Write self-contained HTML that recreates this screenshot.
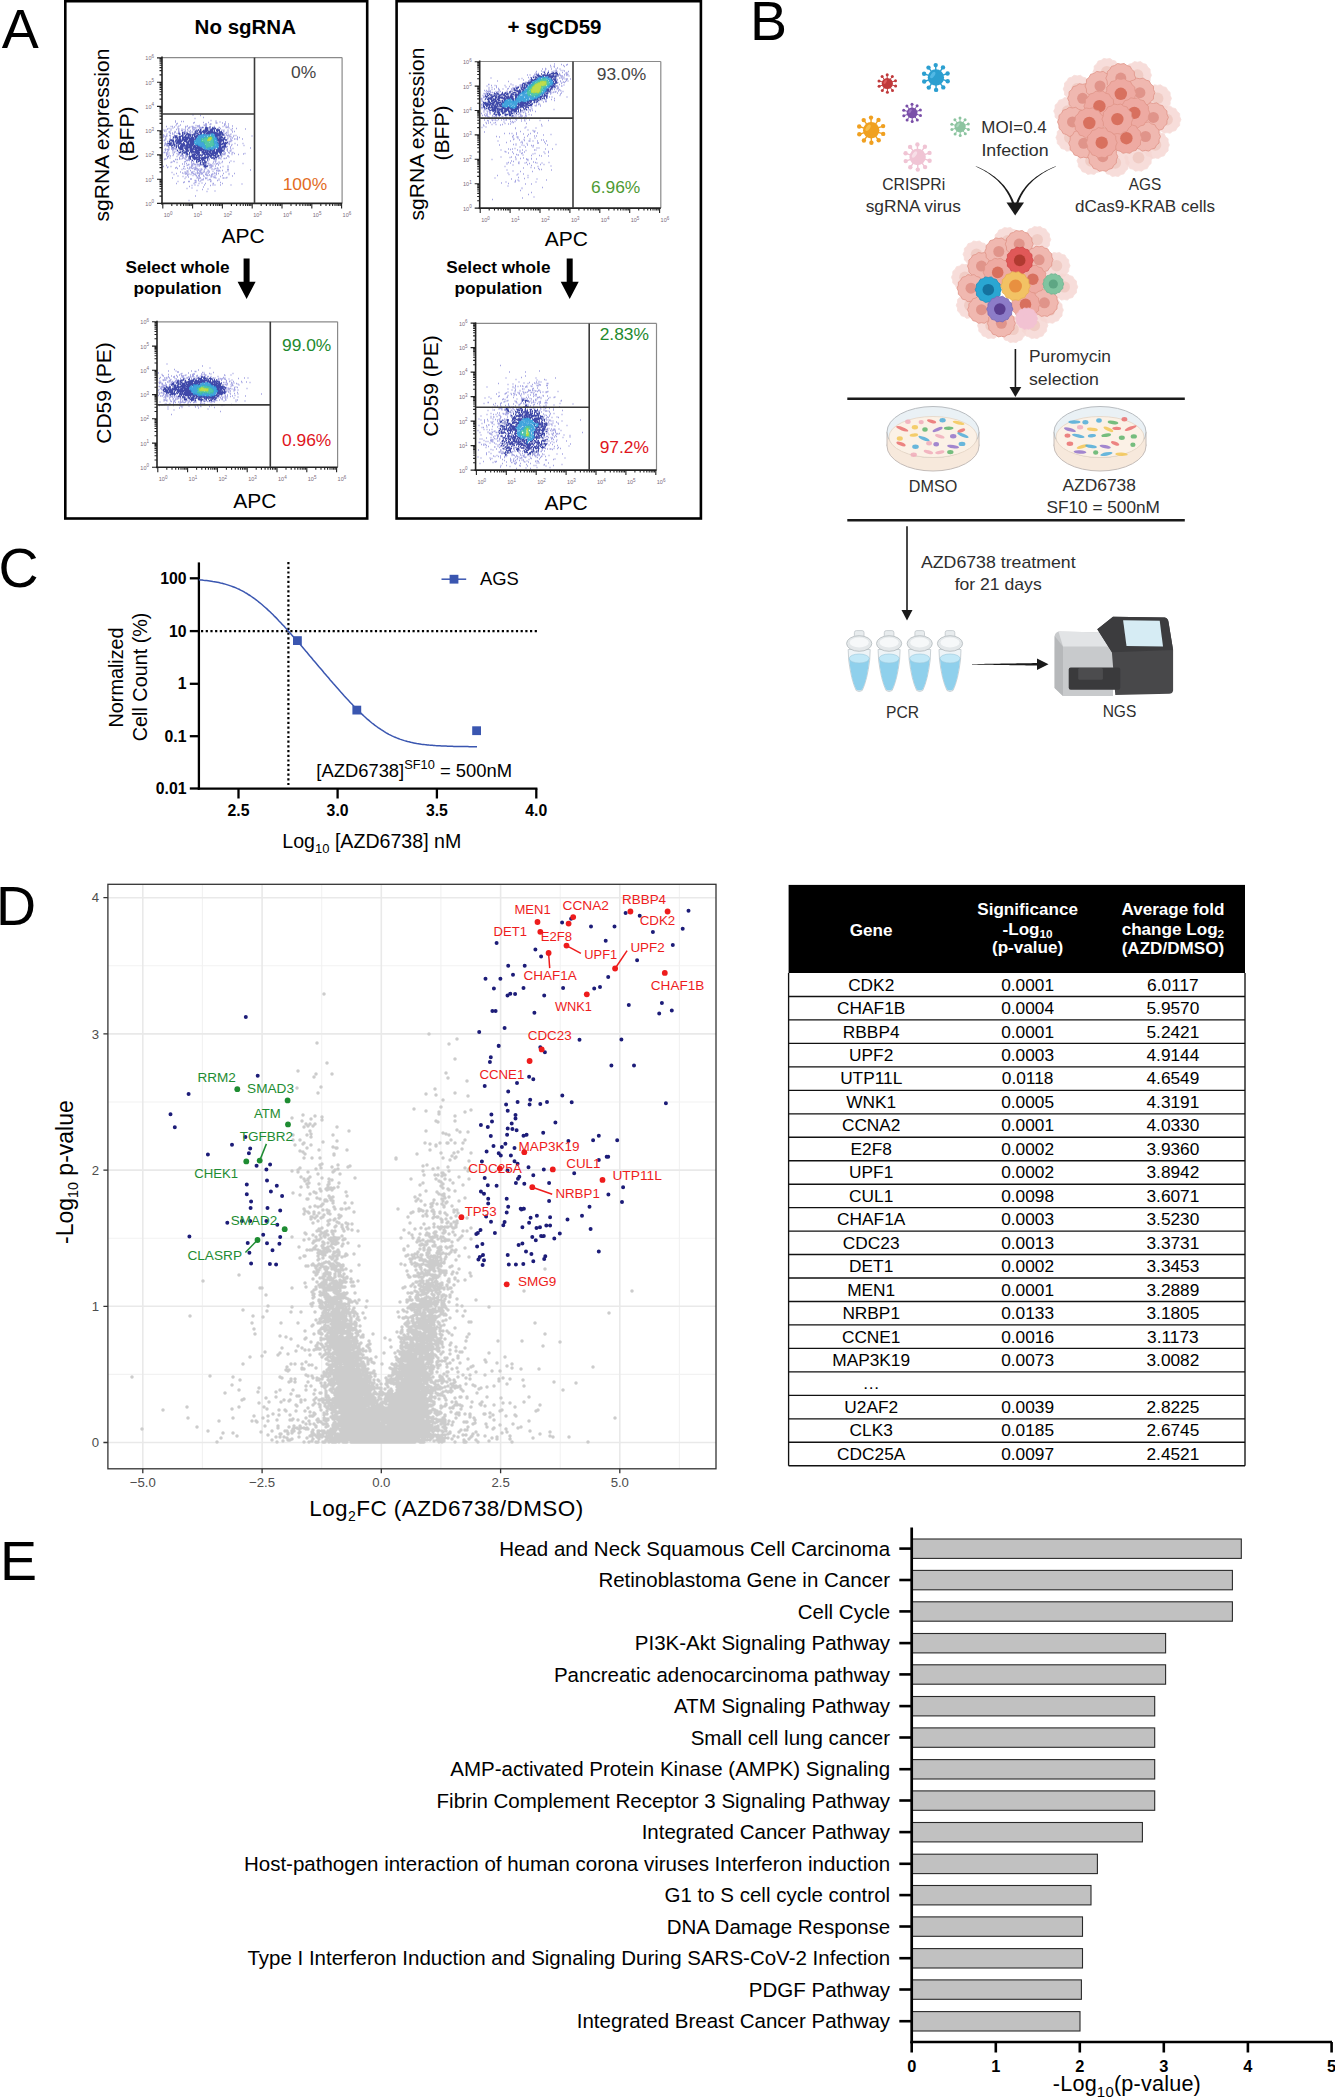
<!DOCTYPE html>
<html><head><meta charset="utf-8"><style>
html,body{margin:0;padding:0;background:#fff;}
svg{display:block;}
text{font-family:"Liberation Sans",sans-serif;}
</style></head><body>
<svg width="1335" height="2100" viewBox="0 0 1335 2100" font-family="Liberation Sans, sans-serif">
<rect width="1335" height="2100" fill="#fff"/>
<text x="1.8" y="47.9" font-size="55.5" text-anchor="start" fill="#000" >A</text>
<rect x="65.3" y="1.2" width="301.9" height="517.3" fill="none" stroke="#000" stroke-width="2.6" />
<rect x="396.6" y="1.2" width="304.3" height="517.3" fill="none" stroke="#000" stroke-width="2.6" />
<text x="245.3" y="34.2" font-size="20.5" text-anchor="middle" fill="#000" font-weight="bold" >No sgRNA</text>
<text x="554.5" y="34.2" font-size="20.5" text-anchor="middle" fill="#000" font-weight="bold" >+ sgCD59</text>
<path d="M215 128.5h1M230 139h1M229.5 135h1M214 126.5h1M210 124h1M222 123h1M227 139h1M218.5 127.5h1M224.5 158.5h1M234 139h1M224 124h1M210.5 120.5h1M225.5 126h1M229 144.5h1M237 139.5h1M227.5 138.5h1M229 141.5h1M228 135h1M227.5 144h1M209 127h1M189 131.5h1M239 137.5h1M218.5 158.5h1M215.5 121h1M227 135.5h1M219.5 158h1M225.5 133.5h1M230 141.5h1M224.5 133.5h1M209.5 124.5h1M195.5 127.5h1M229 143.5h1M216.5 123h1M226.5 127.5h1M205 124h1M230 147h1M227.5 137.5h1M227 149h1M203 122.5h1M234 131.5h1M230.5 141.5h1M201.5 127.5h1M216.5 163.5h1M199 128h1M226 135h1M231.5 140.5h1M223.5 153h1M228 124h1M220 128.5h1M219.5 122h1M227 146.5h1M228 152.5h1M197.5 127h1M228 156h1M214.5 161h1M227.5 133h1M230.5 149.5h1M226.5 141.5h1M235.5 135.5h1M227.5 130h1M226 132.5h1M227.5 132.5h1M215.5 123h1M216 159h1M206 124h1M206 125.5h1M226.5 141h1M222.5 132.5h1M202 127.5h1M225 124h1M210 126.5h1M187.5 131h1M226.5 150h1M245 129h1M209 159h1M227 150.5h1M231 140h1M230 141h1M179 166h1M182 156.5h1M233 136.5h1M163.5 140.5h1M219 170.5h1M243 154h1M165.5 130h1M169.5 135.5h1M174.5 149.5h1M166 144h1M168.5 153h1M228.5 143h1M193.5 163.5h1M217 163.5h1M173 154.5h1M234 173.5h1M176 124h1M173.5 148h1M178.5 126h1M166 154h1M169 135.5h1M229 136h1M232 138h1M230.5 129.5h1M177.5 127h1M164.5 136.5h1M230.5 136.5h1M174 127h1M172 150h1M199.5 128.5h1M194.5 118.5h1M182.5 156h1M224.5 153.5h1M184 132h1M167 144h1M167.5 151h1M167 167.5h1M168.5 148.5h1M168.5 128.5h1M175 122h1M167 156.5h1M183 121.5h1M190.5 168h1M250 148h1M197.5 166h1M232.5 148.5h1M223 131h1M197.5 129.5h1M231 145.5h1M193 123h1M165.5 137h1M169.5 138.5h1M195.5 125.5h1M172.5 152h1M195 174.5h1M169.5 131.5h1M171.5 148.5h1M228 126h1M164 159.5h1M228.5 141.5h1M251.5 136h1M193.5 129.5h1M176.5 150h1M166.5 134h1M194 122.5h1M199 127h1M166 153h1M194.5 128h1M219 157.5h1M228.5 128h1M164.5 140h1M176.5 156.5h1M172.5 128h1M192.5 126.5h1M185 130h1M167 141.5h1M192.5 129h1M178.5 129h1M187 126h1M173.5 136.5h1M231.5 138h1M168.5 147h1M188.5 164.5h1M242 139h1M232 128.5h1M175 132h1M229.5 137h1M180 156h1M164.5 140.5h1M167 154h1M185 126.5h1M171.5 172.5h1M173 161h1M231.5 144.5h1M186 157.5h1M233.5 135.5h1M166 165.5h1M168.5 155.5h1M200 115.5h1M195.5 165h1M198 126h1M172 134h1M164 131h1M226 147.5h1M165 138.5h1M181.5 155.5h1M244.5 153.5h1M170 156h1M172 133.5h1M192 128.5h1M175.5 147.5h1M175.5 149h1M185 132h1M227.5 131.5h1M221.5 130h1M178 151.5h1M225.5 127.5h1M205 125.5h1M179 153.5h1M172 126.5h1M176 129.5h1M232 126h1M203 117.5h1M165 144h1M164.5 149.5h1M163.5 152.5h1M175 159.5h1M185 157h1M187.5 130.5h1M176.5 162.5h1M222.5 126.5h1M192.5 127.5h1M163 137h1M169.5 158h1M184 131.5h1M182.5 157.5h1M173.5 134h1M179 159h1M177.5 128.5h1M166 155.5h1M191 161h1M167 158h1M172 133h1M163 135h1M177.5 128h1M170.5 129h1M168.5 147.5h1M201 128h1M210.5 124h1M225 122h1M164.5 139.5h1M178 152.5h1M177 123.5h1M168.5 132h1M181 121.5h1M223.5 130h1M178.5 154h1M168 147h1M185 156h1M224 125.5h1M165.5 139h1M213.5 159.5h1M179 132.5h1M212.5 166h1M192 128h1M164 145.5h1M183 155.5h1M228.5 157h1M186 163.5h1M230 148h1M169 140h1M238 154.5h1M227.5 135.5h1M163.5 130h1M192.5 163.5h1M207.5 161.5h1M189 127.5h1M227 156h1M174.5 151.5h1M170 133.5h1M172 148h1M195 128h1M167.5 167h1M234 153.5h1M172 149h1M221.5 162.5h1M187 129.5h1M219 127.5h1M182.5 132.5h1M178.5 131h1M172.5 153h1M167 129h1M170.5 130h1M237 138h1M186.5 160h1M224.5 136h1M178 130h1M165.5 131.5h1M175.5 125.5h1M192 132h1M165 143h1M165 159h1M229.5 151h1M167 143.5h1M188 160h1M172.5 155.5h1M178.5 154.5h1M230.5 151h1M166.5 146h1M176.5 151h1M190.5 132h1M167.5 149.5h1M178 154.5h1M223.5 152h1M199 125.5h1M165 143.5h1M174 135.5h1M191 160h1M192.5 130.5h1M166 126.5h1M182 130.5h1M217.5 168.5h1M176.5 133.5h1M176.5 153.5h1M172.5 151h1M188.5 128.5h1M170 138h1M170.5 126.5h1M173 148.5h1M178.5 132.5h1M174.5 131.5h1M167 152h1M168.5 149.5h1M198 164.5h1M168 146.5h1M229 153h1M189.5 127h1M174 152.5h1M177.5 155h1M175 121h1M171 149h1M188 128h1M181 130.5h1M179 133.5h1M191.5 126.5h1M182 155.5h1M227 151h1M223.5 131.5h1M224 154.5h1M237 137h1M215.5 122.5h1M184.5 159h1M230.5 134h1M196 129.5h1M164.5 159h1M237 145h1M192 168.5h1M178 133h1M165.5 159h1M234.5 143.5h1M171 147.5h1M166.5 149.5h1M193.5 127.5h1M213 159.5h1M223 154.5h1M186.5 126.5h1M235.5 139h1M191 165h1M242.5 163.5h1M174.5 148.5h1M165 150.5h1M185.5 172.5h1M164.5 145h1M200 127.5h1M231.5 153h1M164.5 143.5h1M166 135.5h1M185 159h1M180.5 155.5h1M163 166.5h1M164.5 152.5h1M174 161.5h1M236 128.5h1M197 126h1M215.5 161h1M231.5 130.5h1M232.5 152.5h1M168 150h1M168 156.5h1M181.5 156h1M172.5 137h1M192.5 115h1M177 159.5h1M212.5 163.5h1M243.5 145.5h1M188.5 159h1M194 169.5h1M231.5 154.5h1M181.5 129h1M227.5 136h1M180 125h1M178 152h1M208 122.5h1M190 130.5h1M182 158.5h1M225 153h1M203.5 125h1M178 133.5h1M166.5 136h1M165 149h1M189.5 132.5h1M232 132h1M170 136h1M169.5 133h1M174 132.5h1M168.5 141.5h1M168.5 155h1M179 157.5h1M181.5 169.5h1M194 129.5h1M173 149.5h1M204.5 125.5h1M227.5 127h1M242.5 143.5h1M183.5 158h1M166 145h1M185 130.5h1M163.5 135.5h1M183.5 129.5h1M187 160.5h1M185 128h1M215.5 159.5h1M178 131.5h1M173.5 174.5h1M199.5 169h1M193.5 183.5h1M202.5 172.5h1M210.5 177h1M216 174.5h1M206.5 174h1M206.5 191.5h1M207.5 171h1M204 169.5h1M191 168h1M192 172h1M211.5 175h1M204 185h1M222.5 166.5h1M195 167.5h1M197 177.5h1M195.5 167h1M184 162h1M182.5 176.5h1M203.5 172h1M211.5 169.5h1M197.5 165.5h1M203 175.5h1M192.5 164.5h1M214.5 164h1M199 164.5h1M193.5 174h1M211 176.5h1M193.5 171.5h1M199 173.5h1M199 171h1M192.5 168.5h1M208.5 164h1M195.5 168.5h1M206 175h1M184.5 169h1M194.5 182.5h1M218.5 180h1M196.5 190.5h1M193 173.5h1M212.5 176.5h1M197.5 177h1M225.5 178h1M204.5 168.5h1M200 171.5h1M202.5 180h1M199 175h1M218 164.5h1M176 183.5h1M201.5 169.5h1M220 185h1M209.5 168h1M226.5 177.5h1M233.5 161.5h1M185 161.5h1M223.5 178h1M187.5 165h1M186.5 188.5h1M205.5 168h1M198 179h1M214.5 168.5h1M193.5 167.5h1M186.5 173.5h1M186 160.5h1M250 170h1M195.5 180.5h1M210.5 166.5h1M218 165h1M208.5 160h1M189.5 167h1M205 168h1M191 165.5h1M210 164.5h1M177.5 181.5h1M200.5 173h1M224.5 154.5h1M180.5 159h1M230.5 185h1M170.5 166.5h1M220 167.5h1M180 172h1M195 164.5h1M191.5 173h1M212.5 171.5h1M209.5 167.5h1M195.5 181h1M192 166h1M201.5 165h1M199.5 163.5h1M189 168h1M208 163.5h1M198 169.5h1M182 173h1M214.5 191h1M191 161.5h1M200 165h1M194.5 174.5h1M184 164h1M214 173h1M176.5 159.5h1M194 164.5h1M212 174h1M189 181.5h1M202 173.5h1M209 172h1M197 169h1M214.5 173.5h1M188 159.5h1M205.5 173h1M206 162h1M218.5 162.5h1M195 167h1M186.5 165.5h1M185.5 177h1M190 179h1M200.5 174h1M210.5 181h1M210 181.5h1M211 167h1M209 179.5h1M185.5 174h1M204 171.5h1M218.5 179h1M182 164h1M200 172.5h1M229 162.5h1M228 169.5h1M216 170.5h1M194.5 185h1M196 168.5h1M171.5 162h1M220 182.5h1M214.5 185h1M195 196h1M205 178h1M218 158.5h1M207.5 175.5h1M210.5 181.5h1M198 173h1M199.5 178h1M195 169.5h1M203.5 171h1M176 167.5h1M201 173h1M216 164h1M191 179h1M195.5 175.5h1M202 189.5h1M192.5 165h1M206.5 172h1M198.5 164.5h1M191 172.5h1M215 162h1M183.5 173.5h1M188.5 200.5h1M208.5 165.5h1M192 173h1M196 175.5h1M227.5 171h1M215 166h1M191 167h1M206.5 175.5h1M210 185.5h1M192.5 175.5h1M214.5 159h1M206.5 178h1M201.5 183h1M210.5 180.5h1M194.5 130h1M188.5 169h1M188 177h1M227 169.5h1M189 160.5h1M203.5 176.5h1M170.5 162.5h1M201 169h1M177.5 176h1M196.5 163h1M212.5 185h1M210 165.5h1M217 168h1M217.5 170h1M207.5 170h1M207.5 189h1M213 162h1M211.5 166h1M223.5 158.5h1M210 179.5h1M197 171h1M198 170h1M191.5 188h1M205.5 168.5h1M194.5 168.5h1M220.5 159h1M183.5 166.5h1M190.5 174.5h1M230.5 161h1M222 175.5h1M195.5 182.5h1M215.5 178h1M212.5 183.5h1M196 176h1M208.5 163.5h1M184 182h1M187.5 175h1M203 187h1M208 173h1M207.5 163.5h1M200.5 172h1M196.5 163.5h1M195.5 173h1M197.5 185.5h1M196.5 170.5h1M205 178.5h1M194.5 180.5h1M184 166.5h1M211 165h1M183 168.5h1M191.5 172h1M205.5 178.5h1M226 158h1M187 175h1M222 170.5h1M199 176.5h1M176 173.5h1M199.5 165h1M210.5 167h1M190 170.5h1M184.5 172h1M187 171h1M205 174.5h1M222 183.5h1M197 164.5h1M212.5 164h1M188 181.5h1M200 178h1M199 166h1M209 175h1M187.5 172.5h1M197 173.5h1M220 176.5h1M200 170.5h1M221.5 156h1M203 179h1M197 172.5h1M216 173h1M213.5 169.5h1M227.5 166h1M227.5 167.5h1M185 174h1M228.5 174.5h1M191 163h1M198 180.5h1M198 175.5h1M215.5 168.5h1M221 157h1M209.5 165.5h1M218 173.5h1M212.5 174h1M184.5 178.5h1M172 178h1M198.5 178.5h1M196.5 178h1M199.5 171h1M177 168.5h1M195.5 169h1M187.5 171h1M187 175.5h1M218 171h1M213.5 177.5h1M192 164.5h1M187 168h1M208.5 171h1M183 182.5h1M205 183.5h1M201.5 179.5h1M232 176h1M225.5 172h1M199.5 172h1M228.5 173.5h1M191.5 185.5h1M196.5 168.5h1M222.5 178h1M219.5 171h1M211.5 168.5h1M198 180h1M211 174.5h1M216.5 171h1M193 161.5h1M214.5 176.5h1M175 168h1M199.5 181.5h1M214.5 177.5h1M219.5 163.5h1M186.5 171h1M201.5 174h1M207.5 180h1M210.5 176h1M198.5 183.5h1M241.5 184h1M189 186.5h1M200.5 180.5h1M222 161.5h1M213 183.5h1M218.5 162h1M201 170h1M217 180.5h1M223 173.5h1M188 164.5h1M214.5 175.5h1M188.5 174h1" stroke="#6a6ad0" stroke-width="1.3" stroke-opacity="0.6" fill="none"/>
<path d="M214 133h1M218.5 145h1M199.5 147h1M219 149h1M216 130h1M211.5 131.5h1M216 153.5h1M209.5 132.5h1M211.5 131h1M204 131.5h1M222.5 148h1M220 132h1M186.5 138h1M194 154h1M207 150.5h1M217 135.5h1M217 130.5h1M212 128h1M210.5 131h1M219 140.5h1M217.5 143.5h1M219 145.5h1M219 141h1M211 154h1M200 134h1M207 132.5h1M218 135h1M222 133h1M203.5 132h1M218 134h1M219 147.5h1M210 157h1M218 135.5h1M196.5 147h1M219 148.5h1M217 147.5h1M215 134h1M215 156.5h1M220.5 138.5h1M190.5 138.5h1M219 147h1M214.5 133h1M203 153h1M197.5 132.5h1M209.5 131h1M211 129.5h1M217 133.5h1M189 140.5h1M216 135.5h1M207.5 155h1M208 151h1M202.5 131.5h1M215 132.5h1M218.5 132.5h1M205.5 134h1M192 142.5h1M219 130.5h1M205.5 130h1M217.5 150.5h1M217 154h1M212.5 131h1M218.5 145.5h1M216.5 152h1M223 142h1M212.5 133h1M219 150.5h1M204 153.5h1M222 135h1M219.5 140h1M186.5 144h1M211.5 129h1M221 140h1M205 151.5h1M199.5 150h1M215.5 155.5h1M206 150h1M214 133.5h1M193 141.5h1M198.5 150.5h1M218 139.5h1M204.5 129.5h1M209.5 134h1M208 153.5h1M213 129h1M204.5 130h1M217 156h1M207 128.5h1M215 135.5h1M195 131.5h1M199 155h1M210.5 150h1M205.5 129.5h1M214 151.5h1M219 135h1M195 139h1M216.5 149.5h1M207 128h1M215 133h1M213 155h1M220 142.5h1M218 145.5h1M212 152h1M204 132.5h1M217 129.5h1M204.5 131h1M212 133h1M224 139h1M219.5 137h1M224 138h1M207.5 132.5h1M210.5 154h1M196 133h1M223.5 143.5h1M207.5 151.5h1M221 152.5h1M211 133h1M199 131.5h1M216.5 129.5h1M190.5 152.5h1M213.5 134h1M201 133h1M206 127.5h1M219 131.5h1M196 136h1M214.5 149.5h1M219 138.5h1M218.5 155.5h1M216 154h1M206.5 151.5h1M220 140h1M210.5 133h1M221.5 144.5h1M217.5 140h1M200 147h1M215 137h1M217.5 149h1M223 140.5h1M199 158.5h1M200 129.5h1M220 149.5h1M212 153h1M211 132h1M220 145h1M203 131h1M221.5 146.5h1M217 142.5h1M210 153h1M213 151.5h1M203 149.5h1M216 139h1M219.5 153h1M221.5 141h1M190.5 148h1M218 151h1M200 149.5h1M200.5 131h1M220.5 155.5h1M219 144.5h1M220 144.5h1M224.5 137.5h1M212.5 132h1M216.5 134h1M211.5 149.5h1M201 149.5h1M206 153h1M221 137.5h1M223.5 142.5h1M219 140h1M207 130.5h1M219 138h1M219 130h1M209.5 152.5h1M223 141.5h1M211.5 157.5h1M225.5 146.5h1M217.5 137.5h1M215 157.5h1M216.5 131h1M205 128h1M220 137h1M220 150h1M222.5 149h1M210 130h1M203.5 150.5h1M212.5 127.5h1M221 132.5h1M207.5 134h1M216 130.5h1M192 139h1M213 154.5h1M198.5 159.5h1M200 148.5h1M221 132h1M217 140.5h1M205.5 150h1M218.5 140h1M219.5 138h1M216 136h1M196.5 133.5h1M225 145h1M193 146.5h1M199.5 132.5h1M206 133.5h1M216.5 132.5h1M200 131.5h1M222 133.5h1M220 138.5h1M218 148h1M221 136.5h1M201 132.5h1M222 151h1M206 129h1M197.5 146h1M218 156h1M219 134.5h1M220.5 135h1M219.5 144h1M209.5 127.5h1M211.5 133.5h1M193.5 138h1M194.5 134h1M214 131h1M217 130h1M219.5 140.5h1M218.5 140.5h1M186.5 145h1M183.5 133.5h1M208 132h1M198 134.5h1M222.5 143.5h1M214.5 135h1M197 144.5h1M217.5 150h1M214 150.5h1M198.5 155.5h1M198.5 146h1M219 146.5h1M217.5 148h1M215 152.5h1M218 141h1M209 134.5h1M194 136.5h1M207 152.5h1M219.5 149h1M217 152.5h1M216.5 150.5h1M221 150h1M220.5 140.5h1M207.5 150.5h1M206 131.5h1M198 150h1M206.5 150h1M220 137.5h1M191.5 148.5h1M209 151.5h1M192 137h1M212.5 131.5h1M192 160.5h1M221.5 134h1M191.5 141.5h1M198 151h1M219 132h1M203 132.5h1M217 131.5h1M224.5 145h1M224 144.5h1M218.5 149.5h1M186.5 133.5h1M220.5 138h1M220 133.5h1M208 131.5h1M179 136.5h1M193 138.5h1M190 143h1M201 134h1M226 143.5h1M225 142.5h1M213.5 128.5h1M200.5 134.5h1M211 156h1M216 137h1M219.5 136h1M220.5 133h1M204 149.5h1M220 147.5h1M219.5 147h1M211 155.5h1M213.5 149h1M195.5 138h1M209.5 132h1M219.5 150h1M216 134h1M221.5 143.5h1M199.5 150.5h1M207.5 158.5h1M222 137.5h1M214 130h1M205.5 132h1M207.5 130h1M218 143h1M226 140h1M195 133h1M219.5 135h1M197.5 145.5h1M210.5 151h1M191 139h1M208.5 134h1M191.5 143h1M205 155h1M220 146h1M210 149.5h1M223.5 147h1M227 142.5h1M200.5 129.5h1M222.5 134h1M204.5 132.5h1M195 137h1M219 152.5h1M214 158.5h1M201.5 147.5h1M216 151h1M210.5 132h1M214 128h1M202.5 127.5h1M209 149.5h1M210 150.5h1M218.5 152h1M216 150h1M196.5 136.5h1M208.5 132.5h1M222.5 146.5h1M216.5 154h1M222.5 135h1M221.5 137h1M197.5 136h1M191.5 134.5h1M217 136h1M222 144h1M225 140h1M216 153h1M215.5 133h1M205 131.5h1M224 149h1M224.5 146h1M223.5 139h1M199.5 155.5h1M202 151.5h1M213 150.5h1M203.5 151.5h1M223.5 135h1M199 149.5h1M209.5 151h1M222.5 139.5h1M218.5 150.5h1M208 133.5h1M206.5 134h1M191.5 145h1M195 159h1M193.5 133.5h1M219.5 134.5h1M187 139.5h1M190 142h1M191.5 154h1M180 139.5h1M182.5 144h1M212 129.5h1M218.5 143h1M209 155.5h1M173.5 142h1M187 150.5h1M187 134h1M220 139h1M187.5 154.5h1M185.5 151h1M192 145.5h1M198 149h1M181 136h1M190.5 152h1M193 158h1M189 138h1M188.5 139h1M192 154.5h1M197 135.5h1M198.5 149.5h1M198.5 148.5h1M179.5 147h1M203.5 157.5h1M179 137h1M198.5 161h1M204 163h1M209.5 153.5h1M193.5 149h1M197.5 133h1M198 146.5h1M195 150.5h1M187 147h1M193.5 158.5h1M204.5 158.5h1M186 134.5h1M184 139.5h1M186 150h1M190 135h1M180 147.5h1M188.5 145h1M173.5 143.5h1M217 148.5h1M173 144h1M205.5 154.5h1M221 148h1M180 148.5h1M187 150h1M186.5 146h1M201.5 152h1M186.5 140h1M218.5 138.5h1M184.5 152.5h1M188.5 147.5h1M193.5 156.5h1M219.5 141h1M204.5 167h1M209.5 133.5h1M191.5 147h1M184 144h1M193.5 134.5h1M191 141h1M176 147.5h1M192.5 152h1M174 146h1M192.5 135h1M181.5 144h1M190 142.5h1M189 141h1M186.5 150.5h1M177 141h1M185.5 141h1M182.5 148h1M188 134h1M218 130h1M196.5 137h1M216.5 151.5h1M203.5 153h1M201 158h1M191 144.5h1M185.5 145.5h1M198.5 146.5h1M186.5 152h1M181.5 148h1M224.5 144h1M182 145h1M189 145h1M176 137.5h1M201.5 155.5h1M190 136h1M176.5 136h1M192 141.5h1M199 160h1M191 138.5h1M218.5 135.5h1M184 137h1M193 144.5h1M187.5 134.5h1M197.5 152h1M220.5 150.5h1M207.5 157.5h1M182 135h1M215 153h1M187 153.5h1M206.5 157h1M187 149h1M169 141.5h1M187.5 135.5h1M187.5 142h1M188 136h1M194 159h1M195 152.5h1M182 136h1M212 151h1M190.5 141h1M186 141h1M206.5 129.5h1M183 143.5h1M194.5 149.5h1M182 140.5h1M182 145.5h1M190 145.5h1M178.5 140.5h1M182.5 150h1M196.5 148.5h1M205 157h1M185.5 145h1M224 137.5h1M191.5 151h1M196 153.5h1M198 130h1M179 140.5h1M172.5 142h1M222.5 150.5h1M215.5 134h1M182.5 148.5h1M170 143.5h1M178 140h1M212 154.5h1M190 146.5h1M176.5 144.5h1M186 146.5h1M173 137.5h1M178.5 137h1M167.5 145.5h1M191 156h1M179 143h1M181.5 147.5h1M181 141h1M196.5 151.5h1M190 141h1M197 154.5h1M178.5 142h1M179.5 148.5h1M217 139h1M191 152.5h1M183.5 152.5h1M200.5 131.5h1M175.5 136.5h1M190 145h1M197 131h1M196 159h1M176 140h1M176 143.5h1M179.5 137h1M189.5 139h1M187.5 147h1M196 138h1M200.5 150h1M182 144h1M196.5 153h1M196.5 149.5h1M174.5 144.5h1M171.5 144h1M222 140.5h1M196.5 145.5h1M184.5 148h1M205.5 162h1M190.5 142.5h1M176.5 136.5h1M184.5 138h1M224.5 143.5h1M223.5 146.5h1M179 139.5h1M208 134h1M194 157h1M190.5 151h1M210.5 153.5h1M220.5 142h1M206 152h1M176.5 146h1M180.5 142.5h1M185 152h1M186.5 137.5h1M191.5 144h1M173.5 145.5h1M182.5 140h1M171 140.5h1M194.5 152h1M201 159.5h1M180.5 143h1M194 135.5h1M187 154h1M191.5 138h1M222.5 138h1M185.5 148h1M187 146h1M188 147.5h1M198 159h1M193 143h1M218 134.5h1M175.5 139.5h1M217.5 157h1M217 134.5h1M215.5 137.5h1M217.5 129h1M214.5 153.5h1M219 133.5h1M218 130.5h1M210.5 132.5h1M183.5 143.5h1M190.5 146h1M191.5 153h1M194.5 157.5h1M194.5 140h1M191.5 150h1M183 142.5h1M190.5 147h1M186 142.5h1M180.5 144.5h1M186.5 149.5h1M197.5 150.5h1M177.5 142h1M223 139h1M186.5 138.5h1M195.5 158h1M212 154h1M203.5 159h1M188.5 141.5h1M207 166h1M190.5 144h1M215.5 156.5h1M185 139.5h1M190.5 148.5h1M190 149.5h1M183.5 151h1M184 137.5h1M192.5 137.5h1M181.5 154h1M180.5 141h1M181 145h1M225 144h1M200.5 149.5h1M183.5 139.5h1M198.5 151h1M180 149.5h1M204 134h1M207.5 131h1M170 140h1M169 145h1M224.5 147.5h1M192 157h1M188.5 143.5h1M171.5 140.5h1M215.5 153.5h1M201.5 152.5h1M173.5 142.5h1M212.5 151.5h1M211.5 153.5h1M196 158.5h1M190 140.5h1M205 131h1M216 152h1M183.5 132.5h1M182 154h1M172 140.5h1M190.5 149.5h1M173 142.5h1M199 150h1M202.5 153h1M182.5 137.5h1M199 132h1M197 154h1M189.5 146h1M173 140.5h1M180.5 145h1M214 155.5h1M186 151.5h1M208 133h1M189.5 146.5h1M186.5 143h1M201 156h1M195 148h1M198.5 158h1M217.5 151.5h1M185 135.5h1M174.5 136h1M180 139h1M178.5 141.5h1M189 156h1M184.5 139h1M200 133h1M206.5 154h1M180.5 152h1M188.5 137h1M210 156.5h1M215.5 134.5h1M205.5 163h1M178.5 148.5h1M216 138.5h1M213.5 153h1M186 139.5h1M219.5 142.5h1M197 153.5h1M186.5 156h1M196 136.5h1M207 160h1M189.5 148.5h1M178.5 138.5h1M208 157h1M205.5 128h1M199 156.5h1M214.5 155.5h1M199 153h1M170.5 141h1M218.5 136h1M193.5 151.5h1M223.5 145h1M195 146h1M190 151.5h1M188.5 142.5h1M216.5 138h1M192 152h1M188.5 146h1M197 157.5h1M206.5 130.5h1M213 153h1M184.5 133.5h1M218 143.5h1M187.5 138h1M220 154.5h1M197.5 134h1M219 142h1M200 134.5h1M188 135.5h1M197 147.5h1M177.5 141h1M194.5 155h1M201 150.5h1M224.5 139.5h1M193.5 146h1M203.5 165h1M183 145h1M192 135h1M169.5 143h1M193.5 153h1M192.5 138.5h1M193.5 153.5h1M185 141.5h1M207.5 152.5h1M181.5 146.5h1M188 141h1M193 154.5h1M203 134.5h1M182.5 153h1M190.5 145h1M189 135h1M193.5 139h1M185.5 135.5h1M191.5 153.5h1M199.5 133h1M215 156h1M201.5 159h1M181 141.5h1M189.5 148h1M181 149h1M208.5 131.5h1M193.5 143.5h1M189 144.5h1M202 161h1M195.5 148.5h1M183.5 134.5h1M191.5 137.5h1M195.5 151.5h1M182.5 146h1M219.5 151.5h1M179 141.5h1M187 151h1M200 147.5h1M184 141h1M193 147.5h1M177 139h1M224.5 147h1M191 152h1M179.5 142.5h1M186.5 151.5h1M203 158.5h1M202 149h1M196.5 150.5h1M188 137h1M197.5 159h1M192 144.5h1M204 166.5h1M179.5 141h1M195 136.5h1M204.5 150h1M192.5 149h1M188 142h1M194.5 147.5h1M181 147.5h1M179 152.5h1M177 143h1M199.5 149h1M191 147h1M183 145.5h1M199.5 130.5h1M187.5 136.5h1M193 148.5h1M179.5 134.5h1M191.5 135h1M202.5 163h1M196 153h1M206 153.5h1M169.5 145h1M172 145.5h1M191.5 142.5h1M182.5 136.5h1M214.5 149h1M178 141.5h1M210 152h1M221 150.5h1M211 153.5h1M179 144h1M220 144h1M179.5 149h1M184.5 140h1M220.5 150h1M183.5 140h1M182 134.5h1M172.5 139h1M181.5 149.5h1M186.5 151h1M189 146h1M192 136h1M179.5 143.5h1M195 138.5h1M193 139.5h1M192 142h1M193 155.5h1M206.5 130h1M185 139h1M220.5 152.5h1M183.5 146h1M194.5 139.5h1M193 142.5h1M183 139h1M196 131h1M187.5 144h1M175 141h1M196 161h1M208.5 154.5h1M201 147h1M206 131h1M180 152.5h1M202.5 150.5h1M223.5 151h1M194 159.5h1M181 144h1M178 145h1M173.5 145h1M216 151.5h1M187 142h1M209 152.5h1M174.5 137.5h1M190.5 137.5h1M193 149h1M180 142h1M221 149h1M204.5 160.5h1M207 155h1M179.5 138h1M177 150.5h1M206 154.5h1M178 143h1M195 150h1M213 155.5h1M173.5 144h1M186 148h1M187.5 137.5h1M194 146.5h1M190 156.5h1M179.5 134h1M189 134.5h1M176 136h1M221.5 150.5h1M203 157.5h1M184 144.5h1M204.5 158h1M220 148h1M220 146.5h1M176.5 141h1M203 152.5h1M215 128.5h1M195 147h1M182.5 135.5h1M185.5 140.5h1M182 132.5h1M198.5 147h1M175.5 138.5h1M170.5 145h1M192 141h1M191.5 137h1M192 143.5h1M186.5 153h1M183 150.5h1M186.5 132.5h1M186.5 148.5h1M178.5 133.5h1M175.5 142h1M194 147.5h1M225 146.5h1M184 153h1M191 139.5h1M182 138.5h1M197.5 157h1M194.5 132h1M189.5 136h1M172.5 147.5h1M207.5 128h1M182.5 146.5h1M192.5 139h1M181 149.5h1M214.5 152h1M182.5 144.5h1M179.5 150h1M175.5 146h1M177.5 140h1M195.5 135h1M197 136h1M226 143h1M185.5 149h1M172.5 139.5h1M180 146h1M185.5 138.5h1M170 143h1M219 142.5h1M185 137h1M203 130.5h1M205.5 127h1M205 151h1M196 152.5h1M203 154h1M182 137.5h1M187.5 149.5h1M180 137h1M221 139.5h1M205 152h1M184 148h1M180 152h1M179 134h1M185.5 150h1M201.5 132.5h1M189 156.5h1M186.5 147.5h1M191.5 146.5h1M204 157h1M212.5 155h1M178.5 148h1M188 136.5h1M191.5 149h1M186.5 154.5h1M181.5 139.5h1M203.5 131h1M177 138h1M218.5 135h1M202 131.5h1M203 132h1M212 132.5h1M182.5 150.5h1M185.5 137h1M207 154.5h1M189 152.5h1M193 152h1M205 128.5h1M196.5 160h1M177 141.5h1M212 128.5h1M178.5 143.5h1M189.5 138.5h1M193 140.5h1M175.5 138h1M201 148h1M188.5 158h1M196.5 148h1M187.5 148.5h1M195.5 145h1M183.5 144h1M220 153h1M183.5 137.5h1M200 155h1M198 154.5h1M197.5 135h1M187.5 142.5h1M221 151.5h1M196.5 136h1M171 143h1M195.5 137h1M168 143.5h1M175 136h1M195.5 131h1M185.5 153h1M220 142h1M196 149.5h1M171 146h1M193.5 141.5h1M175.5 142.5h1M192 140h1M202 152.5h1M167.5 143.5h1M193 157.5h1M192 143h1M190.5 140h1M199 135h1M170 144h1M189.5 144.5h1M172 141h1M189.5 150h1M221 131.5h1M190 158h1M181.5 147h1M181.5 141h1M187 148.5h1M192.5 150.5h1M186 152h1M199.5 147.5h1M171 140h1M197.5 148.5h1M187.5 143.5h1M201.5 162h1M188.5 144.5h1M200 133.5h1M210.5 152h1M169 143.5h1M192 155.5h1M194 155h1M175 137h1M178 146.5h1M187 133.5h1M176.5 145h1M185.5 146.5h1M191 145.5h1M196 155.5h1M188 138h1M214 132.5h1M187 147.5h1M179.5 139h1M207 129h1M195.5 152.5h1M207.5 156.5h1M194 145.5h1M184.5 146h1M189 157h1M180 136.5h1M223 143h1M213.5 153.5h1M176.5 143h1M185.5 149.5h1M196 162h1M213.5 157h1M215 154h1M196 151.5h1M207 154h1M198 161.5h1M202 157.5h1M196.5 161.5h1M198 155h1M202 155h1M211.5 154h1M204.5 163h1M192.5 158.5h1M211.5 150.5h1M191 150.5h1M204.5 152.5h1M181 146.5h1M182 151.5h1M217 151.5h1M193.5 159h1M191.5 156.5h1M202 149.5h1M203 163h1M188.5 157h1M198.5 158.5h1M203 164.5h1M193.5 157h1M213.5 156.5h1M201.5 154.5h1M192.5 154.5h1M204.5 165h1M199 147h1M185.5 154h1M199 157h1M204 154.5h1M186.5 155.5h1M221.5 154h1M206.5 158h1M203.5 162.5h1M203.5 149.5h1M209.5 129h1M212 155h1M200 158h1M203.5 160h1M204.5 155.5h1M202.5 158.5h1M191.5 152.5h1M204.5 166h1M206 166.5h1M195 154.5h1M195.5 147.5h1M195.5 153.5h1M214 149.5h1M184 141.5h1M210 155.5h1M215.5 154h1M196.5 162h1M187.5 145h1M215.5 156h1M190 159h1M186.5 139.5h1M192.5 143.5h1M205 166h1M199 155.5h1M197.5 147h1M200 150.5h1M220.5 152h1M195 157.5h1M197 159.5h1M189 154h1M178 147.5h1M209 155h1M202.5 151.5h1M199 152.5h1M185 149h1M201.5 160h1M213.5 132.5h1M222 147.5h1M205.5 165h1M204 133h1M197 147h1M201.5 164.5h1M218 155.5h1M200 160.5h1M203.5 166.5h1M189.5 159h1M199.5 161h1M206.5 157.5h1M215.5 155h1M204 161h1M205.5 157.5h1M198 153.5h1M198.5 152h1M208.5 156.5h1M187 149.5h1M205.5 153.5h1M194.5 158.5h1M200.5 158h1M205.5 152h1M202.5 157.5h1M192.5 151.5h1M194 156h1M198.5 154.5h1M200 162.5h1M205 162h1M203 160h1M191.5 146h1M196 157.5h1M205.5 165.5h1M212 158h1M205 167h1M189.5 134h1M217 150h1M205 158h1M202.5 160h1M214 152h1M195 151h1M216 157.5h1M197.5 159.5h1M193 156h1M206.5 166.5h1M210 156h1M195.5 157h1M200 164h1M188 151h1M182 134h1M222 140h1M205 158.5h1M220.5 144.5h1M190.5 142h1M198 157h1M213 158h1M203.5 158.5h1M196 145h1M197 155h1M211 158h1M212.5 151h1M203.5 158h1M215 155.5h1M195.5 150.5h1" stroke="#2a34a0" stroke-width="1.3" stroke-opacity="0.9" fill="none"/>
<path d="M214 135h1M214.5 140.5h1M213.5 147.5h1M216.5 146.5h1M208.5 149.5h1M213 136h1M201 141.5h1M196 143.5h1M212.5 146h1M200 146.5h1M216.5 147h1M203.5 135.5h1M206.5 137.5h1M201.5 146.5h1M208 147.5h1M213.5 135.5h1M202 145h1M201 136.5h1M213 147h1M213 141h1M196 139h1M213.5 138.5h1M213.5 147h1M197.5 143.5h1M212.5 134h1M200 143h1M211 135h1M213.5 145h1M198 138h1M214 143h1M217 146.5h1M205 134.5h1M215 138.5h1M201.5 143h1M197.5 140h1M216.5 144h1M202 136.5h1M199.5 141.5h1M216.5 147.5h1M203.5 145.5h1M213.5 139h1M203.5 146h1M201 138h1M215.5 143h1M200.5 135h1M201.5 135h1M203 142h1M200.5 137h1M212.5 147.5h1M209 147.5h1M213 142.5h1M205.5 137h1M210.5 149h1M196 142h1M206 135.5h1M200.5 137.5h1M215.5 139h1M202.5 136.5h1M200.5 136.5h1M212 134.5h1M197 138.5h1M212.5 147h1M196.5 139.5h1M216 146h1M201.5 137h1M201.5 146h1M214.5 139.5h1M211 134.5h1M205 147.5h1M200.5 135.5h1M218 145.5h1M205 136h1M199.5 142h1M215.5 144.5h1M200.5 138.5h1M214.5 141.5h1M215 147h1M213.5 143h1M201 144h1M196.5 143h1M197 142.5h1M216.5 143h1M214 136h1M203 145h1M211.5 135h1M203 134.5h1M201.5 145h1M204.5 147h1M204.5 149h1M208.5 147.5h1M198.5 136h1M203 137h1M213.5 146h1M208 148.5h1M209.5 136.5h1M208.5 136h1M198.5 145.5h1M205 147h1M203 144h1M202.5 137h1M215.5 143.5h1M215.5 145h1M216.5 145.5h1M199 142.5h1M216.5 142.5h1M204.5 135h1M196 140.5h1M215.5 142h1M205 146h1M216 139h1M210 147h1M204 137.5h1M212.5 146.5h1M217.5 146.5h1M198.5 141h1M196.5 142.5h1M202 137h1M214 141h1M215 148h1M209.5 134.5h1M214 146h1M211.5 148h1M211.5 149.5h1M209 135h1M209 136.5h1M212.5 145.5h1M197.5 139.5h1M213.5 146.5h1M209 149.5h1M215.5 139.5h1M214.5 139h1M211.5 136h1M198.5 144h1M199.5 139.5h1M217.5 143.5h1M201.5 147h1M204 145h1M197.5 142.5h1M216 141.5h1M202.5 142h1M201 137.5h1M213 146.5h1M204.5 148.5h1M206 136h1M194 141.5h1M214.5 142h1M200 141.5h1M210 136.5h1M208 149.5h1M203 146.5h1M212 135h1M207 135h1M203.5 143.5h1M198 140h1M209 148.5h1M205 136.5h1M215.5 138h1M203 136h1M208 136.5h1M212 137h1M204.5 135.5h1M198 142.5h1M196.5 140.5h1M205.5 147h1M206.5 148.5h1M216 144h1M215 139.5h1M204.5 147.5h1M195.5 140.5h1M213.5 138h1M213.5 148h1M203 148h1M215 143.5h1M201 135.5h1M205.5 135.5h1M212 137.5h1M200.5 143h1M212.5 134.5h1M198 139.5h1M212 149h1M212.5 136h1M195 143.5h1M208.5 149h1M217.5 146h1M197 142h1M200 137.5h1M211.5 134h1M199.5 140h1M205.5 136h1M199.5 145.5h1M213 137.5h1M200 139.5h1M217.5 145.5h1M213 138.5h1M214.5 141h1M205.5 137.5h1M217.5 144.5h1M201.5 138h1M203.5 148h1M214.5 147h1M211 148.5h1M205.5 136.5h1M196 144h1M201 143h1M205.5 147.5h1M196.5 141.5h1M196 141h1M202.5 144.5h1M205 137.5h1M196 138.5h1M207.5 135h1M199 138.5h1M195.5 142h1M205.5 148h1M205 149h1M201 142.5h1M194 143h1M214 147.5h1M214.5 137.5h1M202 146.5h1M197.5 140.5h1M197 139h1M198.5 137.5h1M213.5 141.5h1M200.5 141h1M195 144.5h1M197 144.5h1M207.5 135.5h1M215.5 137.5h1M195.5 142.5h1M196.5 144.5h1M216 141h1M201 144.5h1M207.5 149.5h1M199.5 143.5h1M196 140h1M212.5 135h1M212.5 148.5h1M215 146h1M213.5 140h1M200.5 144.5h1M202.5 143.5h1M201.5 143.5h1M216.5 140h1M198.5 144.5h1M204 142.5h1M198 137h1M199.5 136h1M213 148h1M211 149.5h1M204 144h1M205 148h1M217.5 147h1M196 143h1M198.5 140h1M199 144.5h1M197.5 141.5h1M199 137h1M200.5 145.5h1M195 141h1M214 145.5h1M197.5 142h1M205 145.5h1M207.5 148.5h1M200 139h1M216 147h1M213 147.5h1M214 144.5h1M199.5 137.5h1M216.5 141.5h1M210 147.5h1M204 147h1M202 143.5h1M194.5 141h1M198 138.5h1M214 142.5h1M198.5 136.5h1M197.5 137.5h1M199 141.5h1M211.5 147.5h1M201 145h1M202 143h1M217 148.5h1M200 141h1M201 138.5h1M203.5 147.5h1M215.5 141.5h1M200.5 146.5h1M203 135h1M211 148h1M197 143.5h1M202 135h1M200 143.5h1M211 149h1M198.5 142h1M198.5 139.5h1M202.5 137.5h1M203 138.5h1M209 135.5h1M198 144h1M198 136h1M198 145.5h1M203.5 146.5h1M214 141.5h1M206.5 149h1M204 146h1M200 140h1M207 147.5h1M201 145.5h1M203.5 136h1M214.5 140h1M204 148.5h1M201 141h1M195 141.5h1M199.5 144.5h1M197 143h1M210.5 136.5h1M196 141.5h1M200.5 142h1M213 139h1M217 144.5h1M215 144h1M201 135h1M215 141.5h1M199.5 141h1M213 140h1M209.5 148h1M197.5 137h1M199.5 138.5h1M214 138.5h1M201.5 142h1M203 147.5h1M194.5 141.5h1M216 143.5h1M201 139.5h1M208.5 148h1M206.5 137h1M197 140.5h1" stroke="#2c9ad8" stroke-width="1.3" stroke-opacity="0.9" fill="none"/>
<path d="M206 140h1M204.5 138.5h1M206.5 140h1M208.5 141h1M211 142h1M213 142h1M207.5 138h1M206.5 141.5h1M205 140.5h1M202.5 141.5h1M210 146.5h1M212 144.5h1M211.5 146h1M206.5 147.5h1M211.5 137.5h1M208.5 145.5h1M208 145.5h1M205 139.5h1M211.5 140.5h1M205 142.5h1M210 141h1M210 146h1M204.5 141h1M208 137h1M209.5 144.5h1M211 137.5h1M201 139h1M210.5 140h1M207 144.5h1M209 145h1M207.5 146.5h1M211 144.5h1M212 141h1M207 139.5h1M212.5 138h1M202.5 140h1M208.5 143.5h1M207 144h1M209 141.5h1M211.5 137h1M208 143h1M212 140h1M213 145.5h1M205.5 138.5h1M208 141h1M210.5 143.5h1M211.5 143h1M203 139h1M210.5 141h1M203 141h1M205 142h1M209 137.5h1M212.5 140h1M206.5 142h1M208.5 144.5h1M211 138h1M205.5 145h1M203.5 141.5h1M209 144.5h1M209.5 144h1M206.5 144h1M210.5 146h1M213 140.5h1M211.5 140h1M204 140h1M211 145.5h1M211.5 144.5h1M206 141h1M208.5 146.5h1M209.5 146h1M206 138.5h1M206.5 145h1M208 146.5h1M204.5 140h1M212 138.5h1M208 144.5h1M205.5 140h1M213.5 144h1M211.5 141.5h1M213 144.5h1M207 138h1M211 143h1M211 146h1M212.5 141.5h1M210 143h1M212.5 141h1M203.5 141h1M209.5 141.5h1M211.5 145h1M206 139h1M211 139h1M210 145.5h1M212 145.5h1M204 142.5h1M210.5 145h1M213 144h1M208 142.5h1M206.5 145.5h1M211 145h1M212 138h1M203.5 142h1M208 143.5h1M206 142h1M212 142.5h1M212 139h1M207 143.5h1M201 140.5h1M206.5 139h1M201.5 139h1M206 145.5h1M205.5 145.5h1M206 140.5h1M207.5 145.5h1M206 143.5h1M206 144h1M213 143.5h1M204 138h1M207.5 138.5h1M204.5 138h1M210 144h1M212 137.5h1M210.5 142.5h1M209 146.5h1M210.5 140.5h1M205 143h1M208.5 137h1M208 140.5h1M212.5 139h1M202.5 140.5h1M212 143.5h1M210 137h1M206.5 140.5h1M207.5 146h1M213.5 144.5h1M210.5 145.5h1M202 141.5h1M211.5 138h1M204.5 139.5h1M207.5 141h1M206.5 146h1M205.5 138h1M208 137.5h1M204.5 142h1M209 143.5h1M203.5 140.5h1M211.5 139h1M209 137h1M207.5 143.5h1M203.5 140h1M204 141h1M206 147.5h1M213 141h1M208 138h1M210.5 137h1M211 139.5h1M211 137h1M209 145.5h1M201.5 139.5h1M207.5 147h1M207 140.5h1M209 146h1M204 139.5h1M205 141.5h1M205.5 144h1M206 142.5h1M203.5 139.5h1M212 141.5h1M212.5 142h1M206 144.5h1M211 144h1M201 141.5h1M204 143.5h1M204.5 143.5h1M203 141.5h1M210 136.5h1M210.5 137.5h1M211.5 143.5h1M205 138h1M205 145.5h1M211.5 136.5h1M212 143h1M205.5 139.5h1M206 146h1M204 139h1M209.5 142h1M202.5 139h1M211 141h1M208.5 146h1M202.5 139.5h1M206.5 138h1M207.5 144.5h1M206.5 143.5h1M207.5 137.5h1M212.5 145.5h1M211.5 144h1M207.5 141.5h1M210 144.5h1M211.5 138.5h1M207 142.5h1M211 141.5h1M206 143h1M210.5 144h1" stroke="#40c0a0" stroke-width="1.3" stroke-opacity="0.9" fill="none"/>
<path d="M208.5 138h1M209.5 140h1M210 138.5h1M208.5 139.5h1M210 137.5h1M209 138h1M210 139.5h1M210 139h1M210.5 139h1M209 138.5h1M211 138h1M208.5 139h1M208 139h1M210.5 138h1M207.5 140.5h1M207.5 140h1M209 140h1M210.5 138.5h1M208 138.5h1M208.5 140.5h1M209.5 138.5h1M209.5 139h1M209 139h1M207 140h1M208.5 138.5h1" stroke="#b8d838" stroke-width="1.3" stroke-opacity="0.9" fill="none"/>
<line x1="162.0" y1="57.6" x2="342.1" y2="57.6" stroke="#8a8a8a" stroke-width="1.2" />
<line x1="342.1" y1="57.6" x2="342.1" y2="203.4" stroke="#8a8a8a" stroke-width="1.2" />
<line x1="162.0" y1="56.6" x2="162.0" y2="204.4" stroke="#222" stroke-width="1.6" />
<line x1="161.0" y1="203.4" x2="342.1" y2="203.4" stroke="#222" stroke-width="1.6" />
<path d="M157.0 203.4H162M159.5 196.1H162M159.5 191.8H162M159.5 188.8H162M159.5 186.4H162M159.5 184.5H162M159.5 182.9H162M159.5 181.5H162M159.5 180.3H162M162.8 203.4V208.4M171.8 203.4V205.9M177.0 203.4V205.9M180.7 203.4V205.9M183.6 203.4V205.9M186.0 203.4V205.9M188.0 203.4V205.9M189.7 203.4V205.9M191.2 203.4V205.9M157.0 179.2H162M159.5 171.9H162M159.5 167.6H162M159.5 164.6H162M159.5 162.2H162M159.5 160.3H162M159.5 158.7H162M159.5 157.3H162M159.5 156.0H162M192.6 203.4V208.4M201.6 203.4V205.9M206.8 203.4V205.9M210.5 203.4V205.9M213.4 203.4V205.9M215.8 203.4V205.9M217.8 203.4V205.9M219.5 203.4V205.9M221.0 203.4V205.9M157.0 154.9H162M159.5 147.6H162M159.5 143.3H162M159.5 140.3H162M159.5 137.9H162M159.5 136.0H162M159.5 134.4H162M159.5 133.0H162M159.5 131.8H162M222.4 203.4V208.4M231.4 203.4V205.9M236.6 203.4V205.9M240.3 203.4V205.9M243.2 203.4V205.9M245.6 203.4V205.9M247.6 203.4V205.9M249.3 203.4V205.9M250.8 203.4V205.9M157.0 130.7H162M159.5 123.4H162M159.5 119.1H162M159.5 116.1H162M159.5 113.7H162M159.5 111.8H162M159.5 110.2H162M159.5 108.8H162M159.5 107.5H162M252.2 203.4V208.4M261.2 203.4V205.9M266.4 203.4V205.9M270.1 203.4V205.9M273.0 203.4V205.9M275.4 203.4V205.9M277.4 203.4V205.9M279.1 203.4V205.9M280.6 203.4V205.9M157.0 106.4H162M159.5 99.1H162M159.5 94.8H162M159.5 91.8H162M159.5 89.4H162M159.5 87.5H162M159.5 85.9H162M159.5 84.5H162M159.5 83.3H162M282.0 203.4V208.4M291.0 203.4V205.9M296.2 203.4V205.9M299.9 203.4V205.9M302.8 203.4V205.9M305.2 203.4V205.9M307.2 203.4V205.9M308.9 203.4V205.9M310.4 203.4V205.9M157.0 82.2H162M159.5 74.9H162M159.5 70.6H162M159.5 67.6H162M159.5 65.2H162M159.5 63.3H162M159.5 61.7H162M159.5 60.3H162M159.5 59.0H162M311.8 203.4V208.4M320.8 203.4V205.9M326.0 203.4V205.9M329.7 203.4V205.9M332.6 203.4V205.9M335.0 203.4V205.9M337.0 203.4V205.9M338.7 203.4V205.9M340.2 203.4V205.9M157.0 57.9H162M341.6 203.4V208.4" stroke="#222" stroke-width="1.1" fill="none"/>
<text x="154.0" y="205.9" font-size="5.5" fill="#7a6a7a" text-anchor="end">10<tspan dy="-2.5" font-size="4.5">0</tspan></text>
<text x="163.8" y="217.4" font-size="5.5" fill="#7a6a7a">10<tspan dy="-2.5" font-size="4.5">0</tspan></text>
<text x="154.0" y="181.7" font-size="5.5" fill="#7a6a7a" text-anchor="end">10<tspan dy="-2.5" font-size="4.5">1</tspan></text>
<text x="193.6" y="217.4" font-size="5.5" fill="#7a6a7a">10<tspan dy="-2.5" font-size="4.5">1</tspan></text>
<text x="154.0" y="157.4" font-size="5.5" fill="#7a6a7a" text-anchor="end">10<tspan dy="-2.5" font-size="4.5">2</tspan></text>
<text x="223.4" y="217.4" font-size="5.5" fill="#7a6a7a">10<tspan dy="-2.5" font-size="4.5">2</tspan></text>
<text x="154.0" y="133.2" font-size="5.5" fill="#7a6a7a" text-anchor="end">10<tspan dy="-2.5" font-size="4.5">3</tspan></text>
<text x="253.2" y="217.4" font-size="5.5" fill="#7a6a7a">10<tspan dy="-2.5" font-size="4.5">3</tspan></text>
<text x="154.0" y="108.9" font-size="5.5" fill="#7a6a7a" text-anchor="end">10<tspan dy="-2.5" font-size="4.5">4</tspan></text>
<text x="283.0" y="217.4" font-size="5.5" fill="#7a6a7a">10<tspan dy="-2.5" font-size="4.5">4</tspan></text>
<text x="154.0" y="84.7" font-size="5.5" fill="#7a6a7a" text-anchor="end">10<tspan dy="-2.5" font-size="4.5">5</tspan></text>
<text x="312.8" y="217.4" font-size="5.5" fill="#7a6a7a">10<tspan dy="-2.5" font-size="4.5">5</tspan></text>
<text x="154.0" y="60.4" font-size="5.5" fill="#7a6a7a" text-anchor="end">10<tspan dy="-2.5" font-size="4.5">6</tspan></text>
<text x="342.6" y="217.4" font-size="5.5" fill="#7a6a7a">10<tspan dy="-2.5" font-size="4.5">6</tspan></text>
<line x1="254.5" y1="57.6" x2="254.5" y2="203.4" stroke="#3a3a3a" stroke-width="1.6" />
<line x1="162.0" y1="114.0" x2="254.5" y2="114.0" stroke="#3a3a3a" stroke-width="1.6" />
<text x="316.2" y="78.0" font-size="17.4" text-anchor="end" fill="#444" >0%</text>
<text x="327.2" y="190.3" font-size="17.4" text-anchor="end" fill="#e26b1e" >100%</text>
<text x="243.2" y="242.8" font-size="21" text-anchor="middle" fill="#000" >APC</text>
<text transform="translate(109.0,135.0) rotate(-90)" font-size="21" text-anchor="middle" fill="#000">sgRNA expression</text>
<text transform="translate(134.3,134.0) rotate(-90)" font-size="21" text-anchor="middle" fill="#000">(BFP)</text>
<path d="M225 396.5h1M203.5 403.5h1M227.5 388h1M209 401.5h1M205.5 375h1M225 393.5h1M208.5 401.5h1M230.5 386.5h1M194.5 405.5h1M224.5 396.5h1M231.5 385.5h1M225.5 400h1M228 389h1M207 401.5h1M226.5 397h1M197 375.5h1M230 391h1M235.5 387h1M228.5 390.5h1M215.5 400h1M225.5 382.5h1M222.5 378.5h1M221.5 379h1M233.5 390h1M223 382.5h1M229 389h1M226 382h1M217 380.5h1M221.5 399.5h1M208 376.5h1M225 384.5h1M200 401.5h1M207 376.5h1M237.5 397h1M217.5 398h1M234.5 390h1M222 397.5h1M237.5 384h1M202.5 374.5h1M225 388h1M218.5 380h1M208.5 401h1M205 401h1M226 391.5h1M233 381.5h1M225.5 392h1M225 395.5h1M235.5 401.5h1M214 402h1M222 398.5h1M215 400.5h1M220 397.5h1M231 382.5h1M234 387.5h1M228.5 388.5h1M185.5 378.5h1M217.5 380h1M237 392.5h1M192 376.5h1M211 405.5h1M231.5 383h1M232 384.5h1M224.5 397.5h1M223.5 382.5h1M212.5 401.5h1M169 378h1M185 401.5h1M186.5 401h1M233.5 389.5h1M177 397h1M203.5 372.5h1M165.5 394.5h1M204 401.5h1M211.5 404.5h1M163.5 400.5h1M187.5 400h1M187.5 403h1M204 374h1M180 401.5h1M223 377.5h1M160.5 388.5h1M169 381h1M168.5 381h1M189.5 377h1M172.5 396h1M181.5 376h1M182.5 400h1M161.5 405h1M200.5 402.5h1M180 399.5h1M159.5 381h1M228.5 390h1M159.5 402h1M198 408h1M185.5 375h1M166.5 378.5h1M159 378.5h1M194 374h1M177.5 404.5h1M205 375.5h1M166 386.5h1M167 382h1M163.5 399.5h1M223.5 405h1M221.5 405.5h1M228.5 379h1M213 378h1M237.5 390h1M174.5 400.5h1M182.5 402h1M181.5 406h1M174 377h1M246 382h1M163 390h1M169.5 384.5h1M195.5 401h1M178.5 398h1M170.5 384h1M246.5 388.5h1M238 378.5h1M165 397.5h1M170 401h1M180.5 406h1M231.5 389h1M186.5 377.5h1M165 396.5h1M226 385h1M229.5 381h1M168.5 404.5h1M171.5 383.5h1M166 400.5h1M163.5 380h1M226 380.5h1M162 396h1M183 376h1M192.5 375.5h1M166.5 400h1M200 406h1M213 372.5h1M173 377h1M172 397.5h1M158.5 389.5h1M166 394.5h1M188.5 406h1M161.5 384.5h1M182.5 405.5h1M158 373h1M230 388.5h1M166 385h1M230.5 384.5h1M163 376h1M211 401h1M169 398h1M160.5 383h1M168.5 395h1M222 399.5h1M175.5 380.5h1M159 394h1M229.5 393h1M196.5 378.5h1M183 378.5h1M227 395h1M225.5 388.5h1M173.5 383h1M174 376.5h1M175 399h1M187.5 403.5h1M175.5 397h1M165 398h1M171.5 396.5h1M176 375.5h1M164.5 385.5h1M166.5 401h1M168 371h1M173 398.5h1M160.5 382.5h1M169 380.5h1M182.5 376h1M226.5 383.5h1M194.5 371.5h1M162.5 385h1M200.5 376h1M197 376h1M166.5 377.5h1M205.5 401h1M210.5 376.5h1M202 372.5h1M161.5 384h1M220 411.5h1M207.5 409h1M231 383h1M180 400h1M238.5 385h1M170 380h1M181.5 407.5h1M221 380.5h1M177 380.5h1M244 378h1M170.5 379.5h1M227 384h1M190.5 377h1M181 406h1M209 373.5h1M168.5 382.5h1M180.5 374h1M183.5 378.5h1M181.5 402h1M193.5 402.5h1M177 376.5h1M204 374.5h1M163.5 401h1M231.5 380h1M178.5 402h1M193.5 377h1M179 408h1M191 401h1M209.5 401h1M180.5 398.5h1M201 375.5h1M165 395h1M197 405.5h1M167 396.5h1M184.5 375.5h1M191 378.5h1M160 388.5h1M175.5 395h1M160 396h1M195 407h1M160.5 387h1M162.5 393.5h1M177 372h1M227 396h1M179 405h1M197.5 406h1M221 396h1M159 405.5h1M222.5 397h1M261 394h1M224 375h1M162.5 386.5h1M158.5 386.5h1M175.5 399.5h1M167 395h1M237 387.5h1M232.5 385.5h1M185 402h1M165.5 384.5h1M227 383.5h1M165 386h1M177.5 380h1M163 380.5h1M171 383h1M193 402.5h1M161.5 386.5h1M234.5 395.5h1M165 400h1M218.5 397h1M163 395h1M163.5 397.5h1M237 400h1M180.5 399.5h1M231 404.5h1M224.5 384.5h1M228.5 391h1M224.5 398h1M210.5 374h1M172 381.5h1M169.5 403.5h1M179.5 405.5h1M230.5 375h1M224 379h1M214.5 378h1M180 402h1M175 381h1M220.5 379h1M175.5 371h1M188 402h1M158 395.5h1M192 376h1M182.5 377.5h1M229 381.5h1M180 398.5h1M173.5 410h1M191 371h1M174 396.5h1M175 382h1M173 402h1M241.5 382.5h1M210.5 402.5h1M190 375h1M176 381h1M193.5 378h1M224.5 375.5h1M214 401h1M224.5 396h1M173.5 400.5h1M180 378.5h1M245 396h1M160.5 393h1M174.5 382h1M226.5 398h1M162 390h1M168 374.5h1M187 378h1M158 390.5h1M224.5 378h1M175 402.5h1M189 378.5h1M173 403.5h1M164.5 396.5h1M195.5 378h1M170.5 396.5h1M158.5 382.5h1M173.5 382h1M169.5 399.5h1M171 376h1M176.5 396.5h1M166.5 364h1M194 401.5h1M163.5 394h1M178 380h1M161.5 388h1M211.5 401.5h1M180.5 402.5h1M192.5 376h1M170 380.5h1M162.5 380h1M174 397h1M183.5 402.5h1M181 375.5h1M192 375.5h1M178 372h1M161.5 374.5h1M193 374h1M189 378h1M233.5 398h1M179.5 403.5h1M159 383.5h1M190 402.5h1M162.5 385.5h1M177 377h1M165.5 378h1M168.5 386.5h1M163.5 387h1M200.5 406.5h1M165 383h1M202 366h1M190 375.5h1M195.5 371.5h1M170 397h1M230 394h1M234.5 389.5h1M247.5 378h1M228 392h1M193 375h1M174 401.5h1M201.5 376h1M165.5 380h1M172.5 399.5h1M234 388.5h1M198.5 377h1M168 377h1M194.5 401.5h1M213 401h1M174 369.5h1M178 402h1M177.5 380.5h1M174.5 378.5h1M171.5 382.5h1M225 379.5h1M233.5 391h1M178.5 397.5h1M219.5 378.5h1M182 401h1M165 380h1M223.5 401h1M173 405.5h1M225 399h1M209.5 368h1M181.5 373.5h1M158.5 392.5h1M162 387h1M216.5 400.5h1M184 402.5h1M204.5 376h1M204.5 404.5h1M160.5 396h1M195 401.5h1M161 389.5h1M160 377.5h1M176.5 398.5h1M169 385h1M160 382.5h1M170 396.5h1M225 400h1M163.5 385.5h1M226 387.5h1M162.5 392.5h1M195.5 402.5h1M195.5 401.5h1M201.5 403.5h1M181.5 377h1M236 383.5h1M179 375h1M209 406.5h1M169 385.5h1M196 376h1M164.5 400h1M237.5 394h1M164.5 380h1M159 382.5h1M212.5 405h1M192 374.5h1M217.5 376.5h1M225 397h1M214 407.5h1M188 377h1M164 404.5h1M226.5 385h1M183.5 378h1M159 386.5h1M162 383.5h1M161.5 387.5h1M204.5 375h1M226.5 391h1M165.5 398h1M230 396.5h1M189 401h1M194 402h1M204 404h1M178 398.5h1M177 399h1M217.5 379.5h1M163 394h1M184 400h1M167.5 407h1M220.5 398.5h1M171 414.5h1M200 403.5h1M188 373h1M213 401.5h1M162 375.5h1M232.5 373.5h1M244.5 401h1M193 376h1M176 379h1M173 404h1M219 400h1M168 376.5h1M165 397h1M249.5 382.5h1M218 378.5h1M232 396h1M164 378h1M241 381.5h1M167.5 409h1M198 370h1M234 393.5h1M172 397h1M161 392.5h1M226.5 389.5h1M166 396h1M169.5 385h1M233.5 383h1M235.5 400h1M170.5 382h1M171 401.5h1M201 401.5h1M186 400.5h1M185 400h1M165.5 403.5h1M163.5 393.5h1M168.5 396.5h1M201 374h1M188.5 402h1" stroke="#6a6ad0" stroke-width="1.3" stroke-opacity="0.6" fill="none"/>
<path d="M202 380h1M182.5 391.5h1M218.5 395.5h1M203.5 397.5h1M217 393h1M211.5 383.5h1M206 397h1M215.5 396.5h1M189.5 387h1M218 389.5h1M215.5 387.5h1M209.5 398h1M199.5 378.5h1M216.5 392h1M204.5 397h1M220 384.5h1M188.5 395.5h1M218.5 381.5h1M217.5 390.5h1M219 386.5h1M208 381.5h1M217 393.5h1M213.5 396h1M213.5 398.5h1M191.5 394h1M182.5 385h1M219 382h1M222 391h1M207 398h1M200 396h1M216 383.5h1M218.5 386h1M221.5 386.5h1M198.5 399.5h1M200 381.5h1M204.5 377.5h1M216 395h1M216.5 388h1M187.5 390.5h1M197.5 382h1M224 387h1M214.5 383h1M214 385h1M201.5 381.5h1M193.5 379h1M199 397h1M212.5 396h1M206.5 380h1M210.5 398h1M224 391h1M218 396h1M214.5 384.5h1M213.5 384h1M206 380.5h1M186 382.5h1M210.5 396.5h1M198 385h1M217.5 392.5h1M187.5 388.5h1M194.5 383.5h1M218.5 382.5h1M222.5 391.5h1M186.5 387.5h1M210 400h1M215.5 381h1M196 383.5h1M221.5 388h1M188 383h1M201 397h1M216.5 387.5h1M220 388h1M210 382.5h1M187.5 382h1M220 391h1M207.5 396.5h1M219 386h1M220.5 393.5h1M194 384h1M202 380.5h1M188 389h1M201 382h1M189 391.5h1M218 387h1M216.5 386h1M213.5 382h1M184 388.5h1M208.5 382h1M194.5 400.5h1M189 395.5h1M194 379h1M191.5 393.5h1M215 398h1M214.5 386.5h1M212.5 381.5h1M215 382h1M180 386.5h1M187.5 393h1M210 379h1M218.5 393h1M208 380h1M188 390.5h1M214.5 382h1M212 383.5h1M198.5 384.5h1M222.5 392.5h1M220.5 388.5h1M221.5 394h1M211 400h1M211 396.5h1M194 384.5h1M189.5 386h1M190 396h1M208.5 383h1M196 395h1M219 383.5h1M196 380.5h1M191 383h1M218.5 384h1M211.5 385.5h1M223.5 389h1M219.5 389h1M218 385.5h1M219 382.5h1M217 387h1M196 395.5h1M219 385.5h1M194 396h1M187 394h1M185.5 398.5h1M190.5 383h1M219.5 386h1M202.5 381h1M214 386.5h1M225 392h1M211 396h1M203.5 396.5h1M212.5 381h1M224.5 387.5h1M219.5 394h1M215 386h1M194.5 395h1M197.5 382.5h1M206.5 382h1M199.5 396.5h1M187.5 383h1M181 385.5h1M202.5 397h1M198.5 379.5h1M220.5 394.5h1M193 380.5h1M210.5 397.5h1M198 399.5h1M204.5 382.5h1M220 386h1M220.5 386.5h1M218.5 388h1M197.5 383.5h1M188 384.5h1M194 394h1M190 382.5h1M201.5 400h1M194.5 400h1M205 397h1M211 383.5h1M198.5 378.5h1M213.5 396.5h1M208 399h1M215.5 386.5h1M202.5 381.5h1M199 383h1M208.5 396h1M217.5 384h1M199.5 397.5h1M214 382h1M183 385.5h1M221 383h1M211.5 399.5h1M195.5 384.5h1M203 382h1M205.5 396.5h1M210 378h1M210 397h1M197.5 396.5h1M190.5 391h1M221.5 394.5h1M210 378.5h1M219.5 388.5h1M214.5 382.5h1M201.5 399.5h1M186.5 392h1M196.5 396.5h1M210 381.5h1M193 396h1M201 378h1M189 398.5h1M204 381h1M212.5 384.5h1M223 392.5h1M220.5 388h1M222.5 393.5h1M209.5 397h1M201.5 382.5h1M219.5 393h1M221 388h1M191.5 383.5h1M221.5 389h1M196.5 382h1M223 387h1M188 391h1M204 398h1M200 397.5h1M223 389.5h1M189.5 394.5h1M189 379h1M209 400.5h1M215.5 385h1M224 393.5h1M196.5 397h1M213 396.5h1M219.5 383.5h1M209 378.5h1M216 395.5h1M207 382.5h1M201 380h1M224.5 390h1M216 384.5h1M218.5 390h1M192 400h1M188.5 391h1M199 396h1M218.5 393.5h1M201 396h1M223 389h1M203 396h1M203 380.5h1M211.5 399h1M193 385h1M222.5 386.5h1M185 386h1M181 389h1M218 392h1M200 380.5h1M219 392h1M186 390.5h1M204.5 399h1M200.5 400h1M183.5 388h1M218 393.5h1M210 379.5h1M185.5 389.5h1M190 392.5h1M200.5 381h1M217.5 385.5h1M217 387.5h1M220 392.5h1M183.5 390.5h1M190 394h1M217.5 387h1M204.5 380.5h1M219.5 392h1M216 389.5h1M214 379.5h1M216 386.5h1M212.5 382.5h1M197 396.5h1M203.5 382.5h1M220 393h1M192.5 395h1M213.5 397.5h1M185.5 399.5h1M191 394h1M222 387.5h1M187.5 387.5h1M207.5 397.5h1M215.5 398h1M208.5 381.5h1M214 395.5h1M220 389.5h1M220.5 391h1M221 392h1M210.5 383h1M220.5 390.5h1M219 391.5h1M205 380.5h1M189 395h1M217 383.5h1M199 382.5h1M216.5 395.5h1M221 394.5h1M210 384h1M218 395.5h1M189 392.5h1M216.5 387h1M205.5 397.5h1M209 381.5h1M190 384h1M209.5 381h1M207 381.5h1M206.5 396h1M177 391.5h1M172 392h1M181 395.5h1M206.5 381.5h1M165 390.5h1M216.5 385.5h1M189.5 383.5h1M186 395.5h1M185.5 394h1M180 384.5h1M184 383.5h1M172.5 386.5h1M217 394h1M178 384.5h1M184.5 399.5h1M173 383h1M203.5 381h1M179.5 390.5h1M185 391.5h1M193 395h1M187 390.5h1M187.5 392h1M180.5 390h1M174 388.5h1M193.5 396.5h1M182 393h1M182.5 397h1M189.5 390.5h1M199 381.5h1M172.5 386h1M187.5 398h1M172 383.5h1M188.5 390.5h1M212 382h1M170 392.5h1M173 394h1M185.5 386h1M175 387.5h1M186 399.5h1M183.5 379h1M172 390h1M173 384.5h1M222 393.5h1M201 379.5h1M190.5 385.5h1M186 384h1M192 397h1M203.5 397h1M182 384h1M185 394h1M205.5 397h1M192 385.5h1M196.5 382.5h1M192.5 381h1M187 385h1M204 398.5h1M181.5 386.5h1M211.5 396h1M176 388.5h1M182.5 380h1M174 391.5h1M169 388h1M185.5 393.5h1M188.5 389.5h1M188.5 387h1M177 393.5h1M186.5 393h1M188 379.5h1M167 388h1M215 381.5h1M212 383h1M198 381h1M193 398h1M200 399.5h1M202.5 380.5h1M204 377.5h1M180 387h1M180.5 394.5h1M184.5 397.5h1M185.5 389h1M172.5 389.5h1M190 393h1M194 396.5h1M164.5 388h1M191.5 397h1M191 383.5h1M181.5 385.5h1M191.5 384.5h1M190.5 393h1M175 390.5h1M209 397h1M167 391.5h1M188.5 389h1M202.5 382h1M202.5 377h1M198 396h1M216.5 395h1M180.5 386.5h1M198.5 398h1M187.5 395.5h1M184.5 383h1M188 391.5h1M211 379h1M177.5 381h1M208.5 397h1M175 394h1M214 381h1M192.5 384h1M190 385h1M185.5 390h1M181.5 391h1M185.5 390.5h1M198.5 382.5h1M211.5 382h1M169.5 390h1M186 389h1M189.5 384.5h1M188 387h1M184.5 387.5h1M195 398.5h1M187 387h1M219 391h1M168 388h1M193.5 381.5h1M185.5 391.5h1M188.5 392.5h1M215 385h1M180.5 389.5h1M219.5 385h1M212.5 399h1M216 382.5h1M181.5 380.5h1M200.5 383h1M193 384h1M212 397.5h1M179 390h1M172 394.5h1M205.5 379h1M175.5 388h1M166.5 391.5h1M196 396.5h1M184 392.5h1M187 386h1M166.5 393.5h1M211.5 378.5h1M215 384h1M163 390h1M206.5 378h1M181.5 384h1M201.5 377h1M186.5 395h1M173 389h1M173 384h1M216 398h1M218 382h1M172.5 385.5h1M172 391.5h1M208 396.5h1M183 383.5h1M200 382.5h1M184.5 385.5h1M224 391.5h1M196.5 395h1M206.5 380.5h1M178 389h1M176.5 387h1M190 393.5h1M193 399h1M193 379.5h1M178 391h1M164.5 391.5h1M198 378h1M167.5 391h1M172.5 393h1M187.5 394.5h1M188 386h1M186 383h1M188 381.5h1M184.5 389.5h1M184.5 385h1M183 380h1M184 398.5h1M184.5 390.5h1M210 398h1M185 388.5h1M207 397h1M191 399h1M174.5 394h1M176.5 392h1M180 391h1M201 382.5h1M195 400.5h1M163.5 388h1M189.5 399h1M184.5 392.5h1M210 380h1M179 387h1M182.5 389.5h1M182.5 396.5h1M204.5 378h1M178.5 387.5h1M184.5 382.5h1M174.5 389h1M216.5 389h1M185 393h1M184.5 394.5h1M184.5 381h1M171.5 390.5h1M193.5 381h1M166.5 387h1M188.5 388h1M217.5 388h1M191.5 400.5h1M192.5 384.5h1M191.5 380h1M211.5 398h1M220 385.5h1M204.5 382h1M180.5 391.5h1M181.5 387.5h1M187.5 384.5h1M202.5 399.5h1M191.5 400h1M189.5 393h1M166 390h1M194.5 394.5h1M193 400h1M187 382h1M204 377h1M175.5 389h1M183 387h1M212 380h1M215.5 387h1M167 390h1M174 389.5h1M194.5 383h1M179.5 396.5h1M182.5 385.5h1M177 383h1M215 395.5h1M174 386.5h1M181 394h1M187.5 392.5h1M225 388h1M191 391.5h1M175.5 385.5h1M224 392.5h1M179 394h1M182.5 388.5h1M173.5 394h1M196.5 381.5h1M206.5 397.5h1M178 388h1M201.5 382h1M175.5 387.5h1M180 389.5h1M166 393h1M171.5 384.5h1M195.5 397.5h1M200.5 397.5h1M178.5 383.5h1M174 385.5h1M217.5 396h1M176.5 390h1M177 386.5h1M192.5 398.5h1M173.5 387.5h1M171.5 393.5h1M197.5 378h1M184.5 393.5h1M192 380.5h1M186 384.5h1M191 391h1M179 391.5h1M177.5 385h1M180.5 380h1M215 399h1M190.5 384.5h1M164.5 389.5h1M214 397h1M192 384h1M175 388h1M206 398.5h1M193.5 398h1M213 398h1M166.5 390h1M189 387h1M185 395.5h1M180 381h1M181.5 392h1M197.5 384.5h1M203 381.5h1M189.5 386.5h1M197 381h1M184 386.5h1M178.5 396h1M192 382h1M178 386.5h1M183.5 397h1M181.5 385h1M179.5 394h1M221.5 392h1M187.5 395h1M196 398h1M199 378.5h1M181 395h1M207 381h1M188.5 385.5h1M169.5 388.5h1M185.5 395h1M193 386h1M181.5 390.5h1M185 383h1M214 382.5h1M183 394h1M200.5 396h1M180 384h1M170.5 392.5h1M191.5 395h1M171 392h1M205.5 399h1M165.5 389.5h1M189 383h1M171 385h1M188 390h1M168 393h1M176 393h1M168 389.5h1M186.5 386.5h1M177 382h1M194 383h1M218.5 394.5h1M184.5 388.5h1M178.5 382h1M219 387h1M196 382.5h1M179.5 395h1M169 387h1M197.5 398.5h1M185 394.5h1M187.5 396h1M170 395h1M195.5 396h1M169 390h1M218 391h1M213.5 384.5h1M182 394h1M189 381h1M189 382.5h1M178.5 389.5h1M200 379h1M190 390.5h1M190 396.5h1M175.5 389.5h1M195 384.5h1M170.5 394h1M217 390h1M163.5 389.5h1M185 388h1M182.5 398h1M187 389h1M184 397h1M192.5 385.5h1M177 387.5h1M173.5 390h1M200 378.5h1M198 382h1M202.5 396h1M179 396h1M178.5 388.5h1M185.5 394.5h1M180.5 382.5h1M195 380.5h1M221 387.5h1M196 384h1M186 393h1M177 389.5h1M219 390.5h1M185.5 381.5h1M183.5 395h1M193 397h1M174 388h1M185 399.5h1M206.5 381h1M190 381.5h1M181 380.5h1M190.5 395h1M188.5 383.5h1M181.5 388.5h1M215.5 395.5h1M190.5 399.5h1M168.5 392.5h1M174 395h1M206 396.5h1M219.5 392.5h1M190 384.5h1M188.5 387.5h1M178.5 381h1M199.5 381h1M200.5 397h1M180.5 392h1M181.5 383.5h1M205 378.5h1M176 383h1M189.5 392h1M184 389.5h1M193 394.5h1M204 379h1M182 387h1M213 381.5h1M201 399h1M170 389h1M214.5 383.5h1M220.5 384h1M180.5 393h1M191 400.5h1M189.5 398.5h1M190.5 382.5h1M204 378.5h1M209 398h1M177 381.5h1M181.5 382.5h1M188 396.5h1M177 385h1M186.5 384.5h1M186 386.5h1M188 385.5h1M180 382h1M180 389h1M183 395h1M195 383.5h1M170.5 389h1M182.5 392h1M189.5 380.5h1M182.5 383.5h1M183 391.5h1M191 382h1M184.5 392h1M201 377h1M206 400h1M189.5 385.5h1M175 388.5h1M182.5 390.5h1M199.5 379h1M198 380h1M198 381.5h1M167 392.5h1M184 399.5h1M196 397.5h1M209 382.5h1M185 381h1M195 394.5h1M199 379h1M169.5 387.5h1M172.5 385h1M182 389.5h1M165.5 389h1M176.5 393h1M203 396.5h1M179.5 392.5h1M189 390.5h1M214 380h1M216.5 394h1M188.5 393.5h1M165.5 388.5h1M216.5 382h1M212.5 380.5h1M213.5 398h1M212 397h1M180 394.5h1M195.5 397h1M166 387h1M221 390h1M199.5 396h1M204.5 378.5h1M186 394h1M184 394h1M189 391h1M173.5 393.5h1M188 394h1M178.5 387h1M190.5 394h1M191 380.5h1M187 391.5h1M179.5 384.5h1M184 390.5h1M191.5 383h1M194.5 399h1M224 389.5h1M192 393.5h1M221 393.5h1M168 392.5h1M186 390h1M170 387h1M169.5 391h1M194.5 384h1M203.5 401h1M170.5 390.5h1M190 390h1M188.5 384h1M188 394.5h1M217.5 391.5h1M189.5 385h1M184 384.5h1M185 385h1M171.5 394.5h1M186 389.5h1M200.5 382.5h1M199.5 399h1M167.5 391.5h1M172 392.5h1M170.5 391h1M182 397h1M179.5 394.5h1M174 393h1M207.5 381h1M211 385h1M191 398h1M183.5 387.5h1M193.5 383.5h1M198 398h1M185.5 388.5h1M209 382h1M187.5 389h1M190.5 393.5h1M183 385h1M206.5 396.5h1M199 384.5h1M214 399.5h1M200.5 379h1M222 388.5h1M193.5 394h1M175 386h1M196.5 383.5h1M194.5 384.5h1M187.5 397.5h1M217 388.5h1M193.5 397.5h1M181.5 381.5h1M177.5 391h1M218.5 385h1M178 396.5h1M213 384.5h1M213 396h1M214.5 384h1M214 397.5h1M172.5 392h1M216 380h1M180 397h1M201 400.5h1M199 398h1M189.5 382h1M178 392.5h1M178 391.5h1M186.5 395.5h1M203.5 379.5h1M192.5 399.5h1M181 389.5h1M165.5 392h1M177.5 390h1M171 390h1M182 391.5h1M188.5 398h1M179.5 387h1M182.5 386.5h1M189.5 397.5h1M222.5 385h1M220 394h1M192 383.5h1M199.5 400h1M212 385h1M169.5 392h1M217.5 389h1M211 400.5h1M222.5 388h1M191.5 394.5h1M204 396.5h1M174.5 387h1M213.5 386h1M195.5 395h1M178 383h1M195.5 382h1M169 391.5h1M182 387.5h1M184 385h1M196.5 383h1M203 378h1M195.5 379.5h1M180.5 388.5h1M201.5 397h1M183 379.5h1M163 390.5h1M165 390h1M220 387.5h1M190 381h1M208 381h1M183 388h1M217.5 386.5h1M194.5 382h1M217 381.5h1M174.5 388.5h1M166 390.5h1M190 399.5h1M172 388.5h1M186 393.5h1M187.5 397h1M191.5 398.5h1M169.5 394.5h1M185 380.5h1M163.5 391.5h1M174.5 384.5h1M217 391.5h1M207.5 379h1M217 396.5h1M192 385h1M195.5 396.5h1" stroke="#2a34a0" stroke-width="1.3" stroke-opacity="0.9" fill="none"/>
<path d="M209 384.5h1M214.5 392h1M210 396h1M204 394.5h1M212.5 386h1M198 385.5h1M210.5 387h1M197 388h1M215 393h1M190.5 386h1M192 388h1M215.5 391.5h1M208.5 385.5h1M214 392h1M210 394.5h1M195.5 388h1M196 391.5h1M193 392h1M199.5 385.5h1M205 395h1M206 383h1M196.5 387h1M212 393.5h1M206 393.5h1M198 386h1M206 383.5h1M205.5 384h1M198 393.5h1M209 394.5h1M198.5 394h1M207.5 385.5h1M202.5 385.5h1M199 387.5h1M191.5 388h1M211 387.5h1M213.5 391h1M210 393.5h1M196.5 386.5h1M216 389.5h1M207.5 384.5h1M205.5 394h1M215 391.5h1M200.5 394h1M201 394h1M206 394.5h1M214 391.5h1M199 393.5h1M191.5 388.5h1M213.5 393h1M198 394h1M193.5 391h1M205 384.5h1M214.5 388h1M204.5 383h1M216.5 391.5h1M213.5 390.5h1M197 393.5h1M210 386.5h1M212 393h1M215 389h1M196 386h1M198 393h1M204.5 393h1M214.5 391h1M213 388h1M200 395h1M212.5 392h1M212 395h1M189.5 387.5h1M214 394h1M212.5 390h1M194 389.5h1M191 386.5h1M212.5 387h1M208 393.5h1M214.5 393h1M213.5 392h1M195 393.5h1M199.5 386.5h1M194.5 387.5h1M215.5 388h1M192.5 387.5h1M211.5 393.5h1M197 387.5h1M202 394h1M193.5 392.5h1M200 394h1M204 384.5h1M200 385h1M193.5 390h1M214.5 388.5h1M199.5 386h1M196.5 388h1M212 389h1M195.5 386h1M199.5 395.5h1M213 394.5h1M201.5 393h1M211.5 395h1M194.5 391.5h1M211 388h1M197 386h1M201 393.5h1M208 386.5h1M214 387.5h1M202.5 394.5h1M189 388h1M214.5 390h1M209.5 387.5h1M205 394.5h1M196.5 392h1M194.5 387h1M210 386h1M201 393h1M202 395.5h1M210 395h1M216.5 391h1M207 384.5h1M206.5 385.5h1M206 395.5h1M212.5 393.5h1M197 385h1M198.5 395.5h1M213 393h1M210 393h1M210.5 394h1M201.5 394h1M197 393h1M194.5 392h1M213 387.5h1M208 384.5h1M204 385.5h1M192.5 391h1M209 385h1M202.5 393.5h1M208.5 386.5h1M196.5 394h1M203 384h1M197 394.5h1M205 383.5h1M214 392.5h1M203 394h1M195 388.5h1M215.5 392.5h1M195.5 390.5h1M203.5 385h1M194.5 389.5h1M199 386h1M211.5 386h1M196 388.5h1M214 393h1M215 391h1M201 384.5h1M215.5 393h1M195.5 388.5h1M214.5 393.5h1M193 388h1M215 390h1M202.5 383.5h1M210.5 386.5h1M205.5 385.5h1M209 385.5h1M213 395.5h1M202 383.5h1M190 389h1M205.5 385h1M212 387h1M194 388.5h1M191.5 391h1M213.5 394h1M195.5 385.5h1M193.5 388.5h1M209 384h1M211 393h1M192.5 392.5h1M211 386h1M194.5 385h1M205 393.5h1M196.5 389h1M193 392.5h1M195.5 391h1M200.5 386h1M207 396h1M213.5 389h1M200 395.5h1M208.5 394.5h1M212.5 395.5h1M198.5 393h1M208.5 385h1M207 393.5h1M210 384.5h1M193.5 385h1M199 393h1M214 388.5h1M215 387h1M207.5 395.5h1M210.5 393h1M210 387.5h1M202.5 393h1M193.5 393.5h1M207.5 386.5h1M204 395h1M197.5 386h1M216 391h1M203 385.5h1M212.5 389h1M213 392h1M212 388.5h1M208.5 395.5h1M206.5 383h1M205.5 383h1M193 391.5h1M214.5 392.5h1M216 390.5h1M195.5 393h1M210.5 385.5h1M197 391h1M210.5 393.5h1M208 386h1M207 384h1M213.5 387h1M201.5 394.5h1M215.5 392h1M209.5 386.5h1M203 385h1M194 390.5h1M197.5 386.5h1M212.5 392.5h1M196.5 385h1M210.5 388h1M205 384h1M195 391.5h1M200 386.5h1M202 384.5h1M214 394.5h1M196.5 385.5h1M207 394h1M191 388h1M194 388h1M197 390.5h1M191 391.5h1M204.5 395h1M199 386.5h1M214.5 395h1M190.5 390h1M192 392h1M203 383.5h1M210.5 395.5h1M203 395.5h1M191 389h1M192.5 386.5h1M204 395.5h1M214.5 394.5h1M197.5 394.5h1M207 386h1M190 387.5h1M211 394.5h1M195 386.5h1M191.5 389h1M192.5 388.5h1M196 390h1M194.5 394h1M193 389.5h1M200 384.5h1M199 394h1M200 386h1M195.5 387.5h1M197 388.5h1M214.5 387h1M194 391h1M206.5 386h1M208 395.5h1M217 391h1M195 394h1M193.5 387.5h1M211 395h1M213.5 387.5h1M210 385h1M196.5 392.5h1M198.5 387.5h1M204.5 384h1M193 385h1M190.5 389.5h1M199.5 395h1M206.5 394.5h1M198.5 394.5h1M189.5 388.5h1M203 384.5h1M193.5 389h1M207.5 394.5h1M203 394.5h1M213 391.5h1M191.5 389.5h1M192 391.5h1M208.5 384.5h1M197.5 393.5h1M205.5 393.5h1M211 387h1M196 390.5h1M196.5 393.5h1M214 391h1M200 384h1M206.5 386.5h1M215.5 391h1M194.5 386.5h1M198 395h1M201 385.5h1M199.5 385h1M211.5 394.5h1M192.5 386h1M209.5 384h1M206 385h1M202 383h1M215 393.5h1M192.5 389.5h1M195 390h1M198 395.5h1M195.5 389.5h1M193 394h1M213.5 390h1M194 385h1M194.5 392.5h1M201 395h1M203.5 394.5h1M191 389.5h1M198.5 395h1M209.5 384.5h1M214.5 389.5h1M195 392h1M196 391h1M201.5 383.5h1M209.5 394.5h1M194 386.5h1M196 394h1M211 385.5h1M206 384.5h1M207.5 383h1M195 390.5h1M206 393h1M189.5 389.5h1M207 385h1M190.5 387.5h1M211.5 388.5h1M196.5 387.5h1M198 387h1M205 386h1M194 391.5h1M194.5 389h1M193 387h1M191 390h1M206.5 384h1M205 394h1M204 393h1M195 393h1M202.5 384.5h1M212.5 395h1M194 385.5h1M194 389h1M215.5 390h1M195.5 387h1M212 388h1M202 385.5h1M211.5 393h1M202 384h1M192.5 388h1M204 394h1M192.5 391.5h1M211 396h1" stroke="#2c9ad8" stroke-width="1.3" stroke-opacity="0.9" fill="none"/>
<path d="M199 391h1M208.5 388.5h1M209 393h1M211 390.5h1M203 391.5h1M204 386.5h1M207.5 388.5h1M199.5 392h1M210.5 389.5h1M211 391.5h1M204 387.5h1M208.5 390h1M202.5 392.5h1M197.5 390h1M205.5 386.5h1M199.5 387.5h1M206.5 392.5h1M209 393.5h1M204 388h1M211.5 389h1M198 389h1M209.5 388.5h1M199 390h1M204.5 387h1M209 389.5h1M208 391.5h1M208 390h1M209 392.5h1M198.5 392.5h1M204 387h1M208.5 393.5h1M204.5 388h1M211 392h1M210 392.5h1M202.5 392h1M202.5 386h1M208 393.5h1M198.5 389h1M203.5 387.5h1M205.5 391h1M202.5 387h1M197.5 389.5h1M202.5 391.5h1M209.5 393h1M197 389h1M211.5 390.5h1M209 388.5h1M201.5 392.5h1M206 388.5h1M206.5 392h1M209.5 391.5h1M211.5 389.5h1M197.5 391h1M209.5 389h1M207.5 391h1M210 389h1M203.5 392.5h1M198.5 388h1M203 392.5h1M201 391h1M200 387.5h1M198 388h1M201.5 391.5h1M210 392h1M200.5 393h1M209.5 388h1M213 391.5h1M209.5 390.5h1M203.5 392h1M200 391.5h1M205.5 392.5h1M199 388.5h1M208 392.5h1M206.5 387h1M211 389.5h1M200 388.5h1M200.5 391h1M213 391h1M207 387.5h1M208.5 387h1M198 388.5h1M202 392h1M198.5 391h1M212 391.5h1M209 391h1M206 391.5h1M209.5 389.5h1M200.5 394h1M208.5 389.5h1M206.5 391.5h1M210 391h1M200.5 392h1M208.5 392.5h1M205 392h1M208.5 388h1M207 387h1M200.5 391.5h1M206 392.5h1M199.5 393h1M211.5 392.5h1M197.5 388h1M202.5 387.5h1M210.5 390h1M210 388.5h1M207 388.5h1M205 391.5h1M209 390.5h1M211 392.5h1M206 393h1M211.5 390h1M210 390.5h1M198.5 390.5h1M212.5 390.5h1M198 391h1M210 393h1M210 390h1M208 388h1M202 386h1M204.5 392h1M199.5 388h1M206.5 388h1M206 388h1M199 392.5h1M204.5 392.5h1M209.5 390h1M207.5 387h1M205.5 387.5h1M206 387.5h1M210.5 388.5h1M207 391h1M197.5 391.5h1M203 387.5h1M210.5 391h1M197.5 389h1M200.5 387.5h1M200 391h1M205.5 388h1M199.5 391.5h1M199.5 393.5h1M210.5 389h1M202 387h1M206.5 388.5h1M197 392.5h1M209.5 393.5h1M201 393.5h1M199.5 392.5h1M208.5 389h1M207 388h1M202.5 386.5h1M198 392.5h1M198 392h1M204.5 387.5h1M212 393h1M204 386h1M201 387h1M208.5 393h1M208.5 390.5h1M201 394h1M197.5 388.5h1M207 392h1M201.5 387h1M203 387h1M207.5 392h1M207.5 388h1M207.5 391.5h1M212.5 390h1" stroke="#40c0a0" stroke-width="1.3" stroke-opacity="0.9" fill="none"/>
<path d="M203 388.5h1M201.5 389h1M201 389.5h1M201.5 390.5h1M205 390.5h1M199.5 389h1M200.5 390h1M205 390h1M201.5 389.5h1M202.5 389.5h1M203 390.5h1M202 390.5h1M204 390.5h1M205 389h1M199.5 390h1M199.5 390.5h1M206.5 390.5h1M207.5 389.5h1M203 389h1M206.5 391h1M206 389h1M203 390h1M207.5 390.5h1M207.5 390h1M206 390h1M202 388h1M200.5 390.5h1M203.5 390.5h1M204.5 389.5h1M201.5 388.5h1M201 388.5h1M207 389.5h1M203.5 389.5h1M202.5 388h1M204.5 389h1M202.5 388.5h1M203 389.5h1M199 389.5h1M206.5 389.5h1M200 390h1M201 388h1M201 390.5h1M200 389.5h1M207 390.5h1M201 389h1M200.5 388.5h1M203.5 388.5h1M205.5 389.5h1M207 389h1M204.5 390h1M205.5 390h1M201 390h1M204 390h1M205.5 389h1M204 389h1M202.5 390h1M206 389.5h1M205.5 390.5h1M199 389h1M200.5 388h1M207.5 389h1M202.5 390.5h1" stroke="#b8d838" stroke-width="1.3" stroke-opacity="0.9" fill="none"/>
<line x1="157.0" y1="321.8" x2="337.6" y2="321.8" stroke="#8a8a8a" stroke-width="1.2" />
<line x1="337.6" y1="321.8" x2="337.6" y2="467.3" stroke="#8a8a8a" stroke-width="1.2" />
<line x1="157.0" y1="320.8" x2="157.0" y2="468.3" stroke="#222" stroke-width="1.6" />
<line x1="156.0" y1="467.3" x2="337.6" y2="467.3" stroke="#222" stroke-width="1.6" />
<path d="M152.0 467.3H157M154.5 460.0H157M154.5 455.7H157M154.5 452.7H157M154.5 450.3H157M154.5 448.4H157M154.5 446.8H157M154.5 445.4H157M154.5 444.2H157M157.8 467.3V472.3M166.8 467.3V469.8M172.0 467.3V469.8M175.7 467.3V469.8M178.6 467.3V469.8M181.0 467.3V469.8M183.0 467.3V469.8M184.7 467.3V469.8M186.2 467.3V469.8M152.0 443.1H157M154.5 435.8H157M154.5 431.5H157M154.5 428.5H157M154.5 426.1H157M154.5 424.2H157M154.5 422.6H157M154.5 421.2H157M154.5 419.9H157M187.6 467.3V472.3M196.6 467.3V469.8M201.8 467.3V469.8M205.5 467.3V469.8M208.4 467.3V469.8M210.8 467.3V469.8M212.8 467.3V469.8M214.5 467.3V469.8M216.0 467.3V469.8M152.0 418.8H157M154.5 411.5H157M154.5 407.2H157M154.5 404.2H157M154.5 401.8H157M154.5 399.9H157M154.5 398.3H157M154.5 396.9H157M154.5 395.7H157M217.4 467.3V472.3M226.4 467.3V469.8M231.6 467.3V469.8M235.3 467.3V469.8M238.2 467.3V469.8M240.6 467.3V469.8M242.6 467.3V469.8M244.3 467.3V469.8M245.8 467.3V469.8M152.0 394.6H157M154.5 387.3H157M154.5 383.0H157M154.5 380.0H157M154.5 377.6H157M154.5 375.7H157M154.5 374.1H157M154.5 372.7H157M154.5 371.4H157M247.2 467.3V472.3M256.2 467.3V469.8M261.4 467.3V469.8M265.1 467.3V469.8M268.0 467.3V469.8M270.4 467.3V469.8M272.4 467.3V469.8M274.1 467.3V469.8M275.6 467.3V469.8M152.0 370.3H157M154.5 363.0H157M154.5 358.7H157M154.5 355.7H157M154.5 353.3H157M154.5 351.4H157M154.5 349.8H157M154.5 348.4H157M154.5 347.2H157M277.0 467.3V472.3M286.0 467.3V469.8M291.2 467.3V469.8M294.9 467.3V469.8M297.8 467.3V469.8M300.2 467.3V469.8M302.2 467.3V469.8M303.9 467.3V469.8M305.4 467.3V469.8M152.0 346.1H157M154.5 338.8H157M154.5 334.5H157M154.5 331.5H157M154.5 329.1H157M154.5 327.2H157M154.5 325.6H157M154.5 324.2H157M154.5 322.9H157M306.8 467.3V472.3M315.8 467.3V469.8M321.0 467.3V469.8M324.7 467.3V469.8M327.6 467.3V469.8M330.0 467.3V469.8M332.0 467.3V469.8M333.7 467.3V469.8M335.2 467.3V469.8M152.0 321.8H157M336.6 467.3V472.3" stroke="#222" stroke-width="1.1" fill="none"/>
<text x="149.0" y="469.8" font-size="5.5" fill="#7a6a7a" text-anchor="end">10<tspan dy="-2.5" font-size="4.5">0</tspan></text>
<text x="158.8" y="481.3" font-size="5.5" fill="#7a6a7a">10<tspan dy="-2.5" font-size="4.5">0</tspan></text>
<text x="149.0" y="445.6" font-size="5.5" fill="#7a6a7a" text-anchor="end">10<tspan dy="-2.5" font-size="4.5">1</tspan></text>
<text x="188.6" y="481.3" font-size="5.5" fill="#7a6a7a">10<tspan dy="-2.5" font-size="4.5">1</tspan></text>
<text x="149.0" y="421.3" font-size="5.5" fill="#7a6a7a" text-anchor="end">10<tspan dy="-2.5" font-size="4.5">2</tspan></text>
<text x="218.4" y="481.3" font-size="5.5" fill="#7a6a7a">10<tspan dy="-2.5" font-size="4.5">2</tspan></text>
<text x="149.0" y="397.1" font-size="5.5" fill="#7a6a7a" text-anchor="end">10<tspan dy="-2.5" font-size="4.5">3</tspan></text>
<text x="248.2" y="481.3" font-size="5.5" fill="#7a6a7a">10<tspan dy="-2.5" font-size="4.5">3</tspan></text>
<text x="149.0" y="372.8" font-size="5.5" fill="#7a6a7a" text-anchor="end">10<tspan dy="-2.5" font-size="4.5">4</tspan></text>
<text x="278.0" y="481.3" font-size="5.5" fill="#7a6a7a">10<tspan dy="-2.5" font-size="4.5">4</tspan></text>
<text x="149.0" y="348.6" font-size="5.5" fill="#7a6a7a" text-anchor="end">10<tspan dy="-2.5" font-size="4.5">5</tspan></text>
<text x="307.8" y="481.3" font-size="5.5" fill="#7a6a7a">10<tspan dy="-2.5" font-size="4.5">5</tspan></text>
<text x="149.0" y="324.3" font-size="5.5" fill="#7a6a7a" text-anchor="end">10<tspan dy="-2.5" font-size="4.5">6</tspan></text>
<text x="337.6" y="481.3" font-size="5.5" fill="#7a6a7a">10<tspan dy="-2.5" font-size="4.5">6</tspan></text>
<line x1="270.3" y1="321.8" x2="270.3" y2="467.3" stroke="#3a3a3a" stroke-width="1.6" />
<line x1="157.0" y1="404.9" x2="270.3" y2="404.9" stroke="#3a3a3a" stroke-width="1.6" />
<text x="331.3" y="351.2" font-size="17.4" text-anchor="end" fill="#1e8a2e" >99.0%</text>
<text x="331.3" y="445.5" font-size="17.4" text-anchor="end" fill="#e0141c" >0.96%</text>
<text x="254.8" y="507.8" font-size="21" text-anchor="middle" fill="#000" >APC</text>
<text transform="translate(111.0,393.0) rotate(-90)" font-size="21" text-anchor="middle" fill="#000">CD59 (PE)</text>
<path d="M556.5 71.5h1M534 75h1M568 71.5h1M530 77.5h1M518.5 86.5h1M538 74h1M561 76h1M542.5 72h1M560 81h1M553.5 92h1M558.5 89.5h1M558.5 75h1M518 87h1M564 82.5h1M559 78h1M544.5 71h1M550.5 67h1M522 83.5h1M561.5 77.5h1M554 89.5h1M535.5 72.5h1M561 83.5h1M547.5 72.5h1M545 68.5h1M559.5 74.5h1M550.5 93.5h1M525.5 82h1M536 74h1M545.5 69h1M561 64.5h1M559 84.5h1M536 71.5h1M534.5 74h1M557 86h1M511 89h1M551 69h1M544 72h1M551.5 71.5h1M529.5 79.5h1M532.5 77h1M543.5 72h1M557 68h1M528 77.5h1M562 76h1M532 110.5h1M550 65.5h1M566.5 72.5h1M536 103h1M561.5 86h1M523.5 83h1M490 122.5h1M563.5 77.5h1M567.5 74.5h1M551 99.5h1M554.5 87.5h1M547 96h1M563 82h1M517 118.5h1M483 125h1M490 113.5h1M495.5 124.5h1M545.5 100h1M538 73.5h1M486 123.5h1M515 87.5h1M515.5 86h1M495.5 91.5h1M518.5 79h1M531.5 109h1M561 86h1M566.5 74.5h1M564 75h1M483.5 126h1M562 79.5h1M567.5 81h1M548 71h1M544.5 99.5h1M538.5 103.5h1M553.5 66.5h1M540 106h1M550.5 92.5h1M562.5 78.5h1M481.5 127.5h1M563.5 77h1M560.5 91h1M557 80h1M520 112.5h1M554 66h1M527 75h1M528.5 110h1M524.5 117h1M564 71h1M481.5 108.5h1M531 105.5h1M486.5 116h1M554 64h1M557.5 86.5h1M541 71h1M566.5 97h1M521.5 78.5h1M495 115.5h1M559.5 95.5h1M505.5 117.5h1M488 121h1M568.5 76h1M550 94h1M552.5 92.5h1M516 87.5h1M498.5 118h1M511.5 90h1M542 69h1M545 69.5h1M564 74.5h1M566.5 75.5h1M566 65h1M515 119h1M559.5 69h1M561.5 77h1M489.5 113h1M558 88h1M524.5 112h1M561.5 82.5h1M531.5 108.5h1M499 115.5h1M560.5 78h1M504.5 123.5h1M555.5 91.5h1M531.5 106h1M547 98h1M523 80h1M550 93.5h1M492.5 116.5h1M567 79h1M513.5 118h1M566 79h1M521 117h1M560 81.5h1M500 118h1M562 72.5h1M557 93h1M533 76h1M560.5 76h1M484.5 94h1M500 125h1M554 67h1M491.5 124.5h1M565 81.5h1M565.5 73.5h1M566.5 73.5h1M488.5 117h1M565.5 73h1M519.5 118h1M530 110h1M564 66.5h1M509 118h1M547 97h1M546 101.5h1M557 88h1M513.5 116.5h1M558 91h1M562.5 91.5h1M567 64.5h1M566 80.5h1M555.5 69h1M494 117h1M553.5 71h1M528 108.5h1M545 101.5h1M562.5 70.5h1M555 92h1M508.5 118.5h1M488.5 111h1M557 88.5h1M556.5 89h1M566 75h1M514.5 88h1M563 65.5h1M493.5 123h1M481 113.5h1M555 71h1M520.5 85h1M529.5 75h1M507 89h1M561 93h1M554 98.5h1M534.5 105.5h1M529.5 109.5h1M566.5 75h1M570 79h1M495 120h1M504.5 120h1M543 102h1M512.5 85h1M550.5 92h1M557.5 82.5h1M538 104.5h1M496.5 120.5h1M517 87h1M535.5 106h1M513 122.5h1M564.5 79h1M484 120h1M515.5 117h1M541.5 100.5h1M546 98.5h1M551.5 97h1M560 94h1M549 97h1M560.5 70.5h1M519.5 85h1M520.5 114.5h1M504.5 118h1M560 75.5h1M520.5 85.5h1M487 112h1M559 73.5h1M557 79.5h1M503 119.5h1M559.5 90h1M556 70.5h1M563.5 85h1M554 100.5h1M535.5 75h1M484 114.5h1M489 111.5h1M506 120h1M491.5 120h1M494.5 85.5h1M490 112.5h1M553.5 109.5h1M488 123h1M506.5 91h1M509 119h1M490.5 78h1M521 116h1M518.5 114h1M496 87.5h1M491.5 118h1M487.5 117h1M498.5 91h1M481.5 98.5h1M493.5 120h1M484.5 100h1M487 91.5h1M526 116h1M498 88.5h1M485.5 113.5h1M510 121.5h1M514.5 114.5h1M510 119.5h1M485 116h1M509 86.5h1M530 111h1M523.5 110.5h1M483.5 93.5h1M487 120.5h1M502.5 89h1M519.5 117.5h1M484.5 96h1M500 91.5h1M487.5 91.5h1M488.5 84.5h1M483.5 112h1M510 124h1M494 92.5h1M488.5 87.5h1M537.5 102h1M535 111.5h1M497 81h1M484 97h1M482.5 103.5h1M481 104.5h1M515.5 115.5h1M525.5 114h1M496 117h1M514.5 121.5h1M486.5 94.5h1M486 93h1M508 81.5h1M513.5 118.5h1M482.5 101.5h1M508.5 119h1M524.5 121h1M493.5 114.5h1M489 118.5h1M511.5 89.5h1M523 112.5h1M488.5 91h1M520 116h1M481.5 99.5h1M489.5 114h1M539.5 104.5h1M525 118h1M525 115.5h1M491.5 117.5h1M490 92.5h1M486.5 86h1M481.5 105h1M526 110h1M482 115.5h1M522 116h1M505.5 118.5h1M494 89h1M487.5 120.5h1M508 88.5h1M520 114.5h1M486 90.5h1M499 90h1M489.5 93.5h1M501 120h1M488 84.5h1M502.5 117h1M488.5 89h1M521.5 85h1M496 136.5h1M485.5 94h1M528.5 114.5h1M487 116h1M486 115h1M523 118h1M481.5 105.5h1M512.5 88.5h1M495 122.5h1M483 97.5h1M489 112.5h1M496 86h1M512.5 87.5h1M505.5 87h1M489.5 118.5h1M528 112h1M518.5 117.5h1M498.5 92h1M482 107.5h1M504.5 85.5h1M510.5 84h1M530.5 107.5h1M484 132h1M524 118h1M483.5 110.5h1M486.5 111h1M511 89.5h1M495.5 116.5h1M485 109.5h1M512.5 118.5h1M506.5 117.5h1M492 115.5h1M488.5 89.5h1M489 91.5h1M481.5 101h1M484.5 99.5h1M485 94.5h1M518 114.5h1M484 90.5h1M511.5 122.5h1M499 116h1M485.5 122.5h1M514.5 118h1M485.5 91.5h1M518.5 117h1M483 97h1M493.5 93h1M521.5 111.5h1M484 115h1M510.5 84.5h1M490 91h1M507 92h1M498 92h1M491.5 118.5h1M491 85.5h1M498 89h1M507 118h1M512 121.5h1M517.5 114.5h1M516 120h1M510 91h1M492 120.5h1M503.5 122h1M495 118h1M498 119.5h1M487 114h1M496 116h1M496.5 117.5h1M482.5 95.5h1M498.5 89.5h1M484.5 109.5h1M491.5 89.5h1M480.5 99h1M488 92h1M502 124.5h1M492 92.5h1M481 98.5h1M481 107.5h1M521 119h1M497 92h1M491.5 87.5h1M486.5 115.5h1M490.5 92.5h1M484 109.5h1M526.5 110h1M501.5 116.5h1M513 117.5h1M485 94h1M521.5 112h1M543.5 164.5h1M536 136h1M521 121h1M535 162.5h1M529 163.5h1M534 132h1M525.5 150.5h1M511 161h1M512 152h1M523.5 139.5h1M535.5 182h1M523.5 145.5h1M516.5 175h1M522 150h1M533 145.5h1M518 177.5h1M517.5 138.5h1M526 159h1M533 162h1M508.5 174.5h1M519.5 150.5h1M524 120h1M518.5 116.5h1M531 115h1M535.5 128h1M514.5 148.5h1M555.5 144.5h1M529.5 141h1M545 149h1M534 136h1M500.5 150h1M508 153h1M528 194.5h1M531 145.5h1M532.5 146h1M499 145h1M516 134.5h1M530.5 167.5h1M541 124.5h1M531 192.5h1M506.5 118.5h1M517 150h1M520 171.5h1M518.5 162h1M537.5 166.5h1M539.5 120.5h1M541 169.5h1M510 163h1M508 183.5h1M504.5 151.5h1M521 153.5h1M525.5 119h1M506.5 163h1M527.5 130h1M527.5 159.5h1M521.5 188.5h1M530 133.5h1M511 157h1M510 141h1M543 140h1M519 113h1M537 143h1M515.5 158.5h1M494.5 178h1M531 184h1M508 149h1M512.5 171h1M535.5 150h1M504 133.5h1M520.5 142.5h1M539 169.5h1M550.5 166h1M526 162.5h1M515.5 145h1M540 164.5h1M517.5 155h1M541.5 126h1M508 124h1M534 150h1M543.5 152h1M532.5 154h1M524.5 128h1M517.5 180h1M536.5 179h1M536.5 148h1M528.5 141h1M507.5 186h1M512 149h1M522 153h1M546 141h1M548.5 162.5h1M536.5 163h1M505.5 182h1M497 175.5h1M524 152h1M529.5 139h1M545 143.5h1M512 136.5h1M538 143h1M519 140h1M531 158.5h1M516 154.5h1M516.5 137h1M515 157h1M510 149.5h1M526.5 143.5h1M506.5 164h1M518 155h1M515 128.5h1M519.5 147h1M538.5 148h1M513.5 139h1M544.5 153.5h1M499 137h1M511.5 133.5h1M532.5 130.5h1M491.5 159.5h1M520 131.5h1M529 120h1M504.5 166.5h1M543 135h1M548 120.5h1M524.5 163h1M524 137.5h1M534.5 138h1M537 133h1M518 163h1M518.5 163.5h1M551 170h1M527 136h1M522 198h1M512.5 137.5h1M485.5 127h1M522 143h1M525 113.5h1M523 134h1M521.5 141.5h1M534.5 153.5h1M527.5 177.5h1M526.5 159.5h1M521.5 145h1M519.5 152h1M525.5 127h1M515 180.5h1M539 155.5h1M527.5 160.5h1M524 140.5h1M550.5 134.5h1M534.5 131h1M509 133.5h1M513 139.5h1M523 168h1M517.5 137h1M541.5 163h1M534 168h1M536 159h1M538 168.5h1M536 105h1M500.5 157h1M506 142.5h1M511 179h1M531 159h1M527 145h1M548 152.5h1M541 156h1M542 187.5h1M515.5 144h1M523 158h1M537 141h1M509.5 157.5h1M515.5 159.5h1M548 156h1M552 149h1M501 183h1M523 174h1M508 162.5h1M497.5 141h1M513 161.5h1M531 155.5h1M532 171.5h1M527 164.5h1M541 140h1M512.5 165h1M520 190.5h1M533.5 131.5h1M513 144.5h1M507.5 173h1M524 178.5h1M526 123.5h1M527.5 175.5h1M521.5 188h1M525 184h1M515 128h1M522.5 155h1M515 181.5h1M506.5 170h1M525 147h1M513 135.5h1M513 153.5h1M531 165.5h1M528 134.5h1M548 151.5h1M546 180h1M518.5 181h1M520 158.5h1M514.5 182h1M505.5 152h1M544 142h1M532.5 141h1M516 133h1M547 145h1M532.5 147h1M533.5 197h1M517.5 174h1M492 199.5h1" stroke="#6a6ad0" stroke-width="1.3" stroke-opacity="0.6" fill="none"/>
<path d="M552 77.5h1M555.5 80.5h1M512.5 98h1M547 89.5h1M550.5 74h1M544.5 73.5h1M539.5 76h1M543 75h1M540 77.5h1M519.5 93.5h1M548.5 75.5h1M552.5 85.5h1M527.5 82.5h1M553 73.5h1M550.5 78h1M535 79h1M531 78h1M551.5 73.5h1M535 98.5h1M526.5 85h1M556.5 83h1M554 80h1M528.5 82h1M530.5 81.5h1M529.5 84h1M545.5 75.5h1M524.5 84h1M530.5 82h1M553.5 79.5h1M519 90h1M547.5 93h1M552.5 72.5h1M557.5 75.5h1M557.5 75h1M552.5 76.5h1M532 80h1M543.5 93.5h1M552.5 86.5h1M523.5 90.5h1M538.5 76.5h1M536.5 75h1M533 80.5h1M554 84h1M537 75.5h1M544.5 75.5h1M538.5 75.5h1M549.5 87h1M555 73h1M548.5 89.5h1M530.5 80h1M524 88.5h1M554.5 84.5h1M554.5 73.5h1M547 89h1M527.5 102h1M533.5 102.5h1M548 77.5h1M510.5 96.5h1M528.5 83.5h1M548.5 75h1M530 82h1M552 84h1M553.5 75.5h1M540.5 98.5h1M526 85.5h1M551 80h1M551 73.5h1M551 76h1M547 73.5h1M551.5 79.5h1M556 76h1M519.5 103.5h1M539 77h1M524 86.5h1M526.5 85.5h1M544 72.5h1M534 79.5h1M548.5 74.5h1M553.5 85.5h1M538 75.5h1M528.5 81h1M524 87.5h1M527 85.5h1M547.5 90.5h1M525.5 86.5h1M552.5 74.5h1M553 85.5h1M555.5 73.5h1M551 77.5h1M553 73h1M535.5 78.5h1M552.5 74h1M534 80.5h1M530 100.5h1M549.5 75h1M548.5 89h1M547 75h1M518 95h1M508 108.5h1M549.5 86h1M547.5 76h1M548 76h1M545 76h1M549 77h1M535.5 77h1M522 84.5h1M553 74h1M542.5 75h1M545 95.5h1M535 99.5h1M553 82.5h1M530 102.5h1M546.5 91h1M553.5 73.5h1M525 88h1M546 91h1M540.5 96.5h1M526.5 104h1M554 86.5h1M521.5 88h1M523 83.5h1M541 76.5h1M522.5 90.5h1M554 77h1M512 97h1M526.5 86h1M546.5 75.5h1M545.5 96h1M537.5 77.5h1M523.5 88.5h1M534.5 80h1M522 85.5h1M553 76h1M527 101.5h1M556 72.5h1M522.5 87h1M548 72.5h1M524 84.5h1M540 76.5h1M537.5 77h1M521.5 92h1M531 82.5h1M523.5 105h1M544.5 74.5h1M540.5 76.5h1M531.5 82.5h1M528 102h1M554.5 79.5h1M557.5 76h1M524 86h1M528.5 84.5h1M551.5 77.5h1M533 100h1M551 79h1M541.5 94h1M543 75.5h1M550.5 77h1M548.5 76h1M546 76h1M525.5 85h1M532.5 80h1M531 104.5h1M529 84.5h1M528.5 84h1M553 79h1M552 86.5h1M553 81.5h1M546.5 75h1M543 76.5h1M543.5 75h1M511 94h1M554 79.5h1M531 79.5h1M523.5 83.5h1M536 77.5h1M554.5 87.5h1M536.5 79.5h1M554.5 83.5h1M542 76h1M557 74.5h1M533.5 80.5h1M532.5 80.5h1M547.5 89h1M531 81.5h1M512.5 93h1M510.5 95h1M529 82.5h1M503.5 100h1M512.5 94h1M527 83h1M537 78.5h1M528 107.5h1M520 91h1M524.5 84.5h1M527 103h1M520.5 88h1M544 96h1M524 102.5h1M511 108h1M532 100h1M523 90.5h1M551.5 86.5h1M527.5 103.5h1M552.5 84.5h1M551.5 76.5h1M518 110h1M506.5 94.5h1M488 107.5h1M537 99.5h1M503 102h1M511 112.5h1M542.5 98.5h1M547 93.5h1M519 90.5h1M512.5 100.5h1M525.5 105.5h1M504 109h1M553 83.5h1M521.5 104.5h1M518 104.5h1M516 111h1M520.5 86.5h1M554.5 81h1M516 107.5h1M549.5 92h1M506 97h1M509.5 98h1M510.5 113.5h1M512.5 110.5h1M520 111h1M511.5 91.5h1M529.5 101h1M539 97.5h1M523 88h1M497 104.5h1M544 98.5h1M511.5 110h1M503.5 95h1M552 80.5h1M492 109h1M516.5 98h1M550.5 86.5h1M526 87h1M510 107.5h1M556.5 74h1M497.5 108.5h1M541 97h1M516 106h1M522 87h1M555.5 83h1M539.5 99h1M553.5 86h1M540 98h1M542 98.5h1M509 111.5h1M545.5 91.5h1M485 105h1M499.5 111.5h1M509.5 112.5h1M491.5 96.5h1M516 94.5h1M540.5 77h1M545.5 93.5h1M494 107.5h1M518 106.5h1M496 107.5h1M549.5 91.5h1M493.5 109h1M554 79h1M515 95h1M522 92.5h1M497 110h1M542.5 95.5h1M530.5 102h1M507.5 94.5h1M526 109.5h1M546 93.5h1M511.5 108h1M503 113h1M516 109.5h1M534 99h1M523 108h1M549.5 77h1M528 103h1M520 93h1M543 76h1M502 94h1M520 106.5h1M525 103h1M514.5 89.5h1M551.5 86h1M508.5 93.5h1M503.5 111.5h1M535.5 79.5h1M523.5 102h1M526.5 107h1M512.5 109h1M555 77h1M517 88h1M546 90.5h1M555 79h1M521 105h1M522.5 106h1M514 89h1M548.5 76.5h1M519 93h1M507.5 110h1M527 86h1M551 87h1M548 75.5h1M511.5 116h1M512.5 96.5h1M510 114.5h1M535.5 100h1M502.5 108h1M517 91.5h1M502.5 103.5h1M530.5 105.5h1M506 94.5h1M512 109h1M512.5 98.5h1M507 93.5h1M528.5 101.5h1M546 89.5h1M515 108h1M520.5 103.5h1M520 109.5h1M491 106h1M501.5 96h1M513.5 109.5h1M518 94h1M493 104.5h1M492.5 100.5h1M538 75h1M533.5 99.5h1M524.5 103.5h1M515 110h1M542.5 96h1M544.5 92.5h1M505.5 108.5h1M511.5 98.5h1M509.5 98.5h1M542 94.5h1M496 102h1M522 102.5h1M546.5 95.5h1M499 105h1M515 98h1M552.5 87h1M527.5 83.5h1M500 105h1M553 75h1M512.5 115.5h1M499 112.5h1M507.5 108h1M518.5 92h1M502 102.5h1M524.5 102.5h1M529 100.5h1M500.5 101.5h1M497.5 114.5h1M495 106.5h1M502.5 102h1M536 100h1M503 108.5h1M531.5 81h1M544.5 95h1M551.5 89.5h1M511 98.5h1M497.5 109h1M527 101h1M505.5 115.5h1M518.5 94.5h1M518.5 92.5h1M499 102.5h1M519 92h1M520.5 107.5h1M504.5 114.5h1M521 106h1M491.5 106h1M491 100h1M534.5 77h1M505 108.5h1M533 77.5h1M501 109h1M526 103.5h1M517.5 94h1M520 103.5h1M551.5 88h1M556.5 82.5h1M510.5 94h1M508 107.5h1M540 97.5h1M513 101.5h1M556 81.5h1M508.5 110h1M493 111h1M520.5 105.5h1M517.5 108.5h1M541.5 96h1M497.5 103.5h1M518 92.5h1M504.5 99h1M547.5 92h1M527.5 104.5h1M510.5 94.5h1M534 102.5h1M553 76.5h1M517.5 96h1M522 106h1M537 101.5h1M518.5 104.5h1M543.5 97.5h1M522.5 103h1M523 105h1M494.5 111h1M537 99h1M510.5 111.5h1M509 99h1M557 73.5h1M501.5 104.5h1M537 98h1M538.5 100.5h1M510.5 95.5h1M493 109h1M495 100h1M494 109.5h1M554.5 80.5h1M493.5 106h1M499.5 97h1M501 110.5h1M550.5 76h1M511.5 94h1M498 99h1M555.5 78h1M537.5 99h1M552 87.5h1M516 113.5h1M531.5 79.5h1M522 107h1M552 76h1M523 105.5h1M546.5 90.5h1M553.5 79h1M499.5 98h1M531 101h1M552.5 87.5h1M540.5 99h1M513.5 113h1M489 110h1M515.5 108h1M503.5 102h1M514.5 95h1M524.5 109.5h1M516 95h1M548.5 87h1M497.5 113.5h1M520.5 104h1M550.5 86h1M494.5 94h1M506.5 97h1M505.5 100h1M505.5 100.5h1M501.5 103.5h1M528.5 103h1M505 110h1M515.5 109.5h1M508.5 114h1M511 96h1M523.5 91.5h1M514.5 94.5h1M546 97.5h1M521 101.5h1M518 110.5h1M496.5 104h1M507 107h1M515.5 97.5h1M507 108.5h1M519.5 93h1M538 97.5h1M525.5 106h1M523.5 103.5h1M530 104.5h1M522.5 90h1M505.5 92.5h1M526.5 105h1M492 105h1M522 104h1M518 111h1M518 111.5h1M522 102h1M527.5 100.5h1M520 92.5h1M497.5 102.5h1M509 108h1M497.5 105.5h1M540 99.5h1M515 96.5h1M548 90.5h1M509 107.5h1M498.5 95.5h1M490.5 98h1M523.5 85.5h1M544 96.5h1M550 89h1M508 99h1M545 91.5h1M510.5 107.5h1M518 93h1M547.5 91h1M546.5 93h1M484 108h1M536.5 74.5h1M517.5 107h1M524 103h1M506.5 114.5h1M546.5 90h1M555.5 80h1M515 107.5h1M511 109.5h1M493.5 114h1M551 88.5h1M513 94.5h1M524.5 88h1M521 102h1M513.5 88.5h1M517 95h1M503 107.5h1M527 105h1M508 107h1M518 103h1M552.5 85h1M515 90.5h1M515 94.5h1M505.5 114.5h1M492.5 96.5h1M540 96.5h1M552.5 77h1M555.5 86h1M555 82.5h1M525.5 83h1M493.5 103.5h1M498.5 98.5h1M529 105.5h1M505.5 96.5h1M520.5 90h1M508.5 98h1M505.5 109.5h1M555 76h1M531.5 103.5h1M511.5 97.5h1M549.5 76.5h1M525.5 107h1M518.5 108h1M522 89.5h1M517.5 91h1M530 83h1M541 74h1M497.5 105h1M549 74.5h1M509.5 107.5h1M527 107h1M510.5 110h1M516.5 89.5h1M550 90h1M524 106h1M553.5 83.5h1M546.5 94h1M531 105h1M544 94.5h1M496.5 108h1M523.5 91h1M535 100h1M507.5 98h1M497.5 102h1M530 105.5h1M518 91h1M525 106h1M555 79.5h1M521.5 106h1M555.5 81.5h1M515.5 95h1M516.5 90h1M495.5 115h1M522.5 92.5h1M548.5 91h1M536.5 99.5h1M531 101.5h1M515.5 94h1M511 108.5h1M536 102h1M504 101h1M505 99h1M498.5 112.5h1M525.5 104h1M495.5 101h1M535.5 102h1M488.5 107h1M534 100h1M546.5 96h1M539.5 97h1M541.5 77h1M516 91h1M519.5 107h1M510 97.5h1M499.5 110.5h1M518 103.5h1M553 82h1M504.5 109h1M551.5 80.5h1M555.5 74h1M549.5 74.5h1M534 101h1M533 100.5h1M507.5 96h1M499 104.5h1M504 108h1M492 107h1M509.5 112h1M518.5 102.5h1M504.5 115h1M513 100.5h1M494 101.5h1M497.5 106h1M498 102.5h1M519.5 104.5h1M508.5 114.5h1M494.5 101.5h1M495.5 112h1M495.5 103.5h1M500 109.5h1M486 105.5h1M501.5 107h1M487 94h1M511.5 108.5h1M491.5 99h1M510 97h1M493 105h1M510 108.5h1M511.5 113.5h1M501.5 96.5h1M499 109h1M505.5 111.5h1M493.5 100.5h1M505 93.5h1M517.5 108h1M503.5 95.5h1M537.5 100h1M500.5 101h1M488.5 108.5h1M529 103.5h1M517.5 109h1M510.5 114h1M516 97h1M490 99h1M502 108h1M501 104.5h1M494.5 110.5h1M501.5 105h1M498.5 107h1M514.5 109.5h1M503 102.5h1M496 101h1M511.5 95.5h1M504.5 113h1M492.5 95h1M536.5 99h1M510 96.5h1M484.5 103.5h1M494 102.5h1M500 106.5h1M487.5 105h1M492.5 103.5h1M488.5 103h1M502 112.5h1M508 97h1M497 99.5h1M492.5 111.5h1M496.5 106h1M515 98.5h1M531 100.5h1M522 106.5h1M487 96h1M494 113h1M486.5 97h1M501.5 111h1M492.5 102.5h1M505 115.5h1M511.5 111.5h1M485.5 97h1M492 104.5h1M523.5 89.5h1M497 102.5h1M483 102.5h1M516.5 88h1M496 97.5h1M494 110.5h1M511 97.5h1M487.5 108.5h1M499.5 102.5h1M486 108.5h1M501 98h1M492.5 109.5h1M484.5 102.5h1M520 92h1M501 94.5h1M501.5 98h1M506.5 93.5h1M495 94h1M532 104h1M509 114.5h1M483.5 104.5h1M483.5 107h1M526 104.5h1M507 97h1M525.5 106.5h1M495 105.5h1M517 106.5h1M500.5 100.5h1M491 99h1M500.5 103h1M514.5 111.5h1M496 97h1M512 108.5h1M519 105h1M484 106.5h1M494.5 106.5h1M498.5 99.5h1M495.5 104h1M491 110h1M497.5 104.5h1M486 106.5h1M489.5 105h1M503.5 94h1M486 105h1M487 105.5h1M506 111h1M515.5 99.5h1M515.5 112h1M504.5 100.5h1M500 102.5h1M497.5 114h1M513 100h1M525.5 102h1M505.5 110h1M495.5 104.5h1M498 100.5h1M504.5 110h1M484 103h1M507.5 109h1M498 109h1M501 97.5h1M494.5 108h1M489.5 105.5h1M502.5 107h1M501.5 95.5h1M489.5 107.5h1M503.5 111h1M495.5 101.5h1M499.5 106h1M492.5 104h1M499 113.5h1M498.5 94.5h1M488 100.5h1M498.5 115.5h1M494 95.5h1M495.5 99h1M500 97.5h1M521 89h1M498.5 103.5h1M515 97h1M484.5 108h1M510 115.5h1M502.5 113.5h1M516.5 108h1M513.5 92.5h1M508 110h1M509 114h1M529 101h1M513.5 90h1M488 95.5h1M487 103.5h1M488.5 99h1M488.5 105h1M488 104h1M518.5 95.5h1M488 109h1M516 88.5h1M489.5 97h1M489 94.5h1M510 96h1M487.5 108h1M487.5 102h1M494.5 105.5h1M497 94h1M490.5 99h1M492 103h1M496.5 96h1M489.5 104.5h1M496.5 106.5h1M492 97.5h1M492 108h1M487 106h1M493 99h1M504.5 110.5h1M525 104h1M507.5 99h1M492.5 102h1M488.5 104.5h1M527.5 103h1M497.5 111.5h1M512 99.5h1M495 97.5h1M519.5 106h1M500.5 108.5h1M508.5 113h1M491 107.5h1M496 106.5h1M519 92.5h1M515.5 93h1M509 107h1M495.5 97.5h1M503 95h1M490.5 99.5h1M501.5 109h1M483.5 103h1M522 91.5h1M525.5 102.5h1M492 110.5h1M504 112h1M518 87.5h1M502.5 97.5h1M506 109h1M491 103.5h1M490 110.5h1M518 104h1M507 98h1M517 104h1M488.5 101h1M497.5 94h1M516.5 109h1M496.5 96.5h1M486.5 104.5h1M521 103h1M501.5 93.5h1M487 99.5h1M501.5 105.5h1M498 94h1M502 100.5h1M503.5 107h1M523 107.5h1M494 93.5h1M495 109.5h1M490 95h1M521 106.5h1M487 105h1M508 111.5h1M489 98.5h1M523 104h1M510 92h1M485 99h1M489 94h1M496 95h1M507 114.5h1M490.5 108h1M486.5 98.5h1M493.5 102.5h1M512.5 109.5h1M494.5 99.5h1M488 100h1M497 103.5h1M498 98h1M502.5 98.5h1M502 107h1M492.5 107.5h1M508.5 96.5h1M497 93.5h1M497 112h1M497.5 101.5h1M506 98h1M488 102h1M493.5 96.5h1M530 101h1M487.5 93.5h1M521.5 110.5h1M495 108h1M502 111h1M528 105.5h1M498.5 100h1M507.5 97h1M494.5 107h1M502 109.5h1M498 111h1M499 98.5h1M502 110.5h1M497 109.5h1M543.5 97h1M492.5 96h1M496 103.5h1M511 111.5h1M504.5 112h1M502 101h1M523.5 108.5h1M501 104h1M501 111.5h1M514.5 92.5h1M491 101.5h1M512 98h1M511 110.5h1M496 114.5h1M503.5 107.5h1M501.5 111.5h1M486 104h1M504.5 97h1M504.5 95.5h1M509 115.5h1M515.5 98.5h1M496.5 102.5h1M495.5 109.5h1M499 97h1M501.5 110h1M509 92h1M518 106h1M499.5 111h1M512 113.5h1M494.5 112h1M500 95h1M491.5 105h1M496 108h1M504.5 101h1M498.5 114.5h1M506.5 109h1M492.5 110h1M495 100.5h1M486 96.5h1M522.5 101.5h1M525 108h1M515 100h1M506.5 110.5h1M483.5 106.5h1M492.5 104.5h1M494.5 105h1M489.5 102.5h1M509 113.5h1M517.5 112h1M495.5 100h1M497 112.5h1M493 100h1M491 95h1M502 92.5h1M504 99h1M500 114.5h1M504.5 93h1M499 96.5h1M499.5 115h1M507 108h1M495 96h1M493 104h1M514.5 95.5h1M483 105h1M493.5 110.5h1M513.5 112.5h1M530 101.5h1M499.5 96h1M504 97.5h1M500.5 104.5h1M514.5 108h1M503 98.5h1M508.5 99h1M499 100.5h1M490.5 98.5h1M494.5 114h1M525.5 107.5h1M513.5 99h1M499 110h1M496.5 97.5h1M499 95.5h1M489 102h1M501.5 112h1M515 111.5h1M507.5 108.5h1M504.5 97.5h1M483 106.5h1M497 105h1M522.5 105.5h1M489 106h1M498.5 110h1M490 103h1M511.5 99.5h1M483.5 107.5h1M486.5 103.5h1M485 96h1M495.5 97h1M490 104.5h1M504.5 98.5h1M493.5 99.5h1M502 113.5h1M504.5 93.5h1M498 96.5h1M508.5 97.5h1M523.5 109h1M491.5 103.5h1M522 103h1M515.5 106.5h1M511.5 117h1M493.5 109.5h1M495.5 110.5h1M520 102.5h1M491.5 100.5h1M523 103h1M514.5 90.5h1M524.5 88.5h1M488.5 104h1M498 113h1M488 99.5h1M522.5 91.5h1M504 94h1M491.5 101h1M505 96h1M488 98h1M485.5 103.5h1M491 97h1M490 98h1M485.5 102.5h1M493.5 107h1M488.5 99.5h1M514.5 110.5h1M513.5 111h1M500.5 106.5h1M494.5 99h1M504.5 108h1M516 96h1M491.5 98h1M496 93h1M497.5 99h1M511.5 96.5h1M506.5 98.5h1M516 108h1M489 101.5h1M520.5 106.5h1" stroke="#2a34a0" stroke-width="1.3" stroke-opacity="0.9" fill="none"/>
<path d="M515 101.5h1M533 83h1M520 97.5h1M540 79h1M528.5 97.5h1M546.5 78.5h1M536 80h1M536.5 80.5h1M547 77.5h1M546 77.5h1M543 88.5h1M529.5 96.5h1M523 95h1M548 79h1M543.5 78h1M515.5 102.5h1M542.5 91.5h1M523.5 95h1M545 77.5h1M530 86h1M544.5 88h1M532.5 96.5h1M528.5 87.5h1M550.5 80h1M522.5 95h1M545 89.5h1M525 99h1M522.5 99.5h1M549 81.5h1M545 88h1M540.5 77.5h1M539 78h1M543 78.5h1M551.5 82.5h1M519.5 98h1M532.5 84h1M543 91h1M517.5 101h1M548.5 85h1M529 85.5h1M544 90.5h1M539.5 78.5h1M550.5 81h1M551.5 80.5h1M544 77.5h1M531.5 97h1M533 96.5h1M526 95h1M539 96.5h1M533.5 82h1M545.5 91h1M544 88h1M534.5 81h1M547.5 79h1M531.5 84.5h1M527.5 88.5h1M547.5 87h1M540 94.5h1M522 100h1M519 98.5h1M527 86.5h1M548 79.5h1M549.5 80h1M520.5 100h1M527 91.5h1M543.5 77.5h1M544.5 77.5h1M527.5 87h1M539.5 94.5h1M527.5 90.5h1M549 80h1M545.5 90h1M544.5 91h1M549 85.5h1M521.5 98h1M541.5 95h1M551.5 85h1M543 77.5h1M530 86.5h1M526 97h1M522.5 91.5h1M551.5 83h1M538.5 80h1M526.5 96h1M546 78h1M543 92h1M535 95.5h1M526.5 91h1M524 95h1M544 78h1M532.5 82h1M551.5 83.5h1M527.5 90h1M552 82.5h1M551 83h1M530.5 85.5h1M535 81.5h1M515 102h1M532 83h1M535.5 81h1M547.5 85h1M543 78h1M550 82.5h1M545.5 88.5h1M521 93.5h1M542 77h1M545 78h1M547 77h1M549.5 83h1M547.5 77h1M539 95h1M542.5 77.5h1M549.5 81.5h1M537.5 80h1M545.5 89h1M544.5 78h1M538 79.5h1M517.5 98h1M536 96h1M525.5 96h1M545.5 88h1M550.5 79.5h1M547.5 78h1M550 81h1M545.5 87.5h1M540.5 93.5h1M527.5 97h1M533.5 98h1M527 95h1M548 86.5h1M541.5 93.5h1M524.5 94.5h1M549.5 82.5h1M538.5 77.5h1M534.5 98.5h1M529.5 87h1M543.5 90.5h1M530 98.5h1M540 94h1M545 90h1M532.5 84.5h1M518.5 100h1M534 81h1M549.5 78.5h1M528 88h1M535 96.5h1M530.5 85h1M548.5 79h1M540.5 79h1M526 92h1M549 85h1M516.5 101h1M535.5 96h1M550.5 84h1M533 98.5h1M551.5 82h1M542 78h1M527 87h1M533.5 82.5h1M525 89h1M519 99h1M552.5 83h1M550 84h1M533 97.5h1M544.5 90.5h1M518.5 98.5h1M550 82h1M542 93h1M539.5 78h1M526.5 90.5h1M527.5 87.5h1M525.5 94.5h1M530.5 97h1M528.5 86h1M538 79h1M524.5 98h1M537.5 79h1M522.5 97h1M549.5 84h1M538 95.5h1M531.5 85.5h1M546.5 78h1M529.5 85h1M523.5 94h1M523 92.5h1M524.5 90.5h1M520.5 99h1M531 99h1M533 97h1M531.5 85h1M543 91.5h1M526 101h1M518 100h1M525.5 98.5h1M532.5 82.5h1M549.5 86h1M521.5 96.5h1M527 97h1M524.5 93h1M528.5 86.5h1M538.5 97h1M538.5 79.5h1M525 100.5h1M540 78.5h1M550 81.5h1M529.5 97h1M535.5 95.5h1M528.5 85h1M527 98.5h1M539.5 79h1M550.5 84.5h1M525 90h1M534.5 82.5h1M538.5 95.5h1M520 96.5h1M528.5 89.5h1M508 102h1M526.5 89h1M506.5 100.5h1M540 79.5h1M527.5 95h1M543.5 92h1M515 106.5h1M529 95.5h1M547.5 79.5h1M544 89h1M532.5 97.5h1M533.5 97.5h1M542.5 90.5h1M512 104.5h1M510.5 103h1M506 106h1M517 99.5h1M514 104h1M526.5 100h1M511 105.5h1M550 80h1M523.5 93.5h1M520.5 94.5h1M524 94.5h1M517 98.5h1M538.5 80.5h1M548 87.5h1M507 100h1M542 76.5h1M533.5 98.5h1M510 102.5h1M520.5 97h1M523.5 100.5h1M532 84h1M517.5 100.5h1M533 99.5h1M504 104.5h1M543.5 90h1M529 96h1M525.5 97.5h1M520.5 95.5h1M523 97.5h1M509 106.5h1M512 102.5h1M524 91.5h1M507.5 104h1M527 94.5h1M541.5 94.5h1M531.5 97.5h1M532.5 99.5h1M511 103h1M528 97h1M535 98h1M518 99h1M523.5 98.5h1M524.5 99h1M516.5 100.5h1M520 99h1M511 102.5h1M523.5 99h1M521.5 98.5h1M525 92.5h1M516.5 98.5h1M537.5 96.5h1M519 100.5h1M523 94h1M517.5 96.5h1M508.5 104h1M530.5 84.5h1M523 92h1M523 100.5h1M538.5 96.5h1M532 82.5h1M523.5 101.5h1M531.5 99.5h1M513 106h1M520.5 97.5h1M527.5 99.5h1M516.5 104h1M508 104.5h1M515.5 99.5h1M522 92.5h1M513 104h1M519 98h1M535.5 97.5h1M517.5 101.5h1M510 101h1M507.5 102h1M512 104h1M547 78h1M515 107h1M537 79h1M521.5 93.5h1M502.5 106.5h1M502 103.5h1M509 100.5h1M526 98.5h1M522.5 99h1M528 100.5h1M504 106.5h1M537 97.5h1M520.5 98.5h1M509.5 100h1M525.5 90h1M531.5 98.5h1M526 94h1M526 98h1M521 96.5h1M531 98h1M546 87h1M522 96.5h1M514 103h1M512.5 101.5h1M522.5 100.5h1M520.5 94h1M528 98.5h1M542.5 92h1M510 106.5h1M512 107.5h1M525.5 101h1M524 99h1M523 96h1M513.5 105.5h1M536.5 96h1M517.5 99h1M539 95.5h1M506.5 104h1M515.5 102h1M531 97.5h1M526 91.5h1M514.5 104.5h1M526 95.5h1M523.5 99.5h1M543.5 92.5h1M515.5 105h1M518 97h1M515.5 107h1M523.5 95.5h1M518 101.5h1M549 81h1M528.5 99h1M514.5 104h1M531.5 82.5h1M510 100.5h1M532.5 99h1M524.5 99.5h1M524.5 101h1M516.5 99h1M504.5 105h1M527.5 95.5h1M513.5 106.5h1M509.5 103.5h1M525 95.5h1M505 105.5h1M515.5 106.5h1M506.5 104.5h1M521.5 99.5h1M538.5 95h1M513.5 105h1M510.5 99.5h1M533 82.5h1M535.5 96.5h1M514 103.5h1M521.5 92.5h1M531.5 96.5h1M517 100h1M525 92h1M520 100.5h1M522.5 101h1M517 101h1M509.5 102h1M543.5 89.5h1M525.5 95h1M536 97h1M521 99.5h1M524.5 92.5h1M525 97h1M502.5 105.5h1M524 101h1M506 102h1M509.5 99.5h1M518.5 98h1M525.5 96.5h1M515 105h1M525 90.5h1M526 89.5h1M534 98h1M505.5 107h1M533 83.5h1M519.5 94h1M502 104h1M545 89h1M522 98h1M505.5 105.5h1M505.5 101h1M505.5 105h1M508.5 101.5h1M515 104.5h1M521 100.5h1M510.5 100h1M523.5 96h1M511.5 108h1M511.5 102.5h1M520 97h1M547 86.5h1M525.5 97h1M543 93.5h1M543.5 91h1M509.5 101h1M547 86h1M550.5 83h1M530.5 99h1M518 98h1M502.5 105h1M527.5 99h1M524 92h1M519.5 101.5h1M508.5 101h1M505.5 100.5h1M516.5 102.5h1M525.5 98h1M514 101h1M528.5 99.5h1M517.5 102h1M537 95.5h1M517.5 97h1M519.5 98.5h1M530 99h1M513.5 108h1M548.5 86.5h1M541 92.5h1M520.5 99.5h1M519.5 101h1M549 84h1M547 80.5h1M515 103h1M511.5 103.5h1M507.5 103.5h1M526.5 90h1M530.5 95.5h1M514 107.5h1M516 101h1M522 94h1M508.5 102h1M544 90h1M511.5 105h1M545 90.5h1M527.5 100h1M529.5 96h1M539.5 95h1M526.5 99h1M514.5 102.5h1M508.5 103h1M520.5 101h1M528 88.5h1M508 99.5h1M522 96h1M528 99h1M530 97h1M512 106.5h1M522.5 98.5h1M527.5 98h1M536 98.5h1M538 94.5h1M546.5 88.5h1M534.5 98h1M524.5 96h1M521.5 100h1M511 101.5h1M513 102h1M548 85.5h1M551 81.5h1M507 106h1M551 82.5h1M513.5 101.5h1M536.5 96.5h1M515 103.5h1M525.5 90.5h1M519 100h1M511.5 101.5h1M504.5 103h1M505.5 103h1M507 106.5h1M508 101.5h1M509.5 100.5h1M519.5 100h1M525 98h1M509 102.5h1M505 100.5h1M506.5 102h1M525 101h1M512.5 102.5h1M503.5 105.5h1M510.5 107h1M509.5 104h1M504.5 102h1M518.5 96h1M515 102.5h1M502.5 106h1M506.5 103.5h1M513.5 102h1M511.5 102h1M503 106h1M519.5 97h1M510 107.5h1M516 98.5h1M507.5 102.5h1M506.5 105h1M505.5 102.5h1M505 104.5h1M507.5 106h1M535 97h1M504.5 104h1M505.5 104h1M515.5 104.5h1M510.5 105h1M526.5 99.5h1M507.5 104.5h1M502 106h1M509.5 104.5h1M504 102h1M512.5 102h1M516 104.5h1M503.5 103.5h1M518.5 100.5h1M507 101.5h1M510 105h1M514 105h1M512 101h1M505 102.5h1M507 105.5h1M515.5 103.5h1M504.5 105.5h1M504 103.5h1M513 108h1M505 106h1M513 102.5h1M517 99h1M503.5 106h1M506 106.5h1M509 105.5h1M504.5 107h1M513 103.5h1M519 102.5h1M504 104h1M509 100h1M518.5 99h1M514 104.5h1M514 102h1M530.5 98.5h1M516 99.5h1M515.5 104h1M507 103.5h1M519 95.5h1M504 102.5h1M510 105.5h1M506 102.5h1M508 102.5h1M509.5 106h1M508.5 104.5h1M512.5 107h1M513.5 107h1M502.5 104.5h1" stroke="#2c9ad8" stroke-width="1.3" stroke-opacity="0.9" fill="none"/>
<path d="M542 79.5h1M536 94h1M536 82h1M530 89h1M543 87.5h1M544 80.5h1M528.5 94h1M536 94.5h1M529.5 92h1M541 91h1M541 80.5h1M548 81.5h1M541 90.5h1M532 94.5h1M532.5 86h1M535 83.5h1M540 89h1M543 79.5h1M527 93.5h1M540 89.5h1M545.5 85h1M547.5 81.5h1M531 94h1M545 80.5h1M544.5 86h1M536 95h1M527.5 92.5h1M541 87.5h1M539 82.5h1M539 92h1M531 86h1M545.5 80h1M547.5 84.5h1M539.5 81h1M535.5 93h1M547 85h1M541.5 88.5h1M535.5 94h1M545 85h1M548 83.5h1M530.5 88h1M541 87h1M536.5 94h1M530.5 93h1M536.5 82h1M539.5 80.5h1M535.5 84h1M529 88.5h1M531 93.5h1M536.5 93h1M544.5 79.5h1M538.5 81h1M529.5 93.5h1M531.5 89.5h1M547 84.5h1M545 79.5h1M543.5 78.5h1M537 82.5h1M533 85h1M541.5 89.5h1M532 95.5h1M545.5 85.5h1M533.5 82.5h1M546.5 82h1M528 95.5h1M534 92.5h1M540.5 80.5h1M528 90.5h1M529.5 89.5h1M537 83h1M546.5 81.5h1M532 93.5h1M532 86.5h1M543 86h1M530 88h1M541.5 86.5h1M537 93.5h1M545.5 82h1M543 88h1M539.5 93h1M548.5 83.5h1M531 94.5h1M540 81h1M547 83.5h1M544.5 85h1M528 95h1M545 87h1M542 86.5h1M537.5 94h1M531.5 95h1M545.5 86h1M531.5 85h1M545 81h1M545.5 79.5h1M543.5 86h1M537.5 94.5h1M527 94h1M544 85.5h1M527 92h1M541 81h1M543 80h1M530 90.5h1M542.5 90h1M529.5 88h1M540.5 91.5h1M540.5 92.5h1M534.5 93h1M536.5 83h1M546 84h1M543 80.5h1M528.5 90h1M533.5 93h1M536 83h1M541.5 81h1M542.5 79h1M534 83.5h1M531.5 85.5h1M529 93h1M540.5 92h1M541 86h1M531.5 89h1M541 89.5h1M530 89.5h1M532.5 93h1M539.5 93.5h1M546 83h1M531 92.5h1M530.5 92h1M547 81h1M547.5 83.5h1M542 81h1M528 93h1M530.5 91.5h1M547 81.5h1M532.5 94h1M546.5 83h1M545.5 81.5h1M541.5 79.5h1M540 90h1M538 81h1M528.5 93.5h1M534.5 94.5h1M541.5 87h1M546 82h1M533 86h1M544 80h1M530.5 91h1M533 93.5h1M534 95.5h1M529.5 87.5h1M528.5 87.5h1M532.5 84.5h1M544.5 81h1M541 91.5h1M540 92.5h1M540.5 88.5h1M538.5 82h1M548.5 84.5h1M546.5 81h1M529.5 88.5h1M531 89h1M542 87h1M538.5 93.5h1M540 92h1M539 81.5h1M537 93h1M529.5 92.5h1M539 91.5h1M539 80.5h1M539.5 80h1M533.5 85.5h1M539 81h1M544 78.5h1M539.5 92h1M545 84.5h1M538.5 82.5h1M546.5 80h1M531 87.5h1M542.5 89h1M528 92.5h1M540 80.5h1M533.5 84.5h1M539.5 81.5h1M532 86h1M540.5 89h1M543.5 81h1M532.5 95h1M534 84.5h1M530 92h1M546.5 84h1M546 80h1M531.5 96h1M534.5 95h1M530.5 89h1M530.5 94h1M543 86.5h1M529.5 91.5h1M527.5 90.5h1M528.5 91h1M531.5 88h1M532 96.5h1M532.5 94.5h1M529 92.5h1M544 87h1M533.5 86h1M544 86.5h1M538 93h1M536 93.5h1M533.5 94h1M542 80.5h1M544.5 79h1M541 92h1M536.5 93.5h1M537 81.5h1M543.5 88h1M539 93.5h1M528.5 91.5h1M528.5 92.5h1M530.5 89.5h1M540 80h1M538 81.5h1M548 82.5h1M534 85h1M546.5 82.5h1M531.5 93h1M539.5 94.5h1M533 94.5h1M532.5 93.5h1M536.5 92.5h1M528 92h1M542.5 89.5h1M538.5 93h1M528 89.5h1M544.5 86.5h1M531.5 93.5h1M540.5 80h1M534 94.5h1M533 95.5h1M541 81.5h1M529 95h1M531 93h1M534.5 96.5h1M546 81.5h1M537 95.5h1M531.5 94h1M542 89.5h1M544.5 85.5h1M536.5 95.5h1M534.5 83h1M540 90.5h1M539 82h1M538 82.5h1M540.5 90.5h1M534 94h1M532 95h1M547 83h1M534.5 93.5h1M546 83.5h1M533 85.5h1M539.5 94h1M541.5 90h1M547.5 81h1M527 93h1M537 95h1M530 87.5h1M527.5 93.5h1M529 93.5h1M542 79h1M537 94.5h1M528 94h1M545 79h1M542 90.5h1M527 91.5h1M528.5 89.5h1M528.5 95h1" stroke="#40c0a0" stroke-width="1.3" stroke-opacity="0.9" fill="none"/>
<path d="M535 86h1M535.5 89h1M532 92h1M534.5 88h1M542.5 81.5h1M536 89.5h1M538 92.5h1M543 84.5h1M533.5 92h1M535.5 86.5h1M535.5 85.5h1M539 87h1M540.5 87.5h1M544.5 81.5h1M534 87h1M538 85.5h1M537.5 88h1M536 91.5h1M531 92h1M544 84h1M538.5 91h1M534.5 87.5h1M545 83.5h1M531 91.5h1M538 86.5h1M537 86.5h1M540 88h1M538.5 91.5h1M536 92h1M536.5 84h1M534 90h1M542.5 85h1M542.5 84.5h1M538 83h1M534 85.5h1M534.5 90h1M536.5 89.5h1M533.5 89.5h1M545.5 82.5h1M536.5 89h1M545 82.5h1M533 90h1M538 91h1M544.5 84h1M538 86h1M532 90h1M539.5 86h1M539.5 88.5h1M540.5 84h1M544 85h1M538 92h1M537.5 90.5h1M533 86.5h1M536.5 91h1M537 88.5h1M536.5 87h1M537 92.5h1M534 88h1M539 88h1M532 89.5h1M540 85h1M537.5 87h1M539 83.5h1M542.5 82h1M537.5 83.5h1M533 92h1M543.5 83h1M543 84h1M540 82.5h1M535 84.5h1M544.5 82.5h1M536 90h1M537 87.5h1M533 87h1M537.5 88.5h1M538.5 89h1M539.5 84.5h1M540.5 85.5h1M534 89.5h1M541 84.5h1M532.5 91.5h1M540 86h1M539 91.5h1M537.5 86h1M539 84.5h1M545.5 83.5h1M543.5 82.5h1M534.5 92h1M540.5 82h1M532 88.5h1M537 89h1M532 88h1M543 82h1M539.5 83.5h1M544 84.5h1M540.5 85h1M545 82h1M533.5 88h1M537.5 84.5h1M545 84h1M539.5 86.5h1M534 87.5h1M534.5 87h1M531.5 90h1M545 84.5h1M544.5 83h1M535 87h1M542 85.5h1M543 83.5h1M533 87.5h1M539 89.5h1M538.5 90.5h1M540 85.5h1M534.5 86.5h1M537.5 84h1M533.5 90h1M536.5 87.5h1M534.5 90.5h1M537 87h1M540 84h1M539 85.5h1M535.5 85h1M537 89.5h1M541.5 84h1M538.5 83h1M542.5 82.5h1M539.5 89.5h1M541 82.5h1M534 92.5h1M539.5 90h1M538 83.5h1M538.5 86.5h1M536 87h1M532 89h1M537.5 85h1M541 83.5h1M539.5 85h1M542 85h1M535 87.5h1M535.5 91h1M545 83h1M533.5 86.5h1M538 88.5h1M537.5 89.5h1M542 81.5h1M541.5 82.5h1M531 89.5h1M531 90h1M536 86.5h1M544.5 84.5h1M545.5 84h1M536 88h1M540 82h1M544 83h1M538 90.5h1M539.5 90.5h1M538.5 90h1M537.5 85.5h1M537 85.5h1M542.5 83.5h1M537 84.5h1M539.5 83h1M543.5 84.5h1M536.5 91.5h1M535 88h1M536.5 85h1M540.5 82.5h1M539 83h1M532 91h1M542 84h1M533 89h1M534.5 89h1M537 85h1M533.5 91.5h1M539 90h1M536 87.5h1M536 84.5h1M536 85h1M539 90.5h1M538.5 84h1M544.5 82h1M533 88.5h1M539 86h1M540 83h1M538.5 85.5h1M531.5 89.5h1M533.5 92.5h1M532.5 89h1M537.5 91h1M539.5 84h1M544.5 85h1M537.5 91.5h1M537.5 89h1M535 86.5h1M538 89h1M537 86h1M530.5 89.5h1M543.5 82h1M538.5 83.5h1M535.5 86h1M539 91h1M537.5 90h1M532 87.5h1M539.5 87h1M537 91.5h1M536 85.5h1M541.5 83h1M538.5 87h1M533.5 91h1M538 84h1M538.5 85h1M541.5 82h1M541 85h1M545.5 82h1M533 88h1M538 89.5h1M540 87h1M539.5 85.5h1M542 84.5h1M535.5 89.5h1M538 87h1M534 91.5h1M538 90h1M532.5 90.5h1M532 91.5h1M545.5 83h1M542.5 85.5h1M537.5 92h1M542 83h1M534 86.5h1M543 82.5h1M541 84h1M537 91h1M532 90.5h1M534.5 91h1M542.5 84h1M535 91.5h1M533 92.5h1M535 91h1M532.5 92h1M541.5 81.5h1M535 89.5h1M535.5 92h1M533.5 88.5h1M537 92h1M535.5 90.5h1M533.5 89h1M539.5 89h1M538 85h1M541 82h1M538 84.5h1M545.5 84.5h1M535 92h1M537 88h1M534 86h1M543 85h1M533 91.5h1M542 82.5h1M531.5 91.5h1M531 91h1M534 90.5h1M538.5 89.5h1M536.5 88.5h1M539.5 91.5h1M542.5 83h1M534.5 91.5h1" stroke="#b8d838" stroke-width="1.3" stroke-opacity="0.9" fill="none"/>
<line x1="479.7" y1="61.5" x2="660.8" y2="61.5" stroke="#8a8a8a" stroke-width="1.2" />
<line x1="660.8" y1="61.5" x2="660.8" y2="208.1" stroke="#8a8a8a" stroke-width="1.2" />
<line x1="479.7" y1="60.5" x2="479.7" y2="209.1" stroke="#222" stroke-width="1.6" />
<line x1="478.7" y1="208.1" x2="660.8" y2="208.1" stroke="#222" stroke-width="1.6" />
<path d="M474.7 208.1H479.7M477.2 200.8H479.7M477.2 196.5H479.7M477.2 193.4H479.7M477.2 191.0H479.7M477.2 189.1H479.7M477.2 187.5H479.7M477.2 186.1H479.7M477.2 184.8H479.7M480.2 208.1V213.1M489.2 208.1V210.6M494.5 208.1V210.6M498.2 208.1V210.6M501.1 208.1V210.6M503.5 208.1V210.6M505.5 208.1V210.6M507.2 208.1V210.6M508.7 208.1V210.6M474.7 183.7H479.7M477.2 176.4H479.7M477.2 172.1H479.7M477.2 169.0H479.7M477.2 166.6H479.7M477.2 164.7H479.7M477.2 163.1H479.7M477.2 161.7H479.7M477.2 160.4H479.7M510.1 208.1V213.1M519.1 208.1V210.6M524.4 208.1V210.6M528.1 208.1V210.6M531.0 208.1V210.6M533.4 208.1V210.6M535.4 208.1V210.6M537.1 208.1V210.6M538.6 208.1V210.6M474.7 159.3H479.7M477.2 152.0H479.7M477.2 147.7H479.7M477.2 144.6H479.7M477.2 142.2H479.7M477.2 140.3H479.7M477.2 138.7H479.7M477.2 137.3H479.7M477.2 136.0H479.7M540.0 208.1V213.1M549.0 208.1V210.6M554.3 208.1V210.6M558.0 208.1V210.6M560.9 208.1V210.6M563.3 208.1V210.6M565.3 208.1V210.6M567.0 208.1V210.6M568.5 208.1V210.6M474.7 134.9H479.7M477.2 127.6H479.7M477.2 123.3H479.7M477.2 120.2H479.7M477.2 117.8H479.7M477.2 115.9H479.7M477.2 114.3H479.7M477.2 112.9H479.7M477.2 111.6H479.7M569.9 208.1V213.1M578.9 208.1V210.6M584.2 208.1V210.6M587.9 208.1V210.6M590.8 208.1V210.6M593.2 208.1V210.6M595.2 208.1V210.6M596.9 208.1V210.6M598.4 208.1V210.6M474.7 110.5H479.7M477.2 103.2H479.7M477.2 98.9H479.7M477.2 95.8H479.7M477.2 93.4H479.7M477.2 91.5H479.7M477.2 89.9H479.7M477.2 88.5H479.7M477.2 87.2H479.7M599.8 208.1V213.1M608.8 208.1V210.6M614.1 208.1V210.6M617.8 208.1V210.6M620.7 208.1V210.6M623.1 208.1V210.6M625.1 208.1V210.6M626.8 208.1V210.6M628.3 208.1V210.6M474.7 86.1H479.7M477.2 78.8H479.7M477.2 74.5H479.7M477.2 71.4H479.7M477.2 69.0H479.7M477.2 67.1H479.7M477.2 65.5H479.7M477.2 64.1H479.7M477.2 62.8H479.7M629.7 208.1V213.1M638.7 208.1V210.6M644.0 208.1V210.6M647.7 208.1V210.6M650.6 208.1V210.6M653.0 208.1V210.6M655.0 208.1V210.6M656.7 208.1V210.6M658.2 208.1V210.6M474.7 61.7H479.7M659.6 208.1V213.1" stroke="#222" stroke-width="1.1" fill="none"/>
<text x="471.7" y="210.6" font-size="5.5" fill="#7a6a7a" text-anchor="end">10<tspan dy="-2.5" font-size="4.5">0</tspan></text>
<text x="481.2" y="222.1" font-size="5.5" fill="#7a6a7a">10<tspan dy="-2.5" font-size="4.5">0</tspan></text>
<text x="471.7" y="186.2" font-size="5.5" fill="#7a6a7a" text-anchor="end">10<tspan dy="-2.5" font-size="4.5">1</tspan></text>
<text x="511.1" y="222.1" font-size="5.5" fill="#7a6a7a">10<tspan dy="-2.5" font-size="4.5">1</tspan></text>
<text x="471.7" y="161.8" font-size="5.5" fill="#7a6a7a" text-anchor="end">10<tspan dy="-2.5" font-size="4.5">2</tspan></text>
<text x="541.0" y="222.1" font-size="5.5" fill="#7a6a7a">10<tspan dy="-2.5" font-size="4.5">2</tspan></text>
<text x="471.7" y="137.4" font-size="5.5" fill="#7a6a7a" text-anchor="end">10<tspan dy="-2.5" font-size="4.5">3</tspan></text>
<text x="570.9" y="222.1" font-size="5.5" fill="#7a6a7a">10<tspan dy="-2.5" font-size="4.5">3</tspan></text>
<text x="471.7" y="113.0" font-size="5.5" fill="#7a6a7a" text-anchor="end">10<tspan dy="-2.5" font-size="4.5">4</tspan></text>
<text x="600.8" y="222.1" font-size="5.5" fill="#7a6a7a">10<tspan dy="-2.5" font-size="4.5">4</tspan></text>
<text x="471.7" y="88.6" font-size="5.5" fill="#7a6a7a" text-anchor="end">10<tspan dy="-2.5" font-size="4.5">5</tspan></text>
<text x="630.7" y="222.1" font-size="5.5" fill="#7a6a7a">10<tspan dy="-2.5" font-size="4.5">5</tspan></text>
<text x="471.7" y="64.2" font-size="5.5" fill="#7a6a7a" text-anchor="end">10<tspan dy="-2.5" font-size="4.5">6</tspan></text>
<text x="660.6" y="222.1" font-size="5.5" fill="#7a6a7a">10<tspan dy="-2.5" font-size="4.5">6</tspan></text>
<line x1="573.0" y1="61.5" x2="573.0" y2="208.1" stroke="#3a3a3a" stroke-width="1.6" />
<line x1="479.7" y1="118.1" x2="573.0" y2="118.1" stroke="#3a3a3a" stroke-width="1.6" />
<text x="646.1" y="80.0" font-size="17.4" text-anchor="end" fill="#444" >93.0%</text>
<text x="640.3" y="193.4" font-size="17.4" text-anchor="end" fill="#4e9a34" >6.96%</text>
<text x="566.4" y="245.8" font-size="21" text-anchor="middle" fill="#000" >APC</text>
<text transform="translate(423.5,134.0) rotate(-90)" font-size="21" text-anchor="middle" fill="#000">sgRNA expression</text>
<text transform="translate(448.8,133.0) rotate(-90)" font-size="21" text-anchor="middle" fill="#000">(BFP)</text>
<path d="M544.5 446.5h1M534.5 453.5h1M511.5 410h1M550.5 449h1M543 414h1M513 413h1M530 406h1M548.5 423.5h1M531 399h1M520 403.5h1M548.5 455.5h1M552.5 423h1M538 454h1M513 407h1M516 401.5h1M539.5 402h1M527.5 404.5h1M550.5 421h1M549.5 397.5h1M539 459h1M545 411h1M540 408.5h1M516.5 399h1M501.5 410h1M520.5 458h1M547 436.5h1M498.5 423h1M534.5 402.5h1M521 402h1M541.5 450h1M544 379.5h1M539.5 410.5h1M506.5 414h1M524.5 453h1M550 430.5h1M539 404h1M541 451.5h1M525.5 468h1M538.5 411h1M540 403h1M547.5 420h1M545.5 405.5h1M556 441.5h1M519.5 453.5h1M528.5 401.5h1M554.5 426h1M545 408.5h1M530 458h1M512.5 411.5h1M543.5 410.5h1M516.5 459.5h1M552 449.5h1M496.5 432.5h1M532.5 402.5h1M505.5 409h1M503 414h1M534 404.5h1M548.5 425h1M503.5 414h1M548.5 428.5h1M528 397h1M546.5 441.5h1M535 407.5h1M546 415.5h1M552 444.5h1M540.5 409h1M499.5 415.5h1M536.5 407h1M549.5 449h1M529.5 456h1M549.5 420h1M554 437h1M544.5 415h1M527.5 405h1M551 439h1M545.5 419h1M507 413.5h1M508 405h1M520 451h1M545.5 445h1M539 455h1M523.5 404h1M553 433h1M498 424h1M518.5 404.5h1M495.5 432.5h1M500.5 446.5h1M534 454h1M533 407h1M533.5 408.5h1M518.5 452.5h1M547.5 430.5h1M547 431.5h1M516.5 403h1M504.5 419.5h1M547.5 411h1M553.5 413.5h1M541 412h1M542.5 395.5h1M526.5 461h1M545 448.5h1M490.5 449.5h1M484 422.5h1M520 466h1M500 408h1M524.5 462h1M479.5 439h1M498.5 452h1M551 429h1M515 457h1M528 401h1M523 460h1M519.5 404.5h1M514 410h1M492.5 450h1M499.5 424.5h1M549.5 467.5h1M545.5 406h1M493 417h1M518 408h1M495.5 414.5h1M545 456.5h1M514 455.5h1M483 445h1M486.5 414.5h1M513 404h1M485 444.5h1M510.5 413h1M494 443h1M504.5 420h1M549 408.5h1M490.5 422h1M547 449h1M481.5 427.5h1M555 432.5h1M551.5 417.5h1M481.5 423.5h1M500.5 406.5h1M504 457.5h1M505.5 456.5h1M488 425h1M509 406.5h1M533 402h1M505 405.5h1M546 407.5h1M548 417.5h1M540.5 451.5h1M487.5 421h1M556.5 454h1M498.5 419.5h1M478 450h1M518 451.5h1M556 434h1M499 423.5h1M495 462h1M498.5 392.5h1M536.5 463h1M505 414.5h1M480.5 458h1M569.5 437h1M512.5 412h1M498 436.5h1M492 426.5h1M550.5 424h1M500.5 450.5h1M499 438.5h1M500 450h1M492 423h1M553 459.5h1M506 455h1M497 435.5h1M505.5 413h1M494.5 406h1M535.5 400.5h1M497 421.5h1M497.5 446.5h1M483.5 440.5h1M489.5 458h1M545.5 405h1M504 419h1M553.5 405h1M478.5 442.5h1M558.5 429h1M526 397.5h1M562 410.5h1M494 410h1M497 441h1M504 460.5h1M528.5 459.5h1M490.5 437.5h1M490.5 413.5h1M486.5 429.5h1M500.5 451h1M506.5 455.5h1M554.5 459h1M523 455.5h1M517 456.5h1M490 434h1M537 454h1M512.5 384h1M494.5 447h1M538.5 463h1M503.5 402h1M535.5 461h1M523.5 461.5h1M500 456h1M502 459.5h1M496 449h1M549 411.5h1M546 460h1M500 418h1M551.5 425.5h1M492.5 410h1M501 409h1M545.5 400.5h1M500 405h1M502 453.5h1M493.5 431.5h1M494.5 431h1M513.5 461.5h1M506.5 397.5h1M541.5 456h1M503 399h1M499 444.5h1M497 413h1M491.5 435h1M539.5 391h1M535.5 457h1M550 413.5h1M548.5 434.5h1M549.5 414.5h1M496.5 416.5h1M548 422h1M515 460.5h1M557 445.5h1M498.5 408.5h1M545.5 466h1M552.5 421h1M493 437h1M511.5 454h1M483.5 445h1M536.5 467.5h1M538.5 397.5h1M550.5 437.5h1M513 409h1M522 451.5h1M529 402h1M528 462h1M486.5 427h1M553 433.5h1M556.5 417h1M487.5 410.5h1M489 433.5h1M490.5 416.5h1M525 372h1M558 417.5h1M510 458.5h1M541 456.5h1M556.5 440h1M530 468.5h1M493 404.5h1M521.5 455.5h1M484 420h1M561.5 421h1M490.5 441h1M521 457.5h1M523.5 389h1M540.5 398.5h1M505.5 378h1M500 365.5h1M535 400h1M558 447.5h1M525.5 392.5h1M533 405h1M516 409h1M519 465.5h1M483.5 429.5h1M510.5 393.5h1M491.5 429.5h1M490.5 418h1M500 446h1M544 448h1M561.5 414.5h1M546 418h1M528.5 407h1M500.5 408.5h1M514 463.5h1M524 455h1M516 455.5h1M479.5 442.5h1M518.5 457h1M502 463.5h1M556 422h1M564.5 458h1M553.5 429h1M531 458.5h1M492.5 462.5h1M554 446.5h1M562.5 437.5h1M547 439.5h1M502 399.5h1M540 457.5h1M515 406h1M510.5 410.5h1M501.5 453.5h1M486.5 387h1M549 420.5h1M502.5 413.5h1M490.5 439.5h1M495 403.5h1M525.5 457h1M568.5 446h1M545 402.5h1M522.5 386.5h1M555 435.5h1M497 436h1M530 463.5h1M491.5 440h1M538.5 455.5h1M557.5 434h1M492.5 440h1M549 412h1M484.5 398h1M496.5 435h1M477.5 430.5h1M546 402.5h1M499 447.5h1M546 420h1M552 434.5h1M525 376h1M486 445.5h1M508 413.5h1M500 416.5h1M515 464h1M481.5 439h1M521.5 458h1M492.5 419h1M523 398.5h1M486 453h1M511.5 407h1M547 417h1M500.5 465.5h1M551.5 438.5h1M511.5 462.5h1M499 428.5h1M521 377.5h1M543.5 454.5h1M539.5 406h1M513 449h1M543.5 409h1M551.5 433.5h1M485.5 447.5h1M496 461.5h1M495.5 444h1M551.5 441.5h1M494.5 456.5h1M551.5 431h1M525 457.5h1M544.5 437.5h1M480.5 416h1M497 438.5h1M535 456h1M501 403h1M496.5 455.5h1M544 464.5h1M501.5 420.5h1M502 420h1M504 456.5h1M491.5 441.5h1M548.5 445h1M516.5 456.5h1M494.5 436h1M499 439.5h1M538 461.5h1M515.5 402h1M493.5 424.5h1M537 461h1M498 435h1M555 431h1M512 454.5h1M497.5 423.5h1M519 460.5h1M507 417h1M491.5 432h1M499.5 452.5h1M490 440.5h1M488 402.5h1M566.5 425.5h1M570 444h1M544 406.5h1M510.5 412.5h1M497 420h1M582 432.5h1M557.5 423h1M506 462h1M517 458.5h1M559.5 403.5h1M495 419.5h1M506.5 415h1M519.5 458.5h1M499.5 439h1M500.5 417h1M516 468.5h1M523 456.5h1M521.5 460h1M537 455h1M535 399.5h1M545.5 444.5h1M491.5 423.5h1M500 456.5h1M479.5 463.5h1M535.5 456h1M538 452.5h1M510 459.5h1M551.5 424.5h1M549 416h1M569.5 435.5h1M489 430h1M566 441h1M479.5 432.5h1M493.5 417h1M500 458h1M543.5 465h1M484 421h1M497 427h1M524.5 398.5h1M481 444.5h1M512 408h1M505.5 454.5h1M501 441.5h1M502 436.5h1M480.5 435h1M551.5 434h1M506 413.5h1M477.5 457h1M532.5 408h1M554.5 429.5h1M515.5 463h1M480.5 420h1M500 403.5h1M504.5 401.5h1M490 459.5h1M535.5 455.5h1M498.5 428.5h1M498.5 431.5h1M547 400h1M534.5 407.5h1M560.5 430.5h1M560 448.5h1M530 395h1M491.5 423h1M520 463.5h1M546 433.5h1M552.5 430h1M501.5 408h1M544.5 403h1M511 462.5h1M546 411h1M520 386h1M489.5 433h1M510.5 460h1M535.5 465.5h1M512.5 451.5h1M487.5 432.5h1M483.5 403.5h1M495.5 439h1M514 450h1M513 455h1M558 424h1M488.5 425h1M499.5 408h1M510.5 407.5h1M580 420h1M510 461h1M511.5 452h1M547 428.5h1M498 431h1M527 466h1M501.5 452.5h1M520 455h1M559 407h1M561.5 464.5h1M548 437.5h1M488.5 452h1M510 415h1M563.5 435h1M514.5 451.5h1M498.5 426h1M556 436.5h1M547 443.5h1M537 457.5h1M492 432.5h1M543 406.5h1M497 406h1M513 460h1M487.5 432h1M513 461h1M553 410h1M506.5 401h1M489.5 443h1M524 457h1M501 453.5h1M504 410h1M513 397.5h1M553 465.5h1M504.5 394h1M478.5 419h1M523.5 399h1M552 438h1M507.5 400.5h1M547.5 433h1M542 450h1M548.5 441h1M553.5 430.5h1M483 427.5h1M488 446.5h1M544 451h1M486 454.5h1M491.5 458.5h1M500 467h1M504.5 409h1M497 437.5h1M515.5 462.5h1M494 438.5h1M490.5 398.5h1M500 443h1M545 460h1M546.5 439.5h1M499.5 419h1M526 464.5h1M502.5 451.5h1M486 425.5h1M553 439.5h1M521 403h1M498.5 441h1M501.5 409.5h1M497.5 445h1M533 396.5h1M533.5 465.5h1M537 397.5h1M511.5 455.5h1M483 461.5h1M488.5 397h1M492 407.5h1M487 419.5h1M493 414.5h1M513.5 458.5h1M527.5 455.5h1M487.5 441.5h1M542 454h1M500 446.5h1M553.5 442.5h1M514.5 401h1M499 413h1M532 455.5h1M550 443h1M535 461.5h1M500.5 450h1M553.5 448.5h1M507.5 407h1M499 396h1M498.5 415h1M504.5 399.5h1M478.5 425.5h1M509.5 466.5h1M506 465.5h1M516 462.5h1M498.5 409h1M494 447h1M491 434h1M548 463h1M506 407.5h1M498 396.5h1M552.5 435.5h1M554.5 397h1M493 456h1M487.5 402.5h1M522 453.5h1M556.5 433.5h1M543.5 416.5h1M562 454h1M492.5 421.5h1M483.5 444h1M534 455.5h1M499.5 452h1M485.5 441.5h1M492.5 439.5h1M546 436.5h1M494.5 461.5h1M492.5 442h1M490.5 453.5h1M486 438h1M557 448.5h1M510 416h1M559 433.5h1M498 456.5h1M546.5 403h1M518.5 382h1M505 393.5h1M534 383h1M526.5 386h1M512.5 386.5h1M509.5 408h1M523 403h1M536.5 380h1M511 394.5h1M521 400h1M548 398.5h1M527 392h1M530.5 392.5h1M528 391h1M547.5 391.5h1M515 389.5h1M529 382.5h1M529.5 398.5h1M537 388h1M496 394h1M514 394h1M547 396h1M514.5 394h1M547.5 383.5h1M523.5 383h1M536 382h1M533 400.5h1M514.5 388h1M531.5 392.5h1M521 394h1M546 385.5h1M546.5 392h1M533 388.5h1M532 384.5h1M532 389h1M546.5 383.5h1M532 390.5h1M511.5 390h1M533.5 392.5h1M572.5 404h1M514.5 391h1M538.5 402h1M530.5 401h1M547 388h1M547 385.5h1M525 387h1M540.5 397.5h1M513 393.5h1M533.5 395.5h1M507 397h1M543 396h1M535.5 378h1M519.5 390.5h1M538.5 382h1M528.5 402.5h1M517.5 392.5h1M533 394h1M527.5 383.5h1M518.5 393.5h1M521 398h1M533.5 390.5h1M516 395h1M535 394.5h1M535.5 383.5h1M523.5 394h1M535 391h1M515 386.5h1M531 403h1M521.5 398.5h1M540 392.5h1M538.5 390h1M560.5 401h1M522 386h1M539 397h1M538.5 381.5h1M557.5 391.5h1M545.5 380h1M530 390.5h1M513.5 395.5h1M508 404h1M530.5 386h1M520 395.5h1M538.5 385h1M542.5 392h1M520.5 396h1M519 393h1M553 409h1M529 390.5h1M531.5 386.5h1M535.5 396h1M498 383.5h1M536 394.5h1M515 390.5h1M506 393h1M540 385h1M512.5 387.5h1M545.5 392.5h1M527 399h1M518.5 406h1M555 378h1M537 403.5h1M539 384.5h1M540 401.5h1M537 391.5h1M538 397.5h1M539 371h1M507.5 384.5h1M507.5 392h1M522.5 398.5h1M536.5 385.5h1M509 372h1M537.5 383.5h1M515 385.5h1M553.5 397.5h1M540.5 382h1M561 400.5h1M545.5 392h1M527.5 395h1M536.5 399h1M522 389h1M507.5 389h1M514.5 392h1M523 392.5h1M526 386.5h1M519 394h1M519.5 391h1M524.5 392.5h1M535.5 391h1M515.5 379.5h1M526.5 387h1M538 390.5h1M517.5 386.5h1M522.5 391.5h1M507.5 395.5h1M537.5 386h1M528 390h1" stroke="#6a6ad0" stroke-width="1.3" stroke-opacity="0.6" fill="none"/>
<path d="M522 416.5h1M529.5 409.5h1M512 420h1M544 421h1M531 444h1M513 426h1M509 433.5h1M539 419h1M524.5 414.5h1M521.5 439.5h1M509.5 439.5h1M519 415h1M536 413h1M507 430.5h1M538 451h1M538 427.5h1M537.5 444h1M518 440.5h1M520 416h1M535.5 442.5h1M536.5 436.5h1M521 415.5h1M522 448h1M520 408h1M525.5 414.5h1M525 412h1M518.5 443h1M535.5 432.5h1M515 418h1M541.5 422.5h1M536.5 452h1M534.5 447h1M538.5 421.5h1M528 415h1M518 443h1M540 433.5h1M515.5 427.5h1M516 433.5h1M546.5 429.5h1M524.5 418h1M538.5 413h1M519.5 417h1M511 424.5h1M509 436h1M518 448.5h1M536 437.5h1M517.5 412h1M526.5 442h1M513 423h1M520 443.5h1M540.5 430.5h1M533 439.5h1M539 413.5h1M536 421h1M531.5 411.5h1M536 427.5h1M522.5 439h1M514 428h1M541.5 441h1M530 454h1M534 434h1M540 418.5h1M511 437h1M544.5 428.5h1M529 418h1M534 421.5h1M535.5 427.5h1M534 410h1M541.5 424h1M540.5 424h1M538 446.5h1M528 446.5h1M519.5 415.5h1M525 410.5h1M534 431.5h1M536 420h1M536.5 427h1M531.5 412.5h1M522.5 416.5h1M537.5 442.5h1M527 411.5h1M530 444h1M544.5 444.5h1M523.5 442.5h1M519.5 437.5h1M541 441.5h1M538 426.5h1M542.5 420h1M536 436h1M515.5 422h1M535.5 448.5h1M498.5 432.5h1M543.5 428.5h1M538.5 417.5h1M527 446.5h1M524.5 417.5h1M530.5 409.5h1M515 422.5h1M539 436h1M533 419.5h1M527.5 406.5h1M519 437.5h1M535 426.5h1M512 419h1M532 440.5h1M514.5 426.5h1M513 428.5h1M530 448h1M537 415h1M541.5 420.5h1M520 439h1M545.5 431.5h1M530.5 442h1M534 435.5h1M531 451.5h1M546.5 423.5h1M533.5 420h1M526.5 444h1M516 419.5h1M528 445h1M514.5 436.5h1M536.5 445h1M522.5 415.5h1M509.5 443h1M536.5 434h1M535 430.5h1M526.5 401h1M536 423h1M537.5 427h1M541 436.5h1M534.5 437h1M534.5 420h1M534 414h1M525.5 439.5h1M519 438.5h1M530 418.5h1M538 432h1M517 444h1M527 418.5h1M536.5 438h1M534 440.5h1M543.5 426h1M537.5 427.5h1M519 412.5h1M546 444h1M539 424.5h1M517 423h1M521.5 443.5h1M535.5 418.5h1M535.5 415.5h1M542.5 417.5h1M541.5 437.5h1M530 412.5h1M505.5 410.5h1M522 410.5h1M537 430h1M541 430.5h1M524.5 400.5h1M532.5 442h1M528 412.5h1M518.5 444h1M513 435.5h1M539.5 435.5h1M530.5 414h1M518 419.5h1M521 438.5h1M535.5 429.5h1M515.5 441.5h1M535 410.5h1M522.5 440.5h1M533 416h1M521.5 419h1M535 431h1M529 414.5h1M542.5 433h1M523.5 418.5h1M530 445h1M539 438h1M515 433h1M524.5 440.5h1M540 444.5h1M530 413h1M544 443.5h1M546 425.5h1M538.5 443.5h1M533.5 436h1M539 442.5h1M535 412h1M526.5 415.5h1M524 416h1M510 428h1M535.5 411h1M525 449.5h1M535.5 448h1M514.5 418h1M537 433h1M527.5 447h1M528 447h1M507.5 436.5h1M536.5 450.5h1M513 414h1M526 447.5h1M527 448h1M520.5 444h1M529.5 444h1M513.5 421h1M526 412.5h1M514 427h1M506 429h1M502.5 438h1M536.5 441.5h1M525 406h1M546 431.5h1M511.5 434h1M522.5 412h1M528 417h1M520 420.5h1M543.5 423.5h1M534 420.5h1M540 435.5h1M524.5 413h1M518 441.5h1M531 415h1M544.5 441h1M518.5 420.5h1M512.5 426h1M538 449.5h1M528 444.5h1M543.5 430h1M515 434.5h1M544.5 425.5h1M512 429h1M540.5 425.5h1M521 415h1M513 436.5h1M523.5 417.5h1M518.5 416.5h1M515.5 425h1M525 400.5h1M515.5 424.5h1M513 422h1M530 417.5h1M513.5 420h1M537 433.5h1M518 446.5h1M537.5 438h1M514 418.5h1M537 427.5h1M536 431h1M527.5 414h1M542.5 418.5h1M538.5 425h1M534.5 416.5h1M541 416.5h1M506.5 423h1M516.5 449h1M540.5 430h1M515 430.5h1M534 432h1M525 452h1M516 431.5h1M525.5 444h1M538.5 434h1M516 416.5h1M526 405.5h1M539.5 423h1M538.5 445h1M534 415.5h1M526.5 442.5h1M538.5 431.5h1M525.5 442.5h1M518 420.5h1M529 444h1M536.5 420.5h1M542 446.5h1M522.5 448h1M535 418.5h1M516.5 409.5h1M531 447.5h1M523.5 450.5h1M513.5 441h1M526 442h1M515 414.5h1M542 448h1M519.5 413.5h1M536 419h1M520.5 440.5h1M527 412h1M513.5 437h1M542 430.5h1M504 428.5h1M545.5 422.5h1M544 423.5h1M511.5 416h1M526 441h1M539 413h1M532.5 444h1M521 408.5h1M531.5 416h1M545 440h1M510.5 426.5h1M539.5 446h1M528.5 449h1M505.5 452.5h1M534.5 420.5h1M542 416.5h1M516.5 423h1M525.5 447h1M518 437.5h1M523 439h1M516.5 424.5h1M538 434.5h1M513 417.5h1M534.5 442h1M527.5 445h1M532 411.5h1M520 446.5h1M518.5 415h1M502.5 448.5h1M543.5 434h1M529 446.5h1M533 439h1M537 409.5h1M516 449.5h1M517 436.5h1M541.5 416.5h1M514 430h1M503.5 427h1M526 406h1M544 419.5h1M534 425.5h1M515 441.5h1M513.5 418h1M515.5 436h1M522.5 413h1M536 429h1M537.5 430h1M511.5 434.5h1M536 446h1M542 431.5h1M543.5 436h1M524 441.5h1M543.5 430.5h1M517.5 416h1M526 444.5h1M531 414h1M529.5 449h1M532 413.5h1M516.5 426h1M538.5 418.5h1M534.5 434h1M529.5 416.5h1M528 450h1M527 410h1M518.5 445h1M537.5 435h1M519.5 444.5h1M543 440.5h1M542.5 430.5h1M538.5 443h1M538.5 424.5h1M518 423h1M542.5 432h1M536 419.5h1M522 413.5h1M537 413.5h1M534.5 436.5h1M539 433h1M510 439h1M515.5 430.5h1M518.5 450h1M531.5 447h1M527 452.5h1M516 427h1M512 423.5h1M534 418.5h1M541 447.5h1M525 410h1M531 441h1M544.5 441.5h1M510 450.5h1M535 415.5h1M531 409.5h1M518 420h1M538.5 423.5h1M536.5 418.5h1M527 414h1M540.5 418h1M542.5 429h1M531.5 417.5h1M515 426.5h1M542.5 426.5h1M539 429h1M515 437h1M542 440.5h1M544 426h1M536.5 431h1M513 440h1M511.5 435h1M523.5 446.5h1M514.5 422.5h1M515.5 416h1M536 439.5h1M518 422.5h1M538 449h1M528.5 444.5h1M508.5 447.5h1M526 413h1M527.5 447.5h1M535.5 428.5h1M536.5 421h1M521.5 420h1M508 410.5h1M523.5 442h1M535 416h1M535.5 426.5h1M543.5 424h1M526.5 439.5h1M526.5 407h1M524.5 415h1M534 412.5h1M526.5 445.5h1M545 444h1M518.5 410h1M530.5 441h1M538.5 438h1M519 438h1M538.5 448.5h1M525 414h1M535.5 437.5h1M526.5 410.5h1M511.5 436.5h1M541 419h1M508 425h1M510.5 429h1M535 422.5h1M517 420h1M523.5 443h1M522.5 413.5h1M537.5 414.5h1M511.5 427.5h1M515.5 429.5h1M526 443.5h1M506.5 409h1M516 422.5h1M532 419h1M515 428.5h1M532 411h1M522 409.5h1M534 424h1M519 410.5h1M516.5 412h1M510.5 443h1M522.5 445h1M514.5 440h1M513.5 428h1M531 416.5h1M511.5 444.5h1M540 416h1M512 442.5h1M536.5 433.5h1M511.5 426h1M512.5 439h1M506.5 419.5h1M500 428.5h1M504.5 447.5h1M526 415h1M506.5 445.5h1M516 441h1M542.5 443.5h1M514.5 420.5h1M505.5 447h1M511.5 431h1M536.5 426.5h1M524 452h1M516 436h1M509.5 425h1M510.5 437h1M501 432h1M535 441h1M538.5 427h1M542 429h1M506 438.5h1M508 434.5h1M531.5 452.5h1M531.5 416.5h1M530 452.5h1M507.5 428.5h1M534.5 438h1M526.5 415h1M511 430h1M513 419h1M508.5 453h1M524.5 411.5h1M533.5 447.5h1M508 428.5h1M512.5 446h1M534.5 433h1M500.5 436h1M506.5 423.5h1M516.5 438.5h1M521 412h1M546 425h1M522 444h1M517 449.5h1M508 439h1M500.5 433h1M508.5 428h1M507.5 439h1M507 420.5h1M514.5 441h1M539 431h1M510 449.5h1M537.5 432.5h1M504.5 437.5h1M521.5 445h1M501 421.5h1M515 436h1M514 423h1M507.5 447.5h1M520 415.5h1M545 427h1M533 415.5h1M508.5 444h1M515 411.5h1M504 442h1M523.5 418h1M532.5 454h1M501 431.5h1M505.5 410h1M535.5 452h1M533 445h1M508 450.5h1M504.5 441.5h1M506 442.5h1M538.5 422.5h1M507.5 409h1M510 449h1M512 444.5h1M529.5 446h1M543 431h1M515 434h1M541 434.5h1M511.5 417h1M509.5 430.5h1M541.5 433h1M518.5 419h1M541.5 426h1M507.5 442.5h1M506 450.5h1M502 426h1M526 442.5h1M508 441h1M500.5 431.5h1M513.5 444h1M508 438h1M538.5 424h1M517.5 444h1M529.5 414.5h1M502 429h1M517.5 411h1M536.5 451h1M527.5 449.5h1M515.5 412.5h1M506 425h1M538.5 412h1M508.5 442h1M512 427h1M517.5 419h1M502.5 446h1M521.5 410.5h1M543.5 428h1M538 443h1M524 441h1M542.5 438.5h1M509.5 429.5h1M531 441.5h1M522.5 440h1M513.5 421.5h1M514 429.5h1M535 421h1M507 422h1M509.5 423.5h1M516 430h1M518 449.5h1M512 428h1M511 446.5h1M510 444.5h1M505 455h1M539.5 437.5h1M543.5 447h1M527 412.5h1M531.5 443.5h1M499 433.5h1M519 442.5h1M523.5 419h1M536.5 442h1M509.5 449h1M510 451.5h1M515.5 433.5h1M539.5 418.5h1M522 445h1M521.5 416.5h1M510.5 430.5h1M526 412h1M538.5 426.5h1M510 426h1M528 413h1M512.5 423.5h1M508 429h1M538.5 423h1M508.5 436.5h1M541 445h1M536 411h1M507.5 421.5h1M541 443h1M542 423h1M525 443.5h1M523.5 447.5h1M514 441.5h1M507 431.5h1M518.5 423.5h1M507 453h1M515.5 447.5h1M518.5 450.5h1M524 442h1M508.5 450h1M503.5 438h1M516 445h1M508 437h1M539 430.5h1M522 414.5h1M514 420.5h1M535.5 446.5h1M518 423.5h1M520.5 410h1M509 427.5h1M502 441.5h1M529.5 412h1M543 428h1M522 444.5h1M533 448.5h1M516.5 442h1M499 430.5h1M503 433h1M539.5 428h1M518 413h1M532 444h1M502.5 425.5h1M506.5 430h1M528.5 415.5h1M515 438h1M540 446.5h1M523.5 412h1M504.5 453.5h1M510 450h1M507.5 436h1M520.5 410.5h1M501 445.5h1M509.5 448h1M501.5 427h1M541.5 427.5h1M504.5 424h1M522 401h1M502.5 431.5h1M539 421h1M513.5 440h1M538 419.5h1M519.5 447.5h1M515 418.5h1M504.5 444h1M505 435.5h1M528.5 443.5h1M538 417h1M517 424h1M535.5 427h1M505.5 428.5h1M509 430.5h1M539.5 429.5h1M513.5 445h1M509 439.5h1M518.5 442h1M513.5 418.5h1M508.5 450.5h1M508.5 439h1M514.5 439h1M541.5 447.5h1M528 448.5h1M534.5 411.5h1M513.5 448h1M536.5 422.5h1M519 414.5h1M507 445h1M526.5 413h1M513 427.5h1M525.5 417.5h1M535 429.5h1M538 415h1M518.5 440h1M507.5 425h1M536.5 429h1M508 423.5h1M532.5 416.5h1M525 446h1M544.5 440h1M517 451h1M519.5 419h1M502 444h1M506.5 448.5h1M536 448.5h1M506.5 443.5h1M538 415.5h1M512 432h1M529 443h1M506.5 412h1M542 434.5h1M520 441.5h1M521 448h1M526 414.5h1M523 445.5h1M511 415.5h1M500 429.5h1M517 410h1M532 452h1M524.5 410h1M513 430h1M508 433h1M511.5 421h1M530 441.5h1M522 417.5h1M524.5 443.5h1M525 401h1M536.5 443h1M536 438h1M504.5 421.5h1M520.5 441.5h1M500 426h1M514.5 432.5h1M545.5 424.5h1M507.5 437.5h1M513 437.5h1M514.5 438.5h1M536.5 411h1M537.5 437.5h1M537 421.5h1M543 441h1M508 435h1M511 436.5h1M509 450.5h1M542 422.5h1M506.5 420h1M524 445.5h1M535.5 419.5h1M502 440.5h1M545 426.5h1M506.5 434h1M531.5 449.5h1M506 448.5h1M510.5 452.5h1M526 441.5h1M504 426.5h1M518.5 422h1M506 408.5h1M534 437.5h1M510.5 438.5h1M514.5 417.5h1M508.5 423.5h1M541 435h1M500 422h1M538 434h1M509 444h1M537 410h1M521 445.5h1M513.5 426.5h1M533.5 452h1M512.5 422.5h1M527 441.5h1M507.5 431.5h1M505.5 440.5h1M506 428.5h1M546.5 425h1M542.5 438h1M539.5 424.5h1M508 420h1M508 411.5h1M509 427h1M532 446.5h1M515 435h1M505.5 454.5h1M519 420.5h1M507 451h1M514.5 443h1M541.5 434h1M515.5 419.5h1M511 425.5h1M512 422.5h1M519 442h1M508.5 448h1M510 440.5h1M535 448.5h1M516.5 415.5h1M542.5 444.5h1M517.5 442h1M502.5 423h1M508.5 438h1M542 431h1M523.5 440h1M519 416.5h1M503 429h1M527 450.5h1M530.5 448h1M543.5 434.5h1M511 442h1M507 436h1M529.5 416h1M521 419h1M504 432.5h1M538 424.5h1M515 431.5h1M541 443.5h1M538.5 419.5h1M502.5 441.5h1M507 420h1M514 445.5h1M516 440h1M530 411h1M533.5 451h1M538.5 429.5h1M512 438.5h1M523.5 445h1M545.5 423h1M504 430h1M505.5 426h1M531.5 446.5h1M537.5 423h1M533.5 437h1M503.5 453h1M521 412.5h1M513 441.5h1M534 443.5h1M507 425.5h1M503.5 445.5h1M544 433.5h1M503 440h1M529 453h1M526 452h1M520.5 409h1M529 448h1M532 415.5h1M514.5 430h1M510 433h1M529 417h1M501.5 433.5h1M536 432h1M532 443.5h1M533 450h1M501.5 430h1M511 442.5h1M511.5 417.5h1M518 416.5h1M527.5 454.5h1M534.5 421h1M509 442h1M505 429.5h1M500.5 436.5h1M505.5 449.5h1M540.5 426h1M511.5 442h1M530 445.5h1M544 435h1M509.5 436h1M513.5 439.5h1M501.5 443.5h1M504 432h1M538 447.5h1M502 433h1M520 419h1M526 450.5h1M525.5 449h1M507.5 452h1M527.5 412.5h1M518.5 449.5h1M538 436h1M529 445.5h1M506 427h1M538 423.5h1M545 445.5h1M546.5 439.5h1M518.5 441h1M525.5 416h1M516.5 425.5h1M516.5 443.5h1M514.5 428.5h1M528 449h1M512.5 440h1M525 408h1M517.5 409.5h1M510 432h1M534 446.5h1M507.5 437h1M508.5 446.5h1M505 447h1M521 443.5h1M519.5 421h1M505 433h1M503 438h1M520 414.5h1M503.5 437.5h1M519.5 408.5h1M514 434h1M540.5 427h1M511 443.5h1M519.5 438h1M511.5 427h1M543 447.5h1M532.5 420.5h1M501.5 426.5h1M538 442h1M506.5 446h1M508.5 441.5h1M539 443h1M518.5 418.5h1M527 443.5h1M538.5 415h1M506.5 420.5h1M505 439h1M532.5 451h1M528.5 454h1M529.5 419h1M525 418h1M530 411.5h1M520.5 443h1M523.5 448.5h1M499.5 421h1M511.5 429.5h1M538 440.5h1M502.5 443.5h1M526 400.5h1M522 400h1M523 400h1M535.5 418h1M512 443h1M505 436h1M517 448.5h1M507.5 448h1M537.5 440.5h1M543.5 435.5h1M526.5 417h1M511 448.5h1M514 416.5h1M536.5 415h1M515.5 442h1M525 415.5h1M514 438h1M527 416h1M542 425h1M540 417.5h1M526.5 452.5h1M530.5 417.5h1M536.5 416.5h1M502.5 427h1M537.5 418h1M543.5 441h1M542 423.5h1M506 440.5h1M517.5 438h1M544.5 429.5h1M517.5 438.5h1M537 448h1M542 433.5h1M544.5 427.5h1M510.5 425h1M503.5 449h1M500.5 422.5h1M512.5 444h1M507.5 451h1M517.5 440h1M502.5 420.5h1M510.5 428.5h1M512 442h1M501.5 436h1M515.5 413.5h1M527.5 446.5h1M516.5 416h1M507 447.5h1M538.5 430.5h1M525.5 418h1M538 446h1M537.5 414h1M507 410.5h1M527 407.5h1M537 447h1M541 422h1M521.5 418.5h1M505 452h1M512 438h1M529 453.5h1M537 419.5h1M504.5 423h1M533 448h1M524 451h1M508 430h1M522 441h1M512.5 427.5h1M507 422.5h1M509.5 412h1M510 429.5h1M527 417.5h1M522.5 441.5h1M501 425.5h1M533.5 433h1M510.5 424.5h1M543 433.5h1M544.5 424h1M537.5 437h1M525 408.5h1M527.5 401h1M525 402.5h1M530.5 415h1M523.5 407h1M525.5 404.5h1M524.5 407.5h1" stroke="#2a34a0" stroke-width="1.3" stroke-opacity="0.9" fill="none"/>
<path d="M521.5 429.5h1M530.5 438.5h1M530.5 422.5h1M533 433h1M519 422.5h1M521.5 430h1M532 438h1M530 437.5h1M522 428h1M526.5 422h1M532.5 430h1M524.5 428h1M529.5 433h1M529.5 422h1M522 436.5h1M528 425.5h1M521 421h1M529.5 437.5h1M527 422h1M533 437.5h1M528 420.5h1M525.5 424h1M529 424h1M519 426h1M532.5 436h1M528.5 418.5h1M529.5 423.5h1M530.5 431h1M519.5 427h1M517 434h1M527.5 421.5h1M520 433.5h1M528 441h1M521.5 428.5h1M523.5 418.5h1M529.5 425.5h1M527 439h1M531 430h1M524.5 424.5h1M519 423h1M523 437.5h1M529 419.5h1M520.5 428.5h1M517.5 425h1M528 440h1M529.5 428.5h1M526.5 437.5h1M527.5 422h1M521.5 425h1M529.5 419.5h1M524 426h1M532 423h1M525.5 421.5h1M517.5 430h1M518.5 430h1M532 430.5h1M532 434h1M521.5 422h1M530 421h1M520 437h1M527 420h1M518 433.5h1M524 438.5h1M520 430h1M526.5 421.5h1M519 435.5h1M519 422h1M532 428h1M531.5 420.5h1M533 422.5h1M521 424.5h1M522 425h1M526 420h1M518 426h1M528 438h1M530.5 428h1M529.5 424.5h1M531.5 433h1M517 432h1M520.5 425.5h1M530.5 439.5h1M522.5 422h1M526.5 423.5h1M522 427.5h1M529.5 421.5h1M518 432h1M526.5 423h1M533.5 436.5h1M519.5 434.5h1M533.5 423.5h1M533 429h1M530 435.5h1M530 434.5h1M517.5 435h1M519.5 425.5h1M520.5 423h1M531.5 430h1M519 436h1M518 429h1M519 433.5h1M533 427.5h1M532.5 427h1M525.5 425h1M525.5 426.5h1M534.5 430h1M520.5 421.5h1M523 425.5h1M530.5 429h1M527.5 422.5h1M518 435.5h1M528.5 426h1M526.5 443h1M533 436h1M530.5 424.5h1M532 429.5h1M528 426.5h1M522 436h1M522 422.5h1M519.5 431.5h1M533 432h1M519 434h1M537 424.5h1M524 420h1M526.5 425.5h1M531 438.5h1M530 422h1M530.5 427h1M520 431.5h1M531 421h1M525 437h1M533.5 430h1M530 433h1M531 426h1M537.5 424.5h1M523 424.5h1M517 433.5h1M520 430.5h1M529.5 421h1M520 432h1M532.5 427.5h1M526.5 421h1M531.5 427.5h1M533 424.5h1M531.5 422.5h1M531.5 427h1M523.5 420h1M523.5 423.5h1M520.5 423.5h1M519.5 429.5h1M522.5 423h1M529.5 438h1M529 439.5h1M518 434h1M523.5 427.5h1M534 423h1M519 424.5h1M521.5 424.5h1M537 426h1M518 428h1M523.5 421.5h1M523 422h1M523 423.5h1M534.5 427h1M528 419h1M532.5 434.5h1M521.5 425.5h1M537 425.5h1M521.5 424h1M529.5 425h1M530.5 426h1M523 437h1M532 423.5h1M518 425h1M532 425.5h1M523 427.5h1M519 429h1M522 419.5h1M531 435h1M533.5 438h1M520.5 430h1M532.5 432.5h1M526 422h1M518 427h1M533.5 426.5h1M520 422h1M527 423h1M535 424h1M531 425h1M531.5 436h1M530 432.5h1M530.5 421.5h1M536 426h1M537.5 424h1M522.5 429.5h1M524.5 422h1M530 438.5h1M522 437.5h1M525.5 436.5h1M524 437.5h1M531.5 421h1M530.5 437.5h1M529 421.5h1M523 436.5h1M525 419h1M529.5 439h1M521 434.5h1M520 435h1M523.5 430.5h1M527.5 420.5h1M526.5 436.5h1M523 420h1M532.5 423.5h1M521.5 435h1M520 424h1M520 423h1M522.5 436h1M530.5 422h1M516.5 428h1M517.5 427h1M530.5 420.5h1M520.5 427.5h1M522 422h1M534 429h1M530 432h1M530.5 437h1M520 431h1M532 439h1M527 418.5h1M521 425h1M523.5 425h1M528.5 425.5h1M524.5 423h1M521 429h1M519.5 432.5h1M532 433h1M520.5 424h1M518 428.5h1M518.5 434.5h1M532 432.5h1M520.5 432h1M520.5 434.5h1M517.5 434.5h1M522 421.5h1M531.5 426h1M532 426.5h1M531 439.5h1M523 430h1M523.5 427h1M520 437.5h1M521 426h1M520.5 435.5h1M532 422h1M527 437h1M527 420.5h1M524 437h1M518.5 433.5h1M529 437.5h1M530 430h1M519.5 437h1M526 418.5h1M524 436.5h1M519.5 434h1M522.5 428h1M529.5 426.5h1M523 428.5h1M527 441.5h1M520 436h1M528 421h1M528 419.5h1M518 427.5h1M524 428h1M528 424.5h1M519 429.5h1M521 438.5h1M530.5 428.5h1M528 439h1M535.5 424h1M529 423h1M522.5 422.5h1M524.5 425.5h1M517.5 435.5h1M531.5 438.5h1M520.5 426h1M527.5 425h1M524 427.5h1M522 428.5h1M532.5 422.5h1M531.5 423.5h1M525 422.5h1M528.5 423h1M532 437h1M528.5 440.5h1M518.5 421.5h1M517 427h1M530 427h1M531.5 431.5h1M527 442.5h1M523.5 437h1M524.5 438h1M518.5 425.5h1M536 426.5h1M518.5 435h1M520.5 434h1M519 432h1M533.5 425.5h1M531 422h1M530 440h1M536.5 424h1M516 428h1M529 421h1M532 430h1M518.5 429.5h1M529 440h1M537 424h1M532 420.5h1M524 419h1M528 440.5h1M521.5 423.5h1M525 420.5h1M515.5 428h1M527 426h1M518.5 428.5h1M518.5 427h1M520.5 437h1M530 433.5h1M524.5 436.5h1M517 430h1M520.5 429.5h1M526.5 424h1M533 429.5h1M517.5 428.5h1M518 436h1M531 440h1M523.5 419.5h1" stroke="#2c9ad8" stroke-width="1.3" stroke-opacity="0.9" fill="none"/>
<path d="M526.5 428.5h1M528 436.5h1M528 429h1M524.5 432h1M523 433.5h1M525.5 429h1M527 436h1M529 433.5h1M525.5 436h1M527.5 436h1M529 429h1M526.5 429h1M526.5 436h1M526 427.5h1M528 431.5h1M528.5 427.5h1M525.5 429.5h1M528 432h1M521 432h1M527 427h1M525.5 435.5h1M528.5 429h1M528 427.5h1M525.5 428h1M525 428.5h1M521.5 434.5h1M522.5 434h1M524.5 430.5h1M528.5 426.5h1M522 431h1M525 429.5h1M529.5 427.5h1M524.5 434h1M524.5 433.5h1M525 434h1M527.5 428h1M529 432h1M525 427.5h1M528 427h1M525.5 432.5h1M526 426.5h1M526.5 435.5h1M529.5 436h1M523.5 430h1M523 434.5h1M524 434.5h1M523 431.5h1M526 436h1M528.5 433.5h1M525.5 431.5h1M527.5 430.5h1M525.5 432h1M520.5 434.5h1M524 436h1M526.5 426.5h1M523.5 433.5h1M524 428.5h1M522.5 431h1M527.5 427h1M523.5 432.5h1M524 430h1M528.5 431.5h1M522 434.5h1M526 428h1M529 436h1M525.5 435h1M527 435.5h1M527.5 434.5h1M528 431h1M528 428.5h1M529 434.5h1M525 433.5h1M520.5 432.5h1M529 427h1M524 431h1M529 432.5h1M524.5 434.5h1M525.5 430.5h1M524.5 435.5h1M523.5 435h1M529.5 435.5h1M523 435h1M528 435h1M523.5 431.5h1M521 433h1M528.5 436h1M528.5 432h1M529 436.5h1M521 431.5h1M520.5 433h1M528 426.5h1M524 433.5h1M525.5 428.5h1" stroke="#40c0a0" stroke-width="1.3" stroke-opacity="0.9" fill="none"/>
<path d="M527 429.5h1M526 435h1M528 434h1M526.5 433h1M527 434.5h1M527 435h1M527.5 432.5h1M527 433.5h1M527 432h1M527 435.5h1M527.5 433h1M526 434.5h1M526.5 431h1M527 430h1M526.5 429h1M526.5 430.5h1M526.5 429.5h1M527 432.5h1M527.5 429h1M527.5 435.5h1M526 435.5h1M526.5 431.5h1M526.5 435h1" stroke="#b8d838" stroke-width="1.3" stroke-opacity="0.9" fill="none"/>
<line x1="475.6" y1="323.4" x2="656.5" y2="323.4" stroke="#8a8a8a" stroke-width="1.2" />
<line x1="656.5" y1="323.4" x2="656.5" y2="470.1" stroke="#8a8a8a" stroke-width="1.2" />
<line x1="475.6" y1="322.4" x2="475.6" y2="471.1" stroke="#222" stroke-width="1.6" />
<line x1="474.6" y1="470.1" x2="656.5" y2="470.1" stroke="#222" stroke-width="1.6" />
<path d="M470.6 470.1H475.6M473.1 462.7H475.6M473.1 458.4H475.6M473.1 455.3H475.6M473.1 453.0H475.6M473.1 451.0H475.6M473.1 449.4H475.6M473.1 448.0H475.6M473.1 446.7H475.6M476.4 470.1V475.1M485.4 470.1V472.6M490.7 470.1V472.6M494.4 470.1V472.6M497.3 470.1V472.6M499.7 470.1V472.6M501.7 470.1V472.6M503.4 470.1V472.6M504.9 470.1V472.6M470.6 445.6H475.6M473.1 438.2H475.6M473.1 433.9H475.6M473.1 430.8H475.6M473.1 428.5H475.6M473.1 426.5H475.6M473.1 424.9H475.6M473.1 423.5H475.6M473.1 422.2H475.6M506.3 470.1V475.1M515.3 470.1V472.6M520.6 470.1V472.6M524.3 470.1V472.6M527.2 470.1V472.6M529.6 470.1V472.6M531.6 470.1V472.6M533.3 470.1V472.6M534.8 470.1V472.6M470.6 421.1H475.6M473.1 413.7H475.6M473.1 409.4H475.6M473.1 406.3H475.6M473.1 404.0H475.6M473.1 402.0H475.6M473.1 400.4H475.6M473.1 399.0H475.6M473.1 397.7H475.6M536.2 470.1V475.1M545.2 470.1V472.6M550.5 470.1V472.6M554.2 470.1V472.6M557.1 470.1V472.6M559.5 470.1V472.6M561.5 470.1V472.6M563.2 470.1V472.6M564.7 470.1V472.6M470.6 396.6H475.6M473.1 389.2H475.6M473.1 384.9H475.6M473.1 381.8H475.6M473.1 379.5H475.6M473.1 377.5H475.6M473.1 375.9H475.6M473.1 374.5H475.6M473.1 373.2H475.6M566.1 470.1V475.1M575.1 470.1V472.6M580.4 470.1V472.6M584.1 470.1V472.6M587.0 470.1V472.6M589.4 470.1V472.6M591.4 470.1V472.6M593.1 470.1V472.6M594.6 470.1V472.6M470.6 372.1H475.6M473.1 364.7H475.6M473.1 360.4H475.6M473.1 357.3H475.6M473.1 355.0H475.6M473.1 353.0H475.6M473.1 351.4H475.6M473.1 350.0H475.6M473.1 348.7H475.6M596.0 470.1V475.1M605.0 470.1V472.6M610.3 470.1V472.6M614.0 470.1V472.6M616.9 470.1V472.6M619.3 470.1V472.6M621.3 470.1V472.6M623.0 470.1V472.6M624.5 470.1V472.6M470.6 347.6H475.6M473.1 340.2H475.6M473.1 335.9H475.6M473.1 332.8H475.6M473.1 330.5H475.6M473.1 328.5H475.6M473.1 326.9H475.6M473.1 325.5H475.6M473.1 324.2H475.6M625.9 470.1V475.1M634.9 470.1V472.6M640.2 470.1V472.6M643.9 470.1V472.6M646.8 470.1V472.6M649.2 470.1V472.6M651.2 470.1V472.6M652.9 470.1V472.6M654.4 470.1V472.6M470.6 323.1H475.6M655.8 470.1V475.1" stroke="#222" stroke-width="1.1" fill="none"/>
<text x="467.6" y="472.6" font-size="5.5" fill="#7a6a7a" text-anchor="end">10<tspan dy="-2.5" font-size="4.5">0</tspan></text>
<text x="477.4" y="484.1" font-size="5.5" fill="#7a6a7a">10<tspan dy="-2.5" font-size="4.5">0</tspan></text>
<text x="467.6" y="448.1" font-size="5.5" fill="#7a6a7a" text-anchor="end">10<tspan dy="-2.5" font-size="4.5">1</tspan></text>
<text x="507.3" y="484.1" font-size="5.5" fill="#7a6a7a">10<tspan dy="-2.5" font-size="4.5">1</tspan></text>
<text x="467.6" y="423.6" font-size="5.5" fill="#7a6a7a" text-anchor="end">10<tspan dy="-2.5" font-size="4.5">2</tspan></text>
<text x="537.2" y="484.1" font-size="5.5" fill="#7a6a7a">10<tspan dy="-2.5" font-size="4.5">2</tspan></text>
<text x="467.6" y="399.1" font-size="5.5" fill="#7a6a7a" text-anchor="end">10<tspan dy="-2.5" font-size="4.5">3</tspan></text>
<text x="567.1" y="484.1" font-size="5.5" fill="#7a6a7a">10<tspan dy="-2.5" font-size="4.5">3</tspan></text>
<text x="467.6" y="374.6" font-size="5.5" fill="#7a6a7a" text-anchor="end">10<tspan dy="-2.5" font-size="4.5">4</tspan></text>
<text x="597.0" y="484.1" font-size="5.5" fill="#7a6a7a">10<tspan dy="-2.5" font-size="4.5">4</tspan></text>
<text x="467.6" y="350.1" font-size="5.5" fill="#7a6a7a" text-anchor="end">10<tspan dy="-2.5" font-size="4.5">5</tspan></text>
<text x="626.9" y="484.1" font-size="5.5" fill="#7a6a7a">10<tspan dy="-2.5" font-size="4.5">5</tspan></text>
<text x="467.6" y="325.6" font-size="5.5" fill="#7a6a7a" text-anchor="end">10<tspan dy="-2.5" font-size="4.5">6</tspan></text>
<text x="656.8" y="484.1" font-size="5.5" fill="#7a6a7a">10<tspan dy="-2.5" font-size="4.5">6</tspan></text>
<line x1="589.2" y1="323.4" x2="589.2" y2="470.1" stroke="#3a3a3a" stroke-width="1.6" />
<line x1="475.6" y1="407.2" x2="589.2" y2="407.2" stroke="#3a3a3a" stroke-width="1.6" />
<text x="649.0" y="340.1" font-size="17.4" text-anchor="end" fill="#1e8a2e" >2.83%</text>
<text x="649.0" y="453.0" font-size="17.4" text-anchor="end" fill="#e0141c" >97.2%</text>
<text x="566.2" y="509.8" font-size="21" text-anchor="middle" fill="#000" >APC</text>
<text transform="translate(438.0,386.0) rotate(-90)" font-size="21" text-anchor="middle" fill="#000">CD59 (PE)</text>
<text x="177.5" y="273.0" font-size="17.2" text-anchor="middle" fill="#000" font-weight="bold" >Select whole</text>
<text x="177.5" y="293.7" font-size="17.2" text-anchor="middle" fill="#000" font-weight="bold" >population</text>
<path d="M243.6 258.6H249.6V281.8H255.6L246.6 299.1L237.6 281.8H243.6Z" fill="#000"/>
<text x="498.4" y="273.0" font-size="17.2" text-anchor="middle" fill="#000" font-weight="bold" >Select whole</text>
<text x="498.4" y="293.7" font-size="17.2" text-anchor="middle" fill="#000" font-weight="bold" >population</text>
<path d="M566.7 258.6H572.7V281.8H578.7L569.7 299.1L560.7 281.8H566.7Z" fill="#000"/>
<text x="750.0" y="39.6" font-size="55.5" text-anchor="start" fill="#000" >B</text>
<line x1="891.6" y1="84.8" x2="895.6" y2="86.1" stroke="#c0393b" stroke-width="1.0"/><circle cx="895.6" cy="86.1" r="1.5" fill="#c0393b"/><line x1="890.0" y1="87.1" x2="892.5" y2="90.5" stroke="#c0393b" stroke-width="1.0"/><circle cx="892.5" cy="90.5" r="1.5" fill="#c0393b"/><line x1="887.4" y1="88.0" x2="887.4" y2="92.2" stroke="#c0393b" stroke-width="1.0"/><circle cx="887.4" cy="92.2" r="1.5" fill="#c0393b"/><line x1="884.7" y1="87.2" x2="882.3" y2="90.6" stroke="#c0393b" stroke-width="1.0"/><circle cx="882.3" cy="90.6" r="1.5" fill="#c0393b"/><line x1="883.1" y1="84.9" x2="879.1" y2="86.3" stroke="#c0393b" stroke-width="1.0"/><circle cx="879.1" cy="86.3" r="1.5" fill="#c0393b"/><line x1="883.0" y1="82.2" x2="879.0" y2="80.9" stroke="#c0393b" stroke-width="1.0"/><circle cx="879.0" cy="80.9" r="1.5" fill="#c0393b"/><line x1="884.6" y1="79.9" x2="882.1" y2="76.5" stroke="#c0393b" stroke-width="1.0"/><circle cx="882.1" cy="76.5" r="1.5" fill="#c0393b"/><line x1="887.2" y1="79.0" x2="887.2" y2="74.8" stroke="#c0393b" stroke-width="1.0"/><circle cx="887.2" cy="74.8" r="1.5" fill="#c0393b"/><line x1="889.9" y1="79.8" x2="892.3" y2="76.4" stroke="#c0393b" stroke-width="1.0"/><circle cx="892.3" cy="76.4" r="1.5" fill="#c0393b"/><line x1="891.5" y1="82.1" x2="895.5" y2="80.7" stroke="#c0393b" stroke-width="1.0"/><circle cx="895.5" cy="80.7" r="1.5" fill="#c0393b"/><circle cx="887.3" cy="83.5" r="5.6" fill="#c0393b"/><ellipse cx="885.2" cy="81.8" rx="1.2" ry="2.5" fill="#ff8080" fill-opacity="0.45" transform="rotate(35 885.2 81.8)"/>
<line x1="942.2" y1="79.4" x2="947.7" y2="81.2" stroke="#2b9fd0" stroke-width="1.4"/><circle cx="947.7" cy="81.2" r="2.2" fill="#2b9fd0"/><line x1="939.8" y1="82.8" x2="943.3" y2="87.4" stroke="#2b9fd0" stroke-width="1.4"/><circle cx="943.3" cy="87.4" r="2.2" fill="#2b9fd0"/><line x1="936.0" y1="84.1" x2="936.1" y2="89.9" stroke="#2b9fd0" stroke-width="1.4"/><circle cx="936.1" cy="89.9" r="2.2" fill="#2b9fd0"/><line x1="932.1" y1="82.9" x2="928.8" y2="87.6" stroke="#2b9fd0" stroke-width="1.4"/><circle cx="928.8" cy="87.6" r="2.2" fill="#2b9fd0"/><line x1="929.7" y1="79.6" x2="924.2" y2="81.5" stroke="#2b9fd0" stroke-width="1.4"/><circle cx="924.2" cy="81.5" r="2.2" fill="#2b9fd0"/><line x1="929.6" y1="75.6" x2="924.1" y2="73.8" stroke="#2b9fd0" stroke-width="1.4"/><circle cx="924.1" cy="73.8" r="2.2" fill="#2b9fd0"/><line x1="932.0" y1="72.2" x2="928.5" y2="67.6" stroke="#2b9fd0" stroke-width="1.4"/><circle cx="928.5" cy="67.6" r="2.2" fill="#2b9fd0"/><line x1="935.8" y1="70.9" x2="935.7" y2="65.1" stroke="#2b9fd0" stroke-width="1.4"/><circle cx="935.7" cy="65.1" r="2.2" fill="#2b9fd0"/><line x1="939.7" y1="72.1" x2="943.0" y2="67.4" stroke="#2b9fd0" stroke-width="1.4"/><circle cx="943.0" cy="67.4" r="2.2" fill="#2b9fd0"/><line x1="942.1" y1="75.4" x2="947.6" y2="73.5" stroke="#2b9fd0" stroke-width="1.4"/><circle cx="947.6" cy="73.5" r="2.2" fill="#2b9fd0"/><circle cx="935.9" cy="77.5" r="8.2" fill="#2b9fd0"/><ellipse cx="932.8" cy="75.0" rx="1.8" ry="3.7" fill="#80d8ff" fill-opacity="0.45" transform="rotate(35 932.8 75.0)"/>
<line x1="916.2" y1="114.2" x2="920.5" y2="115.5" stroke="#7a4fa8" stroke-width="1.0"/><circle cx="920.5" cy="115.5" r="1.5" fill="#7a4fa8"/><line x1="914.7" y1="116.4" x2="917.3" y2="119.9" stroke="#7a4fa8" stroke-width="1.0"/><circle cx="917.3" cy="119.9" r="1.5" fill="#7a4fa8"/><line x1="912.2" y1="117.2" x2="912.2" y2="121.6" stroke="#7a4fa8" stroke-width="1.0"/><circle cx="912.2" cy="121.6" r="1.5" fill="#7a4fa8"/><line x1="909.6" y1="116.4" x2="907.1" y2="120.0" stroke="#7a4fa8" stroke-width="1.0"/><circle cx="907.1" cy="120.0" r="1.5" fill="#7a4fa8"/><line x1="908.0" y1="114.3" x2="903.8" y2="115.7" stroke="#7a4fa8" stroke-width="1.0"/><circle cx="903.8" cy="115.7" r="1.5" fill="#7a4fa8"/><line x1="908.0" y1="111.6" x2="903.7" y2="110.3" stroke="#7a4fa8" stroke-width="1.0"/><circle cx="903.7" cy="110.3" r="1.5" fill="#7a4fa8"/><line x1="909.5" y1="109.4" x2="906.9" y2="105.9" stroke="#7a4fa8" stroke-width="1.0"/><circle cx="906.9" cy="105.9" r="1.5" fill="#7a4fa8"/><line x1="912.0" y1="108.6" x2="912.0" y2="104.2" stroke="#7a4fa8" stroke-width="1.0"/><circle cx="912.0" cy="104.2" r="1.5" fill="#7a4fa8"/><line x1="914.6" y1="109.4" x2="917.1" y2="105.8" stroke="#7a4fa8" stroke-width="1.0"/><circle cx="917.1" cy="105.8" r="1.5" fill="#7a4fa8"/><line x1="916.2" y1="111.5" x2="920.4" y2="110.1" stroke="#7a4fa8" stroke-width="1.0"/><circle cx="920.4" cy="110.1" r="1.5" fill="#7a4fa8"/><circle cx="912.1" cy="112.9" r="5.4" fill="#7a4fa8"/><ellipse cx="910.0" cy="111.3" rx="1.2" ry="2.4" fill="#c0a0e0" fill-opacity="0.45" transform="rotate(35 910.0 111.3)"/>
<line x1="877.5" y1="132.1" x2="883.2" y2="133.9" stroke="#f0a020" stroke-width="1.4"/><circle cx="883.2" cy="133.9" r="2.2" fill="#f0a020"/><line x1="875.1" y1="135.5" x2="878.7" y2="140.3" stroke="#f0a020" stroke-width="1.4"/><circle cx="878.7" cy="140.3" r="2.2" fill="#f0a020"/><line x1="871.3" y1="136.8" x2="871.4" y2="142.8" stroke="#f0a020" stroke-width="1.4"/><circle cx="871.4" cy="142.8" r="2.2" fill="#f0a020"/><line x1="867.4" y1="135.6" x2="863.9" y2="140.5" stroke="#f0a020" stroke-width="1.4"/><circle cx="863.9" cy="140.5" r="2.2" fill="#f0a020"/><line x1="865.0" y1="132.3" x2="859.3" y2="134.3" stroke="#f0a020" stroke-width="1.4"/><circle cx="859.3" cy="134.3" r="2.2" fill="#f0a020"/><line x1="864.9" y1="128.3" x2="859.2" y2="126.5" stroke="#f0a020" stroke-width="1.4"/><circle cx="859.2" cy="126.5" r="2.2" fill="#f0a020"/><line x1="867.3" y1="124.9" x2="863.7" y2="120.1" stroke="#f0a020" stroke-width="1.4"/><circle cx="863.7" cy="120.1" r="2.2" fill="#f0a020"/><line x1="871.1" y1="123.6" x2="871.0" y2="117.6" stroke="#f0a020" stroke-width="1.4"/><circle cx="871.0" cy="117.6" r="2.2" fill="#f0a020"/><line x1="875.0" y1="124.8" x2="878.5" y2="119.9" stroke="#f0a020" stroke-width="1.4"/><circle cx="878.5" cy="119.9" r="2.2" fill="#f0a020"/><line x1="877.4" y1="128.1" x2="883.1" y2="126.1" stroke="#f0a020" stroke-width="1.4"/><circle cx="883.1" cy="126.1" r="2.2" fill="#f0a020"/><circle cx="871.2" cy="130.2" r="8.2" fill="#f0a020"/><ellipse cx="868.1" cy="127.7" rx="1.8" ry="3.7" fill="#ffe080" fill-opacity="0.45" transform="rotate(35 868.1 127.7)"/>
<line x1="964.4" y1="128.1" x2="968.4" y2="129.4" stroke="#8cc4a0" stroke-width="1.0"/><circle cx="968.4" cy="129.4" r="1.5" fill="#8cc4a0"/><line x1="962.8" y1="130.4" x2="965.3" y2="133.8" stroke="#8cc4a0" stroke-width="1.0"/><circle cx="965.3" cy="133.8" r="1.5" fill="#8cc4a0"/><line x1="960.2" y1="131.3" x2="960.2" y2="135.5" stroke="#8cc4a0" stroke-width="1.0"/><circle cx="960.2" cy="135.5" r="1.5" fill="#8cc4a0"/><line x1="957.5" y1="130.5" x2="955.1" y2="133.9" stroke="#8cc4a0" stroke-width="1.0"/><circle cx="955.1" cy="133.9" r="1.5" fill="#8cc4a0"/><line x1="955.9" y1="128.2" x2="951.9" y2="129.6" stroke="#8cc4a0" stroke-width="1.0"/><circle cx="951.9" cy="129.6" r="1.5" fill="#8cc4a0"/><line x1="955.8" y1="125.5" x2="951.8" y2="124.2" stroke="#8cc4a0" stroke-width="1.0"/><circle cx="951.8" cy="124.2" r="1.5" fill="#8cc4a0"/><line x1="957.4" y1="123.2" x2="954.9" y2="119.8" stroke="#8cc4a0" stroke-width="1.0"/><circle cx="954.9" cy="119.8" r="1.5" fill="#8cc4a0"/><line x1="960.0" y1="122.3" x2="960.0" y2="118.1" stroke="#8cc4a0" stroke-width="1.0"/><circle cx="960.0" cy="118.1" r="1.5" fill="#8cc4a0"/><line x1="962.7" y1="123.1" x2="965.1" y2="119.7" stroke="#8cc4a0" stroke-width="1.0"/><circle cx="965.1" cy="119.7" r="1.5" fill="#8cc4a0"/><line x1="964.3" y1="125.4" x2="968.3" y2="124.0" stroke="#8cc4a0" stroke-width="1.0"/><circle cx="968.3" cy="124.0" r="1.5" fill="#8cc4a0"/><circle cx="960.1" cy="126.8" r="5.6" fill="#8cc4a0"/><ellipse cx="958.0" cy="125.1" rx="1.2" ry="2.5" fill="#d0f0e0" fill-opacity="0.45" transform="rotate(35 958.0 125.1)"/>
<line x1="923.9" y1="158.9" x2="929.6" y2="160.7" stroke="#f0c4d4" stroke-width="1.4"/><circle cx="929.6" cy="160.7" r="2.2" fill="#f0c4d4"/><line x1="921.5" y1="162.3" x2="925.1" y2="167.1" stroke="#f0c4d4" stroke-width="1.4"/><circle cx="925.1" cy="167.1" r="2.2" fill="#f0c4d4"/><line x1="917.7" y1="163.6" x2="917.8" y2="169.6" stroke="#f0c4d4" stroke-width="1.4"/><circle cx="917.8" cy="169.6" r="2.2" fill="#f0c4d4"/><line x1="913.8" y1="162.4" x2="910.3" y2="167.3" stroke="#f0c4d4" stroke-width="1.4"/><circle cx="910.3" cy="167.3" r="2.2" fill="#f0c4d4"/><line x1="911.4" y1="159.1" x2="905.7" y2="161.1" stroke="#f0c4d4" stroke-width="1.4"/><circle cx="905.7" cy="161.1" r="2.2" fill="#f0c4d4"/><line x1="911.3" y1="155.1" x2="905.6" y2="153.3" stroke="#f0c4d4" stroke-width="1.4"/><circle cx="905.6" cy="153.3" r="2.2" fill="#f0c4d4"/><line x1="913.7" y1="151.7" x2="910.1" y2="146.9" stroke="#f0c4d4" stroke-width="1.4"/><circle cx="910.1" cy="146.9" r="2.2" fill="#f0c4d4"/><line x1="917.5" y1="150.4" x2="917.4" y2="144.4" stroke="#f0c4d4" stroke-width="1.4"/><circle cx="917.4" cy="144.4" r="2.2" fill="#f0c4d4"/><line x1="921.4" y1="151.6" x2="924.9" y2="146.7" stroke="#f0c4d4" stroke-width="1.4"/><circle cx="924.9" cy="146.7" r="2.2" fill="#f0c4d4"/><line x1="923.8" y1="154.9" x2="929.5" y2="152.9" stroke="#f0c4d4" stroke-width="1.4"/><circle cx="929.5" cy="152.9" r="2.2" fill="#f0c4d4"/><circle cx="917.6" cy="157" r="8.2" fill="#f0c4d4"/><ellipse cx="914.5" cy="154.5" rx="1.8" ry="3.7" fill="#ffffff" fill-opacity="0.45" transform="rotate(35 914.5 154.5)"/>
<text x="1014.0" y="133.4" font-size="17" text-anchor="middle" fill="#2e2e2e" textLength="65.3" lengthAdjust="spacingAndGlyphs">MOI=0.4</text>
<text x="1015.0" y="155.7" font-size="17" text-anchor="middle" fill="#2e2e2e" textLength="67.2" lengthAdjust="spacingAndGlyphs">Infection</text>
<text x="913.7" y="190.0" font-size="17" text-anchor="middle" fill="#2e2e2e" textLength="63" lengthAdjust="spacingAndGlyphs">CRISPRi</text>
<text x="913.3" y="212.0" font-size="17" text-anchor="middle" fill="#2e2e2e" textLength="95.2" lengthAdjust="spacingAndGlyphs">sgRNA virus</text>
<text x="1145.0" y="190.0" font-size="17" text-anchor="middle" fill="#2e2e2e" textLength="32.5" lengthAdjust="spacingAndGlyphs">AGS</text>
<text x="1145.0" y="212.0" font-size="17" text-anchor="middle" fill="#2e2e2e" textLength="140" lengthAdjust="spacingAndGlyphs">dCas9-KRAB cells</text>
<g opacity="0.85"><polygon points="1151.5,75.2 1150.2,78.1 1150.1,81.3 1147.7,83.3 1146.2,86.2 1143.1,87.0 1140.6,88.9 1137.5,88.2 1134.4,88.9 1131.8,87.0 1128.8,86.2 1127.3,83.3 1124.9,81.3 1124.8,78.1 1123.5,75.2 1124.8,72.3 1124.9,69.2 1127.3,67.1 1128.8,64.3 1131.8,63.5 1134.4,61.6 1137.5,62.2 1140.6,61.6 1143.1,63.5 1146.2,64.3 1147.7,67.1 1150.1,69.2 1150.2,72.3" fill="#f6d8d4" stroke="#f6d8d4" stroke-width="0.8"/><circle cx="1137.5" cy="75.2" r="5.9" fill="#eec4bc"/></g>
<g opacity="0.85"><polygon points="1120.8,72.0 1119.5,74.9 1119.5,78.1 1117.0,80.2 1115.6,83.0 1112.5,83.8 1110.0,85.7 1106.8,85.1 1103.7,85.7 1101.2,83.8 1098.1,83.0 1096.7,80.2 1094.2,78.1 1094.2,74.9 1092.8,72.0 1094.2,69.1 1094.2,66.0 1096.7,63.9 1098.1,61.1 1101.2,60.3 1103.7,58.4 1106.8,59.0 1110.0,58.4 1112.5,60.3 1115.6,61.1 1117.0,63.9 1119.5,66.0 1119.5,69.1" fill="#f6d8d4" stroke="#f6d8d4" stroke-width="0.8"/><circle cx="1106.8" cy="72.0" r="5.9" fill="#eec4bc"/></g>
<g opacity="0.85"><polygon points="1091.2,89.0 1089.9,91.9 1089.9,95.0 1087.4,97.1 1086.0,99.9 1082.9,100.7 1080.4,102.6 1077.2,102.0 1074.1,102.6 1071.6,100.7 1068.5,99.9 1067.1,97.1 1064.6,95.0 1064.5,91.9 1063.2,89.0 1064.5,86.1 1064.6,82.9 1067.1,80.8 1068.5,78.0 1071.6,77.2 1074.1,75.3 1077.2,75.9 1080.4,75.3 1082.9,77.2 1086.0,78.0 1087.4,80.8 1089.9,82.9 1089.9,86.1" fill="#f6d8d4" stroke="#f6d8d4" stroke-width="0.8"/><circle cx="1077.2" cy="89.0" r="5.9" fill="#eec4bc"/></g>
<g opacity="0.85"><polygon points="1081.7,111.1 1080.4,114.0 1080.4,117.2 1077.9,119.3 1076.5,122.1 1073.4,122.9 1070.9,124.8 1067.7,124.2 1064.6,124.8 1062.1,122.9 1059.0,122.1 1057.6,119.3 1055.1,117.2 1055.1,114.0 1053.7,111.1 1055.1,108.2 1055.1,105.1 1057.6,103.0 1059.0,100.2 1062.1,99.4 1064.6,97.5 1067.7,98.1 1070.9,97.5 1073.4,99.4 1076.5,100.2 1077.9,103.0 1080.4,105.1 1080.4,108.2" fill="#f6d8d4" stroke="#f6d8d4" stroke-width="0.8"/><circle cx="1067.7" cy="111.1" r="5.9" fill="#eec4bc"/></g>
<g opacity="0.85"><polygon points="1083.9,137.6 1082.6,140.4 1082.5,143.6 1080.1,145.7 1078.6,148.5 1075.6,149.3 1073.0,151.2 1069.9,150.6 1066.8,151.2 1064.3,149.3 1061.2,148.5 1059.7,145.7 1057.3,143.6 1057.2,140.4 1055.9,137.6 1057.2,134.7 1057.3,131.5 1059.7,129.4 1061.2,126.6 1064.3,125.8 1066.8,123.9 1069.9,124.5 1073.0,123.9 1075.6,125.8 1078.6,126.6 1080.1,129.4 1082.5,131.5 1082.6,134.7" fill="#f6d8d4" stroke="#f6d8d4" stroke-width="0.8"/><circle cx="1069.9" cy="137.6" r="5.9" fill="#eec4bc"/></g>
<g opacity="0.85"><polygon points="1171.5,98.4 1170.2,101.3 1170.1,104.5 1167.7,106.6 1166.2,109.4 1163.2,110.2 1160.6,112.1 1157.5,111.5 1154.4,112.1 1151.9,110.2 1148.8,109.4 1147.3,106.6 1144.9,104.5 1144.8,101.3 1143.5,98.4 1144.8,95.6 1144.9,92.4 1147.3,90.3 1148.8,87.5 1151.9,86.7 1154.4,84.8 1157.5,85.4 1160.6,84.8 1163.2,86.7 1166.2,87.5 1167.7,90.3 1170.1,92.4 1170.2,95.6" fill="#f6d8d4" stroke="#f6d8d4" stroke-width="0.8"/><circle cx="1157.5" cy="98.4" r="5.9" fill="#eec4bc"/></g>
<g opacity="0.85"><polygon points="1181.0,119.6 1179.7,122.5 1179.6,125.7 1177.2,127.7 1175.7,130.5 1172.7,131.3 1170.1,133.2 1167.0,132.6 1163.9,133.2 1161.4,131.3 1158.3,130.5 1156.8,127.7 1154.4,125.7 1154.3,122.5 1153.0,119.6 1154.3,116.7 1154.4,113.5 1156.8,111.5 1158.3,108.7 1161.4,107.9 1163.9,105.9 1167.0,106.6 1170.1,105.9 1172.7,107.9 1175.7,108.7 1177.2,111.5 1179.6,113.5 1179.7,116.7" fill="#f6d8d4" stroke="#f6d8d4" stroke-width="0.8"/><circle cx="1167.0" cy="119.6" r="5.9" fill="#eec4bc"/></g>
<g opacity="0.85"><polygon points="1169.4,144.9 1168.1,147.8 1168.1,151.0 1165.6,153.0 1164.2,155.8 1161.1,156.6 1158.6,158.5 1155.4,157.9 1152.3,158.5 1149.8,156.6 1146.7,155.8 1145.3,153.0 1142.8,151.0 1142.8,147.8 1141.4,144.9 1142.8,142.0 1142.8,138.8 1145.3,136.8 1146.7,133.9 1149.8,133.2 1152.3,131.2 1155.4,131.9 1158.6,131.2 1161.1,133.2 1164.2,133.9 1165.6,136.8 1168.1,138.8 1168.1,142.0" fill="#f6d8d4" stroke="#f6d8d4" stroke-width="0.8"/><circle cx="1155.4" cy="144.9" r="5.9" fill="#eec4bc"/></g>
<g opacity="0.85"><polygon points="1152.5,157.6 1151.2,160.5 1151.1,163.6 1148.7,165.7 1147.3,168.5 1144.2,169.3 1141.6,171.2 1138.5,170.6 1135.4,171.2 1132.9,169.3 1129.8,168.5 1128.3,165.7 1125.9,163.6 1125.8,160.5 1124.5,157.6 1125.8,154.7 1125.9,151.5 1128.3,149.5 1129.8,146.6 1132.9,145.8 1135.4,143.9 1138.5,144.6 1141.6,143.9 1144.2,145.8 1147.3,146.6 1148.7,149.5 1151.1,151.5 1151.2,154.7" fill="#f6d8d4" stroke="#f6d8d4" stroke-width="0.8"/><circle cx="1138.5" cy="157.6" r="5.9" fill="#eec4bc"/></g>
<g opacity="0.85"><polygon points="1129.3,162.8 1128.0,165.7 1127.9,168.9 1125.5,171.0 1124.0,173.8 1121.0,174.6 1118.4,176.5 1115.3,175.9 1112.2,176.5 1109.7,174.6 1106.6,173.8 1105.1,171.0 1102.7,168.9 1102.6,165.7 1101.3,162.8 1102.6,159.9 1102.7,156.8 1105.1,154.7 1106.6,151.9 1109.7,151.1 1112.2,149.2 1115.3,149.8 1118.4,149.2 1121.0,151.1 1124.0,151.9 1125.5,154.7 1127.9,156.8 1128.0,159.9" fill="#f6d8d4" stroke="#f6d8d4" stroke-width="0.8"/><circle cx="1115.3" cy="162.8" r="5.9" fill="#eec4bc"/></g>
<g opacity="0.85"><polygon points="1105.0,160.8 1103.7,163.7 1103.6,166.8 1101.1,168.9 1099.7,171.7 1096.6,172.5 1094.1,174.4 1091.0,173.8 1087.8,174.4 1085.3,172.5 1082.2,171.7 1080.8,168.9 1078.3,166.8 1078.3,163.7 1077.0,160.8 1078.3,157.9 1078.3,154.7 1080.8,152.7 1082.2,149.8 1085.3,149.0 1087.8,147.1 1091.0,147.7 1094.1,147.1 1096.6,149.0 1099.7,149.8 1101.1,152.7 1103.6,154.7 1103.7,157.9" fill="#f6d8d4" stroke="#f6d8d4" stroke-width="0.8"/><circle cx="1091.0" cy="160.8" r="5.9" fill="#eec4bc"/></g>
<g opacity="1"><polygon points="1097.6,98.3 1096.2,101.4 1096.1,104.8 1093.5,107.0 1092.0,110.0 1088.7,110.9 1085.9,112.9 1082.6,112.2 1079.3,112.9 1076.5,110.9 1073.2,110.0 1071.7,107.0 1069.1,104.8 1069.0,101.4 1067.6,98.3 1069.0,95.2 1069.1,91.8 1071.7,89.6 1073.2,86.6 1076.5,85.7 1079.3,83.7 1082.6,84.3 1085.9,83.7 1088.7,85.7 1092.0,86.6 1093.5,89.6 1096.1,91.8 1096.2,95.2" fill="#f0b8b0" stroke="#e09488" stroke-width="0.8"/><circle cx="1082.6" cy="98.3" r="5.5" fill="#e0948a"/></g>
<g opacity="1"><polygon points="1115.0,86.0 1113.6,89.1 1113.5,92.5 1110.9,94.7 1109.4,97.7 1106.1,98.6 1103.3,100.6 1100.0,100.0 1096.7,100.6 1093.9,98.6 1090.6,97.7 1089.1,94.7 1086.5,92.5 1086.4,89.1 1085.0,86.0 1086.4,82.9 1086.5,79.5 1089.1,77.3 1090.6,74.3 1093.9,73.4 1096.7,71.4 1100.0,72.0 1103.3,71.4 1106.1,73.4 1109.4,74.3 1110.9,77.3 1113.5,79.5 1113.6,82.9" fill="#f0b8b0" stroke="#e09488" stroke-width="0.8"/><circle cx="1100.0" cy="86.0" r="5.5" fill="#e0948a"/></g>
<g opacity="1"><polygon points="1135.8,78.1 1134.4,81.2 1134.3,84.6 1131.7,86.8 1130.2,89.8 1126.9,90.7 1124.1,92.7 1120.8,92.0 1117.5,92.7 1114.7,90.7 1111.4,89.8 1109.9,86.8 1107.3,84.6 1107.2,81.2 1105.8,78.1 1107.2,75.0 1107.3,71.6 1109.9,69.4 1111.4,66.4 1114.7,65.5 1117.5,63.5 1120.8,64.1 1124.1,63.5 1126.9,65.5 1130.2,66.4 1131.7,69.4 1134.3,71.6 1134.4,75.0" fill="#f0b8b0" stroke="#e09488" stroke-width="0.8"/><circle cx="1120.8" cy="78.1" r="5.5" fill="#e0948a"/></g>
<g opacity="1"><polygon points="1154.9,92.7 1153.5,95.8 1153.4,99.2 1150.8,101.4 1149.3,104.4 1146.0,105.3 1143.2,107.3 1139.9,106.7 1136.6,107.3 1133.8,105.3 1130.5,104.4 1129.0,101.4 1126.4,99.2 1126.3,95.8 1124.9,92.7 1126.3,89.6 1126.4,86.2 1129.0,84.0 1130.5,81.0 1133.8,80.1 1136.6,78.1 1139.9,78.8 1143.2,78.1 1146.0,80.1 1149.3,81.0 1150.8,84.0 1153.4,86.2 1153.5,89.6" fill="#f0b8b0" stroke="#e09488" stroke-width="0.8"/><circle cx="1139.9" cy="92.7" r="5.5" fill="#e0948a"/></g>
<g opacity="1"><polygon points="1168.4,117.4 1167.0,120.5 1166.9,123.9 1164.3,126.1 1162.8,129.1 1159.5,130.0 1156.7,132.0 1153.4,131.3 1150.1,132.0 1147.3,130.0 1144.0,129.1 1142.5,126.1 1139.9,123.9 1139.8,120.5 1138.4,117.4 1139.8,114.3 1139.9,110.9 1142.5,108.7 1144.0,105.7 1147.3,104.8 1150.1,102.8 1153.4,103.5 1156.7,102.8 1159.5,104.8 1162.8,105.7 1164.3,108.7 1166.9,110.9 1167.0,114.3" fill="#f0b8b0" stroke="#e09488" stroke-width="0.8"/><circle cx="1153.4" cy="117.4" r="5.5" fill="#e0948a"/></g>
<g opacity="1"><polygon points="1160.5,136.5 1159.1,139.6 1159.0,143.0 1156.4,145.2 1154.9,148.2 1151.6,149.1 1148.8,151.1 1145.5,150.4 1142.2,151.1 1139.4,149.1 1136.1,148.2 1134.6,145.2 1132.0,143.0 1131.9,139.6 1130.5,136.5 1131.9,133.4 1132.0,130.0 1134.6,127.8 1136.1,124.8 1139.4,123.9 1142.2,121.9 1145.5,122.5 1148.8,121.9 1151.6,123.9 1154.9,124.8 1156.4,127.8 1159.0,130.0 1159.1,133.4" fill="#f0b8b0" stroke="#e09488" stroke-width="0.8"/><circle cx="1145.5" cy="136.5" r="5.5" fill="#e0948a"/></g>
<g opacity="1"><polygon points="1087.5,121.9 1086.1,125.0 1086.0,128.4 1083.4,130.6 1081.9,133.6 1078.6,134.5 1075.8,136.5 1072.5,135.8 1069.2,136.5 1066.4,134.5 1063.1,133.6 1061.6,130.6 1059.0,128.4 1058.9,125.0 1057.5,121.9 1058.9,118.8 1059.0,115.4 1061.6,113.2 1063.1,110.2 1066.4,109.3 1069.2,107.3 1072.5,108.0 1075.8,107.3 1078.6,109.3 1081.9,110.2 1083.4,113.2 1086.0,115.4 1086.1,118.8" fill="#f0b8b0" stroke="#e09488" stroke-width="0.8"/><circle cx="1072.5" cy="121.9" r="5.5" fill="#e0948a"/></g>
<g opacity="1"><polygon points="1098.7,143.3 1097.3,146.4 1097.2,149.8 1094.6,152.0 1093.1,155.0 1089.8,155.9 1087.0,157.9 1083.7,157.2 1080.4,157.9 1077.6,155.9 1074.3,155.0 1072.8,152.0 1070.2,149.8 1070.1,146.4 1068.7,143.3 1070.1,140.2 1070.2,136.8 1072.8,134.6 1074.3,131.6 1077.6,130.7 1080.4,128.7 1083.7,129.4 1087.0,128.7 1089.8,130.7 1093.1,131.6 1094.6,134.6 1097.2,136.8 1097.3,140.2" fill="#f0b8b0" stroke="#e09488" stroke-width="0.8"/><circle cx="1083.7" cy="143.3" r="5.5" fill="#e0948a"/></g>
<g opacity="1"><polygon points="1117.8,156.7 1116.4,159.8 1116.3,163.2 1113.7,165.4 1112.2,168.4 1108.9,169.3 1106.1,171.3 1102.8,170.6 1099.5,171.3 1096.7,169.3 1093.4,168.4 1091.9,165.4 1089.3,163.2 1089.2,159.8 1087.8,156.7 1089.2,153.6 1089.3,150.2 1091.9,148.0 1093.4,145.0 1096.7,144.1 1099.5,142.1 1102.8,142.8 1106.1,142.1 1108.9,144.1 1112.2,145.0 1113.7,148.0 1116.3,150.2 1116.4,153.6" fill="#f0b8b0" stroke="#e09488" stroke-width="0.8"/><circle cx="1102.8" cy="156.7" r="5.5" fill="#e0948a"/></g>
<g opacity="1"><polygon points="1136.3,93.8 1134.9,97.0 1134.8,100.5 1132.1,102.8 1130.5,105.9 1127.1,106.8 1124.2,108.9 1120.8,108.2 1117.4,108.9 1114.5,106.8 1111.1,105.9 1109.5,102.8 1106.8,100.5 1106.7,97.0 1105.3,93.8 1106.7,90.6 1106.8,87.1 1109.5,84.8 1111.1,81.7 1114.5,80.8 1117.4,78.7 1120.8,79.4 1124.2,78.7 1127.1,80.8 1130.5,81.7 1132.1,84.8 1134.8,87.1 1134.9,90.6" fill="#eeaaa2" stroke="#e09488" stroke-width="0.8"/><circle cx="1120.8" cy="93.8" r="6.2" fill="#d8705e"/></g>
<g opacity="1"><polygon points="1114.9,106.2 1113.5,109.4 1113.4,112.9 1110.7,115.2 1109.1,118.3 1105.7,119.2 1102.8,121.3 1099.4,120.6 1096.0,121.3 1093.1,119.2 1089.7,118.3 1088.1,115.2 1085.4,112.9 1085.3,109.4 1083.9,106.2 1085.3,103.0 1085.4,99.5 1088.1,97.2 1089.7,94.1 1093.1,93.2 1096.0,91.1 1099.4,91.8 1102.8,91.1 1105.7,93.2 1109.1,94.1 1110.7,97.2 1113.4,99.5 1113.5,103.0" fill="#eeaaa2" stroke="#e09488" stroke-width="0.8"/><circle cx="1099.4" cy="106.2" r="6.2" fill="#d8705e"/></g>
<g opacity="1"><polygon points="1149.8,112.9 1148.4,116.1 1148.3,119.6 1145.6,121.9 1144.0,125.0 1140.6,125.9 1137.7,128.0 1134.3,127.3 1130.9,128.0 1128.0,125.9 1124.6,125.0 1123.0,121.9 1120.3,119.6 1120.2,116.1 1118.8,112.9 1120.2,109.7 1120.3,106.2 1123.0,103.9 1124.6,100.8 1128.0,99.9 1130.9,97.8 1134.3,98.5 1137.7,97.8 1140.6,99.9 1144.0,100.8 1145.6,103.9 1148.3,106.2 1148.4,109.7" fill="#eeaaa2" stroke="#e09488" stroke-width="0.8"/><circle cx="1134.3" cy="112.9" r="6.2" fill="#d8705e"/></g>
<g opacity="1"><polygon points="1104.8,123.0 1103.4,126.2 1103.3,129.7 1100.6,132.0 1099.0,135.1 1095.6,136.0 1092.7,138.1 1089.3,137.4 1085.9,138.1 1083.0,136.0 1079.6,135.1 1078.0,132.0 1075.3,129.7 1075.2,126.2 1073.8,123.0 1075.2,119.8 1075.3,116.3 1078.0,114.0 1079.6,110.9 1083.0,110.0 1085.9,107.9 1089.3,108.6 1092.7,107.9 1095.6,110.0 1099.0,110.9 1100.6,114.0 1103.3,116.3 1103.4,119.8" fill="#eeaaa2" stroke="#e09488" stroke-width="0.8"/><circle cx="1089.3" cy="123.0" r="6.2" fill="#d8705e"/></g>
<g opacity="1"><polygon points="1141.9,138.2 1140.5,141.4 1140.4,144.9 1137.7,147.2 1136.1,150.3 1132.7,151.2 1129.8,153.3 1126.4,152.6 1123.0,153.3 1120.1,151.2 1116.7,150.3 1115.1,147.2 1112.4,144.9 1112.3,141.4 1110.9,138.2 1112.3,135.0 1112.4,131.5 1115.1,129.2 1116.7,126.1 1120.1,125.2 1123.0,123.1 1126.4,123.8 1129.8,123.1 1132.7,125.2 1136.1,126.1 1137.7,129.2 1140.4,131.5 1140.5,135.0" fill="#eeaaa2" stroke="#e09488" stroke-width="0.8"/><circle cx="1126.4" cy="138.2" r="6.2" fill="#d8705e"/></g>
<g opacity="1"><polygon points="1117.2,142.7 1115.8,145.9 1115.7,149.4 1113.0,151.7 1111.4,154.8 1108.0,155.7 1105.1,157.8 1101.7,157.1 1098.3,157.8 1095.4,155.7 1092.0,154.8 1090.4,151.7 1087.7,149.4 1087.6,145.9 1086.2,142.7 1087.6,139.5 1087.7,136.0 1090.4,133.7 1092.0,130.6 1095.4,129.7 1098.3,127.6 1101.7,128.3 1105.1,127.6 1108.0,129.7 1111.4,130.6 1113.0,133.7 1115.7,136.0 1115.8,139.5" fill="#eeaaa2" stroke="#e09488" stroke-width="0.8"/><circle cx="1101.7" cy="142.7" r="6.2" fill="#d8705e"/></g>
<g opacity="1"><polygon points="1132.9,119.1 1131.5,122.3 1131.4,125.8 1128.7,128.1 1127.1,131.2 1123.7,132.1 1120.8,134.2 1117.4,133.5 1114.0,134.2 1111.1,132.1 1107.7,131.2 1106.1,128.1 1103.4,125.8 1103.3,122.3 1101.9,119.1 1103.3,115.9 1103.4,112.4 1106.1,110.1 1107.7,107.0 1111.1,106.1 1114.0,104.0 1117.4,104.7 1120.8,104.0 1123.7,106.1 1127.1,107.0 1128.7,110.1 1131.4,112.4 1131.5,115.9" fill="#eeaaa2" stroke="#e09488" stroke-width="0.8"/><circle cx="1117.4" cy="119.1" r="6.2" fill="#d8705e"/></g>
<polygon points="975.72,166.58 977.82,167.54 979.87,168.53 981.85,169.55 983.78,170.61 985.65,171.71 987.47,172.84 989.23,174.00 990.93,175.20 992.57,176.44 994.16,177.71 995.68,179.01 997.16,180.35 998.57,181.72 999.93,183.13 1001.23,184.57 1002.48,186.04 1003.66,187.55 1004.80,189.10 1005.87,190.67 1006.89,192.29 1007.85,193.93 1008.76,195.61 1009.61,197.32 1010.41,199.07 1011.15,200.85 1011.84,202.67 1012.47,204.52 1013.05,206.41 1013.57,208.33 1014.03,210.28 1016.37,209.72 1015.82,207.71 1015.21,205.74 1014.55,203.81 1013.83,201.91 1013.06,200.06 1012.23,198.24 1011.34,196.46 1010.40,194.72 1009.41,193.02 1008.35,191.36 1007.25,189.74 1006.08,188.15 1004.87,186.61 1003.60,185.10 1002.27,183.63 1000.89,182.20 999.45,180.81 997.96,179.46 996.42,178.15 994.82,176.87 993.17,175.64 991.46,174.44 989.70,173.28 987.89,172.16 986.02,171.07 984.10,170.03 982.13,169.02 980.10,168.05 978.01,167.11 975.88,166.22" fill="#1a1a1a"/>
<polygon points="1055.93,166.21 1053.67,167.11 1051.48,168.04 1049.34,169.01 1047.26,170.02 1045.24,171.07 1043.28,172.15 1041.38,173.27 1039.54,174.43 1037.76,175.63 1036.03,176.87 1034.37,178.14 1032.76,179.45 1031.21,180.80 1029.72,182.19 1028.29,183.62 1026.92,185.09 1025.61,186.60 1024.35,188.14 1023.16,189.73 1022.03,191.35 1020.96,193.01 1019.94,194.72 1018.99,196.46 1018.10,198.24 1017.27,200.06 1016.50,201.92 1015.79,203.81 1015.14,205.75 1014.55,207.72 1014.03,209.73 1016.37,210.27 1016.81,208.31 1017.31,206.40 1017.87,204.51 1018.50,202.67 1019.18,200.85 1019.92,199.07 1020.72,197.33 1021.58,195.61 1022.50,193.94 1023.48,192.29 1024.53,190.68 1025.63,189.11 1026.80,187.56 1028.02,186.05 1029.31,184.58 1030.66,183.14 1032.07,181.73 1033.55,180.36 1035.08,179.02 1036.68,177.71 1038.34,176.44 1040.06,175.21 1041.85,174.01 1043.69,172.84 1045.60,171.71 1047.57,170.61 1049.60,169.55 1051.70,168.53 1053.86,167.54 1056.07,166.59" fill="#1a1a1a"/>
<path d="M1006.5 202.5 L1024 202.5 L1015.2 215.5 Z" fill="#1a1a1a"/>
<g opacity="0.85"><polygon points="1020.9,240.7 1019.6,243.4 1019.5,246.5 1017.2,248.5 1015.8,251.2 1012.8,252.0 1010.4,253.8 1007.4,253.2 1004.3,253.8 1001.9,252.0 998.9,251.2 997.5,248.5 995.2,246.5 995.1,243.4 993.9,240.7 995.1,237.9 995.2,234.8 997.5,232.8 998.9,230.1 1001.9,229.3 1004.3,227.5 1007.4,228.1 1010.4,227.5 1012.8,229.3 1015.8,230.1 1017.2,232.8 1019.5,234.8 1019.6,237.9" fill="#f6d8d4" stroke="#f6d8d4" stroke-width="0.8"/><circle cx="1007.4" cy="240.7" r="5.7" fill="#eec4bc"/></g>
<g opacity="0.85"><polygon points="1050.8,239.6 1049.5,242.4 1049.4,245.5 1047.1,247.5 1045.7,250.2 1042.7,251.0 1040.3,252.8 1037.3,252.2 1034.2,252.8 1031.8,251.0 1028.8,250.2 1027.4,247.5 1025.1,245.5 1025.0,242.4 1023.8,239.6 1025.0,236.9 1025.1,233.8 1027.4,231.8 1028.8,229.1 1031.8,228.3 1034.2,226.5 1037.3,227.1 1040.3,226.5 1042.7,228.3 1045.7,229.1 1047.1,231.8 1049.4,233.8 1049.5,236.9" fill="#f6d8d4" stroke="#f6d8d4" stroke-width="0.8"/><circle cx="1037.3" cy="239.6" r="5.7" fill="#eec4bc"/></g>
<g opacity="0.85"><polygon points="990.0,254.2 988.8,257.0 988.7,260.0 986.3,262.0 984.9,264.7 982.0,265.5 979.5,267.3 976.5,266.7 973.5,267.3 971.1,265.5 968.1,264.7 966.7,262.0 964.4,260.0 964.3,257.0 963.0,254.2 964.3,251.4 964.4,248.3 966.7,246.4 968.1,243.6 971.1,242.9 973.5,241.0 976.5,241.6 979.5,241.0 982.0,242.9 984.9,243.6 986.3,246.4 988.7,248.3 988.8,251.4" fill="#f6d8d4" stroke="#f6d8d4" stroke-width="0.8"/><circle cx="976.5" cy="254.2" r="5.7" fill="#eec4bc"/></g>
<g opacity="0.85"><polygon points="978.4,277.3 977.2,280.1 977.1,283.1 974.8,285.1 973.4,287.8 970.4,288.6 967.9,290.4 964.9,289.8 961.9,290.4 959.5,288.6 956.5,287.8 955.1,285.1 952.8,283.1 952.7,280.1 951.4,277.3 952.7,274.5 952.8,271.4 955.1,269.4 956.5,266.7 959.5,266.0 961.9,264.1 964.9,264.7 967.9,264.1 970.4,266.0 973.4,266.7 974.8,269.4 977.1,271.4 977.2,274.5" fill="#f6d8d4" stroke="#f6d8d4" stroke-width="0.8"/><circle cx="964.9" cy="277.3" r="5.7" fill="#eec4bc"/></g>
<g opacity="0.85"><polygon points="983.2,305.2 982.0,308.0 981.9,311.1 979.5,313.1 978.1,315.8 975.2,316.6 972.7,318.4 969.7,317.8 966.7,318.4 964.3,316.6 961.3,315.8 959.9,313.1 957.6,311.1 957.5,308.0 956.2,305.2 957.5,302.4 957.6,299.4 959.9,297.4 961.3,294.7 964.3,293.9 966.7,292.1 969.7,292.7 972.7,292.1 975.2,293.9 978.1,294.7 979.5,297.4 981.9,299.4 982.0,302.4" fill="#f6d8d4" stroke="#f6d8d4" stroke-width="0.8"/><circle cx="969.7" cy="305.2" r="5.7" fill="#eec4bc"/></g>
<g opacity="0.85"><polygon points="1070.1,265.7 1068.8,268.5 1068.7,271.5 1066.4,273.5 1065.0,276.2 1062.0,277.0 1059.6,278.8 1056.6,278.2 1053.6,278.8 1051.1,277.0 1048.2,276.2 1046.8,273.5 1044.4,271.5 1044.3,268.5 1043.1,265.7 1044.3,262.9 1044.4,259.8 1046.8,257.9 1048.2,255.1 1051.1,254.4 1053.6,252.5 1056.6,253.1 1059.6,252.5 1062.0,254.4 1065.0,255.1 1066.4,257.9 1068.7,259.8 1068.8,262.9" fill="#f6d8d4" stroke="#f6d8d4" stroke-width="0.8"/><circle cx="1056.6" cy="265.7" r="5.7" fill="#eec4bc"/></g>
<g opacity="0.85"><polygon points="1077.8,286.9 1076.5,289.7 1076.5,292.8 1074.1,294.8 1072.7,297.5 1069.7,298.2 1067.3,300.1 1064.3,299.5 1061.3,300.1 1058.9,298.2 1055.9,297.5 1054.5,294.8 1052.1,292.8 1052.1,289.7 1050.8,286.9 1052.1,284.1 1052.1,281.1 1054.5,279.1 1055.9,276.4 1058.9,275.6 1061.3,273.8 1064.3,274.4 1067.3,273.8 1069.7,275.6 1072.7,276.4 1074.1,279.1 1076.5,281.1 1076.5,284.1" fill="#f6d8d4" stroke="#f6d8d4" stroke-width="0.8"/><circle cx="1064.3" cy="286.9" r="5.7" fill="#eec4bc"/></g>
<g opacity="0.85"><polygon points="1063.4,310.1 1062.1,312.9 1062.0,316.0 1059.7,317.9 1058.3,320.7 1055.3,321.4 1052.9,323.3 1049.9,322.7 1046.9,323.3 1044.4,321.4 1041.4,320.7 1040.0,317.9 1037.7,316.0 1037.6,312.9 1036.4,310.1 1037.6,307.3 1037.7,304.3 1040.0,302.3 1041.4,299.6 1044.4,298.8 1046.9,297.0 1049.9,297.6 1052.9,297.0 1055.3,298.8 1058.3,299.6 1059.7,302.3 1062.0,304.3 1062.1,307.3" fill="#f6d8d4" stroke="#f6d8d4" stroke-width="0.8"/><circle cx="1049.9" cy="310.1" r="5.7" fill="#eec4bc"/></g>
<g opacity="0.85"><polygon points="1047.9,325.5 1046.6,328.3 1046.6,331.3 1044.2,333.3 1042.8,336.0 1039.8,336.8 1037.4,338.6 1034.4,338.0 1031.4,338.6 1029.0,336.8 1026.0,336.0 1024.6,333.3 1022.2,331.3 1022.2,328.3 1020.9,325.5 1022.2,322.7 1022.2,319.6 1024.6,317.7 1026.0,314.9 1029.0,314.2 1031.4,312.3 1034.4,312.9 1037.4,312.3 1039.8,314.2 1042.8,314.9 1044.2,317.7 1046.6,319.6 1046.6,322.7" fill="#f6d8d4" stroke="#f6d8d4" stroke-width="0.8"/><circle cx="1034.4" cy="325.5" r="5.7" fill="#eec4bc"/></g>
<g opacity="0.85"><polygon points="1026.6,329.4 1025.4,332.2 1025.3,335.3 1023.0,337.3 1021.6,340.0 1018.6,340.7 1016.2,342.6 1013.1,342.0 1010.1,342.6 1007.7,340.7 1004.7,340.0 1003.3,337.3 1001.0,335.3 1000.9,332.2 999.6,329.4 1000.9,326.6 1001.0,323.6 1003.3,321.6 1004.7,318.9 1007.7,318.1 1010.1,316.3 1013.1,316.9 1016.2,316.3 1018.6,318.1 1021.6,318.9 1023.0,321.6 1025.3,323.6 1025.4,326.6" fill="#f6d8d4" stroke="#f6d8d4" stroke-width="0.8"/><circle cx="1013.1" cy="329.4" r="5.7" fill="#eec4bc"/></g>
<g opacity="0.85"><polygon points="1004.5,325.5 1003.2,328.3 1003.1,331.3 1000.8,333.3 999.4,336.0 996.4,336.8 994.0,338.6 991.0,338.0 988.0,338.6 985.5,336.8 982.6,336.0 981.2,333.3 978.8,331.3 978.7,328.3 977.5,325.5 978.7,322.7 978.8,319.6 981.2,317.7 982.6,314.9 985.5,314.2 988.0,312.3 991.0,312.9 994.0,312.3 996.4,314.2 999.4,314.9 1000.8,317.7 1003.1,319.6 1003.2,322.7" fill="#f6d8d4" stroke="#f6d8d4" stroke-width="0.8"/><circle cx="991.0" cy="325.5" r="5.7" fill="#eec4bc"/></g>
<g opacity="1"><polygon points="995.5,266.1 994.2,269.0 994.1,272.2 991.7,274.2 990.2,277.0 987.1,277.8 984.6,279.7 981.5,279.1 978.4,279.7 975.9,277.8 972.8,277.0 971.3,274.2 968.9,272.2 968.8,269.0 967.5,266.1 968.8,263.2 968.9,260.0 971.3,258.0 972.8,255.2 975.9,254.4 978.4,252.5 981.5,253.1 984.6,252.5 987.1,254.4 990.2,255.2 991.7,258.0 994.1,260.0 994.2,263.2" fill="#f0b8b0" stroke="#e09488" stroke-width="0.8"/><circle cx="981.5" cy="266.1" r="5.5" fill="#e0948a"/></g>
<g opacity="1"><polygon points="1012.8,251.5 1011.5,254.4 1011.4,257.6 1009.0,259.6 1007.5,262.4 1004.4,263.2 1001.9,265.1 998.8,264.5 995.7,265.1 993.2,263.2 990.1,262.4 988.6,259.6 986.2,257.6 986.1,254.4 984.8,251.5 986.1,248.6 986.2,245.4 988.6,243.4 990.1,240.6 993.2,239.8 995.7,237.9 998.8,238.5 1001.9,237.9 1004.4,239.8 1007.5,240.6 1009.0,243.4 1011.4,245.4 1011.5,248.6" fill="#f0b8b0" stroke="#e09488" stroke-width="0.8"/><circle cx="998.8" cy="251.5" r="5.5" fill="#e0948a"/></g>
<g opacity="1"><polygon points="1033.2,244.1 1031.9,247.0 1031.8,250.2 1029.4,252.2 1027.9,255.0 1024.8,255.8 1022.3,257.7 1019.2,257.1 1016.1,257.7 1013.6,255.8 1010.5,255.0 1009.0,252.2 1006.6,250.2 1006.5,247.0 1005.2,244.1 1006.5,241.2 1006.6,238.0 1009.0,236.0 1010.5,233.2 1013.6,232.4 1016.1,230.5 1019.2,231.1 1022.3,230.5 1024.8,232.4 1027.9,233.2 1029.4,236.0 1031.8,238.0 1031.9,241.2" fill="#f0b8b0" stroke="#e09488" stroke-width="0.8"/><circle cx="1019.2" cy="244.1" r="5.5" fill="#e0948a"/></g>
<g opacity="1"><polygon points="1053.1,259.8 1051.8,262.7 1051.7,265.9 1049.3,267.9 1047.8,270.7 1044.7,271.5 1042.2,273.4 1039.1,272.8 1036.0,273.4 1033.5,271.5 1030.4,270.7 1028.9,267.9 1026.5,265.9 1026.4,262.7 1025.1,259.8 1026.4,256.9 1026.5,253.7 1028.9,251.7 1030.4,248.9 1033.5,248.1 1036.0,246.2 1039.1,246.8 1042.2,246.2 1044.7,248.1 1047.8,248.9 1049.3,251.7 1051.7,253.7 1051.8,256.9" fill="#f0b8b0" stroke="#e09488" stroke-width="0.8"/><circle cx="1039.1" cy="259.8" r="5.5" fill="#e0948a"/></g>
<g opacity="1"><polygon points="985.0,288.2 983.7,291.1 983.6,294.3 981.2,296.3 979.7,299.1 976.6,299.9 974.1,301.8 971.0,301.2 967.9,301.8 965.4,299.9 962.3,299.1 960.8,296.3 958.4,294.3 958.3,291.1 957.0,288.2 958.3,285.3 958.4,282.1 960.8,280.1 962.3,277.3 965.4,276.5 967.9,274.6 971.0,275.2 974.1,274.6 976.6,276.5 979.7,277.3 981.2,280.1 983.6,282.1 983.7,285.3" fill="#f0b8b0" stroke="#e09488" stroke-width="0.8"/><circle cx="971.0" cy="288.2" r="5.5" fill="#e0948a"/></g>
<g opacity="1"><polygon points="995.5,309.7 994.2,312.6 994.1,315.8 991.7,317.8 990.2,320.6 987.1,321.4 984.6,323.3 981.5,322.7 978.4,323.3 975.9,321.4 972.8,320.6 971.3,317.8 968.9,315.8 968.8,312.6 967.5,309.7 968.8,306.8 968.9,303.6 971.3,301.6 972.8,298.8 975.9,298.0 978.4,296.1 981.5,296.7 984.6,296.1 987.1,298.0 990.2,298.8 991.7,301.6 994.1,303.6 994.2,306.8" fill="#f0b8b0" stroke="#e09488" stroke-width="0.8"/><circle cx="981.5" cy="309.7" r="5.5" fill="#e0948a"/></g>
<g opacity="1"><polygon points="1058.4,302.8 1057.1,305.7 1057.0,308.9 1054.6,310.9 1053.1,313.7 1050.0,314.5 1047.5,316.4 1044.4,315.8 1041.3,316.4 1038.8,314.5 1035.7,313.7 1034.2,310.9 1031.8,308.9 1031.7,305.7 1030.4,302.8 1031.7,299.9 1031.8,296.7 1034.2,294.7 1035.7,291.9 1038.8,291.1 1041.3,289.2 1044.4,289.8 1047.5,289.2 1050.0,291.1 1053.1,291.9 1054.6,294.7 1057.0,296.7 1057.1,299.9" fill="#f0b8b0" stroke="#e09488" stroke-width="0.8"/><circle cx="1044.4" cy="302.8" r="5.5" fill="#e0948a"/></g>
<g opacity="1"><polygon points="1015.4,323.3 1014.1,326.2 1014.0,329.4 1011.6,331.4 1010.1,334.2 1007.0,335.0 1004.5,336.9 1001.4,336.3 998.3,336.9 995.8,335.0 992.7,334.2 991.2,331.4 988.8,329.4 988.7,326.2 987.4,323.3 988.7,320.4 988.8,317.2 991.2,315.2 992.7,312.4 995.8,311.6 998.3,309.7 1001.4,310.3 1004.5,309.7 1007.0,311.6 1010.1,312.4 1011.6,315.2 1014.0,317.2 1014.1,320.4" fill="#f0b8b0" stroke="#e09488" stroke-width="0.8"/><circle cx="1001.4" cy="323.3" r="5.5" fill="#e0948a"/></g>
<g opacity="1"><polygon points="1012.2,272.4 1010.8,275.4 1010.8,278.7 1008.2,280.8 1006.7,283.7 1003.6,284.5 1000.9,286.5 997.7,285.9 994.5,286.5 991.8,284.5 988.7,283.7 987.2,280.8 984.6,278.7 984.6,275.4 983.2,272.4 984.6,269.4 984.6,266.1 987.2,264.0 988.7,261.1 991.8,260.3 994.5,258.3 997.7,258.9 1000.9,258.3 1003.6,260.3 1006.7,261.1 1008.2,264.0 1010.8,266.1 1010.8,269.4" fill="#eeaaa2" stroke="#e09488" stroke-width="0.8"/><circle cx="997.7" cy="272.4" r="5.8" fill="#d8705e"/></g>
<g opacity="1"><polygon points="1047.3,279.2 1045.9,282.2 1045.9,285.5 1043.3,287.6 1041.8,290.5 1038.7,291.3 1036.0,293.3 1032.8,292.7 1029.6,293.3 1026.9,291.3 1023.8,290.5 1022.3,287.6 1019.7,285.5 1019.7,282.2 1018.3,279.2 1019.7,276.2 1019.7,272.9 1022.3,270.8 1023.8,267.9 1026.9,267.1 1029.6,265.1 1032.8,265.7 1036.0,265.1 1038.7,267.1 1041.8,267.9 1043.3,270.8 1045.9,272.9 1045.9,276.2" fill="#eeaaa2" stroke="#e09488" stroke-width="0.8"/><circle cx="1032.8" cy="279.2" r="5.8" fill="#d8705e"/></g>
<g opacity="1"><polygon points="1040.0,304.4 1038.6,307.4 1038.6,310.7 1036.0,312.8 1034.5,315.7 1031.4,316.5 1028.7,318.5 1025.5,317.9 1022.3,318.5 1019.6,316.5 1016.5,315.7 1015.0,312.8 1012.4,310.7 1012.4,307.4 1011.0,304.4 1012.4,301.4 1012.4,298.1 1015.0,296.0 1016.5,293.1 1019.6,292.3 1022.3,290.3 1025.5,290.9 1028.7,290.3 1031.4,292.3 1034.5,293.1 1036.0,296.0 1038.6,298.1 1038.6,301.4" fill="#eeaaa2" stroke="#e09488" stroke-width="0.8"/><circle cx="1025.5" cy="304.4" r="5.8" fill="#d8705e"/></g>
<g opacity="1"><polygon points="1037.6,318.6 1036.6,320.9 1036.5,323.4 1034.6,325.0 1033.5,327.2 1031.0,327.8 1029.0,329.3 1026.6,328.8 1024.2,329.3 1022.2,327.8 1019.7,327.2 1018.6,325.0 1016.7,323.4 1016.6,320.9 1015.6,318.6 1016.6,316.3 1016.7,313.8 1018.6,312.2 1019.7,310.0 1022.2,309.4 1024.2,307.9 1026.6,308.4 1029.0,307.9 1031.0,309.4 1033.5,310.0 1034.6,312.2 1036.5,313.8 1036.6,316.3" fill="#f2c2d2" stroke="#f2c2d2" stroke-width="0.8"/><circle cx="1026.6" cy="318.6" r="4.0" fill="#f2c2d2"/></g>
<g opacity="1"><polygon points="1033.3,260.4 1032.0,263.2 1032.0,266.3 1029.6,268.3 1028.2,271.0 1025.2,271.8 1022.7,273.7 1019.7,273.0 1016.7,273.7 1014.2,271.8 1011.2,271.0 1009.8,268.3 1007.4,266.3 1007.4,263.2 1006.1,260.4 1007.4,257.6 1007.4,254.5 1009.8,252.5 1011.2,249.8 1014.2,249.0 1016.7,247.1 1019.7,247.8 1022.7,247.1 1025.2,249.0 1028.2,249.8 1029.6,252.5 1032.0,254.5 1032.0,257.6" fill="#e05858" stroke="#d04848" stroke-width="0.8"/><circle cx="1019.7" cy="260.4" r="5.8" fill="#b03a30"/></g>
<g opacity="1"><polygon points="1063.8,284.0 1062.8,286.2 1062.8,288.6 1060.9,290.1 1059.8,292.2 1057.5,292.8 1055.6,294.2 1053.3,293.8 1051.0,294.2 1049.1,292.8 1046.8,292.2 1045.7,290.1 1043.8,288.6 1043.8,286.2 1042.8,284.0 1043.8,281.8 1043.8,279.4 1045.7,277.9 1046.8,275.8 1049.1,275.2 1051.0,273.8 1053.3,274.2 1055.6,273.8 1057.5,275.2 1059.8,275.8 1060.9,277.9 1062.8,279.4 1062.8,281.8" fill="#80c4a0" stroke="#70b490" stroke-width="0.8"/><circle cx="1053.3" cy="284.0" r="4.6" fill="#5ea684"/></g>
<g opacity="1"><polygon points="1001.4,289.7 1000.2,292.4 1000.1,295.4 997.8,297.3 996.5,299.9 993.6,300.7 991.2,302.5 988.3,301.9 985.4,302.5 983.0,300.7 980.1,299.9 978.8,297.3 976.5,295.4 976.4,292.4 975.2,289.7 976.4,287.0 976.5,284.0 978.8,282.1 980.1,279.5 983.0,278.7 985.4,276.9 988.3,277.5 991.2,276.9 993.6,278.7 996.5,279.5 997.8,282.1 1000.1,284.0 1000.2,287.0" fill="#2aa6d2" stroke="#2090c0" stroke-width="0.8"/><circle cx="988.3" cy="289.7" r="5.8" fill="#15729e"/></g>
<g opacity="1"><polygon points="1012.9,309.1 1011.7,311.8 1011.6,314.8 1009.3,316.7 1008.0,319.3 1005.1,320.1 1002.7,321.9 999.8,321.3 996.9,321.9 994.5,320.1 991.6,319.3 990.3,316.7 988.0,314.8 987.9,311.8 986.7,309.1 987.9,306.4 988.0,303.4 990.3,301.5 991.6,298.9 994.5,298.1 996.9,296.3 999.8,296.9 1002.7,296.3 1005.1,298.1 1008.0,298.9 1009.3,301.5 1011.6,303.4 1011.7,306.4" fill="#8c7cc8" stroke="#7a6ab8" stroke-width="0.8"/><circle cx="999.8" cy="309.1" r="5.8" fill="#5a3e90"/></g>
<g opacity="1"><polygon points="1030.2,286.1 1028.8,289.1 1028.7,292.5 1026.2,294.6 1024.7,297.6 1021.4,298.4 1018.8,300.4 1015.5,299.8 1012.2,300.4 1009.6,298.4 1006.3,297.6 1004.8,294.6 1002.3,292.5 1002.2,289.1 1000.8,286.1 1002.2,283.1 1002.3,279.7 1004.8,277.6 1006.3,274.6 1009.6,273.8 1012.2,271.8 1015.5,272.4 1018.8,271.8 1021.4,273.8 1024.7,274.6 1026.2,277.6 1028.7,279.7 1028.8,283.1" fill="#f2c264" stroke="#e8b050" stroke-width="0.8"/><circle cx="1015.5" cy="286.1" r="6.5" fill="#e89040"/></g>
<line x1="1015.4" y1="349.0" x2="1015.4" y2="390.0" stroke="#1a1a1a" stroke-width="1.6" />
<path d="M1009.5 387 L1021.3 387 L1015.4 397 Z" fill="#1a1a1a"/>
<text x="1029.0" y="361.8" font-size="17" text-anchor="start" fill="#2e2e2e" textLength="82" lengthAdjust="spacingAndGlyphs">Puromycin</text>
<text x="1029.0" y="384.5" font-size="17" text-anchor="start" fill="#2e2e2e" textLength="70" lengthAdjust="spacingAndGlyphs">selection</text>
<line x1="847.3" y1="398.7" x2="1184.8" y2="398.7" stroke="#1a1a1a" stroke-width="2.5" />
<line x1="847.3" y1="520.3" x2="1184.8" y2="520.3" stroke="#1a1a1a" stroke-width="2.5" />
<ellipse cx="933" cy="446" rx="46" ry="25" fill="#f7e9dc" stroke="#c4bcb8" stroke-width="1"/>
<rect x="887" y="432" width="92" height="14" fill="#f7e9dc"/>
<line x1="887" y1="432" x2="887" y2="446" stroke="#c4bcb8"/><line x1="979" y1="432" x2="979" y2="446" stroke="#c4bcb8"/>
<ellipse cx="933" cy="432" rx="46" ry="25.5" fill="#eaf1f5" stroke="#b8bcc0" stroke-width="1"/>
<ellipse cx="933" cy="437" rx="44" ry="20.5" fill="#fbf1e6" stroke="#e4d4c4" stroke-width="0.8"/>
<ellipse cx="907.9" cy="421.8" rx="2.8" ry="2.2" fill="#f0a8b8" opacity="0.8"/>
<ellipse cx="921.2" cy="422.1" rx="2.6" ry="2.2" fill="#f0a8b8" opacity="0.8"/>
<ellipse cx="931.6" cy="421.3" rx="4.7" ry="1.7" fill="#e86868" opacity="0.8" transform="rotate(15 931.6 421.3)"/>
<ellipse cx="942.6" cy="420.2" rx="3.1" ry="2.2" fill="#44a8d8" opacity="0.8"/>
<ellipse cx="958.6" cy="422.9" rx="6.0" ry="1.7" fill="#f2c44c" opacity="0.8" transform="rotate(13 958.6 422.9)"/>
<ellipse cx="902.2" cy="428.8" rx="6.5" ry="1.7" fill="#e86868" opacity="0.8" transform="rotate(20 902.2 428.8)"/>
<ellipse cx="914.9" cy="427.2" rx="3.1" ry="2.2" fill="#f2c44c" opacity="0.8"/>
<ellipse cx="925.0" cy="429.5" rx="2.7" ry="2.2" fill="#54b064" opacity="0.8"/>
<ellipse cx="937.6" cy="429.5" rx="5.4" ry="1.7" fill="#8c6cc8" opacity="0.8" transform="rotate(-22 937.6 429.5)"/>
<ellipse cx="948.7" cy="428.2" rx="4.8" ry="1.7" fill="#54b064" opacity="0.8" transform="rotate(-1 948.7 428.2)"/>
<ellipse cx="961.3" cy="430.6" rx="4.1" ry="1.7" fill="#e86868" opacity="0.8" transform="rotate(-21 961.3 430.6)"/>
<ellipse cx="899.8" cy="438.5" rx="3.0" ry="2.2" fill="#f2c44c" opacity="0.8"/>
<ellipse cx="913.9" cy="435.1" rx="4.3" ry="1.7" fill="#f2c44c" opacity="0.8" transform="rotate(-4 913.9 435.1)"/>
<ellipse cx="924.0" cy="438.6" rx="6.0" ry="1.7" fill="#44a8d8" opacity="0.8" transform="rotate(22 924.0 438.6)"/>
<ellipse cx="939.8" cy="436.3" rx="4.9" ry="1.7" fill="#f0a8b8" opacity="0.8" transform="rotate(16 939.8 436.3)"/>
<ellipse cx="953.2" cy="436.3" rx="3.2" ry="2.2" fill="#8c6cc8" opacity="0.8"/>
<ellipse cx="962.9" cy="435.2" rx="6.2" ry="1.7" fill="#44a8d8" opacity="0.8" transform="rotate(23 962.9 435.2)"/>
<ellipse cx="901.0" cy="443.9" rx="4.9" ry="1.7" fill="#e86868" opacity="0.8" transform="rotate(21 901.0 443.9)"/>
<ellipse cx="915.5" cy="446.7" rx="3.3" ry="2.2" fill="#44a8d8" opacity="0.8"/>
<ellipse cx="929.1" cy="443.3" rx="2.9" ry="2.2" fill="#f0a8b8" opacity="0.8"/>
<ellipse cx="936.2" cy="444.3" rx="2.8" ry="2.2" fill="#8c6cc8" opacity="0.8"/>
<ellipse cx="953.1" cy="446.6" rx="6.0" ry="1.7" fill="#8c6cc8" opacity="0.8" transform="rotate(8 953.1 446.6)"/>
<ellipse cx="962.0" cy="443.9" rx="3.4" ry="2.2" fill="#44a8d8" opacity="0.8"/>
<ellipse cx="913.7" cy="454.7" rx="3.2" ry="2.2" fill="#f0a8b8" opacity="0.8"/>
<ellipse cx="928.4" cy="452.0" rx="4.9" ry="1.7" fill="#f0a8b8" opacity="0.8" transform="rotate(16 928.4 452.0)"/>
<ellipse cx="939.8" cy="452.3" rx="4.7" ry="1.7" fill="#f0a8b8" opacity="0.8" transform="rotate(-10 939.8 452.3)"/>
<ellipse cx="950.3" cy="452.1" rx="3.2" ry="2.2" fill="#54b064" opacity="0.8"/>
<ellipse cx="1100" cy="446" rx="46" ry="25" fill="#f7e9dc" stroke="#c4bcb8" stroke-width="1"/>
<rect x="1054" y="432" width="92" height="14" fill="#f7e9dc"/>
<line x1="1054" y1="432" x2="1054" y2="446" stroke="#c4bcb8"/><line x1="1146" y1="432" x2="1146" y2="446" stroke="#c4bcb8"/>
<ellipse cx="1100" cy="432" rx="46" ry="25.5" fill="#eaf1f5" stroke="#b8bcc0" stroke-width="1"/>
<ellipse cx="1100" cy="437" rx="44" ry="20.5" fill="#fbf1e6" stroke="#e4d4c4" stroke-width="0.8"/>
<ellipse cx="1074.4" cy="422.0" rx="6.1" ry="1.7" fill="#44a8d8" opacity="0.8" transform="rotate(1 1074.4 422.0)"/>
<ellipse cx="1085.4" cy="422.3" rx="3.0" ry="2.2" fill="#44a8d8" opacity="0.8"/>
<ellipse cx="1099.0" cy="420.5" rx="2.8" ry="2.2" fill="#44a8d8" opacity="0.8"/>
<ellipse cx="1113.0" cy="422.5" rx="5.4" ry="1.7" fill="#54b064" opacity="0.8" transform="rotate(9 1113.0 422.5)"/>
<ellipse cx="1124.4" cy="419.3" rx="2.9" ry="2.2" fill="#e86868" opacity="0.8"/>
<ellipse cx="1069.9" cy="429.7" rx="6.2" ry="1.7" fill="#8c6cc8" opacity="0.8" transform="rotate(16 1069.9 429.7)"/>
<ellipse cx="1080.1" cy="427.2" rx="3.1" ry="2.2" fill="#f0a8b8" opacity="0.8"/>
<ellipse cx="1092.4" cy="429.4" rx="5.5" ry="1.7" fill="#f2c44c" opacity="0.8" transform="rotate(6 1092.4 429.4)"/>
<ellipse cx="1108.4" cy="429.3" rx="5.3" ry="1.7" fill="#f2c44c" opacity="0.8" transform="rotate(25 1108.4 429.3)"/>
<ellipse cx="1116.7" cy="428.4" rx="4.4" ry="1.7" fill="#e86868" opacity="0.8" transform="rotate(1 1116.7 428.4)"/>
<ellipse cx="1130.7" cy="428.2" rx="6.4" ry="1.7" fill="#e86868" opacity="0.8" transform="rotate(-22 1130.7 428.2)"/>
<ellipse cx="1067.5" cy="435.6" rx="2.9" ry="2.2" fill="#e86868" opacity="0.8"/>
<ellipse cx="1078.3" cy="435.9" rx="6.4" ry="1.7" fill="#44a8d8" opacity="0.8" transform="rotate(13 1078.3 435.9)"/>
<ellipse cx="1091.9" cy="435.7" rx="4.1" ry="1.7" fill="#44a8d8" opacity="0.8" transform="rotate(-6 1091.9 435.7)"/>
<ellipse cx="1106.2" cy="435.2" rx="4.9" ry="1.7" fill="#54b064" opacity="0.8" transform="rotate(-8 1106.2 435.2)"/>
<ellipse cx="1121.8" cy="437.8" rx="3.0" ry="2.2" fill="#54b064" opacity="0.8"/>
<ellipse cx="1133.8" cy="436.4" rx="3.1" ry="2.2" fill="#54b064" opacity="0.8"/>
<ellipse cx="1069.9" cy="443.7" rx="3.3" ry="2.2" fill="#e86868" opacity="0.8"/>
<ellipse cx="1082.3" cy="446.6" rx="5.8" ry="1.7" fill="#f2c44c" opacity="0.8" transform="rotate(-16 1082.3 446.6)"/>
<ellipse cx="1091.1" cy="446.4" rx="5.9" ry="1.7" fill="#44a8d8" opacity="0.8" transform="rotate(9 1091.1 446.4)"/>
<ellipse cx="1105.2" cy="446.7" rx="5.7" ry="1.7" fill="#8c6cc8" opacity="0.8" transform="rotate(11 1105.2 446.7)"/>
<ellipse cx="1115.1" cy="443.3" rx="4.4" ry="1.7" fill="#e86868" opacity="0.8" transform="rotate(22 1115.1 443.3)"/>
<ellipse cx="1132.9" cy="444.8" rx="2.6" ry="2.2" fill="#54b064" opacity="0.8"/>
<ellipse cx="1080.0" cy="452.0" rx="6.4" ry="1.7" fill="#8c6cc8" opacity="0.8" transform="rotate(4 1080.0 452.0)"/>
<ellipse cx="1095.7" cy="452.5" rx="2.6" ry="2.2" fill="#54b064" opacity="0.8"/>
<ellipse cx="1106.4" cy="454.0" rx="6.2" ry="1.7" fill="#44a8d8" opacity="0.8" transform="rotate(-12 1106.4 454.0)"/>
<ellipse cx="1121.5" cy="454.2" rx="6.2" ry="1.7" fill="#f2c44c" opacity="0.8" transform="rotate(2 1121.5 454.2)"/>
<text x="933.0" y="492.3" font-size="17" text-anchor="middle" fill="#2e2e2e" textLength="48.5" lengthAdjust="spacingAndGlyphs">DMSO</text>
<text x="1099.2" y="490.5" font-size="17" text-anchor="middle" fill="#2e2e2e" textLength="73.4" lengthAdjust="spacingAndGlyphs">AZD6738</text>
<text x="1103.2" y="512.5" font-size="17" text-anchor="middle" fill="#2e2e2e" textLength="113.5" lengthAdjust="spacingAndGlyphs">SF10 = 500nM</text>
<line x1="907.0" y1="526.3" x2="907.0" y2="612.0" stroke="#1a1a1a" stroke-width="1.6" />
<path d="M901.5 610 L912.5 610 L907 620.5 Z" fill="#1a1a1a"/>
<text x="998.3" y="567.5" font-size="17" text-anchor="middle" fill="#2e2e2e" textLength="154.7" lengthAdjust="spacingAndGlyphs">AZD6738 treatment</text>
<text x="998.2" y="589.5" font-size="17" text-anchor="middle" fill="#2e2e2e" textLength="87" lengthAdjust="spacingAndGlyphs">for 21 days</text>
<path d="M848.2 649.5 L870.2 649.5 L869.7 660 Q867.2 680 862.2 690.5 Q859.2 692.5 856.2 690.5 Q851.2 680 848.7 660 Z" fill="#eef4f7" stroke="#c4ccd0" stroke-width="0.9"/>
<path d="M849.0 658 L869.4 658 Q867.2 680 862.2 689.5 Q859.2 691.5 856.2 689.5 Q851.2 680 849.0 658 Z" fill="#8fd0ec"/>
<ellipse cx="859.2" cy="658.5" rx="10" ry="4.5" fill="#c2e8f7" stroke="#9cc8dc" stroke-width="0.6"/>
<rect x="854.4" y="630.6" width="9.6" height="7" rx="2" fill="#e8ecee" stroke="#c0c6ca" stroke-width="0.8"/>
<ellipse cx="859.2" cy="643.5" rx="12.6" ry="7.8" fill="#e4e8ea" stroke="#b8bec2" stroke-width="0.9"/>
<ellipse cx="859.2" cy="642.5" rx="9.5" ry="5" fill="#f6f8f9"/>
<path d="M878.1 649.5 L900.1 649.5 L899.6 660 Q897.1 680 892.1 690.5 Q889.1 692.5 886.1 690.5 Q881.1 680 878.6 660 Z" fill="#eef4f7" stroke="#c4ccd0" stroke-width="0.9"/>
<path d="M878.9 658 L899.3 658 Q897.1 680 892.1 689.5 Q889.1 691.5 886.1 689.5 Q881.1 680 878.9 658 Z" fill="#8fd0ec"/>
<ellipse cx="889.1" cy="658.5" rx="10" ry="4.5" fill="#c2e8f7" stroke="#9cc8dc" stroke-width="0.6"/>
<rect x="884.3" y="630.6" width="9.6" height="7" rx="2" fill="#e8ecee" stroke="#c0c6ca" stroke-width="0.8"/>
<ellipse cx="889.1" cy="643.5" rx="12.6" ry="7.8" fill="#e4e8ea" stroke="#b8bec2" stroke-width="0.9"/>
<ellipse cx="889.1" cy="642.5" rx="9.5" ry="5" fill="#f6f8f9"/>
<path d="M908.7 649.5 L930.7 649.5 L930.2 660 Q927.7 680 922.7 690.5 Q919.7 692.5 916.7 690.5 Q911.7 680 909.2 660 Z" fill="#eef4f7" stroke="#c4ccd0" stroke-width="0.9"/>
<path d="M909.5 658 L929.9 658 Q927.7 680 922.7 689.5 Q919.7 691.5 916.7 689.5 Q911.7 680 909.5 658 Z" fill="#8fd0ec"/>
<ellipse cx="919.7" cy="658.5" rx="10" ry="4.5" fill="#c2e8f7" stroke="#9cc8dc" stroke-width="0.6"/>
<rect x="914.9" y="630.6" width="9.6" height="7" rx="2" fill="#e8ecee" stroke="#c0c6ca" stroke-width="0.8"/>
<ellipse cx="919.7" cy="643.5" rx="12.6" ry="7.8" fill="#e4e8ea" stroke="#b8bec2" stroke-width="0.9"/>
<ellipse cx="919.7" cy="642.5" rx="9.5" ry="5" fill="#f6f8f9"/>
<path d="M939.0 649.5 L961.0 649.5 L960.5 660 Q958.0 680 953.0 690.5 Q950.0 692.5 947.0 690.5 Q942.0 680 939.5 660 Z" fill="#eef4f7" stroke="#c4ccd0" stroke-width="0.9"/>
<path d="M939.8 658 L960.2 658 Q958.0 680 953.0 689.5 Q950.0 691.5 947.0 689.5 Q942.0 680 939.8 658 Z" fill="#8fd0ec"/>
<ellipse cx="950.0" cy="658.5" rx="10" ry="4.5" fill="#c2e8f7" stroke="#9cc8dc" stroke-width="0.6"/>
<rect x="945.2" y="630.6" width="9.6" height="7" rx="2" fill="#e8ecee" stroke="#c0c6ca" stroke-width="0.8"/>
<ellipse cx="950.0" cy="643.5" rx="12.6" ry="7.8" fill="#e4e8ea" stroke="#b8bec2" stroke-width="0.9"/>
<ellipse cx="950.0" cy="642.5" rx="9.5" ry="5" fill="#f6f8f9"/>
<text x="902.6" y="717.5" font-size="17" text-anchor="middle" fill="#2e2e2e" textLength="33" lengthAdjust="spacingAndGlyphs">PCR</text>
<polygon points="972.00,664.55 974.27,664.58 976.53,664.62 978.80,664.65 981.07,664.69 983.33,664.72 985.60,664.76 987.87,664.79 990.13,664.83 992.40,664.87 994.67,664.90 996.93,664.93 999.20,664.97 1001.47,665.00 1003.73,665.04 1006.00,665.07 1008.27,665.11 1010.53,665.14 1012.80,665.18 1015.07,665.21 1017.33,665.25 1019.60,665.28 1021.87,665.32 1024.13,665.35 1026.40,665.39 1028.67,665.42 1030.93,665.46 1033.20,665.50 1035.47,665.53 1037.73,665.56 1040.00,665.60 1040.00,663.00 1037.73,663.03 1035.47,663.07 1033.20,663.10 1030.93,663.14 1028.67,663.17 1026.40,663.21 1024.13,663.25 1021.87,663.28 1019.60,663.31 1017.33,663.35 1015.07,663.38 1012.80,663.42 1010.53,663.45 1008.27,663.49 1006.00,663.52 1003.73,663.56 1001.47,663.59 999.20,663.63 996.93,663.66 994.67,663.70 992.40,663.73 990.13,663.77 987.87,663.80 985.60,663.84 983.33,663.88 981.07,663.91 978.80,663.94 976.53,663.98 974.27,664.01 972.00,664.05" fill="#1a1a1a"/>
<path d="M1037 658.5 L1048.5 664.3 L1037 670.1 Z" fill="#1a1a1a"/>
<path d="M1054.6 636 Q1055 632.5 1058.5 631.5 L1106 632.5 L1113 646 L1113 696 L1063 696 L1054.6 688 Z" fill="#c8cacc"/>
<path d="M1058.5 631.5 L1106 632.5 L1112 646.5 L1063 646.5 Z" fill="#e2e4e6"/>
<path d="M1054.6 636 L1063 646.5 L1063 696 L1054.6 688 Z" fill="#b6b8ba"/>
<path d="M1097.3 629.2 L1113 616.8 L1164.7 617.4 Q1168 618 1168.5 622 L1173.1 649.9 L1173.1 690.4 Q1172.5 693.5 1169.2 693.8 L1115.3 694.9 L1111.9 652.2 Z" fill="#48484a"/>
<path d="M1097.3 629.2 L1113 616.8 L1164.7 617.4 Q1168 618 1168.5 622 L1173.1 649.9 L1111.9 652.2 Z" fill="#3c3c3e"/>
<path d="M1123.1 620.2 L1159.7 620.7 L1163 646.6 L1126.5 646 Z" fill="#d6ecf4"/>
<rect x="1068.7" y="667.4" width="51.6" height="22.4" rx="2" fill="#3a3a3c"/>
<rect x="1078.2" y="668" width="24.7" height="11.7" rx="1.5" fill="#4c4c4e"/>
<text x="1119.5" y="717.2" font-size="17" text-anchor="middle" fill="#2e2e2e" textLength="33.7" lengthAdjust="spacingAndGlyphs">NGS</text>
<text x="-1.6" y="586.9" font-size="55.5" text-anchor="start" fill="#000" >C</text>
<line x1="198.9" y1="562.4" x2="198.9" y2="789.7" stroke="#000" stroke-width="2.3" />
<line x1="197.8" y1="788.6" x2="537.4" y2="788.6" stroke="#000" stroke-width="2.3" />
<line x1="189.8" y1="578.3" x2="198.9" y2="578.3" stroke="#000" stroke-width="2.3" />
<text x="186.5" y="583.7" font-size="15.8" text-anchor="end" fill="#000" font-weight="bold" >100</text>
<line x1="189.8" y1="631.1" x2="198.9" y2="631.1" stroke="#000" stroke-width="2.3" />
<text x="186.5" y="636.5" font-size="15.8" text-anchor="end" fill="#000" font-weight="bold" >10</text>
<line x1="189.8" y1="683.8" x2="198.9" y2="683.8" stroke="#000" stroke-width="2.3" />
<text x="186.5" y="689.2" font-size="15.8" text-anchor="end" fill="#000" font-weight="bold" >1</text>
<line x1="189.8" y1="736.2" x2="198.9" y2="736.2" stroke="#000" stroke-width="2.3" />
<text x="186.5" y="741.6" font-size="15.8" text-anchor="end" fill="#000" font-weight="bold" >0.1</text>
<line x1="189.8" y1="788.5" x2="198.9" y2="788.5" stroke="#000" stroke-width="2.3" />
<text x="186.5" y="793.9" font-size="15.8" text-anchor="end" fill="#000" font-weight="bold" >0.01</text>
<line x1="238.5" y1="788.6" x2="238.5" y2="798.5" stroke="#000" stroke-width="2.3" />
<text x="238.5" y="815.6" font-size="15.8" text-anchor="middle" fill="#000" font-weight="bold" >2.5</text>
<line x1="337.6" y1="788.6" x2="337.6" y2="798.5" stroke="#000" stroke-width="2.3" />
<text x="337.6" y="815.6" font-size="15.8" text-anchor="middle" fill="#000" font-weight="bold" >3.0</text>
<line x1="436.9" y1="788.6" x2="436.9" y2="798.5" stroke="#000" stroke-width="2.3" />
<text x="436.9" y="815.6" font-size="15.8" text-anchor="middle" fill="#000" font-weight="bold" >3.5</text>
<line x1="536.3" y1="788.6" x2="536.3" y2="798.5" stroke="#000" stroke-width="2.3" />
<text x="536.3" y="815.6" font-size="15.8" text-anchor="middle" fill="#000" font-weight="bold" >4.0</text>
<line x1="288.4" y1="562" x2="288.4" y2="786" stroke="#000" stroke-width="2.2" stroke-dasharray="2.2 2.5"/>
<line x1="201" y1="631.1" x2="538" y2="631.1" stroke="#000" stroke-width="2.2" stroke-dasharray="2.2 2.5"/>
<polyline points="198.9,579.8 200.4,580.0 202.0,580.1 203.5,580.3 205.1,580.4 206.6,580.6 208.2,580.8 209.7,581.0 211.3,581.2 212.8,581.5 214.3,581.7 215.9,582.0 217.4,582.3 219.0,582.6 220.5,583.0 222.1,583.3 223.6,583.7 225.2,584.1 226.7,584.6 228.3,585.1 229.8,585.6 231.3,586.1 232.9,586.7 234.4,587.3 236.0,587.9 237.5,588.6 239.1,589.3 240.6,590.1 242.2,590.9 243.7,591.7 245.2,592.6 246.8,593.5 248.3,594.5 249.9,595.5 251.4,596.5 253.0,597.6 254.5,598.7 256.1,599.8 257.6,601.0 259.2,602.3 260.7,603.5 262.2,604.8 263.8,606.2 265.3,607.5 266.9,608.9 268.4,610.4 270.0,611.8 271.5,613.3 273.1,614.8 274.6,616.4 276.2,617.9 277.7,619.5 279.2,621.2 280.8,622.8 282.3,624.4 283.9,626.1 285.4,627.8 287.0,629.5 288.5,631.2 290.1,632.9 291.6,634.7 293.1,636.4 294.7,638.2 296.2,640.0 297.8,641.8 299.3,643.5 300.9,645.3 302.4,647.1 304.0,648.9 305.5,650.8 307.1,652.6 308.6,654.4 310.1,656.2 311.7,658.0 313.2,659.9 314.8,661.7 316.3,663.5 317.9,665.4 319.4,667.2 321.0,669.0 322.5,670.8 324.0,672.7 325.6,674.5 327.1,676.3 328.7,678.1 330.2,679.9 331.8,681.7 333.3,683.5 334.9,685.3 336.4,687.0 338.0,688.8 339.5,690.6 341.0,692.3 342.6,694.0 344.1,695.7 345.7,697.4 347.2,699.1 348.8,700.8 350.3,702.4 351.9,704.1 353.4,705.7 354.9,707.3 356.5,708.8 358.0,710.4 359.6,711.9 361.1,713.4 362.7,714.9 364.2,716.3 365.8,717.7 367.3,719.1 368.9,720.4 370.4,721.7 371.9,723.0 373.5,724.2 375.0,725.4 376.6,726.5 378.1,727.6 379.7,728.7 381.2,729.7 382.8,730.7 384.3,731.7 385.8,732.6 387.4,733.5 388.9,734.3 390.5,735.1 392.0,735.9 393.6,736.6 395.1,737.2 396.7,737.9 398.2,738.5 399.8,739.1 401.3,739.6 402.8,740.1 404.4,740.6 405.9,741.0 407.5,741.5 409.0,741.8 410.6,742.2 412.1,742.6 413.7,742.9 415.2,743.2 416.7,743.5 418.3,743.7 419.8,743.9 421.4,744.2 422.9,744.4 424.5,744.6 426.0,744.7 427.6,744.9 429.1,745.1 430.6,745.2 432.2,745.3 433.7,745.4 435.3,745.6 436.8,745.7 438.4,745.8 439.9,745.8 441.5,745.9 443.0,746.0 444.6,746.1 446.1,746.1 447.6,746.2 449.2,746.2 450.7,746.3 452.3,746.3 453.8,746.4 455.4,746.4 456.9,746.5 458.5,746.5 460.0,746.5 461.6,746.5 463.1,746.6 464.6,746.6 466.2,746.6 467.7,746.6 469.3,746.7 470.8,746.7 472.4,746.7 473.9,746.7 475.5,746.7 477.0,746.7" fill="none" stroke="#3a56b0" stroke-width="1.5"/>
<rect x="293.0" y="636.2" width="8.8" height="8.8" fill="#3a56b0" stroke="none" stroke-width="1" />
<rect x="352.4" y="705.7" width="8.8" height="8.8" fill="#3a56b0" stroke="none" stroke-width="1" />
<rect x="472.2" y="726.3" width="8.8" height="8.8" fill="#3a56b0" stroke="none" stroke-width="1" />
<line x1="441.5" y1="579.2" x2="466.2" y2="579.2" stroke="#3a56b0" stroke-width="1.5" />
<rect x="449.6" y="574.8" width="8.8" height="8.8" fill="#3a56b0" stroke="none" stroke-width="1" />
<text x="479.9" y="585.0" font-size="18.4" text-anchor="start" fill="#000" >AGS</text>
<text transform="translate(123.1,677.4) rotate(-90)" font-size="19.8" text-anchor="middle" fill="#000">Normalized</text>
<text transform="translate(147.0,676.9) rotate(-90)" font-size="19.8" text-anchor="middle" fill="#000">Cell Count (%)</text>
<text x="316.3" y="776.9" font-size="18.4">[AZD6738]<tspan font-size="12.8" dy="-7.5">SF10</tspan><tspan dy="7.5"> = 500nM</tspan></text>
<text x="282.3" y="848" font-size="19.6">Log<tspan font-size="13" dy="4.5">10</tspan><tspan dy="-4.5"> [AZD6738] nM</tspan></text>
<text x="-3.9" y="925.0" font-size="55.5" text-anchor="start" fill="#000" >D</text>
<path d="M202.4 884.3V1468.8M321.7 884.3V1468.8M440.9 884.3V1468.8M560.2 884.3V1468.8M679.4 884.3V1468.8M107.9 1374.4H716M107.9 1238.2H716M107.9 1102.0H716M107.9 965.8H716" stroke="#f2f2f2" stroke-width="1.1"/>
<path d="M142.8 884.3V1468.8M262.1 884.3V1468.8M381.3 884.3V1468.8M500.6 884.3V1468.8M619.8 884.3V1468.8M107.9 1442.5H716M107.9 1306.3H716M107.9 1170.1H716M107.9 1033.9H716M107.9 897.7H716" stroke="#e9e9e9" stroke-width="1.6"/>
<path d="M326 1373h0M337 1418h0M442 1271h0M372 1437h0M362 1442h0M418 1293h0M407 1358h0M416 1360h0M421 1436h0M341 1352h0M388 1425h0M437 1317h0M446 1359h0M321 1410h0M420 1363h0M454 1436h0M421 1339h0M400 1412h0M293 1430h0M418 1363h0M401 1435h0M406 1386h0M315 1241h0M356 1405h0M465 1414h0M440 1257h0M316 1426h0M367 1385h0M310 1177h0M423 1406h0M432 1312h0M392 1383h0M337 1389h0M362 1431h0M341 1402h0M409 1352h0M452 1242h0M371 1435h0M338 1255h0M400 1425h0M355 1364h0M400 1408h0M393 1406h0M410 1339h0M442 1204h0M425 1301h0M402 1430h0M394 1421h0M420 1400h0M356 1406h0M366 1441h0M417 1322h0M358 1421h0M337 1438h0M419 1422h0M324 1329h0M391 1434h0M356 1412h0M357 1432h0M406 1434h0M352 1434h0M334 1440h0M435 1290h0M424 1350h0M408 1427h0M521 1427h0M393 1433h0M368 1436h0M418 1338h0M348 1398h0M437 1362h0M243 1364h0M399 1441h0M448 1189h0M400 1421h0M329 1331h0M358 1434h0M407 1410h0M343 1425h0M443 1432h0M285 1431h0M256 1421h0M415 1367h0M333 1338h0M343 1379h0M397 1406h0M351 1412h0M401 1416h0M405 1391h0M356 1422h0M432 1211h0M353 1402h0M417 1396h0M372 1427h0M350 1333h0M439 1248h0M407 1439h0M467 1430h0M446 1219h0M408 1386h0M369 1439h0M507 1384h0M404 1230h0M318 1433h0M345 1418h0M341 1413h0M402 1403h0M349 1386h0M408 1402h0M403 1423h0M405 1432h0M405 1413h0M348 1387h0M329 1179h0M375 1431h0M348 1410h0M393 1437h0M426 1323h0M353 1439h0M414 1372h0M430 1338h0M400 1368h0M399 1413h0M306 1429h0M390 1423h0M409 1426h0M338 1404h0M356 1358h0M510 1379h0M367 1423h0M422 1339h0M428 1406h0M340 1349h0M361 1412h0M439 1112h0M380 1419h0M370 1438h0M413 1398h0M428 1286h0M358 1420h0M356 1374h0M378 1442h0M417 1377h0M412 1350h0M368 1391h0M357 1371h0M404 1442h0M338 1187h0M396 1430h0M353 1421h0M414 1432h0M415 1383h0M377 1431h0M344 1333h0M397 1431h0M362 1401h0M354 1415h0M440 1328h0M421 1410h0M414 1384h0M397 1430h0M402 1382h0M450 1350h0M394 1365h0M440 1329h0M441 1250h0M475 1423h0M363 1424h0M395 1416h0M343 1370h0M385 1430h0M419 1382h0M328 1348h0M321 1340h0M397 1412h0M401 1405h0M401 1420h0M339 1238h0M376 1440h0M357 1409h0M368 1424h0M426 1424h0M471 1407h0M413 1304h0M381 1440h0M349 1355h0M413 1383h0M433 1275h0M330 1257h0M353 1422h0M447 1215h0M466 1341h0M445 1358h0M375 1429h0M353 1420h0M427 1430h0M361 1426h0M362 1404h0M336 1345h0M360 1420h0M438 1366h0M348 1431h0M411 1293h0M371 1417h0M418 1386h0M401 1342h0M358 1377h0M412 1389h0M349 1430h0M443 1311h0M305 1350h0M370 1437h0M404 1440h0M407 1355h0M365 1400h0M331 1200h0M342 1352h0M365 1396h0M368 1422h0M370 1436h0M337 1407h0M434 1264h0M308 1187h0M379 1435h0M364 1438h0M433 1419h0M348 1354h0M407 1346h0M403 1425h0M365 1427h0M342 1430h0M443 1314h0M442 1438h0M399 1420h0M373 1435h0M354 1355h0M442 1173h0M418 1438h0M409 1396h0M420 1380h0M425 1270h0M342 1335h0M369 1425h0M466 1422h0M359 1428h0M288 1433h0M363 1431h0M436 1411h0M380 1428h0M383 1402h0M355 1391h0M350 1438h0M418 1415h0M441 1436h0M334 1220h0M327 1400h0M366 1435h0M390 1396h0M414 1410h0M365 1421h0M397 1424h0M326 1200h0M351 1437h0M358 1231h0M347 1320h0M448 1240h0M353 1393h0M413 1393h0M357 1397h0M402 1393h0M435 1398h0M341 1395h0M412 1255h0M402 1437h0M326 1307h0M337 1412h0M411 1308h0M419 1440h0M393 1419h0M367 1400h0M412 1390h0M447 1364h0M335 1309h0M350 1429h0M335 1364h0M399 1423h0M342 1319h0M350 1404h0M395 1353h0M422 1299h0M306 1386h0M431 1391h0M390 1439h0M399 1385h0M392 1398h0M442 1388h0M322 1386h0M405 1433h0M430 1266h0M324 1236h0M321 1383h0M398 1417h0M410 1394h0M359 1437h0M355 1370h0M411 1433h0M376 1439h0M362 1414h0M355 1426h0M348 1381h0M388 1422h0M413 1404h0M395 1435h0M417 1312h0M343 1407h0M348 1402h0M359 1407h0M361 1425h0M340 1315h0M385 1409h0M356 1413h0M371 1377h0M359 1439h0M350 1413h0M359 1380h0M414 1351h0M418 1385h0M331 1266h0M349 1389h0M341 1342h0M338 1417h0M326 1427h0M420 1361h0M412 1432h0M341 1426h0M414 1442h0M441 1259h0M424 1351h0M393 1397h0M432 1314h0M372 1441h0M297 1406h0M425 1426h0M332 1440h0M422 1282h0M329 1368h0M406 1405h0M431 1319h0M396 1416h0M356 1394h0M364 1432h0M427 1420h0M349 1378h0M356 1338h0M365 1414h0M347 1394h0M455 1143h0M338 1399h0M422 1367h0M409 1411h0M396 1441h0M382 1407h0M413 1394h0M408 1346h0M392 1410h0M345 1378h0M357 1341h0M377 1442h0M394 1398h0M401 1425h0M368 1438h0M408 1433h0M419 1320h0M417 1339h0M409 1383h0M358 1427h0M355 1423h0M354 1409h0M359 1431h0M392 1441h0M430 1369h0M356 1441h0M370 1440h0M406 1429h0M358 1416h0M423 1419h0M352 1371h0M336 1329h0M411 1423h0M349 1369h0M329 1317h0M362 1432h0M368 1432h0M361 1422h0M363 1415h0M417 1406h0M392 1369h0M347 1408h0M410 1391h0M329 1432h0M408 1318h0M333 1412h0M333 1326h0M390 1429h0M417 1254h0M343 1352h0M369 1426h0M435 1311h0M391 1376h0M368 1405h0M416 1347h0M427 1351h0M426 1410h0M434 1367h0M326 1291h0M344 1331h0M389 1416h0M369 1392h0M360 1433h0M442 1310h0M335 1395h0M402 1436h0M352 1425h0M423 1404h0M383 1411h0M252 1323h0M339 1352h0M389 1438h0M368 1440h0M341 1406h0M296 1411h0M407 1412h0M354 1394h0M387 1427h0M355 1407h0M388 1439h0M336 1339h0M420 1307h0M410 1337h0M419 1310h0M353 1430h0M426 1339h0M405 1408h0M382 1433h0M397 1377h0M410 1437h0M343 1362h0M367 1438h0M425 1205h0M499 1381h0M420 1267h0M428 1302h0M319 1421h0M389 1380h0M350 1391h0M404 1407h0M432 1436h0M334 1291h0M433 1347h0M399 1386h0M401 1428h0M352 1429h0M338 1363h0M394 1410h0M353 1358h0M404 1424h0M355 1429h0M400 1437h0M391 1429h0M321 1206h0M359 1433h0M350 1402h0M390 1340h0M417 1413h0M341 1374h0M353 1409h0M338 1314h0M401 1372h0M408 1351h0M333 1301h0M355 1384h0M362 1364h0M413 1434h0M321 1393h0M448 1227h0M421 1361h0M360 1393h0M415 1407h0M351 1422h0M338 1343h0M417 1361h0M342 1318h0M424 1327h0M372 1403h0M332 1321h0M416 1425h0M368 1431h0M385 1389h0M368 1434h0M325 1328h0M348 1368h0M405 1337h0M429 1427h0M306 1287h0M444 1262h0M419 1348h0M327 1414h0M341 1378h0M444 1263h0M346 1421h0M399 1416h0M343 1316h0M372 1388h0M350 1316h0M361 1440h0M337 1266h0M386 1378h0M391 1397h0M339 1345h0M338 1169h0M403 1318h0M381 1415h0M233 1377h0M349 1337h0M338 1413h0M364 1430h0M360 1427h0M341 1407h0M408 1380h0M469 1161h0M379 1413h0M359 1420h0M367 1422h0M328 1268h0M410 1434h0M416 1313h0M413 1391h0M359 1372h0M398 1400h0M444 1194h0M414 1433h0M350 1416h0M417 1242h0M395 1402h0M361 1387h0M341 1362h0M432 1372h0M337 1343h0M416 1407h0M376 1430h0M400 1429h0M400 1414h0M355 1362h0M356 1436h0M360 1442h0M336 1302h0M385 1422h0M401 1429h0M310 1124h0M354 1369h0M475 1420h0M439 1442h0M330 1328h0M400 1413h0M398 1373h0M398 1429h0M331 1303h0M336 1365h0M414 1276h0M408 1410h0M338 1376h0M363 1429h0M411 1401h0M254 1416h0M319 1431h0M404 1421h0M348 1395h0M265 1426h0M412 1394h0M388 1417h0M332 1367h0M425 1260h0M355 1430h0M399 1424h0M362 1428h0M440 1365h0M420 1410h0M420 1385h0M403 1437h0M388 1427h0M415 1197h0M349 1341h0M374 1418h0M404 1430h0M363 1435h0M401 1431h0M423 1374h0M334 1353h0M420 1357h0M353 1417h0M413 1441h0M340 1358h0M385 1429h0M406 1435h0M349 1408h0M362 1393h0M345 1422h0M369 1438h0M332 1289h0M281 1323h0M397 1418h0M371 1438h0M352 1337h0M344 1310h0M333 1303h0M419 1308h0M412 1264h0M407 1325h0M332 1392h0M357 1430h0M446 1400h0M410 1399h0M372 1419h0M421 1418h0M344 1387h0M398 1441h0M365 1358h0M405 1369h0M339 1273h0M365 1424h0M391 1409h0M386 1442h0M407 1435h0M450 1267h0M425 1366h0M310 1207h0M414 1382h0M333 1309h0M382 1423h0M357 1428h0M374 1421h0M423 1379h0M362 1391h0M417 1382h0M340 1390h0M350 1356h0M369 1431h0M416 1438h0M415 1358h0M358 1415h0M401 1393h0M380 1442h0M373 1436h0M424 1353h0M409 1400h0M425 1333h0M330 1280h0M349 1427h0M443 1233h0M343 1400h0M343 1313h0M411 1347h0M433 1409h0M339 1310h0M411 1367h0M370 1420h0M357 1392h0M373 1422h0M419 1265h0M335 1379h0M350 1389h0M346 1352h0M410 1441h0M390 1435h0M400 1441h0M423 1409h0M417 1295h0M358 1422h0M356 1357h0M450 1247h0M424 1392h0M407 1392h0M362 1385h0M350 1375h0M333 1426h0M323 1432h0M401 1377h0M342 1269h0M436 1292h0M398 1430h0M354 1402h0M354 1366h0M457 1221h0M344 1410h0M353 1424h0M400 1419h0M361 1434h0M406 1413h0M239 1407h0M459 1201h0M399 1426h0M365 1440h0M428 1307h0M413 1330h0M355 1435h0M466 1435h0M394 1403h0M311 1219h0M395 1396h0M357 1314h0M363 1436h0M398 1412h0M364 1422h0M343 1432h0M347 1386h0M335 1359h0M357 1407h0M448 1222h0M393 1373h0M417 1363h0M392 1422h0M422 1318h0M432 1299h0M345 1420h0M410 1411h0M419 1436h0M345 1391h0M457 1387h0M412 1360h0M422 1413h0M363 1394h0M396 1410h0M420 1373h0M370 1430h0M315 1390h0M396 1393h0M427 1377h0M358 1433h0M355 1345h0M365 1394h0M343 1393h0M364 1423h0M367 1427h0M367 1430h0M356 1344h0M426 1331h0M408 1418h0M340 1408h0M415 1263h0M402 1392h0M392 1364h0M322 1287h0M353 1428h0M405 1441h0M405 1361h0M368 1387h0M350 1421h0M403 1399h0M402 1419h0M422 1359h0M399 1435h0M281 1402h0M326 1421h0M362 1402h0M371 1413h0M428 1354h0M390 1412h0M395 1412h0M354 1385h0M409 1418h0M481 1388h0M345 1363h0M433 1237h0M369 1430h0M375 1423h0M415 1350h0M373 1420h0M408 1396h0M331 1343h0M429 1329h0M431 1286h0M361 1402h0M426 1409h0M413 1442h0M394 1418h0M416 1413h0M344 1374h0M410 1393h0M353 1397h0M338 1308h0M142 1429h0M414 1420h0M420 1375h0M344 1231h0M432 1316h0M383 1434h0M349 1385h0M354 1364h0M355 1343h0M411 1402h0M416 1401h0M426 1320h0M340 1331h0M407 1302h0M323 1401h0M321 1344h0M392 1394h0M455 1388h0M412 1310h0M404 1436h0M339 1275h0M428 1330h0M414 1416h0M408 1424h0M336 1340h0M460 1132h0M412 1411h0M377 1441h0M356 1427h0M367 1434h0M416 1345h0M363 1433h0M408 1432h0M410 1423h0M359 1381h0M374 1439h0M414 1394h0M401 1437h0M424 1322h0M344 1332h0M462 1352h0M356 1326h0M398 1397h0M432 1266h0M348 1425h0M330 1409h0M345 1352h0M328 1213h0M354 1377h0M333 1323h0M396 1414h0M401 1368h0M343 1357h0M398 1435h0M419 1437h0M443 1253h0M319 1150h0M428 1305h0M352 1440h0M375 1426h0M352 1368h0M408 1348h0M429 1429h0M359 1440h0M412 1373h0M339 1327h0M418 1432h0M332 1232h0M417 1343h0M351 1438h0M397 1407h0M333 1281h0M406 1381h0M405 1429h0M426 1426h0M365 1420h0M418 1399h0M391 1427h0M341 1410h0M423 1322h0M429 1339h0M363 1335h0M418 1377h0M428 1235h0M395 1368h0M364 1431h0M354 1313h0M344 1380h0M423 1305h0M418 1364h0M404 1371h0M334 1327h0M398 1425h0M348 1336h0M444 1315h0M379 1419h0M415 1291h0M360 1374h0M357 1422h0M425 1394h0M405 1366h0M361 1417h0M418 1257h0M408 1365h0M439 1414h0M403 1422h0M438 1429h0M418 1360h0M375 1408h0M333 1364h0M311 1386h0M424 1317h0M412 1415h0M398 1351h0M356 1400h0M291 1379h0M402 1361h0M403 1414h0M328 1249h0M386 1434h0M394 1423h0M343 1385h0M409 1300h0M341 1332h0M358 1410h0M351 1428h0M421 1380h0M344 1381h0M490 1417h0M358 1399h0M349 1368h0M322 1117h0M377 1432h0M326 1304h0M419 1420h0M349 1343h0M326 1310h0M402 1422h0M433 1277h0M362 1430h0M395 1430h0M344 1352h0M389 1405h0M444 1271h0M436 1427h0M368 1420h0M376 1428h0M326 1424h0M395 1403h0M343 1427h0M383 1403h0M347 1431h0M428 1262h0M417 1335h0M415 1381h0M351 1388h0M346 1395h0M327 1210h0M318 1253h0M400 1440h0M315 1312h0M403 1432h0M415 1386h0M340 1394h0M387 1415h0M410 1410h0M350 1411h0M399 1433h0M394 1411h0M365 1381h0M419 1407h0M412 1343h0M416 1270h0M337 1299h0M435 1397h0M439 1339h0M417 1385h0M343 1410h0M301 1177h0M396 1422h0M367 1372h0M319 1439h0M382 1442h0M347 1363h0M399 1400h0M410 1427h0M423 1435h0M409 1327h0M375 1420h0M439 1266h0M396 1420h0M332 1389h0M346 1408h0M347 1361h0M348 1224h0M405 1415h0M357 1421h0M308 1199h0M408 1438h0M381 1384h0M410 1384h0M364 1426h0M362 1438h0M327 1408h0M338 1322h0M324 1431h0M355 1365h0M406 1430h0M416 1411h0M370 1435h0M365 1407h0M376 1410h0M328 1431h0M243 1310h0M375 1392h0M373 1427h0M412 1384h0M352 1366h0M335 1340h0M399 1405h0M393 1410h0M418 1420h0M361 1442h0M409 1441h0M404 1438h0M409 1353h0M359 1265h0M426 1242h0M371 1428h0M416 1332h0M344 1406h0M347 1404h0M390 1436h0M381 1437h0M391 1418h0M309 1350h0M404 1404h0M351 1426h0M328 1187h0M364 1433h0M337 1367h0M327 1440h0M391 1431h0M406 1406h0M379 1433h0M391 1438h0M340 1307h0M332 1241h0M334 1171h0M354 1407h0M345 1256h0M337 1141h0M338 1369h0M387 1400h0M382 1436h0M466 1442h0M364 1421h0M414 1388h0M363 1410h0M426 1235h0M367 1426h0M374 1393h0M351 1392h0M315 1249h0M346 1382h0M348 1414h0M383 1433h0M430 1325h0M416 1424h0M377 1404h0M424 1403h0M403 1397h0M380 1415h0M305 1233h0M402 1440h0M405 1409h0M331 1265h0M467 1218h0M347 1313h0M378 1440h0M371 1427h0M430 1259h0M377 1394h0M432 1331h0M388 1419h0M324 1263h0M497 1439h0M364 1365h0M444 1374h0M346 1254h0M445 1420h0M339 1272h0M437 1290h0M465 1198h0M392 1396h0M429 1285h0M410 1376h0M414 1421h0M499 1379h0M421 1424h0M383 1407h0M343 1408h0M423 1387h0M427 1440h0M424 1334h0M424 1381h0M324 1290h0M350 1335h0M345 1428h0M415 1431h0M437 1327h0M290 1440h0M429 1421h0M330 1384h0M349 1208h0M321 1435h0M553 1437h0M418 1346h0M374 1389h0M305 1211h0M330 1380h0M353 1392h0M292 1433h0M344 1425h0M354 1324h0M358 1432h0M373 1429h0M312 1436h0M416 1330h0M358 1398h0M393 1380h0M435 1335h0M433 1337h0M417 1264h0M410 1345h0M328 1243h0M368 1442h0M345 1427h0M421 1259h0M340 1284h0M412 1416h0M395 1436h0M305 1283h0M411 1407h0M375 1438h0M363 1349h0M457 1210h0M361 1423h0M331 1366h0M398 1395h0M410 1397h0M349 1301h0M361 1429h0M349 1395h0M365 1403h0M367 1439h0M354 1363h0M421 1255h0M363 1427h0M453 1232h0M253 1316h0M371 1436h0M348 1327h0M415 1440h0M423 1240h0M351 1416h0M372 1434h0M352 1312h0M233 1433h0M406 1348h0M408 1417h0M332 1347h0M314 1424h0M362 1363h0M428 1358h0M443 1331h0M328 1301h0M390 1422h0M409 1398h0M351 1325h0M428 1351h0M402 1426h0M419 1359h0M393 1428h0M343 1420h0M374 1440h0M354 1346h0M540 1405h0M395 1410h0M317 1043h0M401 1387h0M352 1354h0M354 1421h0M357 1398h0M420 1382h0M360 1384h0M401 1412h0M370 1396h0M445 1275h0M362 1441h0M425 1343h0M346 1369h0M401 1440h0M293 1135h0M330 1350h0M419 1324h0M425 1351h0M377 1419h0M356 1408h0M347 1416h0M363 1401h0M346 1320h0M369 1385h0M355 1442h0M391 1430h0M442 1344h0M370 1389h0M358 1438h0M412 1440h0M426 1349h0M370 1416h0M320 1349h0M346 1431h0M357 1348h0M363 1389h0M347 1393h0M340 1404h0M346 1343h0M406 1394h0M356 1428h0M418 1392h0M391 1382h0M417 1398h0M391 1391h0M337 1334h0M353 1433h0M291 1394h0M412 1442h0M370 1441h0M407 1441h0M403 1415h0M411 1353h0M407 1422h0M394 1429h0M430 1378h0M442 1241h0M349 1399h0M423 1290h0M416 1433h0M454 1212h0M418 1273h0M398 1392h0M364 1389h0M423 1399h0M356 1439h0M345 1401h0M431 1356h0M455 1405h0M319 1259h0M403 1408h0M359 1422h0M366 1398h0M365 1419h0M355 1399h0M334 1428h0M362 1429h0M365 1439h0M342 1347h0M325 1201h0M298 1323h0M396 1442h0M400 1365h0M391 1441h0M475 1386h0M310 1131h0M424 1390h0M419 1433h0M426 1332h0M403 1440h0M324 1316h0M454 1383h0M380 1432h0M355 1410h0M448 1310h0M332 1300h0M334 1382h0M420 1378h0M413 1368h0M428 1265h0M430 1313h0M416 1386h0M360 1416h0M401 1379h0M403 1412h0M346 1325h0M438 1435h0M358 1355h0M395 1426h0M445 1231h0M340 1419h0M386 1437h0M351 1346h0M325 1303h0M263 1418h0M358 1409h0M355 1434h0M338 1283h0M409 1363h0M444 1288h0M378 1431h0M448 1372h0M346 1427h0M342 1436h0M371 1437h0M345 1423h0M419 1306h0M389 1426h0M343 1442h0M354 1434h0M345 1341h0M415 1432h0M358 1397h0M397 1440h0M339 1253h0M355 1408h0M429 1376h0M407 1347h0M432 1366h0M418 1422h0M353 1410h0M347 1331h0M374 1414h0M377 1433h0M392 1429h0M397 1429h0M409 1397h0M348 1331h0M427 1427h0M430 1430h0M430 1427h0M343 1340h0M336 1256h0M432 1392h0M399 1404h0M394 1422h0M371 1432h0M420 1398h0M425 1289h0M421 1268h0M414 1418h0M334 1419h0M349 1379h0M337 1362h0M342 1440h0M438 1394h0M336 1401h0M342 1312h0M346 1407h0M411 1429h0M353 1442h0M374 1437h0M342 1225h0M351 1439h0M343 1323h0M388 1426h0M401 1364h0M329 1239h0M402 1338h0M355 1377h0M413 1399h0M365 1384h0M401 1423h0M407 1425h0M439 1440h0M356 1442h0M445 1259h0M412 1331h0M356 1409h0M461 1430h0M385 1408h0M398 1408h0M370 1410h0M410 1372h0M327 1439h0M344 1391h0M357 1373h0M373 1387h0M433 1390h0M330 1264h0M354 1254h0M347 1375h0M407 1420h0M358 1394h0M373 1334h0M307 1428h0M427 1336h0M439 1316h0M413 1364h0M406 1366h0M354 1426h0M415 1364h0M361 1420h0M398 1439h0M324 1372h0M419 1411h0M349 1434h0M357 1426h0M436 1265h0M450 1432h0M433 1417h0M420 1353h0M415 1394h0M363 1388h0M349 1303h0M363 1362h0M360 1426h0M425 1307h0M418 1380h0M306 1362h0M337 1376h0M421 1346h0M412 1259h0M323 1316h0M334 1331h0M381 1425h0M358 1437h0M420 1383h0M411 1354h0M388 1421h0M419 1376h0M347 1417h0M413 1400h0M357 1355h0M406 1431h0M406 1419h0M344 1423h0M358 1424h0M399 1402h0M404 1398h0M337 1328h0M428 1345h0M368 1360h0M335 1405h0M363 1421h0M431 1412h0M387 1435h0M420 1249h0M393 1374h0M306 1124h0M374 1433h0M419 1327h0M352 1410h0M423 1376h0M431 1304h0M403 1431h0M336 1353h0M348 1407h0M364 1370h0M393 1440h0M434 1441h0M348 1229h0M350 1300h0M435 1429h0M438 1436h0M357 1394h0M442 1377h0M436 1179h0M387 1436h0M369 1424h0M428 1432h0M410 1396h0M408 1425h0M365 1387h0M413 1332h0M435 1246h0M539 1369h0M464 1442h0M362 1358h0M387 1430h0M408 1426h0M425 1336h0M339 1379h0M367 1428h0M413 1377h0M434 1312h0M362 1416h0M327 1320h0M343 1421h0M342 1356h0M409 1407h0M421 1385h0M482 1402h0M398 1423h0M411 1329h0M411 1439h0M411 1394h0M396 1425h0M433 1262h0M424 1375h0M364 1364h0M410 1429h0M409 1339h0M411 1348h0M368 1390h0M334 1407h0M442 1296h0M351 1329h0M352 1409h0M422 1436h0M420 1336h0M414 1417h0M409 1399h0M416 1377h0M493 1429h0M394 1428h0M363 1430h0M359 1401h0M413 1388h0M359 1388h0M421 1441h0M437 1284h0M381 1419h0M315 1266h0M416 1282h0M421 1442h0M454 1210h0M465 1112h0M340 1360h0M419 1377h0M522 1341h0M278 1426h0M346 1412h0M326 1391h0M442 1220h0M373 1428h0M280 1390h0M418 1381h0M413 1381h0M347 1383h0M410 1358h0M346 1366h0M431 1395h0M431 1341h0M326 1353h0M365 1437h0M384 1423h0M424 1406h0M316 1427h0M381 1399h0M430 1300h0M362 1362h0M353 1371h0M441 1314h0M391 1426h0M317 1437h0M406 1428h0M438 1413h0M390 1428h0M317 1240h0M415 1398h0M360 1390h0M445 1179h0M425 1371h0M355 1404h0M401 1399h0M344 1359h0M471 1239h0M310 1250h0M419 1396h0M443 1201h0M402 1409h0M330 1299h0M419 1326h0M352 1396h0M451 1388h0M416 1402h0M377 1440h0M382 1439h0M404 1396h0M340 1291h0M351 1413h0M401 1422h0M351 1373h0M346 1416h0M405 1435h0M408 1420h0M368 1381h0M348 1418h0M371 1442h0M350 1436h0M346 1438h0M314 1077h0M320 1158h0M350 1334h0M399 1425h0M406 1361h0M402 1431h0M388 1431h0M341 1323h0M402 1344h0M436 1381h0M485 1436h0M417 1332h0M507 1366h0M392 1418h0M339 1412h0M363 1337h0M349 1422h0M402 1434h0M359 1369h0M322 1264h0M420 1328h0M373 1430h0M350 1424h0M416 1326h0M344 1392h0M401 1353h0M336 1350h0M471 1322h0M335 1334h0M363 1380h0M417 1154h0M314 1415h0M342 1437h0M346 1269h0M372 1438h0M434 1383h0M376 1415h0M362 1435h0M369 1360h0M358 1429h0M337 1361h0M314 1192h0M366 1432h0M413 1392h0M421 1269h0M322 1437h0M335 1299h0M335 1238h0M410 1357h0M328 1436h0M404 1434h0M393 1439h0M342 1332h0M352 1361h0M406 1442h0M276 1392h0M414 1360h0M389 1442h0M322 1233h0M347 1437h0M347 1441h0M446 1247h0M383 1419h0M351 1322h0M367 1382h0M442 1297h0M408 1330h0M374 1371h0M340 1423h0M371 1418h0M433 1295h0M395 1371h0M472 1436h0M407 1300h0M425 1293h0M341 1348h0M386 1384h0M438 1351h0M351 1271h0M425 1425h0M410 1370h0M353 1390h0M350 1440h0M368 1426h0M369 1423h0M350 1392h0M393 1418h0M420 1311h0M388 1441h0M427 1352h0M455 1121h0M404 1405h0M442 1283h0M318 1436h0M360 1422h0M413 1423h0M369 1421h0M396 1159h0M435 1413h0M353 1427h0M416 1367h0M299 1396h0M402 1421h0M381 1434h0M401 1375h0M427 1211h0M372 1409h0M357 1401h0M344 1394h0M345 1304h0M333 1289h0M341 1434h0M352 1328h0M431 1372h0M427 1388h0M400 1420h0M337 1426h0M407 1339h0M420 1341h0M409 1388h0M424 1430h0M346 1367h0M349 1420h0M407 1343h0M322 1305h0M411 1286h0M453 1360h0M334 1402h0M345 1381h0M345 1426h0M334 1432h0M418 1366h0M306 1390h0M415 1429h0M345 1379h0M414 1423h0M443 1272h0M397 1441h0M369 1442h0M332 1385h0M422 1272h0M363 1355h0M345 1376h0M319 1264h0M295 1379h0M354 1380h0M369 1435h0M425 1332h0M398 1381h0M421 1324h0M354 1382h0M324 1294h0M387 1439h0M377 1427h0M410 1297h0M396 1413h0M331 1241h0M350 1417h0M372 1417h0M268 1416h0M360 1382h0M364 1414h0M327 1314h0M346 1338h0M414 1332h0M345 1397h0M419 1399h0M411 1363h0M391 1440h0M359 1415h0M408 1422h0M422 1435h0M463 1375h0M347 1430h0M350 1382h0M412 1438h0M358 1431h0M363 1432h0M335 1339h0M326 1284h0M342 1327h0M420 1327h0M324 1248h0M392 1421h0M372 1430h0M315 1435h0M414 1369h0M339 1304h0M348 1310h0M335 1270h0M360 1389h0M361 1407h0M326 1395h0M440 1389h0M421 1419h0M335 1170h0M333 1172h0M401 1409h0M412 1364h0M405 1388h0M348 1311h0M352 1397h0M403 1369h0M391 1437h0M437 1440h0M328 1318h0M354 1381h0M354 1431h0M352 1388h0M393 1413h0M446 1203h0M351 1344h0M297 1088h0M439 1399h0M409 1401h0M338 1329h0M397 1426h0M394 1417h0M348 1364h0M298 1420h0M367 1410h0M432 1329h0M325 1406h0M360 1373h0M383 1437h0M431 1339h0M395 1434h0M345 1400h0M404 1433h0M410 1433h0M356 1377h0M336 1291h0M378 1417h0M331 1365h0M390 1442h0M365 1431h0M435 1089h0M339 1215h0M335 1338h0M339 1309h0M421 1315h0M437 1346h0M428 1414h0M337 1440h0M354 1373h0M412 1347h0M442 1227h0M368 1421h0M292 1171h0M400 1428h0M318 1422h0M453 1408h0M353 1418h0M404 1419h0M400 1409h0M331 1334h0M368 1412h0M412 1400h0M357 1404h0M443 1100h0M362 1421h0M419 1384h0M397 1427h0M242 1400h0M417 1300h0M418 1379h0M326 1328h0M358 1411h0M328 1419h0M384 1427h0M399 1438h0M366 1400h0M411 1397h0M400 1406h0M420 1421h0M396 1399h0M406 1376h0M368 1417h0M397 1401h0M339 1337h0M345 1441h0M414 1363h0M362 1426h0M348 1353h0M388 1424h0M381 1430h0M455 1279h0M421 1431h0M280 1353h0M403 1403h0M364 1410h0M432 1321h0M336 1418h0M436 1356h0M368 1394h0M398 1421h0M395 1438h0M354 1401h0M340 1340h0M336 1311h0M435 1175h0M420 1393h0M403 1392h0M423 1427h0M333 1342h0M391 1439h0M401 1442h0M317 1349h0M425 1433h0M322 1334h0M331 1435h0M332 1320h0M349 1352h0M468 1427h0M410 1405h0M394 1436h0M407 1388h0M419 1328h0M344 1372h0M421 1372h0M402 1387h0M429 1358h0M423 1301h0M378 1439h0M415 1426h0M359 1409h0M411 1415h0M408 1371h0M305 1154h0M418 1365h0M413 1363h0M420 1260h0M356 1437h0M361 1427h0M432 1328h0M427 1384h0M357 1434h0M396 1378h0M346 1403h0M409 1430h0M366 1420h0M334 1315h0M343 1388h0M346 1419h0M450 1318h0M340 1441h0M453 1386h0M341 1345h0M340 1366h0M392 1420h0M308 1212h0M412 1426h0M420 1351h0M308 1408h0M420 1371h0M410 1421h0M327 1063h0M341 1392h0M400 1352h0M442 1342h0M413 1422h0M348 1371h0M431 1330h0M337 1373h0M351 1376h0M321 1319h0M378 1436h0M340 1174h0M360 1439h0M430 1306h0M322 1399h0M440 1341h0M447 1367h0M428 1266h0M361 1397h0M413 1432h0M368 1425h0M345 1392h0M334 1288h0M411 1364h0M424 1348h0M410 1328h0M437 1344h0M432 1393h0M409 1379h0M426 1391h0M404 1400h0M367 1429h0M402 1355h0M378 1410h0M430 1150h0M374 1431h0M366 1430h0M356 1426h0M360 1438h0M408 1401h0M346 1439h0M330 1357h0M353 1405h0M410 1409h0M361 1408h0M432 1334h0M338 1302h0M352 1386h0M378 1412h0M362 1399h0M399 1399h0M329 1189h0M332 1410h0M362 1415h0M378 1418h0M322 1318h0M441 1153h0M345 1389h0M331 1290h0M424 1307h0M312 1158h0M389 1421h0M390 1433h0M398 1410h0M425 1405h0M420 1319h0M350 1428h0M512 1364h0M338 1351h0M363 1384h0M356 1433h0M346 1375h0M369 1420h0M345 1421h0M349 1411h0M415 1266h0M414 1424h0M348 1349h0M458 1213h0M333 1321h0M427 1253h0M363 1438h0M333 1354h0M348 1396h0M398 1434h0M357 1425h0M386 1420h0M373 1437h0M406 1439h0M354 1440h0M411 1410h0M410 1408h0M433 1366h0M364 1384h0M416 1423h0M345 1366h0M333 1406h0M335 1415h0M370 1434h0M352 1436h0M410 1420h0M348 1360h0M328 1235h0M262 1356h0M343 1435h0M361 1439h0M426 1301h0M444 1295h0M358 1380h0M399 1379h0M403 1389h0M340 1424h0M297 1396h0M408 1369h0M410 1389h0M355 1436h0M359 1441h0M450 1288h0M334 1286h0M421 1228h0M435 1245h0M408 1375h0M370 1442h0M445 1314h0M408 1382h0M363 1419h0M409 1417h0M375 1430h0M489 1441h0M357 1365h0M377 1437h0M494 1428h0M428 1288h0M336 1416h0M415 1413h0M409 1277h0M355 1395h0M404 1415h0M418 1375h0M339 1349h0M333 1255h0M356 1339h0M369 1398h0M375 1439h0M408 1394h0M420 1372h0M444 1396h0M398 1418h0M353 1441h0M340 1371h0M348 1330h0M404 1370h0M423 1415h0M407 1391h0M460 1386h0M415 1395h0M407 1430h0M329 1398h0M342 1336h0M336 1383h0M397 1438h0M373 1439h0M366 1405h0M406 1441h0M419 1275h0M412 1332h0M405 1438h0M395 1424h0M441 1377h0M325 1283h0M411 1436h0M361 1436h0M423 1346h0M405 1343h0M441 1424h0M307 1250h0M331 1346h0M376 1406h0M390 1426h0M363 1367h0M342 1416h0M345 1342h0M390 1406h0M412 1377h0M441 1254h0M319 1349h0M335 1370h0M373 1417h0M355 1382h0M404 1374h0M365 1436h0M422 1384h0M413 1382h0M385 1438h0M316 1289h0M324 1243h0M332 1403h0M395 1420h0M420 1397h0M425 1383h0M396 1418h0M351 1411h0M406 1317h0M325 1325h0M292 1307h0M331 1302h0M371 1409h0M367 1420h0M322 1345h0M417 1372h0M293 1429h0M368 1410h0M442 1195h0M354 1410h0M422 1341h0M439 1289h0M421 1369h0M426 1131h0M404 1393h0M412 1375h0M352 1415h0M365 1418h0M358 1332h0M406 1410h0M415 1382h0M381 1388h0M428 1311h0M427 1297h0M349 1336h0M345 1360h0M397 1405h0M359 1411h0M340 1280h0M436 1146h0M438 1345h0M407 1398h0M391 1392h0M373 1421h0M339 1270h0M408 1331h0M341 1344h0M407 1271h0M412 1354h0M426 1265h0M332 1382h0M342 1294h0M398 1437h0M350 1420h0M349 1424h0M430 1434h0M459 1415h0M340 1389h0M313 1279h0M347 1354h0M360 1411h0M433 1349h0M413 1386h0M346 1192h0M352 1375h0M322 1431h0M410 1432h0M329 1224h0M362 1394h0M347 1377h0M367 1402h0M285 1410h0M273 1414h0M352 1402h0M359 1402h0M333 1248h0M364 1439h0M402 1428h0M318 1348h0M402 1415h0M357 1427h0M336 1336h0M403 1410h0M436 1312h0M334 1237h0M427 1413h0M163 1410h0M418 1421h0M439 1276h0M406 1440h0M369 1394h0M404 1249h0M267 1409h0M342 1350h0M389 1407h0M326 1281h0M358 1436h0M369 1415h0M412 1381h0M388 1435h0M356 1401h0M329 1431h0M374 1436h0M330 1288h0M345 1432h0M386 1440h0M419 1238h0M305 1181h0M404 1394h0M446 1320h0M376 1422h0M362 1381h0M345 1203h0M436 1342h0M426 1434h0M356 1423h0M368 1403h0M316 1273h0M416 1394h0M385 1394h0M359 1391h0M351 1375h0M394 1425h0M280 1437h0M365 1434h0M425 1379h0M371 1398h0M321 1295h0M383 1442h0M418 1383h0M356 1379h0M355 1432h0M363 1423h0M371 1401h0M407 1383h0M367 1394h0M420 1365h0M339 1183h0M335 1403h0M233 1418h0M345 1396h0M393 1426h0M404 1351h0M423 1324h0M363 1409h0M350 1362h0M333 1306h0M418 1310h0M432 1353h0M355 1401h0M411 1179h0M433 1334h0M409 1434h0M353 1382h0M407 1436h0M403 1442h0M357 1377h0M409 1307h0M405 1381h0M268 1435h0M412 1380h0M388 1434h0M355 1427h0M369 1441h0M347 1391h0M438 1239h0M489 1353h0M431 1405h0M332 1283h0M367 1411h0M359 1432h0M393 1430h0M360 1331h0M324 1413h0M355 1348h0M366 1429h0M408 1381h0M403 1401h0M325 1291h0M399 1377h0M452 1156h0M494 1405h0M411 1441h0M365 1376h0M443 1347h0M379 1429h0M340 1323h0M326 1274h0M349 1309h0M320 1407h0M341 1281h0M414 1430h0M292 1431h0M352 1435h0M371 1439h0M344 1295h0M389 1382h0M422 1440h0M350 1328h0M342 1387h0M419 1387h0M413 1344h0M318 1250h0M344 1347h0M409 1432h0M334 1284h0M478 1442h0M394 1408h0M328 1185h0M350 1395h0M334 1301h0M362 1440h0M396 1405h0M465 1348h0M407 1432h0M352 1383h0M365 1392h0M355 1293h0M362 1417h0M432 1280h0M350 1439h0M428 1344h0M416 1385h0M337 1288h0M320 1231h0M397 1409h0M427 1293h0M393 1379h0M423 1293h0M317 1420h0M217 1442h0M421 1308h0M346 1361h0M391 1415h0M415 1416h0M435 1309h0M417 1392h0M449 1197h0M325 1307h0M346 1426h0M337 1307h0M342 1346h0M349 1382h0M433 1285h0M415 1324h0M409 1435h0M430 1144h0M416 1298h0M349 1425h0M424 1294h0M356 1430h0M336 1437h0M356 1407h0M416 1337h0M346 1209h0M294 1426h0M402 1389h0M331 1390h0M318 1272h0M406 1412h0M418 1437h0M425 1365h0M325 1383h0M399 1432h0M521 1369h0M363 1439h0M356 1347h0M357 1417h0M332 1313h0M340 1353h0M293 1193h0M320 1251h0M358 1354h0M421 1411h0M398 1433h0M419 1379h0M346 1425h0M389 1434h0M337 1330h0M367 1398h0M423 1423h0M349 1375h0M412 1435h0M433 1405h0M355 1392h0M358 1365h0M334 1292h0M373 1442h0M422 1260h0M359 1359h0M344 1364h0M443 1352h0M335 1328h0M403 1418h0M400 1405h0M408 1384h0M344 1385h0M332 1433h0M289 1427h0M345 1287h0M408 1246h0M421 1392h0M407 1389h0M346 1357h0M432 1350h0M385 1403h0M453 1272h0M354 1378h0M412 1439h0M381 1439h0M337 1309h0M442 1383h0M388 1398h0M484 1414h0M421 1295h0M413 1396h0M409 1405h0M354 1403h0M412 1419h0M335 1330h0M350 1427h0M433 1169h0M432 1283h0M327 1190h0M455 1382h0M358 1402h0M340 1407h0M350 1329h0M434 1295h0M359 1371h0M325 1255h0M337 1427h0M407 1352h0M390 1404h0M342 1329h0M412 1421h0M430 1250h0M333 1197h0M335 1442h0M329 1211h0M438 1302h0M405 1405h0M279 1410h0M377 1401h0M427 1407h0M347 1348h0M365 1426h0M327 1359h0M419 1372h0M372 1432h0M360 1397h0M373 1438h0M413 1440h0M360 1418h0M347 1345h0M448 1281h0M401 1360h0M350 1434h0M398 1388h0M397 1414h0M322 1254h0M363 1351h0M383 1410h0M321 1284h0M340 1430h0M357 1393h0M432 1275h0M451 1392h0M469 1439h0M413 1439h0M344 1312h0M415 1376h0M434 1242h0M413 1409h0M370 1401h0M343 1359h0M444 1418h0M403 1430h0M363 1428h0M397 1432h0M404 1432h0M417 1292h0M352 1347h0M361 1404h0M352 1423h0M364 1434h0M291 1364h0M355 1369h0M393 1420h0M420 1420h0M359 1348h0M458 1281h0M346 1349h0M412 1333h0M363 1442h0M405 1439h0M355 1406h0M325 1385h0M342 1296h0M363 1387h0M319 1400h0M425 1339h0M386 1409h0M355 1414h0M417 1425h0M389 1432h0M324 1328h0M356 1356h0M405 1434h0M341 1295h0M344 1399h0M346 1278h0M412 1293h0M327 1252h0M354 1424h0M320 1323h0M314 1394h0M293 1390h0M433 1336h0M432 1388h0M347 1438h0M390 1438h0M397 1383h0M341 1411h0M346 1351h0M359 1442h0M403 1374h0M413 1424h0M360 1441h0M438 1322h0M410 1380h0M459 1413h0M355 1437h0M370 1422h0M360 1429h0M359 1424h0M378 1438h0M486 1362h0M336 1429h0M447 1227h0M344 1367h0M456 1250h0M343 1326h0M424 1248h0M324 1339h0M407 1408h0M333 1299h0M431 1204h0M438 1254h0M346 1405h0M349 1353h0M340 1357h0M361 1337h0M417 1362h0M424 1402h0M427 1363h0M332 1400h0M409 1374h0M400 1354h0M423 1366h0M319 1301h0M364 1404h0M372 1410h0M326 1316h0M432 1401h0M337 1398h0M349 1401h0M404 1439h0M425 1328h0M327 1386h0M385 1439h0M409 1410h0M473 1434h0M345 1346h0M332 1244h0M337 1379h0M314 1241h0M281 1434h0M422 1356h0M355 1438h0M445 1198h0M343 1341h0M515 1407h0M410 1402h0M427 1417h0M442 1199h0M356 1404h0M424 1338h0M369 1341h0M354 1438h0M401 1417h0M342 1438h0M341 1353h0M400 1386h0M413 1430h0M355 1338h0M319 1254h0M397 1398h0M394 1438h0M369 1437h0M329 1405h0M446 1405h0M394 1439h0M428 1254h0M417 1379h0M440 1292h0M470 1375h0M353 1282h0M316 1368h0M352 1390h0M404 1403h0M404 1429h0M400 1388h0M352 1442h0M476 1432h0M381 1441h0M380 1418h0M403 1417h0M418 1295h0M450 1297h0M389 1425h0M428 1386h0M324 1321h0M328 1316h0M333 1388h0M347 1373h0M350 1401h0M415 1402h0M434 1340h0M391 1411h0M429 1289h0M387 1419h0M362 1436h0M342 1391h0M374 1425h0M347 1419h0M424 1318h0M421 1326h0M408 1377h0M492 1438h0M379 1442h0M331 1332h0M352 1393h0M352 1412h0M426 1316h0M415 1393h0M352 1338h0M393 1416h0M465 1140h0M365 1388h0M323 1255h0M320 1306h0M502 1410h0M304 1442h0M338 1437h0M346 1391h0M336 1330h0M417 1399h0M338 1407h0M337 1298h0M346 1282h0M333 1355h0M403 1436h0M367 1403h0M443 1423h0M467 1422h0M397 1384h0M394 1419h0M463 1435h0M400 1436h0M394 1441h0M314 1272h0M423 1287h0M355 1361h0M257 1422h0M346 1364h0M342 1315h0M403 1438h0M446 1428h0M442 1222h0M412 1402h0M332 1383h0M356 1388h0M407 1312h0M350 1379h0M358 1385h0M515 1415h0M405 1428h0M412 1410h0M428 1400h0M416 1427h0M348 1416h0M328 1396h0M411 1377h0M452 1402h0M324 1400h0M416 1390h0M344 1274h0M416 1409h0M364 1436h0M412 1376h0M458 1240h0M341 1355h0M423 1380h0M372 1436h0M333 1267h0M346 1429h0M363 1437h0M395 1432h0M423 1339h0M342 1324h0M455 1328h0M438 1385h0M332 1180h0M462 1149h0M415 1312h0M398 1428h0M350 1396h0M329 1434h0M417 1420h0M359 1427h0M339 1372h0M298 1172h0M343 1342h0M347 1412h0M377 1410h0M359 1406h0M407 1419h0M413 1419h0M386 1399h0M369 1348h0M407 1434h0M337 1259h0M433 1210h0M398 1432h0M345 1419h0M392 1438h0M368 1415h0M378 1416h0M389 1428h0M417 1341h0M343 1321h0M417 1436h0M374 1403h0M332 1334h0M435 1428h0M418 1351h0M455 1278h0M264 1407h0M418 1362h0M423 1437h0M343 1394h0M387 1440h0M448 1078h0M402 1394h0M399 1398h0M415 1397h0M341 1399h0M405 1353h0M420 1300h0M391 1406h0M438 1311h0M368 1402h0M313 1126h0M427 1435h0M424 1301h0M346 1380h0M340 1375h0M391 1423h0M335 1227h0M397 1332h0M425 1413h0M441 1228h0M424 1411h0M393 1436h0M375 1409h0M362 1365h0M346 1326h0M398 1396h0M386 1436h0M401 1384h0M331 1314h0M396 1436h0M320 1165h0M399 1428h0M344 1430h0M390 1401h0M370 1382h0M438 1426h0M368 1392h0M338 1296h0M328 1349h0M411 1361h0M354 1420h0M332 1339h0M349 1365h0M397 1436h0M300 1151h0M339 1438h0M411 1317h0M366 1416h0M360 1419h0M349 1357h0M417 1338h0M436 1387h0M313 1298h0M460 1405h0M414 1435h0M326 1419h0M319 1380h0M331 1385h0M404 1380h0M439 1294h0M497 1437h0M427 1322h0M337 1346h0M418 1376h0M426 1287h0M451 1288h0M325 1331h0M349 1306h0M372 1422h0M408 1308h0M365 1433h0M420 1433h0M368 1362h0M421 1406h0M334 1399h0M366 1390h0M287 1431h0M342 1431h0M337 1332h0M455 1398h0M423 1398h0M330 1403h0M436 1419h0M492 1371h0M413 1326h0M406 1375h0M436 1334h0M405 1404h0M410 1425h0M351 1374h0M396 1412h0M366 1442h0M336 1394h0M410 1400h0M392 1437h0M382 1435h0M362 1407h0M410 1407h0M347 1418h0M404 1423h0M387 1381h0M335 1412h0M313 1439h0M395 1369h0M346 1355h0M416 1396h0M362 1398h0M429 1424h0M312 1326h0M324 1215h0M408 1404h0M415 1401h0M354 1430h0M414 1326h0M384 1438h0M411 1438h0M416 1369h0M513 1424h0M417 1410h0M343 1441h0M372 1400h0M415 1335h0M418 1430h0M333 1335h0M403 1407h0M355 1417h0M331 1238h0M423 1372h0M500 1411h0M447 1382h0M322 1302h0M415 1428h0M434 1325h0M348 1386h0M437 1253h0M371 1359h0M415 1373h0M342 1435h0M414 1350h0M357 1441h0M419 1409h0M384 1431h0M361 1433h0M337 1310h0M431 1317h0M354 1357h0M411 1390h0M415 1388h0M373 1396h0M319 1240h0M430 1310h0M336 1343h0M353 1434h0M329 1339h0M440 1387h0M362 1408h0M400 1422h0M349 1438h0M348 1417h0M382 1440h0M345 1356h0M364 1401h0M258 1392h0M332 1074h0M413 1397h0M438 1268h0M306 1234h0M423 1341h0M385 1413h0M403 1421h0M354 1389h0M338 1424h0M353 1387h0M301 1402h0M450 1354h0M405 1376h0M411 1380h0M385 1435h0M329 1400h0M418 1378h0M426 1328h0M433 1422h0M408 1400h0M374 1383h0M341 1431h0M349 1426h0M394 1432h0M390 1430h0M416 1428h0M417 1369h0M403 1396h0M326 1322h0M407 1404h0M363 1440h0M412 1412h0M326 1318h0M416 1374h0M407 1396h0M356 1417h0M396 1417h0M353 1363h0M341 1372h0M364 1428h0M421 1437h0M351 1366h0M339 1437h0M339 1297h0M419 1353h0M426 1413h0M421 1265h0M433 1369h0M343 1306h0M334 1252h0M430 1342h0M431 1334h0M339 1344h0M332 1330h0M362 1374h0M260 1288h0M362 1424h0M389 1424h0M341 1403h0M340 1305h0M424 1352h0M406 1388h0M417 1394h0M427 1340h0M350 1330h0M366 1419h0M324 1244h0M370 1439h0M427 1424h0M441 1354h0M347 1436h0M372 1405h0M315 1116h0M368 1345h0M346 1397h0M343 1338h0M368 1399h0M415 1437h0M406 1401h0M403 1433h0M411 1409h0M345 1434h0M356 1431h0M423 1403h0M411 1389h0M350 1350h0M431 1418h0M437 1217h0M412 1406h0M410 1383h0M434 1390h0M353 1329h0M421 1388h0M404 1420h0M469 1322h0M416 1395h0M412 1340h0M309 1213h0M393 1381h0M349 1423h0M389 1422h0M403 1439h0M419 1340h0M393 1375h0M444 1233h0M333 1317h0M423 1367h0M372 1424h0M430 1330h0M362 1403h0M415 1392h0M338 1384h0M342 1414h0M325 1288h0M487 1427h0M485 1406h0M353 1360h0M372 1428h0M398 1413h0M328 1221h0M426 1330h0M444 1422h0M405 1420h0M470 1417h0M406 1427h0M434 1271h0M408 1293h0M372 1433h0M338 1419h0M421 1258h0M351 1410h0M424 1432h0M365 1385h0M416 1373h0M362 1434h0M470 1273h0M383 1421h0M399 1437h0M418 1320h0M389 1439h0M404 1366h0M337 1270h0M344 1383h0M333 1442h0M413 1405h0M371 1386h0M415 1442h0M352 1384h0M348 1430h0M353 1311h0M431 1207h0M406 1382h0M346 1345h0M418 1344h0M372 1421h0M404 1340h0M322 1164h0M252 1421h0M443 1321h0M343 1387h0M347 1366h0M385 1410h0M335 1351h0M326 1252h0M391 1379h0M408 1406h0M413 1415h0M450 1433h0M350 1347h0M444 1206h0M554 1382h0M424 1330h0M348 1313h0M352 1416h0M419 1418h0M355 1387h0M503 1378h0M375 1422h0M393 1435h0M404 1373h0M361 1388h0M343 1266h0M337 1127h0M397 1408h0M350 1408h0M446 1257h0M408 1364h0M465 1248h0M385 1440h0M380 1427h0M437 1363h0M385 1417h0M359 1300h0M374 1442h0M404 1335h0M332 1366h0M430 1440h0M438 1300h0M349 1387h0M333 1379h0M427 1375h0M348 1167h0M365 1372h0M341 1301h0M408 1353h0M380 1414h0M352 1380h0M354 1316h0M336 1366h0M397 1410h0M400 1390h0M314 1297h0M418 1391h0M417 1430h0M381 1436h0M346 1327h0M447 1202h0M417 1395h0M569 1437h0M409 1413h0M396 1439h0M414 1323h0M403 1390h0M365 1382h0M426 1407h0M348 1380h0M378 1415h0M379 1440h0M360 1437h0M389 1418h0M340 1265h0M408 1395h0M398 1394h0M254 1329h0M363 1413h0M429 1318h0M435 1256h0M400 1418h0M373 1401h0M427 1346h0M381 1423h0M368 1413h0M366 1439h0M421 1351h0M357 1442h0M347 1370h0M412 1378h0M324 1373h0M364 1400h0M396 1400h0M355 1439h0M313 1243h0M343 1353h0M414 1378h0M401 1438h0M339 1305h0M396 1440h0M395 1401h0M422 1336h0M376 1357h0M364 1388h0M367 1437h0M363 1371h0M416 1388h0M408 1337h0M391 1433h0M398 1399h0M350 1374h0M361 1418h0M310 1355h0M335 1276h0M361 1343h0M309 1442h0M325 1414h0M349 1362h0M329 1380h0M313 1235h0M373 1418h0M397 1382h0M339 1265h0M427 1316h0M420 1394h0M427 1404h0M376 1423h0M429 1311h0M408 1415h0M314 1214h0M349 1418h0M433 1437h0M329 1370h0M424 1304h0M423 1260h0M454 1380h0M364 1412h0M457 1311h0M529 1397h0M438 1361h0M413 1406h0M370 1380h0M323 1399h0M400 1395h0M411 1391h0M317 1274h0M337 1323h0M427 1242h0M344 1361h0M325 1274h0M408 1414h0M327 1269h0M359 1364h0M394 1396h0M410 1390h0M404 1318h0M419 1365h0M327 1364h0M354 1400h0M382 1434h0M456 1225h0M512 1368h0M339 1383h0M410 1413h0M345 1311h0M445 1406h0M423 1316h0M353 1377h0M389 1397h0M407 1415h0M420 1423h0M334 1318h0M340 1417h0M353 1354h0M388 1429h0M347 1424h0M335 1398h0M405 1403h0M352 1411h0M407 1367h0M411 1435h0M399 1436h0M353 1347h0M395 1395h0M343 1265h0M399 1431h0M303 1152h0M330 1437h0M346 1430h0M403 1441h0M418 1433h0M408 1387h0M410 1415h0M426 1245h0M370 1412h0M409 1381h0M338 1330h0M373 1406h0M385 1415h0M387 1385h0M433 1276h0M434 1217h0M332 1343h0M404 1389h0M329 1399h0M348 1393h0M405 1389h0M406 1365h0M344 1293h0M402 1401h0M332 1268h0M355 1413h0M322 1252h0M359 1394h0M321 1265h0M344 1344h0M368 1406h0M481 1405h0M367 1418h0M291 1312h0M339 1330h0M426 1404h0M291 1381h0M377 1436h0M305 1411h0M415 1419h0M424 1417h0M373 1433h0M418 1240h0M356 1403h0M421 1396h0M334 1326h0M343 1378h0M280 1434h0M427 1409h0M435 1389h0M424 1340h0M343 1396h0M374 1363h0M437 1282h0M331 1278h0M357 1363h0M364 1395h0M364 1424h0M360 1326h0M326 1302h0M367 1441h0M403 1404h0M428 1437h0M304 1428h0M396 1395h0M342 1370h0M325 1318h0M359 1436h0M351 1425h0M308 1180h0M400 1431h0M419 1349h0M412 1330h0M410 1401h0M337 1311h0M329 1182h0M366 1426h0M365 1411h0M362 1409h0M545 1269h0M416 1354h0M403 1398h0M363 1417h0M422 1370h0M415 1276h0M404 1435h0M363 1411h0M322 1317h0M353 1435h0M418 1298h0M445 1339h0M322 1246h0M286 1370h0M420 1274h0M362 1406h0M347 1403h0M399 1369h0M304 1209h0M413 1380h0M342 1394h0M352 1406h0M390 1427h0M440 1274h0M367 1421h0M377 1435h0M431 1380h0M392 1424h0M417 1431h0M388 1430h0M351 1360h0M360 1400h0M439 1194h0M363 1375h0M440 1395h0M413 1438h0M335 1440h0M349 1131h0M369 1436h0M348 1437h0M494 1386h0M415 1377h0M329 1374h0M357 1376h0M348 1346h0M392 1431h0M343 1374h0M345 1332h0M367 1395h0M387 1411h0M342 1361h0M421 1291h0M426 1294h0M391 1421h0M364 1418h0M386 1429h0M372 1383h0M432 1346h0M390 1368h0M372 1414h0M401 1426h0M416 1408h0M342 1400h0M310 1416h0M352 1378h0M420 1195h0M398 1380h0M333 1416h0M352 1422h0M379 1437h0M278 1428h0M428 1297h0M398 1383h0M323 1142h0M439 1351h0M414 1335h0M414 1373h0M348 1328h0M427 1327h0M303 1422h0M375 1374h0M443 1307h0M414 1407h0M354 1352h0M352 1408h0M427 1216h0M423 1281h0M330 1277h0M316 1398h0M368 1427h0M445 1175h0M344 1355h0M331 1305h0M378 1441h0M374 1420h0M433 1203h0M408 1435h0M471 1437h0M335 1399h0M354 1442h0M309 1183h0M429 1317h0M420 1354h0M393 1441h0M404 1418h0M324 1286h0M411 1371h0M388 1436h0M360 1377h0M332 1269h0M394 1405h0M418 1406h0M333 1337h0M411 1413h0M403 1310h0M469 1179h0M442 1311h0M314 1212h0M337 1371h0M344 1319h0M407 1414h0M455 1191h0M342 1397h0M396 1373h0M378 1434h0M352 1374h0M351 1390h0M366 1424h0M418 1403h0M259 1388h0M390 1391h0M406 1414h0M421 1373h0M337 1340h0M406 1425h0M346 1381h0M326 1344h0M406 1374h0M347 1388h0M188 1418h0M337 1347h0M377 1426h0M411 1343h0M338 1321h0M417 1422h0M355 1178h0M351 1418h0M330 1220h0M423 1313h0M304 1240h0M417 1328h0M419 1362h0M364 1425h0M476 1372h0M420 1284h0M323 1253h0M400 1385h0M419 1413h0M338 1375h0M416 1312h0M407 1401h0M429 1320h0M463 1143h0M370 1413h0M422 1422h0M429 1265h0M313 1325h0M467 1398h0M369 1428h0M348 1347h0M399 1372h0M361 1354h0M401 1434h0M377 1438h0M413 1238h0M404 1367h0M432 1352h0M407 1429h0M438 1261h0M398 1415h0M394 1431h0M352 1395h0M311 1137h0M357 1388h0M352 1203h0M395 1421h0M345 1377h0M396 1371h0M352 1356h0M355 1393h0M421 1303h0M354 1395h0M415 1352h0M350 1325h0M339 1339h0M358 1388h0M332 1408h0M342 1425h0M398 1382h0M302 1368h0M432 1429h0M316 1349h0M419 1347h0M355 1409h0M405 1422h0M341 1209h0M380 1406h0M336 1281h0M444 1207h0M414 1109h0M438 1168h0M344 1350h0M425 1325h0M340 1313h0M423 1166h0M391 1404h0M308 1266h0M336 1371h0M335 1360h0M417 1333h0M346 1348h0M396 1357h0M337 1238h0M422 1358h0M413 1427h0M302 1348h0M427 1341h0M422 1334h0M440 1436h0M405 1265h0M358 1367h0M326 1262h0M384 1440h0M401 1441h0M433 1323h0M449 1282h0M436 1318h0M336 1323h0M381 1438h0M351 1382h0M431 1261h0M359 1417h0M356 1372h0M401 1408h0M344 1373h0M350 1407h0M437 1422h0M396 1429h0M376 1426h0M470 1379h0M338 1311h0M375 1428h0M413 1360h0M398 1419h0M414 1376h0M353 1386h0M391 1347h0M377 1415h0M324 1282h0M344 1314h0M461 1397h0M388 1393h0M331 1289h0M356 1418h0M417 1421h0M408 1359h0M405 1385h0M408 1405h0M345 1362h0M422 1420h0M352 1405h0M435 1234h0M339 1391h0M415 1436h0M304 1256h0M354 1398h0M418 1414h0M436 1337h0M428 1387h0M313 1295h0M348 1404h0M318 1256h0M418 1416h0M292 1439h0M329 1288h0M391 1420h0M412 1407h0M426 1355h0M356 1360h0M390 1421h0M351 1394h0M266 1295h0M422 1389h0M333 1353h0M412 1388h0M431 1300h0M411 1432h0M401 1411h0M356 1382h0M412 1385h0M367 1376h0M400 1442h0M436 1341h0M338 1342h0M359 1425h0M342 1287h0M361 1430h0M329 1441h0M320 1400h0M349 1392h0M406 1396h0M414 1415h0M387 1423h0M345 1333h0M341 1325h0M344 1402h0M355 1431h0M338 1360h0M402 1370h0M407 1442h0M361 1419h0M361 1390h0M353 1407h0M429 1234h0M429 1330h0M418 1434h0M456 1157h0M416 1376h0M400 1430h0M312 1365h0M442 1272h0M352 1413h0M424 1224h0M518 1428h0M372 1395h0M404 1383h0M335 1422h0M326 1269h0M418 1425h0M451 1224h0M401 1433h0M430 1371h0M421 1404h0M342 1385h0M410 1388h0M353 1383h0M359 1416h0M358 1386h0M312 1217h0M406 1353h0M383 1425h0M415 1339h0M348 1324h0M347 1378h0M349 1437h0M402 1376h0M352 1329h0M437 1204h0M365 1366h0M405 1421h0M507 1432h0M420 1305h0M306 1375h0M337 1364h0M344 1368h0M295 1145h0M381 1432h0M453 1228h0M365 1405h0M510 1436h0M337 1304h0M469 1169h0M452 1292h0M441 1182h0M314 1294h0M343 1344h0M391 1383h0M368 1433h0M340 1322h0M405 1412h0M351 1409h0M400 1424h0M429 1363h0M400 1391h0M342 1381h0M367 1378h0M413 1331h0M443 1295h0M346 1368h0M408 1436h0M326 1314h0M434 1277h0M386 1404h0M392 1412h0M407 1440h0M439 1421h0M441 1394h0M345 1430h0M536 1411h0M339 1321h0M341 1429h0M388 1433h0M403 1426h0M447 1286h0M339 1440h0M340 1367h0M398 1359h0M358 1379h0M424 1261h0M325 1388h0M342 1386h0M320 1189h0M347 1432h0M346 1385h0M449 1234h0M360 1395h0M410 1424h0M365 1422h0M382 1364h0M428 1399h0M304 1179h0M403 1394h0M348 1335h0M390 1403h0M406 1402h0M321 1329h0M344 1424h0M343 1422h0M369 1417h0M430 1270h0M425 1300h0M413 1418h0M422 1368h0M359 1346h0M342 1283h0M441 1440h0M364 1411h0M330 1345h0M420 1323h0M386 1428h0M414 1364h0M423 1340h0M426 1369h0M447 1223h0M346 1435h0M366 1437h0M340 1275h0M426 1321h0M371 1430h0M358 1430h0M416 1404h0M383 1430h0M343 1428h0M422 1351h0M325 1232h0M348 1420h0M346 1363h0M310 1424h0M290 1400h0M408 1385h0M446 1254h0M341 1432h0M360 1353h0M385 1437h0M448 1424h0M343 1418h0M411 1387h0M442 1442h0M452 1391h0M529 1421h0M307 1148h0M352 1334h0M360 1376h0M336 1267h0M360 1413h0M411 1442h0M435 1384h0M435 1423h0M317 1270h0M392 1425h0M324 1295h0M352 1364h0M359 1421h0M369 1433h0M438 1217h0M358 1428h0M456 1402h0M421 1323h0M355 1400h0M443 1184h0M360 1424h0M435 1271h0M351 1440h0M372 1413h0M316 1246h0M399 1417h0M328 1377h0M347 1400h0M280 1336h0M380 1429h0M320 1268h0M428 1389h0M331 1188h0M411 1404h0M334 1316h0M354 1372h0M325 1234h0M402 1405h0M326 1440h0M406 1416h0M328 1279h0M423 1362h0M329 1263h0M408 1442h0M362 1384h0M382 1420h0M419 1314h0M426 1337h0M404 1359h0M399 1427h0M322 1266h0M441 1378h0M419 1434h0M311 1304h0M423 1408h0M342 1428h0M406 1323h0M429 1347h0M322 1379h0M340 1401h0M363 1313h0M530 1431h0M398 1431h0M434 1268h0M398 1401h0M383 1423h0M332 1442h0M405 1401h0M324 1327h0M451 1226h0M384 1428h0M424 1394h0M353 1379h0M363 1381h0M380 1424h0M336 1362h0M332 1372h0M324 1275h0M395 1415h0M403 1406h0M411 1430h0M419 1403h0M489 1307h0M418 1402h0M360 1415h0M370 1373h0M407 1345h0M351 1335h0M442 1420h0M324 1250h0M452 1206h0M427 1281h0M364 1408h0M326 1296h0M424 1410h0M339 1322h0M455 1251h0M404 1437h0M435 1305h0M435 1332h0M468 1096h0M377 1414h0M425 1378h0M419 1431h0M413 1433h0M434 1402h0M455 1252h0M446 1296h0M320 1235h0M325 1269h0M378 1423h0M334 1309h0M356 1432h0M443 1392h0M434 1331h0M342 1415h0M394 1414h0M366 1411h0M308 1179h0M336 1354h0M317 1436h0M341 1394h0M310 1436h0M348 1419h0M392 1423h0M374 1422h0M358 1414h0M349 1327h0M411 1327h0M360 1421h0M326 1319h0M385 1436h0M333 1242h0M324 1281h0M384 1421h0M399 1337h0M409 1408h0M364 1406h0M403 1420h0M416 1393h0M377 1429h0M421 1433h0M328 1408h0M346 1387h0M345 1442h0M293 1419h0M348 1333h0M429 1253h0M346 1359h0M425 1348h0M395 1425h0M351 1318h0M392 1404h0M450 1180h0M373 1419h0M426 1094h0M428 1367h0M431 1361h0M372 1396h0M448 1143h0M357 1379h0M308 1126h0M383 1426h0M305 1331h0M459 1177h0M357 1380h0M327 1272h0M391 1381h0M244 1399h0M320 1322h0M333 1373h0M340 1348h0M411 1393h0M323 1424h0M348 1422h0M334 1268h0M457 1368h0M420 1325h0M344 1318h0M375 1376h0M485 1360h0M357 1412h0M341 1386h0M401 1238h0M416 1434h0M328 1337h0M431 1323h0M325 1350h0M339 1264h0M336 1289h0M393 1409h0M430 1268h0M432 1264h0M410 1277h0M372 1411h0M352 1360h0M510 1439h0M452 1335h0M350 1435h0M430 1324h0M428 1430h0M345 1417h0M469 1334h0M339 1381h0M392 1432h0M344 1382h0M406 1360h0M415 1379h0M346 1350h0M473 1385h0M340 1339h0M383 1431h0M408 1374h0M535 1323h0M422 1374h0M436 1428h0M374 1438h0M332 1307h0M425 1375h0M342 1209h0M411 1417h0M341 1369h0M351 1430h0M459 1256h0M405 1373h0M208 1431h0M305 1339h0M382 1412h0M423 1385h0M346 1319h0M439 1348h0M338 1313h0M364 1437h0M418 1252h0M400 1404h0M363 1441h0M344 1393h0M375 1434h0M443 1439h0M409 1373h0M343 1377h0M389 1435h0M350 1376h0M383 1440h0M436 1281h0M455 1059h0M400 1426h0M299 1433h0M468 1369h0M446 1271h0M423 1386h0M360 1365h0M402 1349h0M401 1359h0M414 1400h0M406 1437h0M412 1369h0M332 1312h0M349 1421h0M350 1365h0M436 1289h0M379 1438h0M326 1308h0M406 1408h0M385 1442h0M440 1284h0M349 1433h0M361 1391h0M276 1437h0M444 1325h0M406 1409h0M410 1416h0M413 1359h0M354 1338h0M445 1241h0M438 1294h0M332 1361h0M421 1314h0M342 1396h0M342 1412h0M445 1299h0M335 1209h0M406 1395h0M415 1427h0M360 1410h0M319 1332h0M425 1298h0M403 1288h0M336 1430h0M443 1427h0M372 1429h0M410 1259h0M438 1420h0M395 1422h0M393 1442h0M334 1343h0M407 1357h0M356 1378h0M334 1438h0M415 1403h0M422 1393h0M342 1337h0M351 1321h0M392 1439h0M403 1428h0M424 1313h0M355 1425h0M397 1416h0M378 1422h0M426 1394h0M276 1397h0M425 1275h0M239 1275h0M316 1193h0M332 1190h0M379 1424h0M282 1348h0M348 1377h0M421 1306h0M347 1435h0M364 1402h0M407 1379h0M400 1439h0M344 1371h0M345 1416h0M348 1439h0M349 1380h0M393 1372h0M408 1439h0M434 1304h0M370 1425h0M333 1332h0M392 1434h0M436 1121h0M337 1355h0M345 1425h0M407 1397h0M369 1429h0M352 1389h0M343 1399h0M351 1403h0M329 1321h0M388 1387h0M377 1418h0M327 1407h0M411 1383h0M431 1398h0M378 1429h0M415 1378h0M347 1310h0M413 1366h0M408 1421h0M328 1326h0M400 1407h0M338 1250h0M197 1427h0M449 1240h0M418 1397h0M446 1073h0M337 1377h0M328 1354h0M366 1438h0M328 1342h0M411 1349h0M367 1404h0M379 1428h0M351 1407h0M352 1418h0M354 1418h0M431 1426h0M364 1440h0M397 1435h0M402 1332h0M388 1423h0M337 1339h0M433 1322h0M409 1420h0M361 1383h0M400 1417h0M342 1433h0M418 1435h0M383 1435h0M365 1441h0M396 1158h0M421 1343h0M373 1399h0M350 1344h0M461 1389h0M328 1321h0M409 1438h0M442 1421h0M414 1399h0M406 1411h0M414 1366h0M428 1350h0M390 1431h0M454 1285h0M410 1375h0M366 1422h0M458 1387h0M353 1389h0M425 1349h0M418 1300h0M337 1282h0M359 1430h0M397 1421h0M403 1383h0M392 1419h0M418 1424h0M314 1400h0M414 1337h0M428 1412h0M349 1376h0M358 1281h0M360 1344h0M342 1408h0M308 1376h0M370 1429h0M394 1383h0M428 1364h0M362 1382h0M441 1227h0M349 1370h0M425 1304h0M355 1402h0M355 1347h0M400 1423h0M210 1376h0M356 1414h0M440 1311h0M437 1298h0M362 1433h0M358 1347h0M360 1432h0M371 1433h0M396 1423h0M351 1282h0M369 1386h0M413 1306h0M332 1340h0M430 1390h0M440 1420h0M424 1328h0M429 1392h0M357 1396h0M319 1434h0M458 1377h0M330 1251h0M437 1414h0M340 1319h0M443 1158h0M443 1237h0M416 1410h0M287 1367h0M426 1377h0M467 1397h0M425 1428h0M409 1380h0M320 1295h0M354 1354h0M383 1441h0M353 1438h0M462 1218h0M436 1095h0M433 1257h0M378 1432h0M449 1135h0M349 1407h0M440 1212h0M309 1365h0M326 1336h0M353 1437h0M344 1280h0M418 1412h0M373 1434h0M323 1322h0M378 1427h0M311 1217h0M415 1408h0M430 1284h0M423 1373h0M433 1354h0M343 1401h0M467 1231h0M363 1426h0M412 1405h0M421 1399h0M337 1354h0M305 1256h0M337 1396h0M355 1403h0M421 1210h0M402 1418h0M333 1234h0M393 1431h0M344 1320h0M336 1415h0M442 1435h0M533 1438h0M412 1300h0M434 1404h0M402 1410h0M337 1320h0M399 1366h0M463 1231h0M452 1439h0M348 1401h0M406 1424h0M425 1439h0M394 1430h0M423 1439h0M398 1409h0M339 1313h0M360 1425h0M346 1441h0M476 1440h0M380 1395h0M422 1403h0M452 1369h0M449 1044h0M405 1418h0M431 1358h0M424 1388h0M375 1415h0M425 1409h0M360 1364h0M406 1432h0M393 1434h0M418 1327h0M400 1394h0M412 1321h0M473 1366h0M424 1310h0M327 1248h0M457 1299h0M331 1337h0M335 1285h0M356 1364h0M371 1390h0M348 1384h0M341 1302h0M427 1400h0M355 1372h0M390 1408h0M413 1309h0M325 1375h0M341 1276h0M404 1441h0M421 1344h0M414 1438h0M442 1395h0M357 1400h0M354 1342h0M360 1428h0M352 1419h0M438 1348h0M347 1413h0M329 1250h0M255 1334h0M407 1431h0M418 1276h0M425 1359h0M414 1367h0M418 1436h0M334 1425h0M362 1390h0M343 1360h0M332 1373h0M367 1433h0M348 1374h0M422 1430h0M365 1435h0M414 1409h0M337 1319h0M371 1423h0M335 1325h0M342 1357h0M401 1398h0M408 1321h0M420 1370h0M409 1375h0M401 1333h0M413 1284h0M393 1399h0M357 1319h0M410 1426h0M404 1311h0M370 1344h0M421 1407h0M433 1309h0M324 1267h0M430 1393h0M414 1404h0M414 1309h0M407 1382h0M329 1310h0M447 1358h0M374 1410h0M401 1332h0M353 1436h0M415 1430h0M363 1393h0M289 1382h0M458 1372h0M449 1379h0M357 1416h0M318 1419h0M421 1365h0M398 1414h0M349 1432h0M427 1387h0M407 1385h0M377 1388h0M414 1349h0M420 1348h0M444 1441h0M441 1238h0M436 1232h0M370 1433h0M407 1390h0M354 1408h0M398 1438h0M427 1325h0M408 1411h0M356 1390h0M407 1423h0M232 1409h0M356 1402h0M339 1364h0M407 1377h0M367 1383h0M350 1422h0M392 1402h0M413 1402h0M365 1417h0M428 1360h0M365 1413h0M340 1398h0M444 1230h0M319 1404h0M347 1278h0M357 1395h0M402 1327h0M328 1357h0M329 1337h0M400 1432h0M402 1413h0M431 1381h0M353 1401h0M413 1375h0M359 1413h0M436 1329h0M411 1431h0M317 1282h0M410 1435h0M422 1343h0M417 1417h0M371 1419h0M441 1326h0M333 1425h0M332 1437h0M363 1383h0M384 1434h0M334 1207h0M411 1419h0M424 1249h0M416 1201h0M361 1410h0M418 1371h0M406 1344h0M409 1378h0M422 1417h0M323 1386h0M389 1401h0M436 1291h0M356 1383h0M328 1225h0M362 1395h0M428 1349h0M344 1328h0M366 1369h0M423 1323h0M414 1374h0M426 1214h0M366 1440h0M373 1432h0M348 1436h0M430 1412h0M334 1359h0M450 1380h0M443 1188h0M347 1433h0M379 1439h0M417 1397h0M324 1415h0M322 1308h0M337 1380h0M344 1414h0M336 1325h0M419 1429h0M438 1341h0M497 1363h0M303 1144h0M423 1429h0M361 1441h0M349 1384h0M416 1399h0M404 1402h0M409 1425h0M399 1439h0M358 1407h0M393 1427h0M397 1366h0M391 1416h0M401 1346h0M430 1289h0M426 1327h0M444 1289h0M412 1305h0M417 1374h0M414 1422h0M338 1435h0M312 1434h0M445 1425h0M391 1390h0M341 1424h0M414 1428h0M370 1378h0M437 1257h0M327 1249h0M423 1183h0M389 1419h0M408 1389h0M324 1287h0M405 1400h0M358 1378h0M345 1338h0M342 1246h0M355 1312h0M418 1426h0M396 1428h0M406 1403h0M432 1425h0M430 1422h0M343 1411h0M403 1387h0M396 1374h0M430 1267h0M360 1360h0M386 1416h0M364 1379h0M329 1442h0M416 1328h0M359 1414h0M371 1421h0M375 1401h0M359 1353h0M391 1442h0M452 1250h0M409 1330h0M448 1392h0M325 1237h0M402 1433h0M358 1404h0M402 1438h0M341 1440h0M426 1428h0M422 1401h0M419 1371h0M277 1442h0M424 1339h0M427 1233h0M406 1422h0M431 1435h0M334 1375h0M387 1438h0M395 1394h0M438 1427h0M419 1441h0M342 1354h0M433 1355h0M301 1312h0M339 1358h0M324 1424h0M336 1312h0M366 1409h0M447 1240h0M351 1436h0M419 1345h0M454 1228h0M426 1273h0M455 1442h0M412 1396h0M376 1431h0M343 1375h0M362 1386h0M360 1403h0M430 1411h0M354 1348h0M357 1419h0M429 1378h0M352 1407h0M337 1327h0M389 1431h0M445 1274h0M409 1389h0M403 1358h0M361 1370h0M424 1274h0M438 1431h0M435 1427h0M402 1395h0M307 1184h0M348 1433h0M411 1365h0M347 1353h0M320 1292h0M342 1236h0M425 1372h0M425 1309h0M378 1435h0M397 1374h0M385 1423h0M359 1438h0M335 1231h0M343 1371h0M336 1282h0M397 1387h0M349 1402h0M369 1409h0M346 1389h0M459 1269h0M334 1332h0M432 1269h0M430 1413h0M308 1382h0M355 1340h0M365 1438h0M439 1271h0M329 1404h0M356 1323h0M406 1372h0M347 1406h0M396 1364h0M348 1338h0M449 1333h0M335 1426h0M341 1377h0M422 1408h0M356 1337h0M349 1393h0M342 1359h0M358 1439h0M346 1390h0M415 1345h0M353 1350h0M389 1399h0M366 1423h0M413 1376h0M428 1392h0M352 1376h0M311 1134h0M434 1214h0M403 1429h0M550 1436h0M380 1430h0M365 1318h0M408 1408h0M338 1305h0M438 1287h0M341 1393h0M382 1413h0M329 1307h0M363 1406h0M411 1424h0M335 1297h0M422 1338h0M339 1324h0M321 1422h0M423 1329h0M406 1433h0M374 1380h0M427 1338h0M345 1387h0M422 1328h0M335 1358h0M419 1415h0M385 1411h0M360 1440h0M333 1381h0M322 1228h0M330 1198h0M346 1316h0M391 1436h0M342 1227h0M424 1373h0M320 1354h0M343 1389h0M318 1260h0M250 1357h0M350 1166h0M403 1347h0M445 1387h0M424 1346h0M416 1435h0M420 1349h0M397 1442h0M339 1404h0M377 1439h0M333 1298h0M433 1319h0M378 1380h0M340 1326h0M391 1389h0M320 1303h0M400 1376h0M417 1412h0M320 1199h0M384 1413h0M428 1362h0M307 1438h0M342 1373h0M304 1369h0M411 1427h0M372 1402h0M503 1403h0M373 1423h0M357 1386h0M370 1424h0M358 1417h0M423 1384h0M448 1289h0M386 1438h0M368 1439h0M413 1414h0M359 1410h0M398 1422h0M391 1396h0M313 1416h0M418 1382h0M456 1260h0M431 1343h0M132 1377h0M343 1358h0M331 1333h0M422 1291h0M430 1264h0M363 1416h0M373 1398h0M422 1255h0M352 1394h0M416 1397h0M429 1348h0M352 1385h0M390 1440h0M422 1386h0M427 1359h0M406 1393h0M412 1434h0M430 1287h0M342 1419h0M398 1377h0M423 1402h0M316 1268h0M340 1303h0M368 1435h0M393 1438h0M337 1401h0M405 1425h0M413 1316h0M345 1282h0M407 1361h0M424 1366h0M409 1404h0M420 1366h0M299 1437h0M423 1352h0M371 1424h0M355 1381h0M340 1270h0M332 1167h0M435 1387h0M357 1399h0M445 1232h0M441 1263h0M316 1237h0M321 1301h0M382 1406h0M441 1300h0M338 1239h0M376 1432h0M545 1334h0M414 1393h0M461 1409h0M437 1437h0M375 1406h0M379 1415h0M350 1373h0M320 1307h0M419 1285h0M418 1408h0M329 1273h0M387 1441h0M439 1181h0M352 1224h0M385 1399h0M355 1441h0M327 1231h0M414 1359h0M394 1384h0M340 1297h0M347 1277h0M327 1305h0M434 1288h0M403 1419h0M426 1392h0M416 1358h0M326 1283h0M458 1152h0M357 1437h0M450 1345h0M372 1373h0M355 1422h0M387 1380h0M314 1413h0M432 1382h0M443 1438h0M328 1322h0M324 1289h0M327 1402h0M449 1190h0M352 1341h0M365 1412h0M410 1374h0M283 1441h0M401 1406h0M439 1114h0M430 1336h0M373 1441h0M384 1441h0M401 1414h0M340 1439h0M418 1373h0M410 1418h0M368 1423h0M427 1411h0M349 1431h0M358 1317h0M366 1396h0M383 1393h0M385 1433h0M408 1399h0M336 1238h0M335 1376h0M330 1435h0M339 1435h0M320 1436h0M457 1273h0M358 1371h0M430 1344h0M401 1432h0M314 1334h0M407 1366h0M342 1308h0M368 1388h0M348 1435h0M411 1411h0M397 1359h0M326 1234h0M385 1338h0M324 994h0M320 1278h0M402 1412h0M317 1266h0M408 1388h0M313 1264h0M432 1294h0M338 1340h0M372 1415h0M363 1368h0M427 1283h0M350 1381h0M334 1282h0M340 1392h0M361 1366h0M333 1407h0M345 1324h0M368 1414h0M505 1357h0M327 1411h0M431 1322h0M359 1351h0M353 1425h0M440 1229h0M398 1426h0M341 1324h0M456 1351h0M390 1441h0M348 1372h0M330 1214h0M336 1367h0M337 1322h0M333 1257h0M350 1358h0M411 1369h0M349 1356h0M438 1358h0M436 1306h0M354 1428h0M397 1397h0M429 1362h0M385 1414h0M323 1254h0M420 1419h0M337 1222h0M379 1431h0M405 1399h0M355 1405h0M397 1386h0M351 1406h0M447 1376h0M343 1346h0M377 1406h0M402 1352h0M369 1440h0M347 1368h0M441 1408h0M432 1239h0M390 1410h0M345 1318h0M415 1332h0M415 1438h0M324 1355h0M366 1425h0M426 1417h0M438 1389h0M414 1426h0M350 1341h0M435 1320h0M331 1431h0M353 1429h0M348 1397h0M382 1417h0M365 1398h0M412 1420h0M348 1243h0M416 1400h0M372 1442h0M300 1195h0M440 1270h0M389 1436h0M386 1432h0M427 1320h0M413 1346h0M368 1409h0M453 1407h0M460 1397h0M355 1424h0M392 1400h0M465 1280h0M367 1436h0M434 1298h0M424 1368h0M434 1212h0M383 1415h0M419 1416h0M339 1223h0M391 1424h0M350 1399h0M460 1238h0M331 1347h0M543 1346h0M524 1402h0M345 1413h0M334 1366h0M332 1434h0M409 1391h0M399 1421h0M426 1414h0M420 1412h0M384 1425h0M428 1380h0M411 1425h0M347 1365h0M345 1374h0M410 1422h0M338 1361h0M361 1416h0M223 1433h0M357 1303h0M464 1422h0M445 1435h0M405 1396h0M410 1368h0M400 1401h0M398 1387h0M354 1329h0M435 1261h0M411 1384h0M416 1380h0M396 1437h0M423 1432h0M386 1441h0M417 1416h0M378 1419h0M404 1417h0M417 1383h0M338 1352h0M353 1395h0M402 1390h0M333 1258h0M400 1377h0M344 1304h0M421 1245h0M355 1398h0M431 1359h0M302 1121h0M367 1346h0M490 1413h0M422 1340h0M378 1400h0M317 1231h0M407 1411h0M345 1398h0M358 1401h0M329 1302h0M398 1407h0M428 1355h0M359 1435h0M404 1431h0M423 1211h0M350 1385h0M329 1184h0M424 1245h0M388 1440h0M397 1360h0M423 1294h0M432 1389h0M412 1427h0M443 1379h0M380 1392h0M393 1432h0M326 1267h0M414 1355h0M321 1333h0M424 1395h0M404 1392h0M409 1415h0M334 1358h0M424 1389h0M392 1413h0M349 1372h0M437 1413h0M426 1393h0M337 1344h0M409 1393h0M399 1442h0M333 1418h0M406 1324h0M348 1434h0M394 1424h0M396 1433h0M407 1365h0M436 1278h0M424 1284h0M431 1349h0M373 1431h0M366 1427h0M356 1396h0M399 1408h0M353 1415h0M362 1405h0M398 1436h0M422 1244h0M418 1431h0M363 1386h0M331 1439h0M417 1347h0M423 1216h0M324 1418h0M420 1245h0M340 1299h0M407 1433h0M352 1417h0M335 1261h0M319 1285h0M339 1442h0M417 1402h0M424 1423h0M341 1389h0M395 1406h0M334 1188h0M410 1419h0M413 1437h0M428 1310h0M397 1434h0M331 1335h0M369 1413h0M398 1442h0M317 1198h0M413 1428h0M380 1439h0M421 1414h0M392 1407h0M328 1347h0M399 1434h0M419 1405h0M438 1175h0M444 1381h0M393 1412h0M347 1337h0M389 1437h0M409 1332h0M353 1404h0M416 1370h0M347 1421h0M422 1352h0M405 1393h0M523 1380h0M365 1428h0M340 1362h0M441 1308h0M433 1246h0M390 1425h0M339 1386h0M387 1416h0M414 1307h0M429 1286h0M439 1430h0M450 1160h0M335 1390h0M334 1349h0M343 1325h0M362 1392h0M427 1402h0M394 1420h0M326 1433h0M377 1402h0M286 1411h0M404 1384h0M391 1428h0M405 1383h0M418 1427h0M340 1343h0M421 1286h0M299 1429h0M316 1169h0M404 1416h0M400 1416h0M351 1398h0M343 1404h0M417 1319h0M331 1328h0M442 1361h0M401 1418h0M450 1295h0M459 1432h0M340 1288h0M278 1355h0M341 1401h0M354 1286h0M396 1403h0M451 1218h0M312 1250h0M421 1281h0M354 1399h0M364 1372h0M413 1343h0M365 1377h0M452 1246h0M344 1389h0M374 1387h0M487 1387h0M424 1424h0M362 1410h0M332 1287h0M471 1153h0M336 1244h0M353 1310h0M422 1369h0M408 1413h0M359 1360h0M409 1394h0M338 1388h0M346 1333h0M425 1397h0M453 1183h0M403 1427h0M415 1384h0M356 1410h0M361 1421h0M411 1418h0M389 1433h0M442 1381h0M322 1120h0M362 1375h0M417 1427h0M405 1395h0M443 1418h0M401 1413h0M397 1373h0M348 1332h0M380 1408h0M418 1332h0M364 1367h0M350 1437h0M392 1427h0M431 1387h0M362 1423h0M441 1260h0M428 1257h0M437 1192h0M390 1419h0M396 1415h0M304 1127h0M376 1427h0M399 1422h0M379 1432h0M417 1414h0M408 1362h0M321 1191h0M426 1382h0M330 1438h0M387 1401h0M332 1413h0M408 1379h0M458 1356h0M341 1367h0M444 1301h0M440 1247h0M324 1291h0M352 1404h0M327 1298h0M375 1442h0M414 1440h0M335 1292h0M353 1365h0M410 1440h0M440 1331h0M417 1435h0M344 1408h0M432 1241h0M327 1294h0M352 1399h0M343 1331h0M326 1288h0M326 1272h0M406 1391h0M446 1404h0M440 1285h0M452 1266h0M403 1400h0M430 1391h0M299 1247h0M312 1441h0M441 1406h0M367 1431h0M455 1116h0M414 1334h0M425 1323h0M397 1417h0M401 1427h0M442 1303h0M395 1442h0M431 1314h0M431 1438h0M351 1419h0M338 1372h0M426 1298h0M433 1317h0M357 1362h0M410 1431h0M408 1437h0M425 1357h0M397 1400h0M407 1373h0M431 1371h0M428 1281h0M328 1313h0M338 1333h0M383 1394h0M385 1431h0M312 1435h0M438 1297h0M407 1368h0M445 1398h0M339 1294h0M322 1328h0M393 1404h0M462 1406h0M361 1435h0M393 1429h0M358 1442h0M349 1331h0M393 1396h0M323 1377h0M410 1403h0M337 1395h0M337 1317h0M353 1385h0M337 1419h0M433 1260h0M340 1272h0M338 1403h0M417 1360h0M335 1362h0M371 1399h0M347 1326h0M326 1270h0M430 1332h0M367 1358h0M348 1361h0M411 1422h0M404 1342h0M423 1405h0M413 1389h0M335 1313h0M576 1383h0M434 1302h0M357 1366h0M403 1435h0M441 1237h0M381 1416h0M429 1400h0M340 1325h0M363 1373h0M351 1347h0M437 1365h0M443 1173h0M349 1377h0M337 1258h0M339 1362h0M423 1389h0M337 1392h0M395 1431h0M405 1356h0M348 1342h0M457 1404h0M351 1370h0M373 1415h0M425 1335h0M336 1315h0M334 1300h0M418 1396h0M420 1289h0M362 1422h0M439 1343h0M341 1303h0M401 1407h0M449 1281h0M425 1370h0M361 1380h0M389 1376h0M345 1347h0M329 1262h0M279 1415h0M424 1311h0M465 1430h0M332 1370h0M332 1328h0M336 1252h0M357 1431h0M312 1306h0M341 1404h0M388 1414h0M408 1407h0M405 1378h0M341 1285h0M463 1185h0M438 1277h0M410 1362h0M418 1409h0M381 1431h0M433 1358h0M428 1417h0M358 1426h0M387 1413h0M350 1403h0M322 1436h0M368 1373h0M342 1417h0M348 1427h0M337 1325h0M409 1392h0M337 1293h0M358 1406h0M345 1399h0M346 1401h0M403 1434h0M366 1399h0M356 1435h0M435 1316h0M328 1380h0M421 1354h0M350 1353h0M381 1442h0M423 1364h0M361 1432h0M429 1338h0M423 1371h0M376 1401h0M382 1432h0M409 1356h0M399 1419h0M406 1398h0M340 1412h0M400 1366h0M272 1440h0M372 1401h0M355 1433h0M372 1420h0M337 1388h0M354 1212h0M357 1343h0M338 1394h0M408 1429h0M373 1416h0M486 1424h0M406 1352h0M412 1382h0M347 1227h0M369 1393h0M397 1439h0M358 1389h0M336 1403h0M435 1355h0M329 1275h0M431 1327h0M383 1429h0M282 1378h0M374 1423h0M366 1307h0M358 1374h0M339 1394h0M326 1397h0M341 1357h0M380 1405h0M404 1386h0M471 1110h0M348 1391h0M342 1420h0M369 1411h0M348 1304h0M337 1291h0M373 1424h0M471 1276h0M405 1437h0M357 1390h0M353 1380h0M409 1442h0M313 1405h0M378 1407h0M329 1277h0M422 1442h0M346 1418h0M415 1362h0M436 1393h0M344 1369h0M353 1356h0M392 1415h0M466 1384h0M353 1394h0M422 1421h0M340 1317h0M354 1436h0M219 1421h0M343 1298h0M428 1291h0M373 1440h0M431 1365h0M408 1368h0M442 1422h0M419 1390h0M431 1256h0M315 1414h0M384 1439h0M470 1415h0M379 1388h0M408 1255h0M434 1233h0M331 1324h0M406 1436h0M335 1293h0M437 1262h0M426 1261h0M405 1398h0M421 1201h0M354 1375h0M345 1355h0M428 1374h0M365 1415h0M367 1413h0M455 1235h0M406 1347h0M323 1376h0M325 1297h0M411 1366h0M368 1441h0M323 1347h0M362 1380h0M458 1437h0M412 1367h0M356 1397h0M360 1404h0M374 1409h0M313 1430h0M346 1356h0M382 1395h0M340 1399h0M289 1370h0M416 1266h0M416 1429h0M423 1438h0M400 1389h0M332 1359h0M393 1422h0M354 1441h0M356 1381h0M429 1386h0M358 1392h0M467 1081h0M457 1130h0M338 1374h0M454 1153h0M397 1390h0M439 1361h0M395 1441h0M419 1338h0M370 1376h0M374 1429h0M412 1425h0M412 1362h0M351 1391h0M414 1257h0M340 1421h0M259 1403h0M333 1346h0M428 1375h0M319 1184h0M369 1419h0M377 1408h0M341 1409h0M346 1379h0M350 1343h0M351 1365h0M349 1413h0M418 1370h0M318 1431h0M338 1401h0M406 1420h0M430 1326h0M415 1229h0M425 1431h0M331 1308h0M338 1337h0M408 1275h0M550 1432h0M340 1217h0M413 1357h0M419 1425h0M402 1439h0M306 1338h0M411 1382h0M440 1334h0M333 1356h0M344 1316h0M436 1258h0M401 1415h0M423 1321h0M418 1410h0M407 1418h0M512 1442h0M367 1440h0M356 1369h0M357 1359h0M412 1392h0M345 1380h0M320 1321h0M307 1199h0M432 1291h0M334 1239h0M456 1227h0M334 1393h0M446 1315h0M420 1388h0M422 1273h0M333 1283h0M471 1367h0M343 1429h0M347 1150h0M405 1406h0M357 1403h0M445 1438h0M342 1344h0M232 1385h0M357 1360h0M312 1376h0M340 1290h0M415 1415h0M364 1407h0M366 1431h0M357 1391h0M338 1293h0M321 1308h0M323 1402h0M420 1185h0M357 1405h0M359 1397h0M371 1422h0M439 1308h0M353 1372h0M363 1366h0M445 1227h0M334 1385h0M399 1373h0M348 1358h0M341 1365h0M418 1374h0M318 1207h0M316 1275h0M339 1407h0M494 1420h0M411 1342h0M346 1298h0M421 1328h0M368 1369h0M354 1388h0M335 1290h0M439 1324h0M406 1423h0M332 1429h0M321 1218h0M352 1379h0M322 1205h0M448 1438h0M418 1405h0M353 1364h0M348 1413h0M323 1313h0M446 1273h0M400 1427h0M396 1431h0M423 1277h0M397 1420h0M350 1409h0M395 1433h0M329 1196h0M366 1436h0M338 1297h0M380 1413h0M445 1213h0M351 1421h0M370 1408h0M362 1420h0M301 1400h0M317 1345h0M632 1291h0M340 1396h0M367 1435h0M424 1440h0M351 1441h0M377 1424h0M343 1305h0M426 1111h0M404 1422h0M382 1392h0M357 1423h0M361 1401h0M430 1358h0M338 1287h0M339 1317h0M358 1384h0M429 1355h0M289 1401h0M399 1375h0M341 1346h0M401 1439h0M349 1349h0M411 1356h0M360 1383h0M427 1290h0M419 1319h0M319 1229h0M437 1415h0M430 1405h0M538 1410h0M448 1434h0M354 1419h0M330 1319h0M420 1309h0M319 1213h0M375 1398h0M422 1434h0M369 1432h0M433 1218h0M349 1330h0M466 1378h0M336 1407h0M337 1148h0M350 1370h0M345 1358h0M417 1310h0M408 1360h0M430 1298h0M419 1211h0M292 1118h0M433 1435h0M415 1315h0M406 1371h0M346 1321h0M361 1438h0M446 1431h0M415 1254h0M402 1374h0M314 1350h0M375 1433h0M392 1426h0M290 1415h0M298 1071h0M342 1380h0M339 1384h0M399 1383h0M284 1400h0M396 1434h0M396 1427h0M351 1361h0M269 1402h0M411 1405h0M479 1389h0M390 1393h0M392 1436h0M333 1203h0M408 1391h0M506 1429h0M421 1401h0M336 1404h0M465 1168h0M366 1418h0M428 1331h0M422 1437h0M339 1423h0M345 1411h0M425 1437h0M295 1382h0M338 1434h0M303 1115h0M344 1422h0M401 1421h0M421 1375h0M369 1410h0M413 1321h0M420 1241h0M406 1404h0M354 1413h0M345 1325h0M363 1434h0M337 1397h0M333 1399h0M340 1354h0M356 1420h0M435 1301h0M413 1435h0M333 1279h0M414 1398h0M349 1397h0M524 1291h0M317 1216h0M377 1430h0M387 1410h0M339 1388h0M359 1398h0M424 1427h0M340 1285h0M431 1374h0M333 1408h0M330 1338h0M445 1422h0M406 1407h0M425 1412h0M345 1239h0M341 1314h0M406 1337h0M334 1416h0M423 1349h0M395 1409h0M326 1359h0M431 1368h0M417 1305h0M356 1333h0M403 1424h0M324 1274h0M331 1299h0M295 1364h0M334 1376h0M353 1353h0M347 1389h0M424 1367h0M342 1432h0M262 1288h0M423 1264h0M312 1265h0M343 1339h0M426 1229h0M393 1423h0M436 1283h0M429 1228h0M288 1371h0M401 1436h0M371 1412h0M410 1377h0M288 1354h0M350 1410h0M388 1442h0M318 1343h0M358 1403h0M478 1435h0M323 1242h0M411 1440h0M323 1258h0M402 1432h0M433 1311h0M329 1351h0M403 1402h0M336 1428h0M430 1241h0M358 1396h0M414 1429h0M398 1312h0M371 1408h0M376 1436h0M432 1361h0M379 1426h0M410 1364h0M381 1433h0M333 1440h0M400 1434h0M323 1434h0M323 1436h0M419 1325h0M360 1407h0M402 1441h0M376 1407h0M302 1364h0M428 1363h0M429 1322h0M335 1277h0M424 1442h0M350 1321h0M413 1407h0M346 1413h0M324 1442h0M407 1437h0M386 1397h0M351 1442h0M425 1329h0M360 1408h0M338 1243h0M358 1387h0M427 1285h0M389 1429h0M351 1387h0M417 1389h0M350 1394h0M373 1384h0M422 1395h0M341 1216h0M323 1248h0M401 1361h0M417 1384h0M427 1380h0M438 1122h0M389 1396h0M347 1429h0M372 1426h0M424 1400h0M339 1255h0M373 1425h0M402 1358h0M432 1303h0M300 1258h0M358 1351h0M240 1380h0M379 1381h0M379 1397h0M401 1366h0M442 1407h0M415 1307h0M422 1379h0M300 1140h0M442 1285h0M435 1435h0M345 1354h0M342 1439h0M347 1255h0M392 1406h0M419 1370h0M349 1429h0M321 1334h0M369 1418h0M351 1379h0M395 1413h0M187 1407h0M344 1327h0M432 1428h0M345 1323h0M407 1326h0M370 1388h0M404 1412h0M366 1413h0M588 1442h0M315 1403h0M402 1442h0M441 1335h0M412 1403h0M337 1359h0M351 1323h0M404 1414h0M334 1384h0M462 1236h0M321 1168h0M425 1430h0M422 1324h0M335 1404h0M333 1264h0M330 1390h0M335 1410h0M352 1414h0M409 1409h0M410 1381h0M414 1379h0M347 1340h0M423 1392h0M401 1348h0M423 1360h0M352 1438h0M434 1410h0M407 1416h0M368 1404h0M306 1418h0M444 1196h0M440 1213h0M398 1376h0M425 1390h0M333 1302h0M325 1289h0M345 1382h0M359 1386h0M348 1388h0M431 1331h0M391 1432h0M405 1287h0M417 1391h0M394 1407h0M395 1437h0M375 1440h0M405 1424h0M399 1384h0M313 1378h0M358 1408h0M420 1376h0M341 1384h0M322 1357h0M355 1322h0M416 1426h0M437 1345h0M387 1432h0M364 1420h0M350 1426h0M339 1357h0M353 1412h0M421 1434h0M433 1279h0M424 1333h0M292 1288h0M344 1438h0M329 1353h0M370 1391h0M347 1358h0M342 1392h0M314 1248h0M372 1416h0M425 1143h0M298 1170h0M374 1394h0M388 1438h0M367 1417h0M381 1389h0M342 1379h0M416 1417h0M421 1335h0M357 1436h0M337 1341h0M428 1250h0M332 1345h0M356 1330h0M396 1438h0M402 1330h0M419 1369h0M375 1410h0M421 1302h0M446 1308h0M327 1319h0M404 1250h0M334 1411h0M357 1402h0M411 1421h0M416 1368h0M333 1305h0M409 1369h0M325 1276h0M359 1403h0M427 1165h0M371 1411h0M346 1437h0M304 1143h0M363 1425h0M411 1392h0M364 1442h0M355 1411h0M415 1404h0M315 1218h0M340 1405h0M406 1256h0M425 1338h0M339 1353h0M353 1330h0M426 1411h0M498 1341h0M337 1374h0M287 1438h0M449 1421h0M358 1425h0M425 1318h0M372 1423h0M372 1440h0M420 1436h0M424 1387h0M414 1436h0M357 1383h0M347 1384h0M286 1337h0M380 1440h0M439 1264h0M338 1294h0M440 1143h0M345 1373h0M343 1287h0M540 1434h0M406 1392h0M350 1352h0M346 1294h0M396 1432h0M450 1391h0M405 1387h0M315 1206h0M441 1413h0M429 1350h0M423 1424h0M410 1385h0M434 1200h0M311 1342h0M333 1410h0M327 1339h0M424 1314h0M413 1338h0M422 1424h0M337 1342h0M367 1380h0M328 1426h0M427 1301h0M435 1411h0M325 1280h0M410 1379h0M442 1176h0M445 1306h0M359 1358h0M468 1132h0M352 1286h0M435 1232h0M408 1217h0M418 1199h0M426 1336h0M335 1435h0M444 1304h0M359 1375h0M292 1237h0M342 1257h0M417 1424h0M401 1339h0M400 1397h0M419 1388h0M350 1393h0M411 1305h0M389 1440h0M340 1406h0M409 1427h0M609 1313h0M343 1412h0M329 1290h0M382 1430h0M399 1317h0M337 1318h0M416 1418h0M354 1308h0M355 1329h0M426 1422h0M346 1434h0M413 1374h0M399 1401h0M352 1420h0M334 1344h0M293 1140h0M451 1343h0M429 1423h0M431 1275h0M352 1357h0M506 1416h0M424 1415h0M349 1419h0M427 1393h0M361 1424h0M457 1305h0M277 1420h0M411 1213h0M431 1401h0M412 1391h0M330 1354h0M340 1440h0M463 1316h0M330 1382h0M340 1347h0M341 1383h0M237 1436h0M327 1346h0M339 1252h0M365 1397h0M356 1398h0M342 1348h0M261 1432h0M446 1134h0M403 1381h0M593 1367h0M346 1354h0M500 1371h0M382 1438h0M442 1439h0M326 1313h0M411 1412h0M411 1375h0M334 1423h0M353 1440h0M354 1393h0M318 1323h0M411 1300h0M413 1372h0M457 1223h0M358 1364h0M429 1305h0M357 1439h0M363 1422h0M356 1352h0M403 1366h0M407 1424h0M399 1415h0M436 1344h0M351 1427h0M399 1430h0M406 1339h0M418 1352h0M335 1344h0M354 1361h0M426 1395h0M358 1435h0M453 1422h0M350 1388h0M344 1356h0M439 1293h0M397 1415h0M435 1341h0M360 1379h0M428 1378h0M365 1432h0M361 1403h0M355 1353h0M336 1326h0M412 1341h0M448 1386h0M336 1271h0M327 1335h0M437 1304h0M360 1417h0M336 1370h0M431 1430h0M326 1393h0M324 1308h0M414 1358h0M436 1349h0M309 1239h0M438 1248h0M330 1273h0M433 1432h0M332 1304h0M420 1334h0M343 1434h0M356 1373h0M385 1427h0M434 1237h0M370 1404h0M441 1338h0M335 1322h0M347 1196h0M368 1428h0M336 1397h0M435 1282h0M336 1286h0M408 1334h0M415 1336h0M362 1389h0M377 1385h0M334 1441h0M338 1428h0M320 1287h0M397 1402h0M403 1353h0M424 1305h0M323 1277h0M412 1423h0M402 1343h0M342 1383h0M438 1227h0M434 1257h0M341 1376h0M401 1395h0M409 1419h0M346 1423h0M452 1274h0M420 1301h0M359 1385h0M288 1434h0M341 1315h0M364 1409h0M358 1413h0M332 1259h0M397 1419h0M408 1367h0M436 1389h0M456 1216h0M366 1434h0M399 1407h0M413 1373h0M405 1347h0M337 1263h0M423 1343h0M501 1398h0M411 1350h0M340 1308h0M411 1359h0M326 1437h0M429 1274h0M341 1267h0M439 1252h0M345 1340h0M332 1314h0M399 1418h0M327 1290h0M450 1408h0M431 1354h0M292 1420h0M314 1290h0M336 1424h0M389 1423h0M420 1403h0M418 1368h0M380 1441h0M428 1337h0M445 1361h0M339 1331h0M342 1401h0M333 1201h0M402 1407h0M422 1414h0M312 1292h0M402 1375h0M395 1405h0M339 1392h0M426 1191h0M402 1367h0M407 1426h0M458 1358h0M422 1323h0M386 1422h0M448 1167h0M322 1376h0M419 1274h0M343 1437h0M406 1338h0M328 1300h0M398 1440h0M409 1424h0M360 1412h0M421 1421h0M447 1285h0M386 1427h0M335 1425h0M372 1362h0M373 1397h0M339 1320h0M366 1402h0M493 1415h0M428 1347h0M350 1372h0M430 1261h0M349 1364h0M368 1364h0M335 1324h0M336 1304h0M338 1355h0M397 1423h0M408 1397h0M323 1442h0M415 1353h0M360 1409h0M362 1418h0M401 1386h0M310 1194h0M413 1369h0M328 1278h0M387 1397h0M397 1437h0M375 1421h0M425 1391h0M331 1429h0M325 1404h0M331 1406h0M334 1410h0M410 1347h0M338 1383h0M438 1251h0M357 1375h0M427 1357h0M411 1309h0M415 1304h0M347 1423h0M431 1382h0M361 1384h0M344 1296h0M356 1411h0M430 1397h0M449 1171h0M335 1348h0M432 1362h0M437 1436h0M400 1411h0M354 1362h0M430 1279h0M432 1344h0M370 1431h0M502 1433h0M338 1426h0M203 1281h0M333 1360h0M348 1375h0M328 1247h0M351 1345h0M402 1429h0M330 1368h0M328 1286h0M429 1248h0M414 1385h0M324 1253h0M338 1165h0M434 1428h0M401 1394h0M403 1355h0M413 1319h0M342 1266h0M307 1135h0M365 1408h0M346 1307h0M455 1158h0M445 1415h0M326 1299h0M392 1430h0M357 1429h0M423 1350h0M413 1258h0M434 1266h0M333 1312h0M351 1319h0M432 1206h0M413 1401h0M370 1393h0M397 1411h0M350 1433h0M354 1376h0M387 1437h0M325 1200h0M310 1412h0M403 1416h0M347 1382h0M374 1406h0M437 1372h0M294 1428h0M411 1428h0M434 1403h0M379 1414h0M308 1172h0M417 1282h0M451 1384h0M338 1392h0M424 1404h0M394 1415h0M344 1287h0M327 1370h0M421 1393h0M221 1438h0M416 1440h0M469 1257h0M354 1391h0M346 1422h0M430 1315h0M427 1244h0M445 1239h0M323 1284h0M343 1277h0M349 1340h0M298 1346h0M353 1398h0M329 1315h0M333 1419h0M362 1437h0M405 1440h0M416 1276h0M337 1345h0M355 1301h0M358 1335h0M416 1366h0M485 1375h0M332 1303h0M412 1436h0M343 1240h0M430 1392h0M445 1421h0M384 1432h0M328 1295h0M267 1311h0M413 1323h0M396 1409h0M418 1389h0M429 1326h0M387 1428h0M368 1419h0M390 1434h0M420 1356h0M306 1266h0M421 1383h0M318 1221h0M376 1441h0M334 1155h0M433 1331h0M460 1352h0M468 1171h0M323 1293h0M356 1440h0M441 1186h0M340 1302h0M335 1244h0M380 1417h0M349 1398h0M411 1262h0M340 1351h0M455 1093h0M419 1277h0M428 1316h0M428 1282h0M411 1414h0M465 1311h0M316 1287h0M425 1306h0M263 1317h0M390 1417h0M463 1391h0M342 1382h0M334 1154h0M341 1361h0M430 1334h0M447 1331h0M394 1402h0M345 1370h0M464 1440h0M336 1379h0M328 1305h0M409 1362h0M442 1335h0M406 1370h0M412 1404h0M341 1333h0M376 1429h0M357 1438h0M351 1355h0M434 1256h0M346 1370h0M392 1403h0M407 1375h0M353 1340h0M411 1344h0M351 1393h0M347 1397h0M421 1427h0M305 1400h0M342 1404h0M337 1399h0M306 1424h0M366 1428h0M331 1198h0M367 1419h0M347 1442h0M437 1236h0M343 1424h0M433 1389h0M340 1369h0M402 1402h0M336 1148h0M379 1422h0M435 1410h0M348 1383h0M435 1318h0M386 1395h0M336 1441h0M389 1400h0M348 1390h0M437 1258h0M447 1143h0M342 1351h0M411 1379h0M403 1356h0M560 1342h0M334 1265h0M345 1322h0M338 1359h0M417 1440h0M423 1171h0M333 1341h0M379 1441h0M422 1409h0M431 1324h0M476 1300h0M428 1401h0M330 1284h0M402 1371h0M428 1292h0M340 1386h0M329 1340h0M290 1420h0M428 1407h0M356 1325h0M331 1315h0M323 1278h0M330 1297h0M342 1372h0M343 1390h0M367 1442h0M434 1328h0M333 1135h0M408 1431h0M323 1307h0M452 1425h0M473 1424h0M349 1436h0M322 1316h0M316 1320h0M432 1421h0M348 1408h0M317 1380h0M342 1349h0M371 1416h0M352 1437h0M345 1365h0M361 1406h0M311 1119h0M417 1390h0M332 1346h0M417 1315h0M420 1442h0M485 1414h0M335 1291h0M423 1300h0M434 1322h0M337 1294h0M395 1423h0M381 1411h0M418 1419h0M409 1371h0M339 1348h0M415 1406h0M398 1411h0M358 1369h0M340 1364h0M324 1420h0M419 1381h0M392 1440h0M318 1174h0M368 1377h0M438 1395h0M430 1428h0M417 1318h0M414 1357h0M427 1399h0M280 1377h0M446 1391h0M457 1413h0M394 1442h0M319 1379h0M510 1403h0M412 1431h0M328 1330h0M470 1414h0M405 1370h0M354 1374h0M330 1372h0M327 1424h0M332 1231h0M331 1389h0M345 1436h0M371 1441h0M377 1412h0M356 1380h0M410 1223h0M375 1441h0M438 1339h0M429 1272h0M424 1175h0M429 1431h0M338 1326h0M360 1350h0M423 1430h0M335 1375h0M404 1410h0M297 1428h0M335 1431h0M357 1361h0M423 1344h0M441 1288h0M409 1395h0M409 1416h0M338 1315h0M309 1421h0M371 1388h0M347 1371h0M429 1262h0M381 1414h0M356 1438h0M415 1258h0M422 1354h0M319 1333h0M318 1442h0M325 1442h0M352 1398h0M380 1437h0M440 1380h0M410 1404h0M272 1431h0M304 1214h0M406 1418h0M422 1433h0M326 1282h0M336 1408h0M327 1436h0M429 1034h0M339 1276h0M427 1274h0M382 1431h0M433 1377h0M390 1437h0M410 1428h0M288 1440h0M432 1397h0M422 1380h0M427 1304h0M405 1336h0M350 1345h0M395 1397h0M344 1427h0M374 1416h0M406 1417h0M311 1145h0M344 1326h0M432 1373h0M355 1328h0M343 1372h0M324 1311h0M331 1287h0M340 1391h0M445 1429h0M362 1412h0M440 1377h0M429 1334h0M423 1391h0M362 1400h0M347 1293h0M323 1210h0M331 1340h0M430 1426h0M424 1438h0M374 1419h0M349 1366h0M432 1338h0M335 1407h0M414 1339h0M316 1074h0M335 1372h0M412 1358h0M319 1331h0M420 1281h0M380 1438h0M343 1270h0M403 1364h0M435 1237h0M399 1440h0M378 1405h0M346 1223h0M366 1377h0M414 1434h0M335 1219h0M412 1399h0M348 1367h0M387 1433h0M420 1387h0M396 1380h0M423 1407h0M368 1416h0M351 1423h0M393 1398h0M441 1247h0M399 1362h0M440 1288h0M347 1440h0M563 1390h0M425 1330h0M407 1384h0M422 1364h0M424 1250h0M382 1437h0M462 1306h0M487 1397h0M431 1406h0M432 1438h0M409 1431h0M315 1124h0M337 1338h0M313 1223h0M350 1431h0M360 1358h0M345 1357h0M451 1140h0M347 1344h0M265 1352h0M379 1427h0M387 1383h0M397 1381h0M438 1367h0M339 1332h0M348 1365h0M474 1418h0M301 1428h0M449 1254h0M338 1357h0M418 1440h0M389 1391h0M336 1341h0M340 1409h0M348 1299h0M432 1324h0M374 1417h0M394 1404h0M417 1344h0M316 1442h0M354 1392h0M331 1199h0M421 1430h0M413 1212h0M403 1395h0M384 1430h0M349 1339h0M456 1386h0M433 1335h0M312 1416h0M421 1420h0M351 1279h0M397 1380h0M419 1209h0M327 1373h0M330 1343h0M418 1441h0M294 1431h0M431 1306h0M341 1418h0M300 1168h0M434 1224h0M392 1391h0M427 1373h0M370 1417h0M412 1397h0M363 1402h0M436 1430h0M394 1370h0M451 1252h0M412 1383h0M411 1378h0M405 1324h0M423 1342h0M402 1357h0M346 1428h0M365 1393h0M417 1348h0M442 1431h0M316 1346h0M352 1230h0M351 1377h0M441 1266h0M414 1375h0M333 1288h0M429 1436h0M343 1310h0M355 1394h0M403 1384h0M420 1360h0M420 1395h0M328 1333h0M335 1320h0M419 1350h0M345 1350h0M335 1274h0M301 1187h0M363 1414h0M428 1271h0M430 1290h0M403 1379h0M356 1395h0M323 1204h0M335 1352h0M359 1246h0M321 1087h0M317 1378h0M340 1393h0M434 1227h0M367 1424h0M313 1433h0M410 1387h0M351 1384h0M419 1410h0M358 1375h0M343 1229h0M268 1306h0M411 1396h0M447 1248h0M239 1390h0M326 1189h0M344 1419h0M366 1375h0M426 1359h0M436 1145h0M413 1334h0M353 1414h0M399 1429h0M389 1441h0M300 1432h0M415 1360h0M344 1338h0M343 1244h0M427 1382h0M370 1350h0M427 1391h0M425 1436h0M345 1385h0M416 1416h0M403 1368h0M424 1439h0M339 1325h0M430 1347h0M420 1321h0M355 1440h0M430 1237h0M328 1420h0M349 1374h0M308 1429h0M320 1393h0M354 1406h0M415 1434h0M438 1381h0M352 1363h0M350 1315h0M386 1435h0M421 1398h0M369 1396h0M344 1239h0M421 1334h0M401 1264h0M477 1393h0M394 1426h0M447 1372h0M471 1228h0M414 1431h0M330 1376h0M422 1278h0M352 1330h0M437 1276h0M384 1402h0M291 1339h0M410 1414h0M343 1355h0M323 1245h0M411 1357h0M516 1416h0M406 1346h0M417 1429h0M296 1351h0M340 1410h0M333 1282h0M441 1107h0M337 1369h0M424 1299h0M369 1408h0M381 1428h0M438 1368h0M380 1433h0M431 1290h0M422 1366h0M420 1234h0M360 1386h0M341 1371h0M432 1286h0M416 1412h0M426 1303h0M438 1437h0M338 1396h0M449 1279h0M456 1347h0M343 1403h0M443 1133h0M337 1434h0M332 1379h0M429 1413h0M399 1394h0M336 1442h0M352 1433h0M337 1394h0M460 1363h0M331 1374h0M415 1372h0M333 1431h0M410 1430h0M350 1364h0M312 1432h0M406 1379h0M361 1398h0M449 1302h0M340 1403h0M435 1286h0M335 1418h0M350 1363h0M336 1241h0M323 1217h0M370 1351h0M333 1147h0M330 1274h0M347 1374h0M355 1428h0M357 1372h0M440 1439h0M336 1226h0M391 1380h0M430 1302h0M409 1349h0M321 1338h0M396 1396h0M348 1339h0M361 1379h0M405 1384h0M344 1322h0M435 1344h0M387 1408h0M359 1370h0M284 1437h0M428 1284h0M422 1277h0M414 1377h0M384 1436h0M425 1373h0M456 1414h0M338 1344h0M318 1093h0M343 1282h0M416 1356h0M344 1309h0M382 1408h0M304 1158h0M190 1316h0M400 1302h0M320 1405h0M366 1351h0M355 1412h0M329 1384h0M372 1431h0M440 1412h0M417 1354h0M480 1404h0M336 1285h0M339 1286h0M225 1393h0M424 1292h0M359 1320h0M348 1378h0M268 1421h0M313 1303h0M451 1412h0M424 1397h0M349 1394h0M396 1397h0M266 1398h0M416 1398h0M329 1361h0M468 1359h0M615 1418h0M354 1405h0M360 1435h0M352 1441h0M388 1410h0M422 1347h0M398 1209h0M380 1394h0M427 1275h0M336 1310h0M322 1283h0M430 1262h0M457 1405h0M353 1373h0M405 1431h0M347 1405h0M335 1409h0M414 1411h0M331 1417h0M370 1418h0M440 1376h0M339 1218h0M407 1407h0M411 1398h0M423 1431h0M500 1425h0M359 1418h0M424 1428h0M340 1329h0M331 1246h0M363 1379h0M441 1271h0M384 1353h0M415 1435h0M398 1420h0M435 1390h0M326 1354h0M409 1323h0M420 1304h0M415 1370h0M408 1416h0M409 1355h0M336 1283h0M406 1399h0M353 1345h0M324 1347h0M428 1241h0M396 1368h0M424 1421h0M352 1302h0M435 1302h0M403 1359h0M371 1429h0M435 1263h0M339 1439h0M350 1313h0M441 1219h0M366 1414h0M430 1314h0M425 1313h0M352 1432h0M390 1432h0M355 1376h0M300 1426h0M439 1323h0M296 1405h0M445 1416h0M384 1433h0M374 1428h0M401 1373h0M339 1356h0M437 1411h0M456 1418h0M428 1420h0M415 1371h0M336 1434h0M419 1404h0M354 1387h0M524 1386h0M416 1297h0M406 1415h0M415 1287h0M335 1374h0M331 1264h0M338 1420h0M360 1430h0M325 1316h0M337 1360h0M361 1392h0M412 1235h0M349 1381h0M472 1402h0M442 1305h0M427 1255h0M319 1300h0M334 1253h0M322 1178h0M450 1363h0M345 1386h0M321 1238h0M370 1394h0M344 1353h0M319 1270h0M435 1275h0M335 1347h0M365 1423h0M428 1426h0M457 1039h0M418 1308h0M354 1396h0M420 1332h0M339 1283h0M302 1369h0M334 1434h0M350 1351h0M431 1411h0M435 1430h0M422 1411h0M420 1322h0M411 1360h0M348 1423h0M425 1352h0M329 1274h0M340 1336h0M431 1367h0M334 1303h0M341 1347h0M345 1384h0M346 1392h0M320 1319h0M329 1365h0M426 1309h0M347 1381h0M349 1406h0M419 1392h0M384 1410h0M390 1413h0M357 1415h0M379 1405h0M408 1440h0M406 1438h0M415 1420h0M370 1397h0M379 1412h0M375 1412h0M381 1403h0M356 1353h0M409 1233h0M361 1377h0M467 1337h0M338 1378h0M429 1417h0M348 1403h0M454 1222h0M407 1406h0M326 1376h0M347 1367h0M327 1201h0M367 1301h0" stroke="#cccccc" stroke-width="3.5" stroke-linecap="round" fill="none"/>
<path d="M625.6 913.1h0M639.7 915.7h0M688.5 910.8h0M571.1 918.8h0M562.1 922.6h0M591.0 926.6h0M614.5 926.6h0M652.9 932.0h0M682.7 928.7h0M496.6 942.9h0M605.7 940.8h0M672.8 945.0h0M535.4 949.6h0M541.1 956.6h0M637.1 960.3h0M508.2 965.8h0M524.7 965.8h0M513.0 974.8h0M485.5 978.8h0M500.4 978.8h0M608.2 977.1h0M493.9 988.6h0M523.5 988.0h0M563.1 988.0h0M594.2 988.6h0M600.0 987.0h0M507.5 995.4h0M510.3 993.7h0M515.1 993.9h0M544.2 995.6h0M628.8 1005.0h0M661.9 1002.9h0M659.2 1013.4h0M671.8 1010.5h0M492.4 1011.1h0M495.6 1011.1h0M534.4 1012.8h0M504.6 1027.9h0M479.2 1032.1h0M498.7 1045.7h0M579.5 1039.8h0M621.4 1039.4h0M498.7 1045.9h0M540.3 1047.3h0M544.9 1052.2h0M490.8 1057.2h0M489.9 1062.0h0M611.4 1065.6h0M634.0 1065.6h0M529.1 1076.7h0M533.3 1079.2h0M517.0 1083.0h0M484.7 1086.1h0M508.2 1091.4h0M562.3 1095.6h0M517.6 1101.9h0M530.2 1099.8h0M529.6 1104.4h0M540.3 1104.0h0M547.0 1101.9h0M571.7 1102.3h0M665.9 1103.3h0M506.1 1104.6h0M507.7 1110.7h0M491.4 1114.5h0M515.5 1115.1h0M492.0 1121.4h0M515.5 1118.6h0M511.7 1123.5h0M480.9 1124.9h0M487.8 1127.0h0M507.7 1128.5h0M512.4 1129.1h0M516.6 1130.2h0M555.4 1122.4h0M543.2 1132.7h0M490.8 1136.1h0M507.1 1134.8h0M523.5 1135.8h0M526.6 1134.8h0M598.8 1135.8h0M593.1 1140.3h0M617.2 1140.3h0M568.4 1141.1h0M493.5 1145.9h0M486.6 1151.6h0M501.9 1147.0h0M505.4 1143.8h0M514.5 1148.0h0M498.7 1153.3h0M500.8 1155.4h0M510.9 1155.4h0M606.7 1156.8h0M608.2 1156.8h0M598.8 1160.0h0M481.9 1161.6h0M514.5 1161.2h0M517.6 1163.7h0M528.5 1167.3h0M543.8 1169.4h0M574.2 1173.2h0M507.5 1170.5h0M484.7 1178.0h0M519.3 1176.7h0M518.0 1178.8h0M533.3 1175.3h0M487.8 1185.3h0M496.6 1185.8h0M515.9 1183.0h0M524.3 1183.7h0M549.1 1183.0h0M623.1 1187.2h0M480.9 1191.6h0M484.0 1193.7h0M488.2 1198.8h0M506.7 1198.8h0M608.4 1194.6h0M549.1 1201.1h0M622.0 1202.1h0M488.2 1203.6h0M508.2 1206.7h0M520.7 1208.8h0M523.9 1208.8h0M589.5 1206.7h0M506.7 1212.6h0M521.4 1209.4h0M523.5 1208.8h0M589.5 1206.7h0M486.1 1216.4h0M491.0 1221.8h0M504.6 1222.0h0M503.3 1225.2h0M530.6 1217.8h0M536.9 1215.7h0M550.1 1217.2h0M582.0 1215.7h0M567.5 1219.5h0M529.1 1222.7h0M522.4 1227.3h0M536.5 1227.9h0M540.0 1227.3h0M546.3 1225.6h0M550.1 1225.6h0M590.6 1228.9h0M480.5 1230.0h0M477.8 1233.1h0M476.3 1234.0h0M494.9 1233.1h0M559.8 1233.6h0M532.3 1237.1h0M535.8 1240.3h0M541.1 1236.1h0M543.8 1236.1h0M554.3 1238.4h0M477.1 1246.6h0M482.4 1244.0h0M518.6 1245.1h0M522.4 1243.6h0M526.0 1251.4h0M531.4 1254.1h0M598.8 1251.6h0M507.7 1254.9h0M483.0 1254.9h0M479.8 1257.0h0M478.4 1259.4h0M484.0 1260.2h0M544.2 1259.1h0M545.3 1256.2h0M533.3 1261.2h0M482.6 1265.0h0M508.8 1264.6h0M515.9 1264.6h0M523.3 1264.0h0M245.8 1016.9h0M257.7 1075.8h0M188.6 1093.9h0M170.5 1114.2h0M174.8 1127.2h0M245.4 1137.0h0M232.0 1144.7h0M250.2 1148.5h0M248.9 1153.3h0M207.9 1154.5h0M256.6 1165.7h0M270.1 1164.5h0M266.4 1169.4h0M267.0 1180.6h0M276.8 1185.7h0M246.8 1184.4h0M246.8 1194.2h0M270.9 1191.6h0M282.1 1195.9h0M251.1 1201.6h0M250.6 1208.0h0M267.5 1208.1h0M280.2 1210.5h0M227.3 1222.8h0M242.0 1221.1h0M250.2 1221.1h0M266.4 1220.9h0M277.3 1224.8h0M263.2 1234.7h0M280.2 1236.9h0M189.4 1236.4h0M247.7 1242.9h0M267.0 1243.3h0M279.4 1243.8h0M272.5 1250.3h0M249.4 1252.8h0M251.1 1263.6h0M269.9 1264.1h0M276.1 1264.5h0" stroke="#1c1c78" stroke-width="4" stroke-linecap="round" fill="none"/>
<circle cx="537.5" cy="922.0" r="2.9" fill="#ee1c1c"/>
<circle cx="573.2" cy="917.1" r="2.9" fill="#ee1c1c"/>
<circle cx="568.6" cy="923.6" r="2.9" fill="#ee1c1c"/>
<circle cx="540.3" cy="931.8" r="2.9" fill="#ee1c1c"/>
<circle cx="566.5" cy="945.6" r="2.9" fill="#ee1c1c"/>
<circle cx="548.6" cy="953.0" r="2.9" fill="#ee1c1c"/>
<circle cx="615.1" cy="968.5" r="2.9" fill="#ee1c1c"/>
<circle cx="630.4" cy="911.5" r="2.9" fill="#ee1c1c"/>
<circle cx="667.6" cy="911.5" r="2.9" fill="#ee1c1c"/>
<circle cx="664.8" cy="972.9" r="2.9" fill="#ee1c1c"/>
<circle cx="586.8" cy="994.3" r="2.9" fill="#ee1c1c"/>
<circle cx="541.7" cy="1049.4" r="2.9" fill="#ee1c1c"/>
<circle cx="529.6" cy="1061.0" r="2.9" fill="#ee1c1c"/>
<circle cx="524.3" cy="1152.2" r="2.9" fill="#ee1c1c"/>
<circle cx="499.8" cy="1168.6" r="2.9" fill="#ee1c1c"/>
<circle cx="552.8" cy="1169.4" r="2.9" fill="#ee1c1c"/>
<circle cx="602.5" cy="1179.9" r="2.9" fill="#ee1c1c"/>
<circle cx="532.3" cy="1187.2" r="2.9" fill="#ee1c1c"/>
<circle cx="461.4" cy="1217.2" r="2.9" fill="#ee1c1c"/>
<circle cx="506.7" cy="1284.3" r="2.9" fill="#ee1c1c"/>
<circle cx="237.3" cy="1089.2" r="2.9" fill="#1e8c32"/>
<circle cx="287.6" cy="1100.4" r="2.9" fill="#1e8c32"/>
<circle cx="288.0" cy="1124.4" r="2.9" fill="#1e8c32"/>
<circle cx="259.7" cy="1160.6" r="2.9" fill="#1e8c32"/>
<circle cx="246.3" cy="1161.4" r="2.9" fill="#1e8c32"/>
<circle cx="284.7" cy="1229.2" r="2.9" fill="#1e8c32"/>
<circle cx="257.5" cy="1240.0" r="2.9" fill="#1e8c32"/>
<line x1="566.5" y1="945.6" x2="580.9" y2="953.4" stroke="#ee1c1c" stroke-width="1.5" />
<line x1="548.6" y1="953.0" x2="549.7" y2="968.1" stroke="#ee1c1c" stroke-width="1.5" />
<line x1="615.1" y1="968.5" x2="627.1" y2="950.7" stroke="#ee1c1c" stroke-width="1.5" />
<line x1="532.3" y1="1187.2" x2="552.2" y2="1194.2" stroke="#ee1c1c" stroke-width="1.5" />
<line x1="259.7" y1="1160.6" x2="266.4" y2="1143.9" stroke="#1e8c32" stroke-width="1.5" />
<line x1="257.5" y1="1240.0" x2="245.4" y2="1252.4" stroke="#1e8c32" stroke-width="1.5" />
<text x="514.5" y="914.0" font-size="13.4" fill="#ee1c1c" textLength="36.2" lengthAdjust="spacingAndGlyphs">MEN1</text>
<text x="562.5" y="909.5" font-size="13.4" fill="#ee1c1c" textLength="46.5" lengthAdjust="spacingAndGlyphs">CCNA2</text>
<text x="540.7" y="940.8" font-size="13.4" fill="#ee1c1c" textLength="31.4" lengthAdjust="spacingAndGlyphs">E2F8</text>
<text x="493.5" y="935.6" font-size="13.4" fill="#ee1c1c" textLength="33.5" lengthAdjust="spacingAndGlyphs">DET1</text>
<text x="584.3" y="959.3" font-size="13.4" fill="#ee1c1c" textLength="32.9" lengthAdjust="spacingAndGlyphs">UPF1</text>
<text x="523.5" y="980.3" font-size="13.4" fill="#ee1c1c" textLength="53.2" lengthAdjust="spacingAndGlyphs">CHAF1A</text>
<text x="630.4" y="952.4" font-size="13.4" fill="#ee1c1c" textLength="34.4" lengthAdjust="spacingAndGlyphs">UPF2</text>
<text x="622.0" y="903.5" font-size="13.4" fill="#ee1c1c" textLength="44.1" lengthAdjust="spacingAndGlyphs">RBBP4</text>
<text x="639.7" y="925.1" font-size="13.4" fill="#ee1c1c" textLength="35.6" lengthAdjust="spacingAndGlyphs">CDK2</text>
<text x="650.8" y="989.5" font-size="13.4" fill="#ee1c1c" textLength="53.5" lengthAdjust="spacingAndGlyphs">CHAF1B</text>
<text x="555.0" y="1011.1" font-size="13.4" fill="#ee1c1c" textLength="37.0" lengthAdjust="spacingAndGlyphs">WNK1</text>
<text x="527.7" y="1039.8" font-size="13.4" fill="#ee1c1c" textLength="44.0" lengthAdjust="spacingAndGlyphs">CDC23</text>
<text x="479.4" y="1078.8" font-size="13.4" fill="#ee1c1c" textLength="44.9" lengthAdjust="spacingAndGlyphs">CCNE1</text>
<text x="518.6" y="1150.5" font-size="13.4" fill="#ee1c1c" textLength="60.9" lengthAdjust="spacingAndGlyphs">MAP3K19</text>
<text x="468.3" y="1173.2" font-size="13.4" fill="#ee1c1c" textLength="53.5" lengthAdjust="spacingAndGlyphs">CDC25A</text>
<text x="566.3" y="1168.4" font-size="13.4" fill="#ee1c1c" textLength="34.1" lengthAdjust="spacingAndGlyphs">CUL1</text>
<text x="612.4" y="1179.5" font-size="13.4" fill="#ee1c1c" textLength="49.5" lengthAdjust="spacingAndGlyphs">UTP11L</text>
<text x="555.4" y="1198.3" font-size="13.4" fill="#ee1c1c" textLength="44.4" lengthAdjust="spacingAndGlyphs">NRBP1</text>
<text x="464.7" y="1215.7" font-size="13.4" fill="#ee1c1c" textLength="31.9" lengthAdjust="spacingAndGlyphs">TP53</text>
<text x="518.0" y="1286.4" font-size="13.4" fill="#ee1c1c" textLength="38.4" lengthAdjust="spacingAndGlyphs">SMG9</text>
<text x="197.5" y="1081.5" font-size="13.4" fill="#1e8c32" textLength="38.4" lengthAdjust="spacingAndGlyphs">RRM2</text>
<text x="247.1" y="1092.5" font-size="13.4" fill="#1e8c32" textLength="46.9" lengthAdjust="spacingAndGlyphs">SMAD3</text>
<text x="254.0" y="1117.7" font-size="13.4" fill="#1e8c32" textLength="26.7" lengthAdjust="spacingAndGlyphs">ATM</text>
<text x="239.7" y="1141.3" font-size="13.4" fill="#1e8c32" textLength="53.4" lengthAdjust="spacingAndGlyphs">TGFBR2</text>
<text x="194.2" y="1178.0" font-size="13.4" fill="#1e8c32" textLength="43.8" lengthAdjust="spacingAndGlyphs">CHEK1</text>
<text x="230.8" y="1225.4" font-size="13.4" fill="#1e8c32" textLength="46.5" lengthAdjust="spacingAndGlyphs">SMAD2</text>
<text x="187.4" y="1259.8" font-size="13.4" fill="#1e8c32" textLength="54.6" lengthAdjust="spacingAndGlyphs">CLASRP</text>
<rect x="107.9" y="884.3" width="608.1" height="584.5" fill="none" stroke="#333" stroke-width="1.3" />
<path d="M142.8 1468.8V1473.3M262.1 1468.8V1473.3M381.3 1468.8V1473.3M500.6 1468.8V1473.3M619.8 1468.8V1473.3M103.4 1442.5H107.9M103.4 1306.3H107.9M103.4 1170.1H107.9M103.4 1033.9H107.9M103.4 897.7H107.9" stroke="#333" stroke-width="1.3"/>
<text x="142.8" y="1486.8" font-size="13.2" text-anchor="middle" fill="#4d4d4d" >−5.0</text>
<text x="262.1" y="1486.8" font-size="13.2" text-anchor="middle" fill="#4d4d4d" >−2.5</text>
<text x="381.3" y="1486.8" font-size="13.2" text-anchor="middle" fill="#4d4d4d" >0.0</text>
<text x="500.6" y="1486.8" font-size="13.2" text-anchor="middle" fill="#4d4d4d" >2.5</text>
<text x="619.8" y="1486.8" font-size="13.2" text-anchor="middle" fill="#4d4d4d" >5.0</text>
<text x="99.0" y="1447.1" font-size="13.2" text-anchor="end" fill="#4d4d4d" >0</text>
<text x="99.0" y="1310.9" font-size="13.2" text-anchor="end" fill="#4d4d4d" >1</text>
<text x="99.0" y="1174.7" font-size="13.2" text-anchor="end" fill="#4d4d4d" >2</text>
<text x="99.0" y="1038.5" font-size="13.2" text-anchor="end" fill="#4d4d4d" >3</text>
<text x="99.0" y="902.3" font-size="13.2" text-anchor="end" fill="#4d4d4d" >4</text>
<text x="309.2" y="1515.6" font-size="22.5" textLength="274" lengthAdjust="spacing">Log<tspan font-size="14" dy="5">2</tspan><tspan dy="-5">FC (AZD6738/DMSO)</tspan></text>
<text transform="translate(73,1244) rotate(-90)" font-size="23">-Log<tspan font-size="14.3" dy="5">10</tspan><tspan dy="-5"> p-value</tspan></text>
<rect x="788.6" y="884.9" width="456.4" height="88.1" fill="#000" stroke="none" stroke-width="1" />
<text x="871.2" y="936.1" font-size="17.1" font-weight="bold" fill="#fff" text-anchor="middle">Gene</text>
<text x="1027.6" y="915.2" font-size="17.1" font-weight="bold" fill="#fff" text-anchor="middle">Significance</text>
<text x="1027.6" y="934.7" font-size="17.1" font-weight="bold" fill="#fff" text-anchor="middle">-Log<tspan font-size="11.8" dy="3">10</tspan></text>
<text x="1027.6" y="952.6" font-size="17.1" font-weight="bold" fill="#fff" text-anchor="middle">(p-value)</text>
<text x="1172.9" y="915.2" font-size="17.1" font-weight="bold" fill="#fff" text-anchor="middle">Average fold</text>
<text x="1172.9" y="934.7" font-size="17.1" font-weight="bold" fill="#fff" text-anchor="middle">change Log<tspan font-size="11.8" dy="3">2</tspan></text>
<text x="1172.9" y="953.8" font-size="17.1" font-weight="bold" fill="#fff" text-anchor="middle">(AZD/DMSO)</text>
<text x="871.2" y="990.6" font-size="17.3" text-anchor="middle" fill="#000" >CDK2</text>
<text x="1027.6" y="990.6" font-size="17.3" text-anchor="middle" fill="#000" >0.0001</text>
<text x="1172.9" y="990.6" font-size="17.3" text-anchor="middle" fill="#000" >6.0117</text>
<text x="871.2" y="1014.0" font-size="17.3" text-anchor="middle" fill="#000" >CHAF1B</text>
<text x="1027.6" y="1014.0" font-size="17.3" text-anchor="middle" fill="#000" >0.0004</text>
<text x="1172.9" y="1014.0" font-size="17.3" text-anchor="middle" fill="#000" >5.9570</text>
<text x="871.2" y="1037.5" font-size="17.3" text-anchor="middle" fill="#000" >RBBP4</text>
<text x="1027.6" y="1037.5" font-size="17.3" text-anchor="middle" fill="#000" >0.0001</text>
<text x="1172.9" y="1037.5" font-size="17.3" text-anchor="middle" fill="#000" >5.2421</text>
<text x="871.2" y="1060.9" font-size="17.3" text-anchor="middle" fill="#000" >UPF2</text>
<text x="1027.6" y="1060.9" font-size="17.3" text-anchor="middle" fill="#000" >0.0003</text>
<text x="1172.9" y="1060.9" font-size="17.3" text-anchor="middle" fill="#000" >4.9144</text>
<text x="871.2" y="1084.4" font-size="17.3" text-anchor="middle" fill="#000" >UTP11L</text>
<text x="1027.6" y="1084.4" font-size="17.3" text-anchor="middle" fill="#000" >0.0118</text>
<text x="1172.9" y="1084.4" font-size="17.3" text-anchor="middle" fill="#000" >4.6549</text>
<text x="871.2" y="1107.9" font-size="17.3" text-anchor="middle" fill="#000" >WNK1</text>
<text x="1027.6" y="1107.9" font-size="17.3" text-anchor="middle" fill="#000" >0.0005</text>
<text x="1172.9" y="1107.9" font-size="17.3" text-anchor="middle" fill="#000" >4.3191</text>
<text x="871.2" y="1131.3" font-size="17.3" text-anchor="middle" fill="#000" >CCNA2</text>
<text x="1027.6" y="1131.3" font-size="17.3" text-anchor="middle" fill="#000" >0.0001</text>
<text x="1172.9" y="1131.3" font-size="17.3" text-anchor="middle" fill="#000" >4.0330</text>
<text x="871.2" y="1154.8" font-size="17.3" text-anchor="middle" fill="#000" >E2F8</text>
<text x="1027.6" y="1154.8" font-size="17.3" text-anchor="middle" fill="#000" >0.0002</text>
<text x="1172.9" y="1154.8" font-size="17.3" text-anchor="middle" fill="#000" >3.9360</text>
<text x="871.2" y="1178.3" font-size="17.3" text-anchor="middle" fill="#000" >UPF1</text>
<text x="1027.6" y="1178.3" font-size="17.3" text-anchor="middle" fill="#000" >0.0002</text>
<text x="1172.9" y="1178.3" font-size="17.3" text-anchor="middle" fill="#000" >3.8942</text>
<text x="871.2" y="1201.7" font-size="17.3" text-anchor="middle" fill="#000" >CUL1</text>
<text x="1027.6" y="1201.7" font-size="17.3" text-anchor="middle" fill="#000" >0.0098</text>
<text x="1172.9" y="1201.7" font-size="17.3" text-anchor="middle" fill="#000" >3.6071</text>
<text x="871.2" y="1225.2" font-size="17.3" text-anchor="middle" fill="#000" >CHAF1A</text>
<text x="1027.6" y="1225.2" font-size="17.3" text-anchor="middle" fill="#000" >0.0003</text>
<text x="1172.9" y="1225.2" font-size="17.3" text-anchor="middle" fill="#000" >3.5230</text>
<text x="871.2" y="1248.6" font-size="17.3" text-anchor="middle" fill="#000" >CDC23</text>
<text x="1027.6" y="1248.6" font-size="17.3" text-anchor="middle" fill="#000" >0.0013</text>
<text x="1172.9" y="1248.6" font-size="17.3" text-anchor="middle" fill="#000" >3.3731</text>
<text x="871.2" y="1272.1" font-size="17.3" text-anchor="middle" fill="#000" >DET1</text>
<text x="1027.6" y="1272.1" font-size="17.3" text-anchor="middle" fill="#000" >0.0002</text>
<text x="1172.9" y="1272.1" font-size="17.3" text-anchor="middle" fill="#000" >3.3453</text>
<text x="871.2" y="1295.6" font-size="17.3" text-anchor="middle" fill="#000" >MEN1</text>
<text x="1027.6" y="1295.6" font-size="17.3" text-anchor="middle" fill="#000" >0.0001</text>
<text x="1172.9" y="1295.6" font-size="17.3" text-anchor="middle" fill="#000" >3.2889</text>
<text x="871.2" y="1319.0" font-size="17.3" text-anchor="middle" fill="#000" >NRBP1</text>
<text x="1027.6" y="1319.0" font-size="17.3" text-anchor="middle" fill="#000" >0.0133</text>
<text x="1172.9" y="1319.0" font-size="17.3" text-anchor="middle" fill="#000" >3.1805</text>
<text x="871.2" y="1342.5" font-size="17.3" text-anchor="middle" fill="#000" >CCNE1</text>
<text x="1027.6" y="1342.5" font-size="17.3" text-anchor="middle" fill="#000" >0.0016</text>
<text x="1172.9" y="1342.5" font-size="17.3" text-anchor="middle" fill="#000" >3.1173</text>
<text x="871.2" y="1366.0" font-size="17.3" text-anchor="middle" fill="#000" >MAP3K19</text>
<text x="1027.6" y="1366.0" font-size="17.3" text-anchor="middle" fill="#000" >0.0073</text>
<text x="1172.9" y="1366.0" font-size="17.3" text-anchor="middle" fill="#000" >3.0082</text>
<text x="871.2" y="1389.4" font-size="17.3" text-anchor="middle" fill="#000" >…</text>
<text x="871.2" y="1412.9" font-size="17.3" text-anchor="middle" fill="#000" >U2AF2</text>
<text x="1027.6" y="1412.9" font-size="17.3" text-anchor="middle" fill="#000" >0.0039</text>
<text x="1172.9" y="1412.9" font-size="17.3" text-anchor="middle" fill="#000" >2.8225</text>
<text x="871.2" y="1436.3" font-size="17.3" text-anchor="middle" fill="#000" >CLK3</text>
<text x="1027.6" y="1436.3" font-size="17.3" text-anchor="middle" fill="#000" >0.0185</text>
<text x="1172.9" y="1436.3" font-size="17.3" text-anchor="middle" fill="#000" >2.6745</text>
<text x="871.2" y="1459.8" font-size="17.3" text-anchor="middle" fill="#000" >CDC25A</text>
<text x="1027.6" y="1459.8" font-size="17.3" text-anchor="middle" fill="#000" >0.0097</text>
<text x="1172.9" y="1459.8" font-size="17.3" text-anchor="middle" fill="#000" >2.4521</text>
<path d="M788.6 996.5H1245M788.6 1019.9H1245M788.6 1043.4H1245M788.6 1066.8H1245M788.6 1090.3H1245M788.6 1113.8H1245M788.6 1137.2H1245M788.6 1160.7H1245M788.6 1184.2H1245M788.6 1207.6H1245M788.6 1231.1H1245M788.6 1254.5H1245M788.6 1278.0H1245M788.6 1301.5H1245M788.6 1324.9H1245M788.6 1348.4H1245M788.6 1371.9H1245M788.6 1395.3H1245M788.6 1418.8H1245M788.6 1442.2H1245M788.6 1465.7H1245M788.6 973V1465.7M1245 973V1465.7" stroke="#111" stroke-width="1.35" fill="none"/>
<text x="0.1" y="1580.3" font-size="55.5" text-anchor="start" fill="#000" >E</text>
<rect x="911.7" y="1539.0" width="329.6" height="19.4" fill="#c1c1c1" stroke="#2a2a2a" stroke-width="1.1" />
<line x1="899.3" y1="1548.6" x2="911.7" y2="1548.6" stroke="#000" stroke-width="2.6" />
<text x="890.1" y="1555.8" font-size="20.5" text-anchor="end" fill="#000" >Head and Neck Squamous Cell Carcinoma</text>
<rect x="911.7" y="1570.4" width="320.7" height="19.4" fill="#c1c1c1" stroke="#2a2a2a" stroke-width="1.1" />
<line x1="899.3" y1="1580.0" x2="911.7" y2="1580.0" stroke="#000" stroke-width="2.6" />
<text x="890.1" y="1587.2" font-size="20.5" text-anchor="end" fill="#000" >Retinoblastoma Gene in Cancer</text>
<rect x="911.7" y="1601.8" width="320.7" height="19.4" fill="#c1c1c1" stroke="#2a2a2a" stroke-width="1.1" />
<line x1="899.3" y1="1611.4" x2="911.7" y2="1611.4" stroke="#000" stroke-width="2.6" />
<text x="890.1" y="1618.6" font-size="20.5" text-anchor="end" fill="#000" >Cell Cycle</text>
<rect x="911.7" y="1633.5" width="253.9" height="19.4" fill="#c1c1c1" stroke="#2a2a2a" stroke-width="1.1" />
<line x1="899.3" y1="1643.1" x2="911.7" y2="1643.1" stroke="#000" stroke-width="2.6" />
<text x="890.1" y="1650.3" font-size="20.5" text-anchor="end" fill="#000" >PI3K-Akt Signaling Pathway</text>
<rect x="911.7" y="1664.8" width="253.9" height="19.4" fill="#c1c1c1" stroke="#2a2a2a" stroke-width="1.1" />
<line x1="899.3" y1="1674.4" x2="911.7" y2="1674.4" stroke="#000" stroke-width="2.6" />
<text x="890.1" y="1681.6" font-size="20.5" text-anchor="end" fill="#000" >Pancreatic adenocarcinoma pathway</text>
<rect x="911.7" y="1696.5" width="243.0" height="19.4" fill="#c1c1c1" stroke="#2a2a2a" stroke-width="1.1" />
<line x1="899.3" y1="1706.1" x2="911.7" y2="1706.1" stroke="#000" stroke-width="2.6" />
<text x="890.1" y="1713.3" font-size="20.5" text-anchor="end" fill="#000" >ATM Signaling Pathway</text>
<rect x="911.7" y="1727.9" width="243.0" height="19.4" fill="#c1c1c1" stroke="#2a2a2a" stroke-width="1.1" />
<line x1="899.3" y1="1737.5" x2="911.7" y2="1737.5" stroke="#000" stroke-width="2.6" />
<text x="890.1" y="1744.7" font-size="20.5" text-anchor="end" fill="#000" >Small cell lung cancer</text>
<rect x="911.7" y="1759.6" width="243.0" height="19.4" fill="#c1c1c1" stroke="#2a2a2a" stroke-width="1.1" />
<line x1="899.3" y1="1769.2" x2="911.7" y2="1769.2" stroke="#000" stroke-width="2.6" />
<text x="890.1" y="1776.4" font-size="20.5" text-anchor="end" fill="#000" >AMP-activated Protein Kinase (AMPK) Signaling</text>
<rect x="911.7" y="1790.9" width="243.0" height="19.4" fill="#c1c1c1" stroke="#2a2a2a" stroke-width="1.1" />
<line x1="899.3" y1="1800.5" x2="911.7" y2="1800.5" stroke="#000" stroke-width="2.6" />
<text x="890.1" y="1807.7" font-size="20.5" text-anchor="end" fill="#000" >Fibrin Complement Receptor 3 Signaling Pathway</text>
<rect x="911.7" y="1822.5" width="230.7" height="19.4" fill="#c1c1c1" stroke="#2a2a2a" stroke-width="1.1" />
<line x1="899.3" y1="1832.1" x2="911.7" y2="1832.1" stroke="#000" stroke-width="2.6" />
<text x="890.1" y="1839.3" font-size="20.5" text-anchor="end" fill="#000" >Integrated Cancer Pathway</text>
<rect x="911.7" y="1854.2" width="185.7" height="19.4" fill="#c1c1c1" stroke="#2a2a2a" stroke-width="1.1" />
<line x1="899.3" y1="1863.8" x2="911.7" y2="1863.8" stroke="#000" stroke-width="2.6" />
<text x="890.1" y="1871.0" font-size="20.5" text-anchor="end" fill="#000" >Host-pathogen interaction of human corona viruses Interferon induction</text>
<rect x="911.7" y="1885.5" width="179.3" height="19.4" fill="#c1c1c1" stroke="#2a2a2a" stroke-width="1.1" />
<line x1="899.3" y1="1895.1" x2="911.7" y2="1895.1" stroke="#000" stroke-width="2.6" />
<text x="890.1" y="1902.3" font-size="20.5" text-anchor="end" fill="#000" >G1 to S cell cycle control</text>
<rect x="911.7" y="1916.9" width="170.8" height="19.4" fill="#c1c1c1" stroke="#2a2a2a" stroke-width="1.1" />
<line x1="899.3" y1="1926.5" x2="911.7" y2="1926.5" stroke="#000" stroke-width="2.6" />
<text x="890.1" y="1933.7" font-size="20.5" text-anchor="end" fill="#000" >DNA Damage Response</text>
<rect x="911.7" y="1948.6" width="170.8" height="19.4" fill="#c1c1c1" stroke="#2a2a2a" stroke-width="1.1" />
<line x1="899.3" y1="1958.2" x2="911.7" y2="1958.2" stroke="#000" stroke-width="2.6" />
<text x="890.1" y="1965.4" font-size="20.5" text-anchor="end" fill="#000" >Type I Interferon Induction and Signaling During SARS-CoV-2 Infection</text>
<rect x="911.7" y="1979.9" width="169.7" height="19.4" fill="#c1c1c1" stroke="#2a2a2a" stroke-width="1.1" />
<line x1="899.3" y1="1989.5" x2="911.7" y2="1989.5" stroke="#000" stroke-width="2.6" />
<text x="890.1" y="1996.7" font-size="20.5" text-anchor="end" fill="#000" >PDGF Pathway</text>
<rect x="911.7" y="2011.6" width="168.3" height="19.4" fill="#c1c1c1" stroke="#2a2a2a" stroke-width="1.1" />
<line x1="899.3" y1="2021.2" x2="911.7" y2="2021.2" stroke="#000" stroke-width="2.6" />
<text x="890.1" y="2028.4" font-size="20.5" text-anchor="end" fill="#000" >Integrated Breast Cancer Pathway</text>
<line x1="911.7" y1="1527.5" x2="911.7" y2="2043.2" stroke="#000" stroke-width="2.7" />
<line x1="910.4" y1="2042.0" x2="1332.0" y2="2042.0" stroke="#000" stroke-width="2.6" />
<line x1="911.7" y1="2042.0" x2="911.7" y2="2052.5" stroke="#000" stroke-width="2.6" />
<text x="911.7" y="2071.6" font-size="16.4" text-anchor="middle" fill="#000" font-weight="bold" >0</text>
<line x1="995.8" y1="2042.0" x2="995.8" y2="2052.5" stroke="#000" stroke-width="2.6" />
<text x="995.8" y="2071.6" font-size="16.4" text-anchor="middle" fill="#000" font-weight="bold" >1</text>
<line x1="1079.8" y1="2042.0" x2="1079.8" y2="2052.5" stroke="#000" stroke-width="2.6" />
<text x="1079.8" y="2071.6" font-size="16.4" text-anchor="middle" fill="#000" font-weight="bold" >2</text>
<line x1="1163.8" y1="2042.0" x2="1163.8" y2="2052.5" stroke="#000" stroke-width="2.6" />
<text x="1163.8" y="2071.6" font-size="16.4" text-anchor="middle" fill="#000" font-weight="bold" >3</text>
<line x1="1247.9" y1="2042.0" x2="1247.9" y2="2052.5" stroke="#000" stroke-width="2.6" />
<text x="1247.9" y="2071.6" font-size="16.4" text-anchor="middle" fill="#000" font-weight="bold" >4</text>
<line x1="1331.6" y1="2042.0" x2="1331.6" y2="2052.5" stroke="#000" stroke-width="2.6" />
<text x="1331.6" y="2071.6" font-size="16.4" text-anchor="middle" fill="#000" font-weight="bold" >5</text>
<text x="1052.8" y="2091.4" font-size="21.6" textLength="148" lengthAdjust="spacing">-Log<tspan font-size="15" dy="5.5">10</tspan><tspan dy="-5.5">(p-value)</tspan></text>
</svg></body></html>
